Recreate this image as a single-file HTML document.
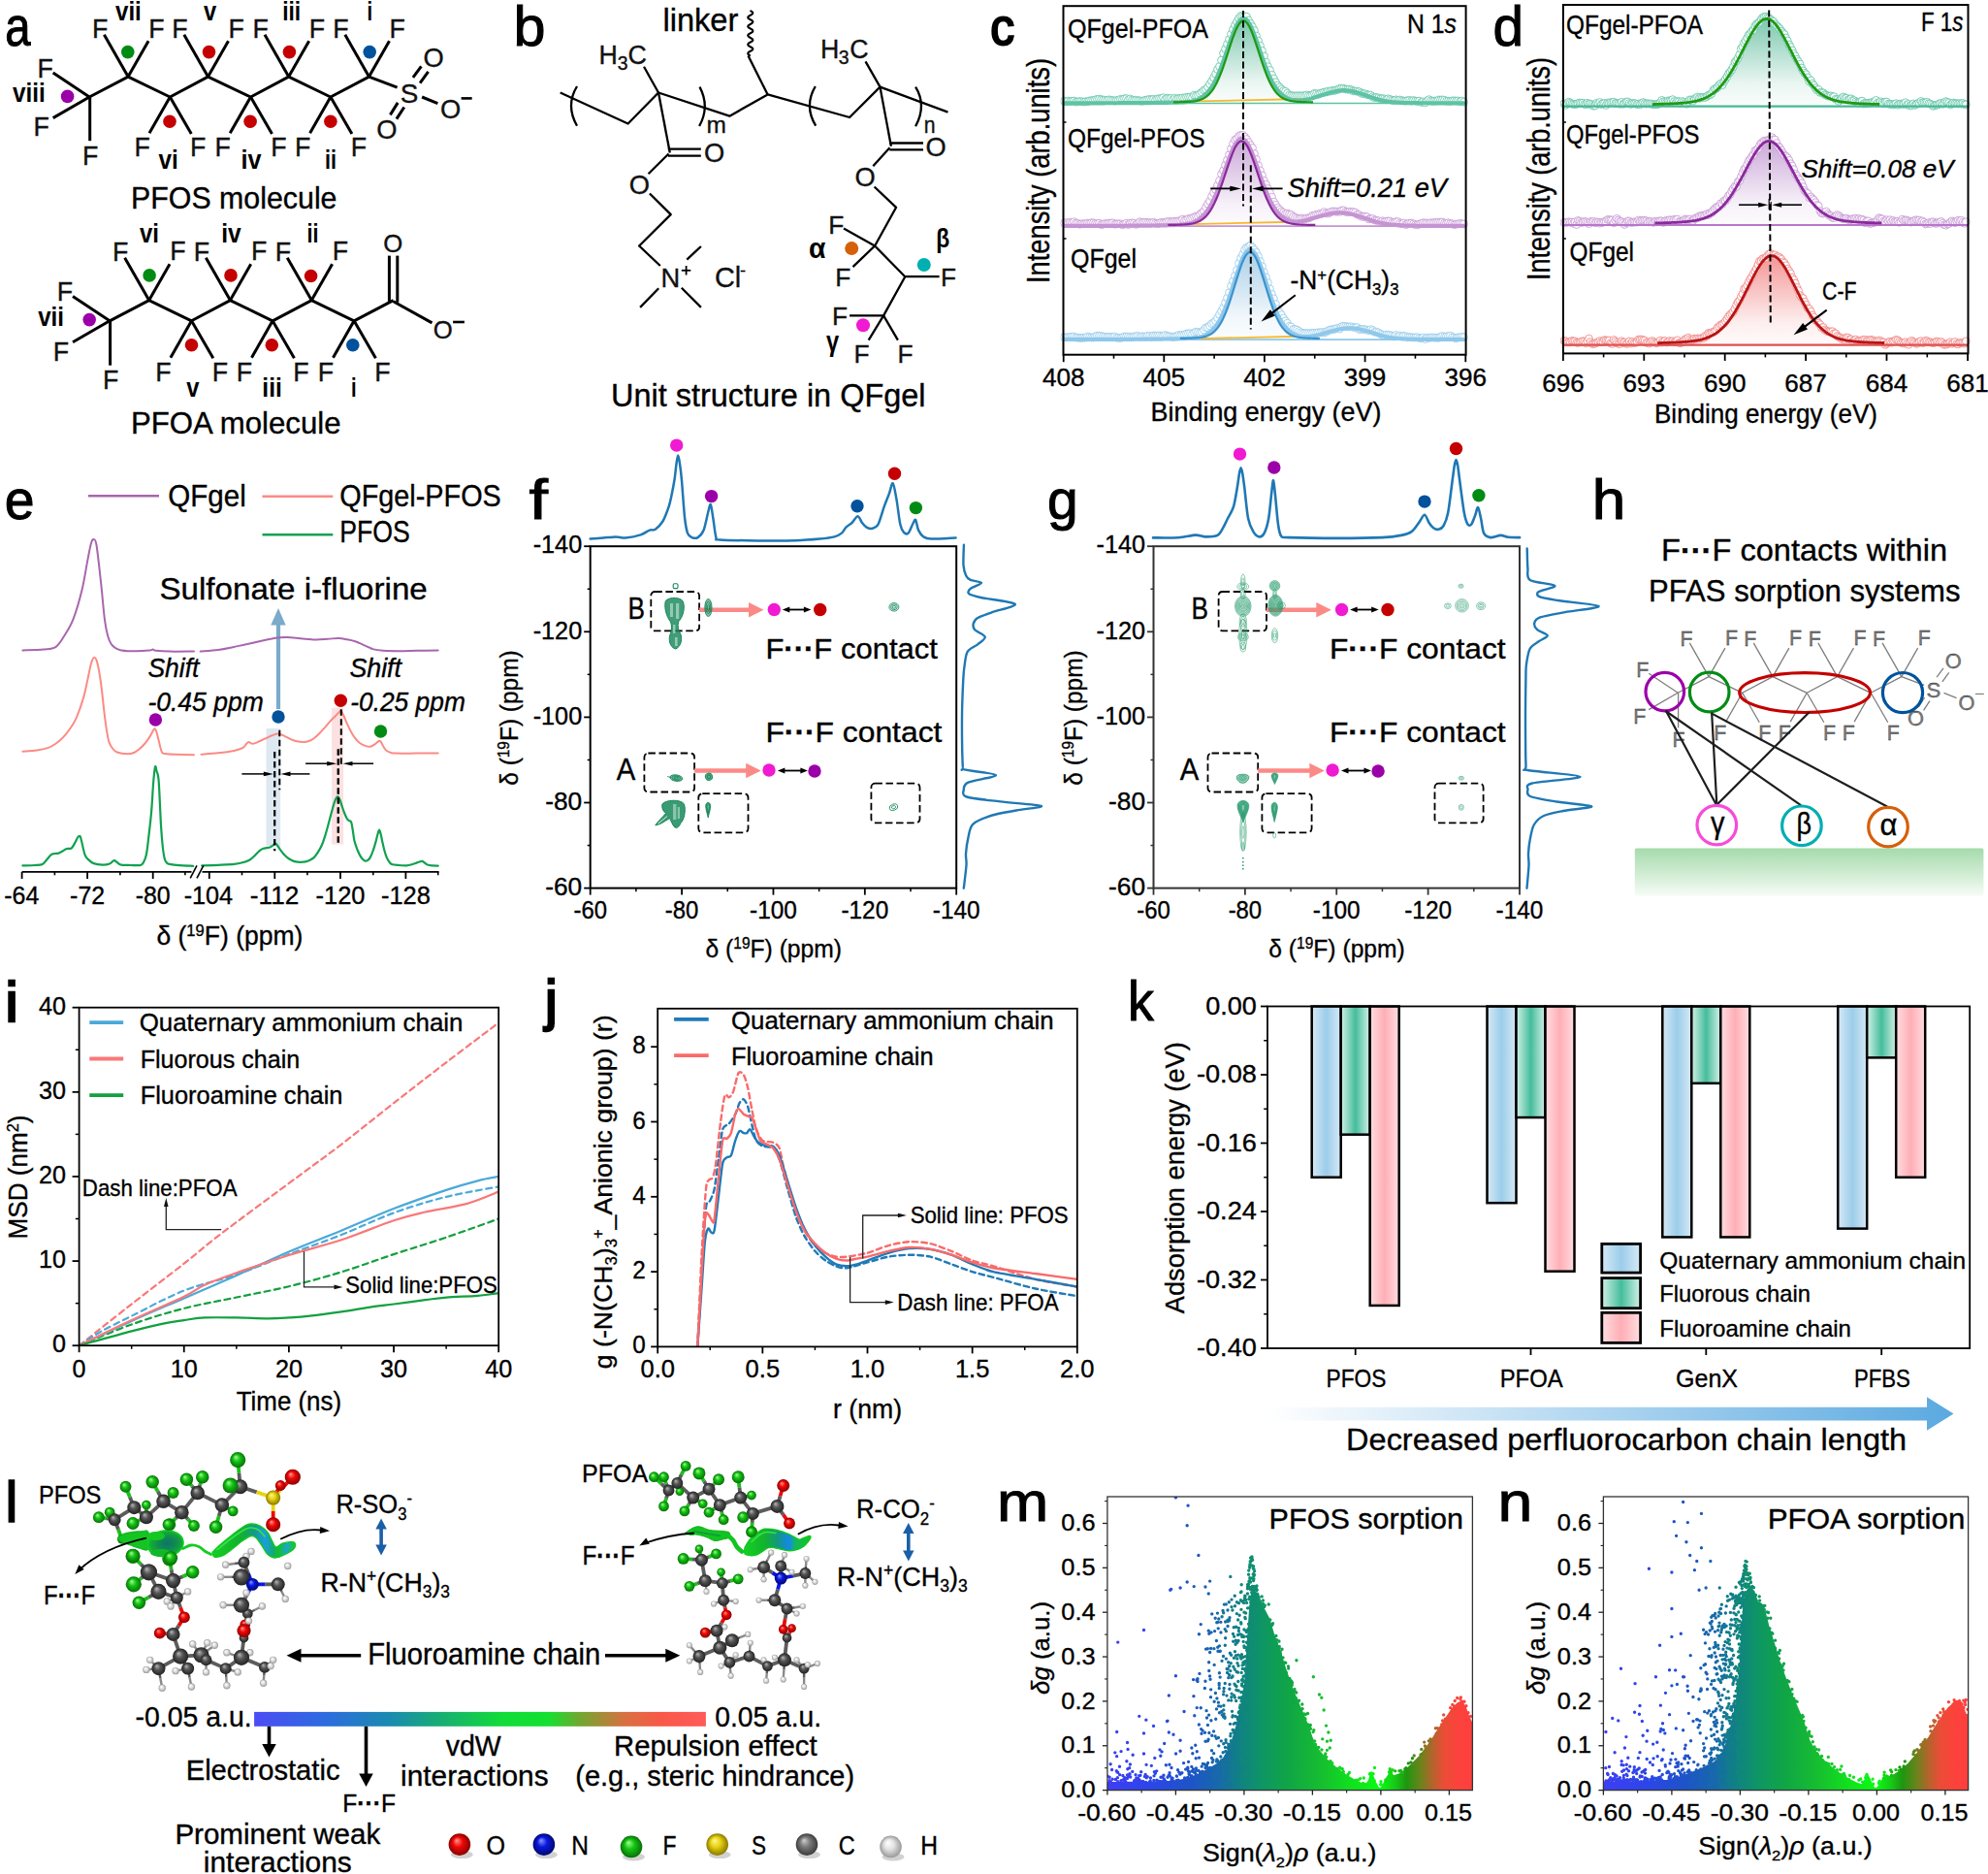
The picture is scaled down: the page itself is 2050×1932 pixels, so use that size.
<!DOCTYPE html>
<html lang="en"><head><meta charset="utf-8"><title>Figure</title>
<style>
html,body{margin:0;padding:0;background:#fff;}
body{width:2050px;height:1932px;overflow:hidden;}
svg{display:block;font-family:'Liberation Sans',sans-serif;}
</style></head><body>
<svg width="2050" height="1932" viewBox="0 0 2050 1932">
<defs>
<linearGradient id="cg0" x1="0" y1="0" x2="0" y2="1"><stop offset="0" stop-color="#4fb592" stop-opacity="0.75"/><stop offset="0.75" stop-color="#4fb592" stop-opacity="0.12"/><stop offset="1" stop-color="#4fb592" stop-opacity="0.03"/></linearGradient>
<marker id="cm0" markerWidth="10" markerHeight="10" refX="5" refY="5" markerUnits="userSpaceOnUse"><circle cx="5" cy="5" r="3.9" fill="#fff" fill-opacity="0.8" stroke="#5ec3a4" stroke-width="0.8"/></marker>
<linearGradient id="cg1" x1="0" y1="0" x2="0" y2="1"><stop offset="0" stop-color="#b98acb" stop-opacity="0.75"/><stop offset="0.75" stop-color="#b98acb" stop-opacity="0.12"/><stop offset="1" stop-color="#b98acb" stop-opacity="0.03"/></linearGradient>
<marker id="cm1" markerWidth="10" markerHeight="10" refX="5" refY="5" markerUnits="userSpaceOnUse"><circle cx="5" cy="5" r="3.9" fill="#fff" fill-opacity="0.8" stroke="#c594d3" stroke-width="0.8"/></marker>
<linearGradient id="cg2" x1="0" y1="0" x2="0" y2="1"><stop offset="0" stop-color="#8dbfe0" stop-opacity="0.75"/><stop offset="0.75" stop-color="#8dbfe0" stop-opacity="0.12"/><stop offset="1" stop-color="#8dbfe0" stop-opacity="0.03"/></linearGradient>
<marker id="cm2" markerWidth="10" markerHeight="10" refX="5" refY="5" markerUnits="userSpaceOnUse"><circle cx="5" cy="5" r="3.9" fill="#fff" fill-opacity="0.8" stroke="#8fc8ea" stroke-width="0.8"/></marker>
<linearGradient id="dg0" x1="0" y1="0" x2="0" y2="1"><stop offset="0" stop-color="#4fb592" stop-opacity="0.75"/><stop offset="0.75" stop-color="#4fb592" stop-opacity="0.12"/><stop offset="1" stop-color="#4fb592" stop-opacity="0.03"/></linearGradient>
<marker id="dm0" markerWidth="10" markerHeight="10" refX="5" refY="5" markerUnits="userSpaceOnUse"><circle cx="5" cy="5" r="3.9" fill="#fff" fill-opacity="0.8" stroke="#5ec3a4" stroke-width="0.8"/></marker>
<linearGradient id="dg1" x1="0" y1="0" x2="0" y2="1"><stop offset="0" stop-color="#b98acb" stop-opacity="0.75"/><stop offset="0.75" stop-color="#b98acb" stop-opacity="0.12"/><stop offset="1" stop-color="#b98acb" stop-opacity="0.03"/></linearGradient>
<marker id="dm1" markerWidth="10" markerHeight="10" refX="5" refY="5" markerUnits="userSpaceOnUse"><circle cx="5" cy="5" r="3.9" fill="#fff" fill-opacity="0.8" stroke="#c594d3" stroke-width="0.8"/></marker>
<linearGradient id="dg2" x1="0" y1="0" x2="0" y2="1"><stop offset="0" stop-color="#f07070" stop-opacity="0.75"/><stop offset="0.75" stop-color="#f07070" stop-opacity="0.12"/><stop offset="1" stop-color="#f07070" stop-opacity="0.03"/></linearGradient>
<marker id="dm2" markerWidth="10" markerHeight="10" refX="5" refY="5" markerUnits="userSpaceOnUse"><circle cx="5" cy="5" r="3.9" fill="#fff" fill-opacity="0.8" stroke="#f08080" stroke-width="0.8"/></marker>
<linearGradient id="hbar" x1="0" y1="0" x2="0" y2="1"><stop offset="0" stop-color="#a5dbab"/><stop offset="0.5" stop-color="#cdebd0"/><stop offset="1" stop-color="#f6fcf6"/></linearGradient>
<linearGradient id="kb" x1="0" y1="0" x2="1" y2="0"><stop offset="0" stop-color="#d6e9f6"/><stop offset="0.5" stop-color="#9ccdea"/><stop offset="1" stop-color="#d6e9f6"/></linearGradient>
<linearGradient id="kg" x1="0" y1="0" x2="1" y2="0"><stop offset="0" stop-color="#d3f0e6"/><stop offset="0.5" stop-color="#45bd9c"/><stop offset="1" stop-color="#d3f0e6"/></linearGradient>
<linearGradient id="kp" x1="0" y1="0" x2="1" y2="0"><stop offset="0" stop-color="#ffdde0"/><stop offset="0.5" stop-color="#ffaeb6"/><stop offset="1" stop-color="#ffdde0"/></linearGradient>
<linearGradient id="karrow" x1="0" y1="0" x2="1" y2="0"><stop offset="0" stop-color="#5aa9e0" stop-opacity="0"/><stop offset="0.35" stop-color="#5aa9e0" stop-opacity="0.35"/><stop offset="1" stop-color="#5aa9e0" stop-opacity="1"/></linearGradient>
<radialGradient id="atF" cx="0.5" cy="0.5" r="0.5" fx="0.36" fy="0.3"><stop offset="0" stop-color="#a8ff96"/><stop offset="0.45" stop-color="#14c414"/><stop offset="1" stop-color="#087008"/></radialGradient>
<radialGradient id="atC" cx="0.5" cy="0.5" r="0.5" fx="0.36" fy="0.3"><stop offset="0" stop-color="#b8b8b8"/><stop offset="0.45" stop-color="#555555"/><stop offset="1" stop-color="#222222"/></radialGradient>
<radialGradient id="atH" cx="0.5" cy="0.5" r="0.5" fx="0.36" fy="0.3"><stop offset="0" stop-color="#ffffff"/><stop offset="0.45" stop-color="#e4e4e4"/><stop offset="1" stop-color="#9a9a9a"/></radialGradient>
<radialGradient id="atO" cx="0.5" cy="0.5" r="0.5" fx="0.36" fy="0.3"><stop offset="0" stop-color="#ff9a8a"/><stop offset="0.45" stop-color="#f00808"/><stop offset="1" stop-color="#8a0000"/></radialGradient>
<radialGradient id="atS" cx="0.5" cy="0.5" r="0.5" fx="0.36" fy="0.3"><stop offset="0" stop-color="#fff6a0"/><stop offset="0.45" stop-color="#e8d410"/><stop offset="1" stop-color="#8a7800"/></radialGradient>
<radialGradient id="atN" cx="0.5" cy="0.5" r="0.5" fx="0.36" fy="0.3"><stop offset="0" stop-color="#8a9aff"/><stop offset="0.45" stop-color="#0a18e0"/><stop offset="1" stop-color="#000870"/></radialGradient>
<radialGradient id="atCl" cx="0.5" cy="0.5" r="0.5" fx="0.36" fy="0.3"><stop offset="0" stop-color="#d0d0d0"/><stop offset="0.45" stop-color="#7a7a7a"/><stop offset="1" stop-color="#3c3c3c"/></radialGradient>
<radialGradient id="isoA" cx="0.55" cy="0.5" r="0.6"><stop offset="0" stop-color="#0e7468"/><stop offset="0.4" stop-color="#108a52"/><stop offset="0.75" stop-color="#12ac32"/><stop offset="1" stop-color="#16d82a"/></radialGradient>
<linearGradient id="isoB" x1="0" y1="0" x2="1" y2="0"><stop offset="0" stop-color="#18e030"/><stop offset="0.45" stop-color="#12b838"/><stop offset="0.72" stop-color="#1aa8c8"/><stop offset="0.86" stop-color="#20b060"/><stop offset="1" stop-color="#18d830"/></linearGradient>
<linearGradient id="isoL" gradientUnits="userSpaceOnUse" x1="218" y1="0" x2="304" y2="0"><stop offset="0" stop-color="#14d022"/><stop offset="0.35" stop-color="#12b030"/><stop offset="0.52" stop-color="#149a8a"/><stop offset="0.64" stop-color="#1a9fe0"/><stop offset="0.74" stop-color="#14a878"/><stop offset="0.8" stop-color="#12c028"/><stop offset="0.9" stop-color="#1aa8c8"/><stop offset="1" stop-color="#14c832"/></linearGradient>
<linearGradient id="isoR" gradientUnits="userSpaceOnUse" x1="768" y1="0" x2="835" y2="0"><stop offset="0" stop-color="#14d022"/><stop offset="0.3" stop-color="#12b42c"/><stop offset="0.5" stop-color="#12987c"/><stop offset="0.68" stop-color="#1488e8"/><stop offset="0.78" stop-color="#14b860"/><stop offset="1" stop-color="#12c424"/></linearGradient>
<linearGradient id="cbar" x1="0" y1="0" x2="1" y2="0"><stop offset="0" stop-color="#4c4cf5"/><stop offset="0.15" stop-color="#2e6ae0"/><stop offset="0.3" stop-color="#1a8ab0"/><stop offset="0.42" stop-color="#18b070"/><stop offset="0.55" stop-color="#10dc38"/><stop offset="0.65" stop-color="#14e030"/><stop offset="0.72" stop-color="#70a830"/><stop offset="0.82" stop-color="#d87040"/><stop offset="0.9" stop-color="#f85848"/><stop offset="1" stop-color="#ff5a5a"/></linearGradient>
<linearGradient id="pmgr" gradientUnits="userSpaceOnUse" x1="1141.9" y1="0" x2="1522.6" y2="0"><stop offset="0" stop-color="#3e3ef5"/><stop offset="0.12" stop-color="#2c46e8"/><stop offset="0.22" stop-color="#1e54c8"/><stop offset="0.3" stop-color="#1868ac"/><stop offset="0.36" stop-color="#108282"/><stop offset="0.42" stop-color="#0e9664"/><stop offset="0.49" stop-color="#10a546"/><stop offset="0.58" stop-color="#16be30"/><stop offset="0.67" stop-color="#10e41c"/><stop offset="0.74" stop-color="#0afa14"/><stop offset="0.78" stop-color="#16c816"/><stop offset="0.81" stop-color="#1e9610"/><stop offset="0.85" stop-color="#6e821c"/><stop offset="0.88" stop-color="#b2642c"/><stop offset="0.91" stop-color="#e84e36"/><stop offset="0.95" stop-color="#fc423c"/><stop offset="1" stop-color="#ff3e3e"/></linearGradient>
<clipPath id="pmclip"><rect x="1141.9" y="1543" width="376.5" height="302.6"/></clipPath>
<linearGradient id="pngr" gradientUnits="userSpaceOnUse" x1="1653.4" y1="0" x2="2034.1" y2="0"><stop offset="0" stop-color="#3e3ef5"/><stop offset="0.12" stop-color="#2c46e8"/><stop offset="0.22" stop-color="#1e54c8"/><stop offset="0.3" stop-color="#1868ac"/><stop offset="0.36" stop-color="#108282"/><stop offset="0.42" stop-color="#0e9664"/><stop offset="0.49" stop-color="#10a546"/><stop offset="0.58" stop-color="#16be30"/><stop offset="0.67" stop-color="#10e41c"/><stop offset="0.74" stop-color="#0afa14"/><stop offset="0.78" stop-color="#16c816"/><stop offset="0.81" stop-color="#1e9610"/><stop offset="0.85" stop-color="#6e821c"/><stop offset="0.88" stop-color="#b2642c"/><stop offset="0.91" stop-color="#e84e36"/><stop offset="0.95" stop-color="#fc423c"/><stop offset="1" stop-color="#ff3e3e"/></linearGradient>
<clipPath id="pnclip"><rect x="1653.4" y="1543" width="376.2" height="302.6"/></clipPath>
</defs>
<rect width="2050" height="1932" fill="#fff"/>
<g>
<text x="5.2" y="47.3" font-size="57" textLength="26.3" lengthAdjust="spacingAndGlyphs" stroke="#000" stroke-width="1">a</text>
<path d="M92.2 100 L132.1 79.1 L175.3 100 L214.5 79.1 L258.5 100 L297.7 79.1 L340.9 100 L380.5 79.1" stroke="#000" stroke-width="3" fill="none" stroke-linejoin="round"/>
<line x1="92.2" y1="100" x2="54.7" y2="75" stroke="#000" stroke-width="3" />
<line x1="92.2" y1="100" x2="54.7" y2="121.6" stroke="#000" stroke-width="3" />
<line x1="92.7" y1="100" x2="92.7" y2="145.2" stroke="#000" stroke-width="3" />
<text x="46.7" y="79.73" font-size="26.78" text-anchor="middle" fill="#111" stroke="#111" stroke-width="0.35">F</text>
<text x="42.8" y="140.23" font-size="26.78" text-anchor="middle" fill="#111" stroke="#111" stroke-width="0.35">F</text>
<text x="93.2" y="169.63" font-size="26.78" text-anchor="middle" fill="#111" stroke="#111" stroke-width="0.35">F</text>
<line x1="132.1" y1="79.1" x2="107.4" y2="35.8" stroke="#000" stroke-width="3" />
<line x1="132.1" y1="79.1" x2="153.1" y2="42.3" stroke="#000" stroke-width="3" />
<text x="103.1" y="39.23" font-size="26.78" text-anchor="middle" fill="#111" stroke="#111" stroke-width="0.35">F</text>
<text x="161.4" y="38.53" font-size="26.78" text-anchor="middle" fill="#111" stroke="#111" stroke-width="0.35">F</text>
<line x1="214.5" y1="79.1" x2="189.8" y2="35.8" stroke="#000" stroke-width="3" />
<line x1="214.5" y1="79.1" x2="235.5" y2="42.3" stroke="#000" stroke-width="3" />
<text x="185.5" y="39.23" font-size="26.78" text-anchor="middle" fill="#111" stroke="#111" stroke-width="0.35">F</text>
<text x="243.8" y="38.53" font-size="26.78" text-anchor="middle" fill="#111" stroke="#111" stroke-width="0.35">F</text>
<line x1="297.7" y1="79.1" x2="273" y2="35.8" stroke="#000" stroke-width="3" />
<line x1="297.7" y1="79.1" x2="318.7" y2="42.3" stroke="#000" stroke-width="3" />
<text x="268.7" y="39.23" font-size="26.78" text-anchor="middle" fill="#111" stroke="#111" stroke-width="0.35">F</text>
<text x="327" y="38.53" font-size="26.78" text-anchor="middle" fill="#111" stroke="#111" stroke-width="0.35">F</text>
<line x1="380.5" y1="79.1" x2="355.8" y2="35.8" stroke="#000" stroke-width="3" />
<line x1="380.5" y1="79.1" x2="401.5" y2="42.3" stroke="#000" stroke-width="3" />
<text x="351.5" y="39.23" font-size="26.78" text-anchor="middle" fill="#111" stroke="#111" stroke-width="0.35">F</text>
<text x="409.8" y="38.53" font-size="26.78" text-anchor="middle" fill="#111" stroke="#111" stroke-width="0.35">F</text>
<line x1="175.3" y1="100" x2="154" y2="137.3" stroke="#000" stroke-width="3" />
<line x1="175.3" y1="100" x2="197.3" y2="138" stroke="#000" stroke-width="3" />
<text x="146.6" y="161.13" font-size="26.78" text-anchor="middle" fill="#111" stroke="#111" stroke-width="0.35">F</text>
<text x="204.3" y="161.13" font-size="26.78" text-anchor="middle" fill="#111" stroke="#111" stroke-width="0.35">F</text>
<line x1="258.5" y1="100" x2="237.2" y2="137.3" stroke="#000" stroke-width="3" />
<line x1="258.5" y1="100" x2="280.5" y2="138" stroke="#000" stroke-width="3" />
<text x="229.8" y="161.13" font-size="26.78" text-anchor="middle" fill="#111" stroke="#111" stroke-width="0.35">F</text>
<text x="287.5" y="161.13" font-size="26.78" text-anchor="middle" fill="#111" stroke="#111" stroke-width="0.35">F</text>
<line x1="340.9" y1="100" x2="319.6" y2="137.3" stroke="#000" stroke-width="3" />
<line x1="340.9" y1="100" x2="362.9" y2="138" stroke="#000" stroke-width="3" />
<text x="312.2" y="161.13" font-size="26.78" text-anchor="middle" fill="#111" stroke="#111" stroke-width="0.35">F</text>
<text x="369.9" y="161.13" font-size="26.78" text-anchor="middle" fill="#111" stroke="#111" stroke-width="0.35">F</text>
<line x1="380.5" y1="79.1" x2="409.6" y2="90.2" stroke="#000" stroke-width="3" />
<text x="422" y="105.99" font-size="27.83" text-anchor="middle" fill="#111" stroke="#111" stroke-width="0.35">S</text>
<line x1="425.9" y1="79.8" x2="434.4" y2="68.3" stroke="#000" stroke-width="3" />
<line x1="433.1" y1="85.7" x2="441.6" y2="73.9" stroke="#000" stroke-width="3" />
<text x="447.2" y="68.81" font-size="27.3" text-anchor="middle" fill="#111" stroke="#111" stroke-width="0.35">O</text>
<line x1="410.2" y1="105.9" x2="402.4" y2="118.4" stroke="#000" stroke-width="3" />
<line x1="416.8" y1="110.5" x2="408.9" y2="122.6" stroke="#000" stroke-width="3" />
<text x="398.8" y="142.51" font-size="27.3" text-anchor="middle" fill="#111" stroke="#111" stroke-width="0.35">O</text>
<line x1="435.1" y1="100" x2="451.4" y2="106.6" stroke="#000" stroke-width="3" />
<text x="464.5" y="122.11" font-size="27.3" text-anchor="middle" fill="#111" stroke="#111" stroke-width="0.35">O</text>
<line x1="475.6" y1="101.4" x2="486.7" y2="101.4" stroke="#000" stroke-width="2.61" />
<circle cx="69.6" cy="99.4" r="6.8" fill="#9b00a8"/>
<circle cx="131.8" cy="53.6" r="6.8" fill="#008c14"/>
<circle cx="215.5" cy="53.6" r="6.8" fill="#c40000"/>
<circle cx="298.4" cy="53.6" r="6.8" fill="#c40000"/>
<circle cx="381.2" cy="53.6" r="6.8" fill="#00529c"/>
<circle cx="175" cy="125.3" r="6.8" fill="#c40000"/>
<circle cx="258.1" cy="125.3" r="6.8" fill="#c40000"/>
<circle cx="340.9" cy="125.3" r="6.8" fill="#c40000"/>
<text x="13" y="105.3" font-size="27.3" textLength="33.8" lengthAdjust="spacingAndGlyphs" font-weight="bold">viii</text>
<text x="119" y="20.7" font-size="27.3" textLength="26.8" lengthAdjust="spacingAndGlyphs" font-weight="bold">vii</text>
<text x="210" y="20.7" font-size="27.3" textLength="13.2" lengthAdjust="spacingAndGlyphs" font-weight="bold">v</text>
<text x="291.2" y="20.7" font-size="27.3" textLength="19" lengthAdjust="spacingAndGlyphs" font-weight="bold">iii</text>
<text x="378.6" y="20.7" font-size="27.3" textLength="5.6" lengthAdjust="spacingAndGlyphs" font-weight="bold">i</text>
<text x="163.5" y="174" font-size="27.3" textLength="20.3" lengthAdjust="spacingAndGlyphs" font-weight="bold">vi</text>
<text x="248.6" y="174" font-size="27.3" textLength="21" lengthAdjust="spacingAndGlyphs" font-weight="bold">iv</text>
<text x="335" y="174" font-size="27.3" textLength="12" lengthAdjust="spacingAndGlyphs" font-weight="bold">ii</text>
<text x="135" y="214.5" font-size="31.71" textLength="212.5" lengthAdjust="spacingAndGlyphs" stroke="#000" stroke-width="0.35">PFOS molecule</text>
<path d="M113.1 330.8 L153.7 309.6 L197.5 330.8 L237.4 309.6 L281.1 330.8 L321.3 309.6 L365.1 330.8 L405.6 309.6" stroke="#000" stroke-width="3" fill="none" stroke-linejoin="round"/>
<line x1="113.1" y1="330.8" x2="75.04" y2="305.43" stroke="#000" stroke-width="3" />
<line x1="113.1" y1="330.8" x2="75.04" y2="352.72" stroke="#000" stroke-width="3" />
<line x1="113.6" y1="330.8" x2="113.6" y2="376.68" stroke="#000" stroke-width="3" />
<text x="66.92" y="310.09" font-size="26.78" text-anchor="middle" fill="#111" stroke="#111" stroke-width="0.35">F</text>
<text x="62.96" y="371.5" font-size="26.78" text-anchor="middle" fill="#111" stroke="#111" stroke-width="0.35">F</text>
<text x="114.11" y="401.34" font-size="26.78" text-anchor="middle" fill="#111" stroke="#111" stroke-width="0.35">F</text>
<line x1="153.7" y1="309.6" x2="128.63" y2="265.65" stroke="#000" stroke-width="3" />
<line x1="153.7" y1="309.6" x2="175.01" y2="272.25" stroke="#000" stroke-width="3" />
<text x="124.26" y="268.99" font-size="26.78" text-anchor="middle" fill="#111" stroke="#111" stroke-width="0.35">F</text>
<text x="183.44" y="268.28" font-size="26.78" text-anchor="middle" fill="#111" stroke="#111" stroke-width="0.35">F</text>
<line x1="237.4" y1="309.6" x2="212.33" y2="265.65" stroke="#000" stroke-width="3" />
<line x1="237.4" y1="309.6" x2="258.72" y2="272.25" stroke="#000" stroke-width="3" />
<text x="207.97" y="268.99" font-size="26.78" text-anchor="middle" fill="#111" stroke="#111" stroke-width="0.35">F</text>
<text x="267.14" y="268.28" font-size="26.78" text-anchor="middle" fill="#111" stroke="#111" stroke-width="0.35">F</text>
<line x1="321.3" y1="309.6" x2="296.23" y2="265.65" stroke="#000" stroke-width="3" />
<line x1="321.3" y1="309.6" x2="342.62" y2="272.25" stroke="#000" stroke-width="3" />
<text x="291.87" y="268.99" font-size="26.78" text-anchor="middle" fill="#111" stroke="#111" stroke-width="0.35">F</text>
<text x="351.04" y="268.28" font-size="26.78" text-anchor="middle" fill="#111" stroke="#111" stroke-width="0.35">F</text>
<line x1="197.5" y1="330.8" x2="175.88" y2="368.66" stroke="#000" stroke-width="3" />
<line x1="197.5" y1="330.8" x2="219.83" y2="369.37" stroke="#000" stroke-width="3" />
<text x="168.37" y="392.71" font-size="26.78" text-anchor="middle" fill="#111" stroke="#111" stroke-width="0.35">F</text>
<text x="226.94" y="392.71" font-size="26.78" text-anchor="middle" fill="#111" stroke="#111" stroke-width="0.35">F</text>
<line x1="281.1" y1="330.8" x2="259.48" y2="368.66" stroke="#000" stroke-width="3" />
<line x1="281.1" y1="330.8" x2="303.43" y2="369.37" stroke="#000" stroke-width="3" />
<text x="251.97" y="392.71" font-size="26.78" text-anchor="middle" fill="#111" stroke="#111" stroke-width="0.35">F</text>
<text x="310.54" y="392.71" font-size="26.78" text-anchor="middle" fill="#111" stroke="#111" stroke-width="0.35">F</text>
<line x1="365.1" y1="330.8" x2="343.48" y2="368.66" stroke="#000" stroke-width="3" />
<line x1="365.1" y1="330.8" x2="387.43" y2="369.37" stroke="#000" stroke-width="3" />
<text x="335.97" y="392.71" font-size="26.78" text-anchor="middle" fill="#111" stroke="#111" stroke-width="0.35">F</text>
<text x="394.54" y="392.71" font-size="26.78" text-anchor="middle" fill="#111" stroke="#111" stroke-width="0.35">F</text>
<line x1="401.4" y1="311.7" x2="401.4" y2="263.6" stroke="#000" stroke-width="3" />
<line x1="409.8" y1="311.7" x2="409.8" y2="263.6" stroke="#000" stroke-width="3" />
<text x="405.3" y="260.07" font-size="25.73" text-anchor="middle" fill="#111" stroke="#111" stroke-width="0.35">O</text>
<line x1="405.6" y1="310.7" x2="445.5" y2="332.9" stroke="#000" stroke-width="3" />
<text x="456.7" y="348.97" font-size="25.73" text-anchor="middle" fill="#111" stroke="#111" stroke-width="0.35">O</text>
<line x1="467.1" y1="332" x2="478.9" y2="332" stroke="#000" stroke-width="2.6" />
<circle cx="92.2" cy="329.6" r="6.8" fill="#9b00a8"/>
<circle cx="154.1" cy="283.9" r="6.8" fill="#008c14"/>
<circle cx="238" cy="283.9" r="6.8" fill="#c40000"/>
<circle cx="320.6" cy="284.5" r="6.8" fill="#c40000"/>
<circle cx="197.5" cy="355.8" r="6.8" fill="#c40000"/>
<circle cx="280.3" cy="355.8" r="6.8" fill="#c40000"/>
<circle cx="363.8" cy="355.8" r="6.8" fill="#00529c"/>
<text x="39.2" y="336.2" font-size="27.3" textLength="26.8" lengthAdjust="spacingAndGlyphs" font-weight="bold">vii</text>
<text x="143.9" y="249.8" font-size="27.3" textLength="20" lengthAdjust="spacingAndGlyphs" font-weight="bold">vi</text>
<text x="228.2" y="249.8" font-size="27.3" textLength="20.5" lengthAdjust="spacingAndGlyphs" font-weight="bold">iv</text>
<text x="316.5" y="249.8" font-size="27.3" textLength="12" lengthAdjust="spacingAndGlyphs" font-weight="bold">ii</text>
<text x="192.3" y="409.4" font-size="27.3" textLength="13.2" lengthAdjust="spacingAndGlyphs" font-weight="bold">v</text>
<text x="270.3" y="409.4" font-size="27.3" textLength="20.5" lengthAdjust="spacingAndGlyphs" font-weight="bold">iii</text>
<text x="361.9" y="409.4" font-size="27.3" textLength="5.6" lengthAdjust="spacingAndGlyphs" font-weight="bold">i</text>
<text x="135" y="447.3" font-size="31.71" textLength="216.5" lengthAdjust="spacingAndGlyphs" stroke="#000" stroke-width="0.35">PFOA molecule</text>
</g>
<g>
<text x="529.6" y="47.3" font-size="57" textLength="33" lengthAdjust="spacingAndGlyphs" stroke="#000" stroke-width="1">b</text>
<text x="683.4" y="32" font-size="33.6" textLength="78" lengthAdjust="spacingAndGlyphs" stroke="#000" stroke-width="0.35">linker</text>
<path d="M773.5 11 Q779 13.32 773.8 15.65 Q768.6 17.98 773.8 20.3 Q779 22.62 773.8 24.95 Q768.6 27.28 773.8 29.6 Q779 31.93 773.8 34.25 Q768.6 36.58 773.8 38.9 Q779 41.23 773.8 43.55 Q768.6 45.88 773.8 48.2 Q779 50.53 773.8 52.85 Q768.6 55.18 773.8 57.5" stroke="#000" stroke-width="2.2" fill="none" />
<line x1="771.5" y1="57.5" x2="791.6" y2="97.4" stroke="#000" stroke-width="2.3" />
<path d="M577.7 95.5 L647.6 127.5 L679 95.5 L752.3 119.7 L791.6 97.4 L876.1 121 L907.5 89.6 L977.5 115.7" stroke="#000" stroke-width="2.3" fill="none" stroke-linejoin="round"/>
<path d="M595 89 Q583 108.6 595 129.7" stroke="#000" stroke-width="2.3" fill="none" />
<path d="M721.5 89.6 Q732.3 109.9 721.1 130" stroke="#000" stroke-width="2.3" fill="none" />
<path d="M840.8 89 Q828.8 109.2 841.2 129.7" stroke="#000" stroke-width="2.3" fill="none" />
<path d="M944.1 89.6 Q955.9 108.6 944.1 130.2" stroke="#000" stroke-width="2.3" fill="none" />
<text x="728.4" y="137.3" font-size="23.84" textLength="20.4" lengthAdjust="spacingAndGlyphs" fill="#111" stroke="#111" stroke-width="0.35">m</text>
<text x="952.7" y="137.3" font-size="23.84" textLength="11.8" lengthAdjust="spacingAndGlyphs" fill="#111" stroke="#111" stroke-width="0.35">n</text>
<line x1="679" y1="95.5" x2="664" y2="68.7" stroke="#000" stroke-width="2.3" />
<text x="617.5" y="66" font-size="26.78" fill="#111" stroke="#111" stroke-width="0.35">H</text>
<text x="636.7" y="71.6" font-size="19.43" fill="#111" stroke="#111" stroke-width="0.35">3</text>
<text x="647.6" y="66" font-size="26.78" fill="#111" stroke="#111" stroke-width="0.35">C</text>
<line x1="907.5" y1="89.6" x2="892.5" y2="63.4" stroke="#000" stroke-width="2.3" />
<text x="846" y="60.2" font-size="26.78" fill="#111" stroke="#111" stroke-width="0.35">H</text>
<text x="864.7" y="65.8" font-size="19.43" fill="#111" stroke="#111" stroke-width="0.35">3</text>
<text x="876.2" y="60.2" font-size="26.78" fill="#111" stroke="#111" stroke-width="0.35">C</text>
<line x1="679" y1="95.5" x2="690.8" y2="157.5" stroke="#000" stroke-width="2.3" />
<line x1="688.8" y1="153.7" x2="722.8" y2="153.7" stroke="#000" stroke-width="2.3" />
<line x1="688.8" y1="160.6" x2="722.8" y2="160.6" stroke="#000" stroke-width="2.3" />
<text x="736.6" y="166.91" font-size="27.3" text-anchor="middle" fill="#111" stroke="#111" stroke-width="0.35">O</text>
<line x1="689.5" y1="158.5" x2="668.6" y2="179.2" stroke="#000" stroke-width="2.3" />
<text x="659.4" y="199.61" font-size="27.3" text-anchor="middle" fill="#111" stroke="#111" stroke-width="0.35">O</text>
<path d="M669.9 199.5 L691.7 221.1 L659.1 253.5 L680.8 274" stroke="#000" stroke-width="2.3" fill="none" stroke-linejoin="round"/>
<text x="691.3" y="295.81" font-size="27.3" text-anchor="middle" fill="#111" stroke="#111" stroke-width="0.35">N</text>
<line x1="702.8" y1="278.8" x2="712.3" y2="278.8" stroke="#000" stroke-width="1.8" />
<line x1="707.6" y1="274" x2="707.6" y2="283.5" stroke="#000" stroke-width="1.8" />
<line x1="708.3" y1="267.7" x2="722.9" y2="254" stroke="#000" stroke-width="2.3" />
<line x1="679.2" y1="297.3" x2="660.1" y2="316.9" stroke="#000" stroke-width="2.3" />
<line x1="702.8" y1="296.8" x2="722.9" y2="316.9" stroke="#000" stroke-width="2.3" />
<text x="737" y="296" font-size="28.88" fill="#111" stroke="#111" stroke-width="0.35">Cl</text>
<line x1="763.7" y1="279.5" x2="768.5" y2="279.5" stroke="#000" stroke-width="1.6" />
<line x1="907.5" y1="89.6" x2="918.9" y2="150.8" stroke="#000" stroke-width="2.3" />
<line x1="917.3" y1="147.5" x2="952" y2="147.5" stroke="#000" stroke-width="2.3" />
<line x1="917.3" y1="154.3" x2="952" y2="154.3" stroke="#000" stroke-width="2.3" />
<text x="965" y="161.01" font-size="27.3" text-anchor="middle" fill="#111" stroke="#111" stroke-width="0.35">O</text>
<line x1="917.5" y1="152.3" x2="900.3" y2="171.3" stroke="#000" stroke-width="2.3" />
<text x="892.2" y="192.41" font-size="27.3" text-anchor="middle" fill="#111" stroke="#111" stroke-width="0.35">O</text>
<path d="M901.6 192.5 L924.1 213.8 L902.1 253.5 L933.3 285.2 L911.1 325.4" stroke="#000" stroke-width="2.3" fill="none" stroke-linejoin="round"/>
<line x1="902.1" y1="253.5" x2="870" y2="235.4" stroke="#000" stroke-width="2.3" />
<line x1="902.1" y1="253.5" x2="879.5" y2="275.1" stroke="#000" stroke-width="2.3" />
<text x="862.2" y="241.25" font-size="26.25" text-anchor="middle" fill="#111" stroke="#111" stroke-width="0.35">F</text>
<text x="869.3" y="295.45" font-size="26.25" text-anchor="middle" fill="#111" stroke="#111" stroke-width="0.35">F</text>
<line x1="933.3" y1="285.2" x2="968.6" y2="285.2" stroke="#000" stroke-width="2.3" />
<text x="978.1" y="295.45" font-size="26.25" text-anchor="middle" fill="#111" stroke="#111" stroke-width="0.35">F</text>
<line x1="911.1" y1="325.4" x2="876.1" y2="325.4" stroke="#000" stroke-width="2.3" />
<line x1="911.1" y1="325.4" x2="895.7" y2="350.7" stroke="#000" stroke-width="2.3" />
<line x1="911.1" y1="325.4" x2="925.9" y2="350.7" stroke="#000" stroke-width="2.3" />
<text x="866" y="335.05" font-size="26.25" text-anchor="middle" fill="#111" stroke="#111" stroke-width="0.35">F</text>
<text x="888.5" y="373.65" font-size="26.25" text-anchor="middle" fill="#111" stroke="#111" stroke-width="0.35">F</text>
<text x="933.5" y="373.65" font-size="26.25" text-anchor="middle" fill="#111" stroke="#111" stroke-width="0.35">F</text>
<circle cx="878.2" cy="256.1" r="7" fill="#d65f0a"/>
<circle cx="952.8" cy="273" r="7" fill="#00b0b0"/>
<circle cx="890" cy="335.3" r="7" fill="#f01ad2"/>
<text x="834" y="265.6" font-size="29.4" textLength="17.5" lengthAdjust="spacingAndGlyphs" font-weight="bold">α</text>
<text x="965.3" y="255" font-size="27.3" textLength="14" lengthAdjust="spacingAndGlyphs" font-weight="bold">β</text>
<text x="852" y="361.5" font-size="29.4" textLength="13.2" lengthAdjust="spacingAndGlyphs" font-weight="bold">γ</text>
<text x="630" y="418.7" font-size="32.55" textLength="324.5" lengthAdjust="spacingAndGlyphs" stroke="#000" stroke-width="0.35">Unit structure in QFgel</text>
</g>
<g>
<clipPath id="pcclip"><rect x="1093.5" y="6.2" width="421.1" height="359.5"/></clipPath>
<g clip-path="url(#pcclip)">
<path d="M1198.6 106.5 L1198.6 104.08 L1200.6 104.06 L1202.6 104.04 L1204.6 104.02 L1206.6 104 L1208.6 103.97 L1210.6 103.94 L1212.6 103.91 L1214.6 103.87 L1216.6 103.83 L1218.6 103.77 L1220.6 103.71 L1222.6 103.64 L1224.6 103.54 L1226.6 103.41 L1228.6 103.25 L1230.6 103.03 L1232.6 102.74 L1234.6 102.35 L1236.6 101.84 L1238.6 101.17 L1240.6 100.29 L1242.6 99.17 L1244.6 97.74 L1246.6 95.94 L1248.6 93.74 L1250.6 91.06 L1252.6 87.87 L1254.6 84.14 L1256.6 79.86 L1258.6 75.04 L1260.6 69.72 L1262.6 63.99 L1264.6 57.94 L1266.6 51.73 L1268.6 45.53 L1270.6 39.53 L1272.6 33.97 L1274.6 29.06 L1276.6 25.03 L1278.6 22.06 L1280.6 20.33 L1282.6 19.93 L1284.6 20.87 L1286.6 23.11 L1288.6 26.52 L1290.6 30.93 L1292.6 36.13 L1294.6 41.89 L1296.6 47.99 L1298.6 54.22 L1300.6 60.39 L1302.6 66.33 L1304.6 71.91 L1306.6 77.03 L1308.6 81.64 L1310.6 85.7 L1312.6 89.21 L1314.6 92.19 L1316.6 94.67 L1318.6 96.71 L1320.6 98.35 L1322.6 99.65 L1324.6 100.67 L1326.6 101.46 L1328.6 102.07 L1330.6 102.52 L1332.6 102.87 L1334.6 103.13 L1336.6 103.32 L1338.6 103.47 L1340.6 103.58 L1342.6 103.67 L1344.6 103.74 L1346.6 103.8 L1348.6 103.84 L1350.6 103.88 L1352.6 103.92 L1354.6 103.95 L1356.6 103.98 L1358.6 104.01 L1360.6 104.03 L1362.6 104.05 L1364.6 104.07 L1365.8 106.5Z" fill="url(#cg0)"/>
<polyline points="1097.5,104.19 1099.5,104.91 1101.5,104.03 1103.5,104.65 1105.5,104.27 1107.5,104.03 1109.5,105.18 1111.5,104.83 1113.5,104.49 1115.5,104.74 1117.5,105.13 1119.5,104.66 1121.5,104.75 1123.5,103.86 1125.5,103.68 1127.5,103.53 1129.5,102.9 1131.5,102.4 1133.5,102.03 1135.5,102.63 1137.5,103.03 1139.5,103.17 1141.5,103.48 1143.5,102.82 1145.5,103.17 1147.5,103.56 1149.5,104.09 1151.5,103.44 1153.5,103.31 1155.5,102.26 1157.5,102.52 1159.5,101.65 1161.5,101.59 1163.5,103.05 1165.5,101.93 1167.5,103.05 1169.5,103.42 1171.5,103.24 1173.5,103.59 1175.5,103.82 1177.5,104.25 1179.5,103.73 1181.5,103.18 1183.5,102.82 1185.5,102.35 1187.5,102.62 1189.5,102.31 1191.5,103.21 1193.5,101.96 1195.5,101.64 1197.5,101.51 1199.5,100.71 1201.5,102.59 1203.5,101.1 1205.5,101.43 1207.5,101.44 1209.5,102.7 1211.5,101.21 1213.5,102.09 1215.5,101.46 1217.5,101.33 1219.5,100.85 1221.5,101.22 1223.5,100.23 1225.5,100.09 1227.5,100.06 1229.5,100.66 1231.5,98.16 1233.5,98.63 1235.5,98.1 1237.5,96.36 1239.5,95.12 1241.5,93.11 1243.5,92.24 1245.5,89.76 1247.5,86.78 1249.5,83.56 1251.5,80.05 1253.5,76.21 1255.5,71.57 1257.5,68.49 1259.5,62.08 1261.5,54.97 1263.5,50.49 1265.5,45.51 1267.5,40.61 1269.5,35.26 1271.5,30.21 1273.5,25.91 1275.5,22.52 1277.5,18.89 1279.5,16.51 1281.5,16.74 1283.5,16.81 1285.5,17.18 1287.5,21.02 1289.5,24.32 1291.5,27.63 1293.5,31.53 1295.5,37.09 1297.5,42.08 1299.5,47.21 1301.5,52.33 1303.5,57.92 1305.5,64.15 1307.5,68.7 1309.5,72.37 1311.5,77.24 1313.5,81 1315.5,84.78 1317.5,88.15 1319.5,90.09 1321.5,91.9 1323.5,93.55 1325.5,94.3 1327.5,96.16 1329.5,97.95 1331.5,98.5 1333.5,98.72 1335.5,98.93 1337.5,98.79 1339.5,98.71 1341.5,98.89 1343.5,98.68 1345.5,98.73 1347.5,97.97 1349.5,98.54 1351.5,98.55 1353.5,97.67 1355.5,96.26 1357.5,96.59 1359.5,97.23 1361.5,96.28 1363.5,95.63 1365.5,94.95 1367.5,95.04 1369.5,93.94 1371.5,94.22 1373.5,93.43 1375.5,93.54 1377.5,92.95 1379.5,92.35 1381.5,91.21 1383.5,91 1385.5,91.17 1387.5,91.92 1389.5,92.25 1391.5,92.05 1393.5,92.79 1395.5,93.81 1397.5,93.99 1399.5,94.18 1401.5,94.6 1403.5,95.85 1405.5,96.71 1407.5,96.61 1409.5,97.6 1411.5,97.93 1413.5,98.2 1415.5,99.78 1417.5,100.67 1419.5,100.46 1421.5,100.98 1423.5,101.69 1425.5,101.56 1427.5,101.9 1429.5,102.67 1431.5,101.74 1433.5,102.52 1435.5,103.3 1437.5,103.67 1439.5,102.83 1441.5,103.35 1443.5,102.98 1445.5,103.65 1447.5,104.08 1449.5,104.13 1451.5,103.58 1453.5,103.37 1455.5,104.12 1457.5,103.52 1459.5,104.01 1461.5,104.32 1463.5,104.04 1465.5,105.48 1467.5,104.95 1469.5,105.89 1471.5,103.95 1473.5,102.66 1475.5,103.83 1477.5,104.32 1479.5,104.05 1481.5,104.05 1483.5,102.94 1485.5,103.05 1487.5,102.87 1489.5,103.25 1491.5,104.15 1493.5,104.19 1495.5,104.41 1497.5,103.9 1499.5,103.76 1501.5,104 1503.5,103.92 1505.5,104.79 1507.5,104.04 1509.5,105.25" fill="none" stroke="none" marker-start="url(#cm0)" marker-mid="url(#cm0)" marker-end="url(#cm0)"/>
<line x1="1096.5" y1="106.5" x2="1511.6" y2="106.5" stroke="#5ec3a4" stroke-width="1.6" />
<line x1="1195" y1="105.2" x2="1345" y2="102" stroke="#f6b830" stroke-width="1.8" />
<path d="M1096.5 106.37 L1098.5 106.36 L1100.5 106.36 L1102.5 106.36 L1104.5 106.35 L1106.5 106.35 L1108.5 106.35 L1110.5 106.34 L1112.5 106.34 L1114.5 106.34 L1116.5 106.33 L1118.5 106.33 L1120.5 106.32 L1122.5 106.32 L1124.5 106.32 L1126.5 106.31 L1128.5 106.31 L1130.5 106.3 L1132.5 106.3 L1134.5 106.29 L1136.5 106.29 L1138.5 106.28 L1140.5 106.27 L1142.5 106.27 L1144.5 106.26 L1146.5 106.25 L1148.5 106.25 L1150.5 106.24 L1152.5 106.23 L1154.5 106.22 L1156.5 106.22 L1158.5 106.21 L1160.5 106.2 L1162.5 106.19 L1164.5 106.18 L1166.5 106.17 L1168.5 106.16 L1170.5 106.15 L1172.5 106.13 L1174.5 106.12 L1176.5 106.11 L1178.5 106.09 L1180.5 106.08 L1182.5 106.06 L1184.5 106.04 L1186.5 106.03 L1188.5 106.01 L1190.5 105.99 L1192.5 105.96 L1194.5 105.94 L1196.5 105.92 L1198.5 105.89 L1200.5 105.86 L1202.5 105.83 L1204.5 105.8 L1206.5 105.76 L1208.5 105.72 L1210.5 105.68 L1212.5 105.63 L1214.5 105.57 L1216.5 105.49 L1218.5 105.41 L1220.5 105.3 L1222.5 105.16 L1224.5 104.99 L1226.5 104.76 L1228.5 104.46 L1230.5 104.07 L1232.5 103.56 L1234.5 102.9 L1236.5 102.05 L1238.5 100.95 L1240.5 99.57 L1242.5 97.84 L1244.5 95.88 L1246.5 93.71 L1248.5 91.13 L1250.5 88.09 L1252.5 84.56 L1254.5 80.55 L1256.5 76.05 L1258.5 71.1 L1260.5 65.75 L1262.5 60.09 L1264.5 54.23 L1266.5 48.31 L1268.5 42.46 L1270.5 36.89 L1272.5 31.75 L1274.5 27.26 L1276.5 23.58 L1278.5 20.88 L1280.5 19.27 L1282.5 18.85 L1284.5 19.63 L1286.5 21.57 L1288.5 24.57 L1290.5 28.51 L1292.5 33.21 L1294.5 38.49 L1296.5 44.16 L1298.5 50.04 L1300.5 55.96 L1302.5 61.76 L1304.5 67.33 L1306.5 72.56 L1308.5 77.37 L1310.5 81.71 L1312.5 85.56 L1314.5 88.93 L1316.5 91.81 L1318.5 94.24 L1320.5 96.25 L1322.5 98.1 L1324.5 99.66 L1326.5 100.88 L1328.5 101.81 L1330.5 102.49 L1332.5 102.97 L1334.5 103.28 L1336.5 103.45 L1338.5 103.5 L1340.5 103.44 L1342.5 103.29 L1344.5 103.07 L1346.5 102.76 L1348.5 102.38 L1350.5 101.94 L1352.5 101.43 L1354.5 100.86 L1356.5 100.23 L1358.5 99.56 L1360.5 98.86 L1362.5 98.26 L1364.5 97.64 L1366.5 97.02 L1368.5 96.41 L1370.5 95.81 L1372.5 95.24 L1374.5 94.71 L1376.5 94.25 L1378.5 93.85 L1380.5 93.54 L1382.5 93.32 L1384.5 93.2 L1386.5 93.19 L1388.5 93.28 L1390.5 93.47 L1392.5 93.76 L1394.5 94.14 L1396.5 94.6 L1398.5 95.12 L1400.5 95.7 L1402.5 96.31 L1404.5 96.94 L1406.5 97.59 L1408.5 98.24 L1410.5 98.88 L1412.5 99.64 L1414.5 100.38 L1416.5 101.08 L1418.5 101.73 L1420.5 102.33 L1422.5 102.87 L1424.5 103.36 L1426.5 103.8 L1428.5 104.19 L1430.5 104.52 L1432.5 104.81 L1434.5 105.06 L1436.5 105.27 L1438.5 105.45 L1440.5 105.6 L1442.5 105.72 L1444.5 105.83 L1446.5 105.91 L1448.5 105.98 L1450.5 106.03 L1452.5 106.08 L1454.5 106.12 L1456.5 106.15 L1458.5 106.17 L1460.5 106.19 L1462.5 106.21 L1464.5 106.23 L1466.5 106.24 L1468.5 106.25 L1470.5 106.26 L1472.5 106.27 L1474.5 106.28 L1476.5 106.28 L1478.5 106.29 L1480.5 106.3 L1482.5 106.3 L1484.5 106.31 L1486.5 106.31 L1488.5 106.32 L1490.5 106.32 L1492.5 106.33 L1494.5 106.33 L1496.5 106.34 L1498.5 106.34 L1500.5 106.34 L1502.5 106.35 L1504.5 106.35 L1506.5 106.36 L1508.5 106.36 L1510.5 106.36" stroke="#5ec3a4" stroke-width="4.2" fill="none" stroke-linejoin="round"/>
<path d="M1210 105.35 L1212 105.32 L1214 105.28 L1216 105.24 L1218 105.19 L1220 105.13 L1222 105.06 L1224 104.97 L1226 104.86 L1228 104.7 L1230 104.5 L1232 104.24 L1234 103.88 L1236 103.41 L1238 102.79 L1240 101.98 L1242 100.94 L1244 99.6 L1246 97.92 L1248 95.85 L1250 93.32 L1252 90.29 L1254 86.72 L1256 82.6 L1258 77.94 L1260 72.77 L1262 67.15 L1264 61.18 L1266 55 L1268 48.77 L1270 42.7 L1272 36.98 L1274 31.85 L1276 27.53 L1278 24.23 L1280 22.12 L1282 21.31 L1284 21.85 L1286 23.71 L1288 26.78 L1290 30.91 L1292 35.9 L1294 41.52 L1296 47.54 L1298 53.75 L1300 59.96 L1302 65.98 L1304 71.68 L1306 76.95 L1308 81.71 L1310 85.94 L1312 89.62 L1314 92.75 L1316 95.38 L1318 97.54 L1320 99.29 L1322 100.69 L1324 101.79 L1326 102.65 L1328 103.3 L1330 103.8 L1332 104.17 L1334 104.46 L1336 104.67 L1338 104.83 L1340 104.95 L1342 105.04 L1344 105.12 L1346 105.18 L1348 105.23 L1350 105.27 L1352 105.31 L1354 105.34" stroke="#1f9a12" stroke-width="2.2" fill="none" stroke-linejoin="round"/>
<path d="M1192.3 233.1 L1192.3 230.67 L1194.3 230.65 L1196.3 230.63 L1198.3 230.61 L1200.3 230.59 L1202.3 230.56 L1204.3 230.53 L1206.3 230.5 L1208.3 230.47 L1210.3 230.43 L1212.3 230.38 L1214.3 230.33 L1216.3 230.26 L1218.3 230.18 L1220.3 230.08 L1222.3 229.94 L1224.3 229.77 L1226.3 229.55 L1228.3 229.25 L1230.3 228.87 L1232.3 228.36 L1234.3 227.71 L1236.3 226.87 L1238.3 225.8 L1240.3 224.46 L1242.3 222.79 L1244.3 220.75 L1246.3 218.29 L1248.3 215.36 L1250.3 211.94 L1252.3 208.01 L1254.3 203.57 L1256.3 198.64 L1258.3 193.27 L1260.3 187.55 L1262.3 181.58 L1264.3 175.48 L1266.3 169.44 L1268.3 163.62 L1270.3 158.21 L1272.3 153.43 L1274.3 149.46 L1276.3 146.48 L1278.3 144.63 L1280.3 144 L1282.3 144.63 L1284.3 146.48 L1286.3 149.46 L1288.3 153.43 L1290.3 158.21 L1292.3 163.62 L1294.3 169.44 L1296.3 175.48 L1298.3 181.58 L1300.3 187.55 L1302.3 193.27 L1304.3 198.64 L1306.3 203.57 L1308.3 208.01 L1310.3 211.94 L1312.3 215.36 L1314.3 218.29 L1316.3 220.75 L1318.3 222.79 L1320.3 224.46 L1322.3 225.8 L1324.3 226.87 L1326.3 227.71 L1328.3 228.36 L1330.3 228.87 L1332.3 229.25 L1334.3 229.55 L1336.3 229.77 L1338.3 229.94 L1340.3 230.08 L1342.3 230.18 L1344.3 230.26 L1346.3 230.33 L1348.3 230.38 L1350.3 230.43 L1352.3 230.47 L1354.3 230.5 L1356.3 230.53 L1358.3 230.56 L1360.3 230.59 L1362.3 230.61 L1364.3 230.63 L1366.3 230.65 L1368.3 230.67 L1368.3 233.1Z" fill="url(#cg1)"/>
<polyline points="1097.5,229.96 1099.5,229.55 1101.5,230.38 1103.5,229.1 1105.5,229.62 1107.5,228.66 1109.5,230.09 1111.5,230.41 1113.5,231.29 1115.5,230.69 1117.5,230.87 1119.5,230.56 1121.5,230.1 1123.5,230.35 1125.5,229.65 1127.5,229.76 1129.5,230.45 1131.5,230.48 1133.5,230.21 1135.5,231.6 1137.5,231.14 1139.5,230.48 1141.5,230.51 1143.5,230.12 1145.5,229.96 1147.5,229.87 1149.5,231.23 1151.5,230.84 1153.5,230.68 1155.5,230.88 1157.5,231.79 1159.5,230.97 1161.5,230.23 1163.5,231.64 1165.5,230.1 1167.5,229.82 1169.5,230.26 1171.5,231.47 1173.5,230.24 1175.5,228.6 1177.5,229.44 1179.5,229.22 1181.5,229.14 1183.5,229.58 1185.5,229.68 1187.5,229.75 1189.5,229.33 1191.5,230.08 1193.5,230.63 1195.5,230.03 1197.5,229.35 1199.5,229.61 1201.5,229.57 1203.5,228.58 1205.5,228.28 1207.5,228.94 1209.5,228.58 1211.5,228.14 1213.5,228.11 1215.5,227.83 1217.5,227.55 1219.5,226.07 1221.5,227.2 1223.5,226.73 1225.5,225.52 1227.5,225.59 1229.5,224.83 1231.5,223.73 1233.5,223.13 1235.5,222.84 1237.5,220.86 1239.5,219.38 1241.5,217.79 1243.5,213.74 1245.5,210.25 1247.5,207.43 1249.5,202.58 1251.5,198.72 1253.5,195.39 1255.5,191.17 1257.5,186.2 1259.5,179.5 1261.5,175.79 1263.5,170.27 1265.5,164.96 1267.5,159.64 1269.5,153.35 1271.5,148.26 1273.5,144.22 1275.5,142.97 1277.5,140.32 1279.5,139.31 1281.5,139.4 1283.5,141.08 1285.5,143.55 1287.5,146.7 1289.5,149.69 1291.5,152.53 1293.5,158.47 1295.5,164.37 1297.5,170.73 1299.5,175.92 1301.5,180.81 1303.5,186.3 1305.5,190.23 1307.5,194.54 1309.5,198.63 1311.5,203.18 1313.5,208.16 1315.5,211.34 1317.5,214.34 1319.5,216.32 1321.5,218.13 1323.5,219.26 1325.5,220.43 1327.5,220.15 1329.5,220.94 1331.5,221.52 1333.5,223.25 1335.5,224.23 1337.5,225.11 1339.5,225.86 1341.5,225.12 1343.5,225.4 1345.5,225.98 1347.5,225.01 1349.5,224.91 1351.5,223.92 1353.5,222.27 1355.5,222.11 1357.5,221.23 1359.5,221.06 1361.5,220.4 1363.5,220.28 1365.5,218.54 1367.5,219.86 1369.5,220.08 1371.5,219.05 1373.5,218.01 1375.5,217.88 1377.5,218.17 1379.5,218.22 1381.5,218.28 1383.5,216.98 1385.5,216.83 1387.5,218.37 1389.5,218.82 1391.5,218.24 1393.5,218.51 1395.5,218.57 1397.5,219.11 1399.5,221.02 1401.5,221.59 1403.5,223 1405.5,223.54 1407.5,223.09 1409.5,223.57 1411.5,225.88 1413.5,225.62 1415.5,225.49 1417.5,226.98 1419.5,227.35 1421.5,227.66 1423.5,228.88 1425.5,227.76 1427.5,228.53 1429.5,228.18 1431.5,227.84 1433.5,228.07 1435.5,229.47 1437.5,229.56 1439.5,228.63 1441.5,228.55 1443.5,230.15 1445.5,230.83 1447.5,229.96 1449.5,231.61 1451.5,230.91 1453.5,230 1455.5,230.11 1457.5,230.84 1459.5,231.71 1461.5,231.88 1463.5,231.09 1465.5,230.55 1467.5,229.67 1469.5,230.01 1471.5,229.89 1473.5,230.34 1475.5,229.69 1477.5,229.76 1479.5,229.58 1481.5,229.29 1483.5,229.12 1485.5,229.13 1487.5,229.03 1489.5,230.06 1491.5,230.39 1493.5,229.71 1495.5,230.44 1497.5,230.74 1499.5,231.64 1501.5,231.17 1503.5,230.88 1505.5,230.42 1507.5,230.64 1509.5,231" fill="none" stroke="none" marker-start="url(#cm1)" marker-mid="url(#cm1)" marker-end="url(#cm1)"/>
<line x1="1096.5" y1="233.1" x2="1511.6" y2="233.1" stroke="#c594d3" stroke-width="1.6" />
<line x1="1195" y1="231.8" x2="1345" y2="228.5" stroke="#f6b830" stroke-width="1.8" />
<path d="M1096.5 232.94 L1098.5 232.94 L1100.5 232.94 L1102.5 232.93 L1104.5 232.93 L1106.5 232.92 L1108.5 232.92 L1110.5 232.92 L1112.5 232.91 L1114.5 232.91 L1116.5 232.9 L1118.5 232.9 L1120.5 232.89 L1122.5 232.89 L1124.5 232.88 L1126.5 232.88 L1128.5 232.87 L1130.5 232.87 L1132.5 232.86 L1134.5 232.85 L1136.5 232.85 L1138.5 232.84 L1140.5 232.83 L1142.5 232.83 L1144.5 232.82 L1146.5 232.81 L1148.5 232.8 L1150.5 232.79 L1152.5 232.79 L1154.5 232.78 L1156.5 232.77 L1158.5 232.76 L1160.5 232.74 L1162.5 232.73 L1164.5 232.72 L1166.5 232.71 L1168.5 232.69 L1170.5 232.68 L1172.5 232.67 L1174.5 232.65 L1176.5 232.63 L1178.5 232.62 L1180.5 232.6 L1182.5 232.58 L1184.5 232.56 L1186.5 232.54 L1188.5 232.51 L1190.5 232.49 L1192.5 232.46 L1194.5 232.44 L1196.5 232.41 L1198.5 232.37 L1200.5 232.34 L1202.5 232.3 L1204.5 232.25 L1206.5 232.21 L1208.5 232.15 L1210.5 232.08 L1212.5 232 L1214.5 231.9 L1216.5 231.78 L1218.5 231.63 L1220.5 231.44 L1222.5 231.19 L1224.5 230.87 L1226.5 230.45 L1228.5 229.92 L1230.5 229.23 L1232.5 228.36 L1234.5 227.26 L1236.5 225.89 L1238.5 224.19 L1240.5 222.32 L1242.5 220.23 L1244.5 217.76 L1246.5 214.87 L1248.5 211.53 L1250.5 207.74 L1252.5 203.5 L1254.5 198.82 L1256.5 193.75 L1258.5 188.35 L1260.5 182.71 L1262.5 176.94 L1264.5 171.15 L1266.5 165.51 L1268.5 160.15 L1270.5 155.25 L1272.5 150.98 L1274.5 147.49 L1276.5 144.92 L1278.5 143.37 L1280.5 142.92 L1282.5 143.59 L1284.5 145.34 L1286.5 148.1 L1288.5 151.75 L1290.5 156.15 L1292.5 161.15 L1294.5 166.56 L1296.5 172.24 L1298.5 178.02 L1300.5 183.77 L1302.5 189.35 L1304.5 194.67 L1306.5 199.64 L1308.5 204.2 L1310.5 208.33 L1312.5 211.99 L1314.5 215.18 L1316.5 217.93 L1318.5 220.26 L1320.5 222.18 L1322.5 223.8 L1324.5 225.28 L1326.5 226.43 L1328.5 227.28 L1330.5 227.87 L1332.5 228.26 L1334.5 228.46 L1336.5 228.5 L1338.5 228.41 L1340.5 228.21 L1342.5 227.91 L1344.5 227.52 L1346.5 227.06 L1348.5 226.53 L1350.5 225.95 L1352.5 225.35 L1354.5 224.81 L1356.5 224.25 L1358.5 223.68 L1360.5 223.1 L1362.5 222.52 L1364.5 221.96 L1366.5 221.43 L1368.5 220.93 L1370.5 220.47 L1372.5 220.07 L1374.5 219.74 L1376.5 219.49 L1378.5 219.32 L1380.5 219.23 L1382.5 219.24 L1384.5 219.33 L1386.5 219.52 L1388.5 219.78 L1390.5 220.13 L1392.5 220.54 L1394.5 221.02 L1396.5 221.54 L1398.5 222.11 L1400.5 222.7 L1402.5 223.31 L1404.5 223.93 L1406.5 224.54 L1408.5 225.15 L1410.5 225.79 L1412.5 226.5 L1414.5 227.18 L1416.5 227.81 L1418.5 228.41 L1420.5 228.96 L1422.5 229.46 L1424.5 229.91 L1426.5 230.32 L1428.5 230.68 L1430.5 231 L1432.5 231.28 L1434.5 231.53 L1436.5 231.74 L1438.5 231.92 L1440.5 232.07 L1442.5 232.21 L1444.5 232.32 L1446.5 232.41 L1448.5 232.49 L1450.5 232.55 L1452.5 232.6 L1454.5 232.65 L1456.5 232.68 L1458.5 232.72 L1460.5 232.74 L1462.5 232.76 L1464.5 232.78 L1466.5 232.8 L1468.5 232.81 L1470.5 232.82 L1472.5 232.84 L1474.5 232.84 L1476.5 232.85 L1478.5 232.86 L1480.5 232.87 L1482.5 232.88 L1484.5 232.88 L1486.5 232.89 L1488.5 232.89 L1490.5 232.9 L1492.5 232.9 L1494.5 232.91 L1496.5 232.91 L1498.5 232.92 L1500.5 232.92 L1502.5 232.93 L1504.5 232.93 L1506.5 232.94 L1508.5 232.94 L1510.5 232.94" stroke="#c594d3" stroke-width="4.2" fill="none" stroke-linejoin="round"/>
<path d="M1204.3 231.93 L1206.3 231.9 L1208.3 231.87 L1210.3 231.83 L1212.3 231.78 L1214.3 231.73 L1216.3 231.66 L1218.3 231.58 L1220.3 231.48 L1222.3 231.34 L1224.3 231.17 L1226.3 230.95 L1228.3 230.65 L1230.3 230.27 L1232.3 229.76 L1234.3 229.11 L1236.3 228.27 L1238.3 227.2 L1240.3 225.86 L1242.3 224.19 L1244.3 222.15 L1246.3 219.69 L1248.3 216.76 L1250.3 213.34 L1252.3 209.41 L1254.3 204.97 L1256.3 200.04 L1258.3 194.67 L1260.3 188.95 L1262.3 182.98 L1264.3 176.88 L1266.3 170.84 L1268.3 165.02 L1270.3 159.61 L1272.3 154.83 L1274.3 150.86 L1276.3 147.88 L1278.3 146.03 L1280.3 145.4 L1282.3 146.03 L1284.3 147.88 L1286.3 150.86 L1288.3 154.83 L1290.3 159.61 L1292.3 165.02 L1294.3 170.84 L1296.3 176.88 L1298.3 182.98 L1300.3 188.95 L1302.3 194.67 L1304.3 200.04 L1306.3 204.97 L1308.3 209.41 L1310.3 213.34 L1312.3 216.76 L1314.3 219.69 L1316.3 222.15 L1318.3 224.19 L1320.3 225.86 L1322.3 227.2 L1324.3 228.27 L1326.3 229.11 L1328.3 229.76 L1330.3 230.27 L1332.3 230.65 L1334.3 230.95 L1336.3 231.17 L1338.3 231.34 L1340.3 231.48 L1342.3 231.58 L1344.3 231.66 L1346.3 231.73 L1348.3 231.78 L1350.3 231.83 L1352.3 231.87 L1354.3 231.9 L1356.3 231.93" stroke="#8a2a9c" stroke-width="2.2" fill="none" stroke-linejoin="round"/>
<path d="M1205.5 350.1 L1205.5 347.66 L1207.5 347.64 L1209.5 347.62 L1211.5 347.59 L1213.5 347.57 L1215.5 347.54 L1217.5 347.51 L1219.5 347.47 L1221.5 347.43 L1223.5 347.38 L1225.5 347.33 L1227.5 347.27 L1229.5 347.18 L1231.5 347.08 L1233.5 346.95 L1235.5 346.77 L1237.5 346.54 L1239.5 346.24 L1241.5 345.83 L1243.5 345.28 L1245.5 344.57 L1247.5 343.64 L1249.5 342.45 L1251.5 340.93 L1253.5 339.03 L1255.5 336.69 L1257.5 333.85 L1259.5 330.47 L1261.5 326.52 L1263.5 321.98 L1265.5 316.86 L1267.5 311.23 L1269.5 305.14 L1271.5 298.73 L1273.5 292.15 L1275.5 285.57 L1277.5 279.22 L1279.5 273.32 L1281.5 268.11 L1283.5 263.83 L1285.5 260.69 L1287.5 258.86 L1289.5 258.43 L1291.5 259.43 L1293.5 261.8 L1295.5 265.42 L1297.5 270.1 L1299.5 275.61 L1301.5 281.72 L1303.5 288.19 L1305.5 294.79 L1307.5 301.33 L1309.5 307.62 L1311.5 313.54 L1313.5 318.98 L1315.5 323.86 L1317.5 328.17 L1319.5 331.89 L1321.5 335.05 L1323.5 337.68 L1325.5 339.84 L1327.5 341.58 L1329.5 342.96 L1331.5 344.04 L1333.5 344.88 L1335.5 345.52 L1337.5 346 L1339.5 346.37 L1341.5 346.64 L1343.5 346.85 L1345.5 347.01 L1347.5 347.13 L1349.5 347.22 L1351.5 347.29 L1353.5 347.35 L1355.5 347.4 L1357.5 347.45 L1359.5 347.49 L1361.5 347.52 L1363.5 347.55 L1365.5 347.58 L1367.5 347.6 L1369.5 347.63 L1371.5 347.65 L1372.7 350.1Z" fill="url(#cg2)"/>
<polyline points="1097.5,347.58 1099.5,347.94 1101.5,347.71 1103.5,347.52 1105.5,347.03 1107.5,347.16 1109.5,348.03 1111.5,348.14 1113.5,348.57 1115.5,348.35 1117.5,348.3 1119.5,348.14 1121.5,346.93 1123.5,347.71 1125.5,347.96 1127.5,348.11 1129.5,346.87 1131.5,346.1 1133.5,346.14 1135.5,346.41 1137.5,347.03 1139.5,347.19 1141.5,347.61 1143.5,347.16 1145.5,347.46 1147.5,347.68 1149.5,347.17 1151.5,348.28 1153.5,348.25 1155.5,348.6 1157.5,347.71 1159.5,347.1 1161.5,346.96 1163.5,347 1165.5,347.46 1167.5,347.5 1169.5,347.09 1171.5,346.53 1173.5,346.44 1175.5,347.41 1177.5,346.77 1179.5,346.99 1181.5,347.22 1183.5,346.19 1185.5,346.48 1187.5,347.39 1189.5,345.92 1191.5,346.03 1193.5,346.2 1195.5,345.86 1197.5,346.41 1199.5,346.38 1201.5,345.49 1203.5,346.3 1205.5,346.66 1207.5,347 1209.5,347.46 1211.5,347.05 1213.5,346.6 1215.5,345.44 1217.5,345.82 1219.5,345.25 1221.5,344.93 1223.5,344.16 1225.5,343.78 1227.5,343.69 1229.5,344.59 1231.5,342.96 1233.5,342.12 1235.5,342.38 1237.5,342.94 1239.5,342.39 1241.5,340.12 1243.5,337.83 1245.5,337.53 1247.5,335.9 1249.5,333.78 1251.5,332.68 1253.5,330.85 1255.5,327.76 1257.5,324.36 1259.5,320.65 1261.5,317.16 1263.5,312.36 1265.5,307.18 1267.5,301.72 1269.5,294.76 1271.5,289.86 1273.5,284.33 1275.5,278.48 1277.5,271.38 1279.5,266.12 1281.5,262.39 1283.5,257.55 1285.5,255.12 1287.5,254.42 1289.5,253.19 1291.5,255.31 1293.5,257.5 1295.5,260.3 1297.5,264.45 1299.5,269.49 1301.5,274.66 1303.5,280.85 1305.5,285.93 1307.5,291.48 1309.5,297.93 1311.5,303.28 1313.5,307.86 1315.5,313.45 1317.5,318.67 1319.5,322.02 1321.5,324.65 1323.5,328 1325.5,330.86 1327.5,333.21 1329.5,336.23 1331.5,337.07 1333.5,339.33 1335.5,339.48 1337.5,340.09 1339.5,341.49 1341.5,342.75 1343.5,343.43 1345.5,343.57 1347.5,343.54 1349.5,343.51 1351.5,343.7 1353.5,343.28 1355.5,343.21 1357.5,343.22 1359.5,342.75 1361.5,342.77 1363.5,342.49 1365.5,343 1367.5,342.11 1369.5,340.92 1371.5,340.05 1373.5,339.54 1375.5,339.62 1377.5,338.74 1379.5,338.49 1381.5,339.08 1383.5,336.7 1385.5,336.07 1387.5,336.48 1389.5,336.83 1391.5,336.99 1393.5,336.76 1395.5,337.4 1397.5,337.7 1399.5,337.58 1401.5,339.48 1403.5,339.59 1405.5,339.35 1407.5,339.71 1409.5,340.1 1411.5,340.67 1413.5,339.65 1415.5,340.61 1417.5,342.3 1419.5,342.22 1421.5,343.02 1423.5,344.28 1425.5,345.14 1427.5,346.18 1429.5,345.02 1431.5,345.24 1433.5,345.47 1435.5,346.28 1437.5,347.11 1439.5,345.41 1441.5,346.7 1443.5,346 1445.5,346.89 1447.5,346.15 1449.5,346.73 1451.5,347.71 1453.5,347.51 1455.5,347.61 1457.5,348.04 1459.5,347.92 1461.5,347.72 1463.5,348.58 1465.5,348.81 1467.5,348.15 1469.5,349.59 1471.5,348.12 1473.5,348.48 1475.5,347.99 1477.5,347.94 1479.5,348.26 1481.5,348.16 1483.5,348.36 1485.5,347.18 1487.5,346.49 1489.5,347.35 1491.5,346.93 1493.5,346.64 1495.5,346.2 1497.5,347.58 1499.5,348.1 1501.5,348.85 1503.5,347.86 1505.5,347.83 1507.5,347.13 1509.5,347.86" fill="none" stroke="none" marker-start="url(#cm2)" marker-mid="url(#cm2)" marker-end="url(#cm2)"/>
<line x1="1096.5" y1="350.1" x2="1511.6" y2="350.1" stroke="#8fc8ea" stroke-width="1.6" />
<line x1="1225" y1="349.3" x2="1352" y2="346.5" stroke="#f6b830" stroke-width="1.8" />
<path d="M1096.5 349.97 L1098.5 349.97 L1100.5 349.96 L1102.5 349.96 L1104.5 349.96 L1106.5 349.95 L1108.5 349.95 L1110.5 349.95 L1112.5 349.95 L1114.5 349.94 L1116.5 349.94 L1118.5 349.93 L1120.5 349.93 L1122.5 349.93 L1124.5 349.92 L1126.5 349.92 L1128.5 349.91 L1130.5 349.91 L1132.5 349.9 L1134.5 349.9 L1136.5 349.89 L1138.5 349.89 L1140.5 349.88 L1142.5 349.88 L1144.5 349.87 L1146.5 349.87 L1148.5 349.86 L1150.5 349.85 L1152.5 349.85 L1154.5 349.84 L1156.5 349.83 L1158.5 349.82 L1160.5 349.82 L1162.5 349.81 L1164.5 349.8 L1166.5 349.79 L1168.5 349.78 L1170.5 349.77 L1172.5 349.76 L1174.5 349.75 L1176.5 349.73 L1178.5 349.72 L1180.5 349.71 L1182.5 349.69 L1184.5 349.68 L1186.5 349.66 L1188.5 349.65 L1190.5 349.63 L1192.5 349.61 L1194.5 349.59 L1196.5 349.57 L1198.5 349.55 L1200.5 349.52 L1202.5 349.5 L1204.5 349.47 L1206.5 349.44 L1208.5 349.41 L1210.5 349.38 L1212.5 349.34 L1214.5 349.3 L1216.5 349.26 L1218.5 349.2 L1220.5 349.14 L1222.5 349.07 L1224.5 348.99 L1226.5 348.89 L1228.5 348.76 L1230.5 348.59 L1232.5 348.38 L1234.5 348.1 L1236.5 347.73 L1238.5 347.25 L1240.5 346.63 L1242.5 345.83 L1244.5 344.79 L1246.5 343.47 L1248.5 341.81 L1250.5 339.84 L1252.5 337.74 L1254.5 335.2 L1256.5 332.2 L1258.5 328.7 L1260.5 324.68 L1262.5 320.15 L1264.5 315.11 L1266.5 309.63 L1268.5 303.77 L1270.5 297.65 L1272.5 291.38 L1274.5 285.13 L1276.5 279.07 L1278.5 273.4 L1280.5 268.31 L1282.5 264 L1284.5 260.65 L1286.5 258.42 L1288.5 257.4 L1290.5 257.65 L1292.5 259.16 L1294.5 261.86 L1296.5 265.6 L1298.5 270.24 L1300.5 275.59 L1302.5 281.43 L1304.5 287.58 L1306.5 293.85 L1308.5 300.08 L1310.5 306.1 L1312.5 311.81 L1314.5 317.11 L1316.5 321.94 L1318.5 326.26 L1320.5 330.06 L1322.5 333.34 L1324.5 336.12 L1326.5 338.45 L1328.5 340.37 L1330.5 342.2 L1332.5 343.66 L1334.5 344.78 L1336.5 345.62 L1338.5 346.23 L1340.5 346.65 L1342.5 346.92 L1344.5 347.05 L1346.5 347.06 L1348.5 346.99 L1350.5 346.83 L1352.5 346.59 L1354.5 346.28 L1356.5 345.91 L1358.5 345.48 L1360.5 345 L1362.5 344.46 L1364.5 343.88 L1366.5 343.26 L1368.5 342.62 L1370.5 342.07 L1372.5 341.53 L1374.5 341 L1376.5 340.49 L1378.5 340 L1380.5 339.55 L1382.5 339.15 L1384.5 338.81 L1386.5 338.55 L1388.5 338.37 L1390.5 338.27 L1392.5 338.26 L1394.5 338.35 L1396.5 338.53 L1398.5 338.79 L1400.5 339.12 L1402.5 339.52 L1404.5 339.98 L1406.5 340.48 L1408.5 341.02 L1410.5 341.58 L1412.5 342.14 L1414.5 342.74 L1416.5 343.44 L1418.5 344.11 L1420.5 344.76 L1422.5 345.37 L1424.5 345.93 L1426.5 346.45 L1428.5 346.92 L1430.5 347.35 L1432.5 347.73 L1434.5 348.06 L1436.5 348.36 L1438.5 348.61 L1440.5 348.82 L1442.5 349.01 L1444.5 349.16 L1446.5 349.29 L1448.5 349.4 L1450.5 349.48 L1452.5 349.56 L1454.5 349.62 L1456.5 349.67 L1458.5 349.71 L1460.5 349.74 L1462.5 349.77 L1464.5 349.79 L1466.5 349.81 L1468.5 349.82 L1470.5 349.84 L1472.5 349.85 L1474.5 349.86 L1476.5 349.87 L1478.5 349.87 L1480.5 349.88 L1482.5 349.89 L1484.5 349.9 L1486.5 349.9 L1488.5 349.91 L1490.5 349.91 L1492.5 349.92 L1494.5 349.92 L1496.5 349.93 L1498.5 349.93 L1500.5 349.94 L1502.5 349.94 L1504.5 349.94 L1506.5 349.95 L1508.5 349.95 L1510.5 349.95" stroke="#8fc8ea" stroke-width="4.2" fill="none" stroke-linejoin="round"/>
<path d="M1216.9 348.92 L1218.9 348.88 L1220.9 348.84 L1222.9 348.8 L1224.9 348.75 L1226.9 348.69 L1228.9 348.61 L1230.9 348.52 L1232.9 348.39 L1234.9 348.23 L1236.9 348.02 L1238.9 347.74 L1240.9 347.36 L1242.9 346.86 L1244.9 346.2 L1246.9 345.35 L1248.9 344.24 L1250.9 342.82 L1252.9 341.04 L1254.9 338.84 L1256.9 336.16 L1258.9 332.94 L1260.9 329.16 L1262.9 324.8 L1264.9 319.86 L1266.9 314.37 L1268.9 308.41 L1270.9 302.08 L1272.9 295.53 L1274.9 288.93 L1276.9 282.49 L1278.9 276.42 L1280.9 270.99 L1282.9 266.41 L1284.9 262.91 L1286.9 260.67 L1288.9 259.81 L1290.9 260.38 L1292.9 262.35 L1294.9 265.61 L1296.9 269.99 L1298.9 275.28 L1300.9 281.24 L1302.9 287.62 L1304.9 294.21 L1306.9 300.79 L1308.9 307.17 L1310.9 313.21 L1312.9 318.8 L1314.9 323.86 L1316.9 328.34 L1318.9 332.23 L1320.9 335.56 L1322.9 338.34 L1324.9 340.64 L1326.9 342.5 L1328.9 343.98 L1330.9 345.15 L1332.9 346.05 L1334.9 346.74 L1336.9 347.27 L1338.9 347.67 L1340.9 347.97 L1342.9 348.19 L1344.9 348.36 L1346.9 348.49 L1348.9 348.59 L1350.9 348.67 L1352.9 348.74 L1354.9 348.79 L1356.9 348.84 L1358.9 348.87 L1360.9 348.91" stroke="#3b93cf" stroke-width="2.2" fill="none" stroke-linejoin="round"/>
</g>
<line x1="1282" y1="11" x2="1282" y2="212.6" stroke="#000" stroke-width="2" stroke-dasharray="7 3.5"/>
<line x1="1289.8" y1="170.3" x2="1289.8" y2="339.5" stroke="#000" stroke-width="2" stroke-dasharray="7 3.5"/>
<rect x="1096.5" y="6.2" width="415.1" height="359.5" fill="none" stroke="#000" stroke-width="2"/>
<line x1="1096.5" y1="126" x2="1099.5" y2="126" stroke="#000" stroke-width="1.5" />
<line x1="1096.5" y1="246" x2="1099.5" y2="246" stroke="#000" stroke-width="1.5" />
<line x1="1248.2" y1="194.4" x2="1270.6" y2="194.4" stroke="#000" stroke-width="1.8" />
<polygon points="1279.8,194.4 1268.3,197.15 1268.3,191.65" fill="#000"/>
<line x1="1322.6" y1="194.4" x2="1300.2" y2="194.4" stroke="#000" stroke-width="1.8" />
<polygon points="1291,194.4 1302.5,191.65 1302.5,197.15" fill="#000"/>
<line x1="1335.8" y1="304.2" x2="1309.99" y2="324.16" stroke="#000" stroke-width="2" />
<polygon points="1300.5,331.5 1309.92,319.16 1314.81,325.49" fill="#000"/>
<text x="1021.3" y="46.2" font-size="54" textLength="24.8" lengthAdjust="spacingAndGlyphs" stroke="#000" stroke-width="2.2">c</text>
<text x="1101" y="38.6" font-size="27.83" textLength="145" lengthAdjust="spacingAndGlyphs" stroke="#000" stroke-width="0.35">QFgel-PFOA</text>
<text x="1101" y="152.4" font-size="27.83" textLength="141.5" lengthAdjust="spacingAndGlyphs" stroke="#000" stroke-width="0.35">QFgel-PFOS</text>
<text x="1104" y="275.6" font-size="27.83" textLength="68" lengthAdjust="spacingAndGlyphs" stroke="#000" stroke-width="0.35">QFgel</text>
<text x="1451" y="34.3" font-size="27.83" textLength="51" lengthAdjust="spacingAndGlyphs" stroke="#000" stroke-width="0.35">N 1<tspan font-style="italic">s</tspan></text>
<text x="1327.5" y="202.9" font-size="27.3" textLength="164.5" lengthAdjust="spacingAndGlyphs" stroke="#000" stroke-width="0.35" font-style="italic">Shift=0.21 eV</text>
<text x="1330.5" y="298.4" font-size="26.78" textLength="112" lengthAdjust="spacingAndGlyphs" stroke="#000" stroke-width="0.35">-N<tspan dy="-9" font-size="17">+</tspan><tspan dy="9">(CH</tspan><tspan dy="6" font-size="17">3</tspan><tspan dy="-6">)</tspan><tspan dy="6" font-size="17">3</tspan></text>
<text x="1081.7" y="176" font-size="32.55" text-anchor="middle" textLength="232" lengthAdjust="spacingAndGlyphs" stroke="#000" stroke-width="0.35" transform="rotate(-90 1081.7 176)">Intensity (arb.units)</text>
<line x1="1096.7" y1="365.7" x2="1096.7" y2="373.2" stroke="#000" stroke-width="1.8" />
<line x1="1200.3" y1="365.7" x2="1200.3" y2="373.2" stroke="#000" stroke-width="1.8" />
<line x1="1303.9" y1="365.7" x2="1303.9" y2="373.2" stroke="#000" stroke-width="1.8" />
<line x1="1407.6" y1="365.7" x2="1407.6" y2="373.2" stroke="#000" stroke-width="1.8" />
<line x1="1511.3" y1="365.7" x2="1511.3" y2="373.2" stroke="#000" stroke-width="1.8" />
<line x1="1148.5" y1="365.7" x2="1148.5" y2="369.7" stroke="#000" stroke-width="1.6" />
<line x1="1252.1" y1="365.7" x2="1252.1" y2="369.7" stroke="#000" stroke-width="1.6" />
<line x1="1355.75" y1="365.7" x2="1355.75" y2="369.7" stroke="#000" stroke-width="1.6" />
<line x1="1459.45" y1="365.7" x2="1459.45" y2="369.7" stroke="#000" stroke-width="1.6" />
<text x="1096.7" y="397.8" font-size="26.25" text-anchor="middle" textLength="43.5" lengthAdjust="spacingAndGlyphs" stroke="#000" stroke-width="0.35">408</text>
<text x="1200.3" y="397.8" font-size="26.25" text-anchor="middle" textLength="43.5" lengthAdjust="spacingAndGlyphs" stroke="#000" stroke-width="0.35">405</text>
<text x="1303.9" y="397.8" font-size="26.25" text-anchor="middle" textLength="43.5" lengthAdjust="spacingAndGlyphs" stroke="#000" stroke-width="0.35">402</text>
<text x="1407.6" y="397.8" font-size="26.25" text-anchor="middle" textLength="43.5" lengthAdjust="spacingAndGlyphs" stroke="#000" stroke-width="0.35">399</text>
<text x="1511.3" y="397.8" font-size="26.25" text-anchor="middle" textLength="43.5" lengthAdjust="spacingAndGlyphs" stroke="#000" stroke-width="0.35">396</text>
<text x="1305.5" y="433.5" font-size="27.3" text-anchor="middle" textLength="238" lengthAdjust="spacingAndGlyphs" stroke="#000" stroke-width="0.35">Binding energy (eV)</text>
</g>
<g>
<clipPath id="pdclip"><rect x="1608.9" y="5" width="423.6" height="359.4"/></clipPath>
<g clip-path="url(#pdclip)">
<path d="M1685.4 109.6 L1685.4 106.5 L1687.4 106.47 L1689.4 106.43 L1691.4 106.4 L1693.4 106.36 L1695.4 106.33 L1697.4 106.29 L1699.4 106.25 L1701.4 106.2 L1703.4 106.16 L1705.4 106.11 L1707.4 106.06 L1709.4 106.01 L1711.4 105.95 L1713.4 105.89 L1715.4 105.83 L1717.4 105.76 L1719.4 105.68 L1721.4 105.6 L1723.4 105.51 L1725.4 105.42 L1727.4 105.31 L1729.4 105.19 L1731.4 105.06 L1733.4 104.9 L1735.4 104.73 L1737.4 104.54 L1739.4 104.32 L1741.4 104.06 L1743.4 103.77 L1745.4 103.43 L1747.4 103.04 L1749.4 102.59 L1751.4 102.07 L1753.4 101.48 L1755.4 100.79 L1757.4 100 L1759.4 99.1 L1761.4 98.08 L1763.4 96.92 L1765.4 95.61 L1767.4 94.14 L1769.4 92.5 L1771.4 90.68 L1773.4 88.66 L1775.4 86.44 L1777.4 84.02 L1779.4 81.39 L1781.4 78.56 L1783.4 75.53 L1785.4 72.3 L1787.4 68.9 L1789.4 65.33 L1791.4 61.62 L1793.4 57.81 L1795.4 53.91 L1797.4 49.96 L1799.4 46.02 L1801.4 42.12 L1803.4 38.32 L1805.4 34.67 L1807.4 31.23 L1809.4 28.06 L1811.4 25.22 L1813.4 22.77 L1815.4 20.78 L1817.4 19.28 L1819.4 18.31 L1821.4 17.91 L1823.4 18.08 L1825.4 18.82 L1827.4 20.11 L1829.4 21.92 L1831.4 24.19 L1833.4 26.88 L1835.4 29.92 L1837.4 33.26 L1839.4 36.84 L1841.4 40.59 L1843.4 44.45 L1845.4 48.38 L1847.4 52.33 L1849.4 56.25 L1851.4 60.11 L1853.4 63.86 L1855.4 67.49 L1857.4 70.96 L1859.4 74.26 L1861.4 77.37 L1863.4 80.28 L1865.4 82.99 L1867.4 85.5 L1869.4 87.8 L1871.4 89.89 L1873.4 91.79 L1875.4 93.51 L1877.4 95.05 L1879.4 96.42 L1881.4 97.63 L1883.4 98.71 L1885.4 99.66 L1887.4 100.49 L1889.4 101.21 L1891.4 101.84 L1893.4 102.39 L1895.4 102.87 L1897.4 103.28 L1899.4 103.64 L1901.4 103.95 L1903.4 104.22 L1905.4 104.45 L1907.4 104.66 L1909.4 104.84 L1911.4 105 L1913.4 105.14 L1915.4 105.26 L1917.4 105.37 L1919.4 105.48 L1921.4 105.57 L1923.4 105.65 L1925.4 105.73 L1927.4 105.8 L1929.4 105.87 L1931.4 105.93 L1933.4 105.99 L1935.4 106.04 L1937.4 106.09 L1939.4 106.14 L1941.4 106.19 L1943.4 106.23 L1945.4 106.27 L1947.4 106.31 L1949.4 106.35 L1951.4 106.39 L1953.4 106.42 L1955.4 106.45 L1957.4 106.49 L1958.2 109.6Z" fill="url(#dg0)"/>
<polyline points="1612.9,106.8 1614.5,108.35 1616.1,106.97 1617.7,105.14 1619.3,106.11 1620.9,107.06 1622.5,107.4 1624.1,107.74 1625.7,107.31 1627.3,106.58 1628.9,105.98 1630.5,106.17 1632.1,106.11 1633.7,107.39 1635.3,107.85 1636.9,106.24 1638.5,107.23 1640.1,107.1 1641.7,108.16 1643.3,109.18 1644.9,108.84 1646.5,106.29 1648.1,107.19 1649.7,105.5 1651.3,107.64 1652.9,106.67 1654.5,106.56 1656.1,108.51 1657.7,106.06 1659.3,106.39 1660.9,105.47 1662.5,105.47 1664.1,105.18 1665.7,106.5 1667.3,106.29 1668.9,106.81 1670.5,107.41 1672.1,105.38 1673.7,107.3 1675.3,106.79 1676.9,105.04 1678.5,104.99 1680.1,106.5 1681.7,107.53 1683.3,106.43 1684.9,106.55 1686.5,106.76 1688.1,107.68 1689.7,107.03 1691.3,107.76 1692.9,106.29 1694.5,105.57 1696.1,106.53 1697.7,107.15 1699.3,106.72 1700.9,107.12 1702.5,106.93 1704.1,107.38 1705.7,108.03 1707.3,107.74 1708.9,107.86 1710.5,106.68 1712.1,105.78 1713.7,103.38 1715.3,104.74 1716.9,105.14 1718.5,105.86 1720.1,103.82 1721.7,103.97 1723.3,103.95 1724.9,102.63 1726.5,104.56 1728.1,106 1729.7,104.26 1731.3,104.92 1732.9,106.56 1734.5,104.47 1736.1,105.39 1737.7,106.47 1739.3,107.31 1740.9,104.41 1742.5,102.86 1744.1,103.09 1745.7,104.1 1747.3,102.03 1748.9,101.12 1750.5,99.99 1752.1,101.36 1753.7,100.22 1755.3,100.42 1756.9,100.3 1758.5,100.41 1760.1,99.33 1761.7,98.19 1763.3,97.89 1764.9,96.51 1766.5,93.36 1768.1,91.63 1769.7,91.43 1771.3,89.84 1772.9,87.65 1774.5,86.16 1776.1,87.58 1777.7,84.1 1779.3,81.63 1780.9,79.13 1782.5,75.86 1784.1,74.33 1785.7,71.95 1787.3,68.91 1788.9,64.11 1790.5,62.7 1792.1,60.13 1793.7,56.47 1795.3,50.37 1796.9,48.16 1798.5,44.43 1800.1,42 1801.7,39.09 1803.3,35.89 1804.9,34.79 1806.5,32.2 1808.1,30.88 1809.7,27 1811.3,24.73 1812.9,24.35 1814.5,22.56 1816.1,20.05 1817.7,18.14 1819.3,17.22 1820.9,17.24 1822.5,18.25 1824.1,18.63 1825.7,19.96 1827.3,21.44 1828.9,22.29 1830.5,24.83 1832.1,26.69 1833.7,27.85 1835.3,29.63 1836.9,31.97 1838.5,33.8 1840.1,35.48 1841.7,39.13 1843.3,41.99 1844.9,46.08 1846.5,48.56 1848.1,52 1849.7,55.37 1851.3,57.89 1852.9,61.24 1854.5,63.43 1856.1,66.13 1857.7,70.04 1859.3,72.96 1860.9,75.25 1862.5,76.72 1864.1,79.96 1865.7,84.04 1867.3,82.94 1868.9,86.28 1870.5,88.08 1872.1,90.65 1873.7,92.82 1875.3,92.38 1876.9,95.41 1878.5,95.25 1880.1,95.9 1881.7,97.53 1883.3,98.1 1884.9,99.08 1886.5,99.13 1888.1,98.85 1889.7,99.97 1891.3,99.7 1892.9,102.2 1894.5,102.72 1896.1,104.35 1897.7,102.73 1899.3,101.01 1900.9,99.87 1902.5,101.22 1904.1,101.17 1905.7,102.91 1907.3,102.14 1908.9,101.81 1910.5,103.38 1912.1,103.67 1913.7,104.99 1915.3,105.95 1916.9,106.1 1918.5,104.61 1920.1,104.1 1921.7,107.04 1923.3,106.27 1924.9,106.37 1926.5,106.27 1928.1,106.09 1929.7,105.84 1931.3,105.32 1932.9,105.07 1934.5,103.4 1936.1,106.19 1937.7,106.06 1939.3,104.76 1940.9,105.88 1942.5,106.71 1944.1,105.06 1945.7,105.03 1947.3,107.09 1948.9,107.37 1950.5,107.42 1952.1,108.05 1953.7,107.28 1955.3,106.67 1956.9,108.24 1958.5,107.38 1960.1,106.97 1961.7,107.48 1963.3,107.17 1964.9,105.69 1966.5,108.02 1968.1,107.41 1969.7,108.97 1971.3,108.59 1972.9,106.92 1974.5,108.44 1976.1,107.59 1977.7,106.39 1979.3,106.53 1980.9,104.45 1982.5,105.82 1984.1,105.49 1985.7,105.78 1987.3,105.31 1988.9,106.64 1990.5,107.12 1992.1,108.15 1993.7,109.37 1995.3,108.69 1996.9,108.1 1998.5,107.96 2000.1,106.74 2001.7,106.28 2003.3,107.35 2004.9,106.34 2006.5,104.63 2008.1,105.23 2009.7,106.22 2011.3,108.06 2012.9,106.93 2014.5,106.03 2016.1,106.55 2017.7,106.61 2019.3,107.07 2020.9,106.56 2022.5,106.99 2024.1,106.45 2025.7,107.73 2027.3,107.78" fill="none" stroke="none" marker-start="url(#dm0)" marker-mid="url(#dm0)" marker-end="url(#dm0)"/>
<line x1="1611.9" y1="109.6" x2="2029.5" y2="109.6" stroke="#48b894" stroke-width="2.2" />
<path d="M1611.9 108.92 L1613.9 108.91 L1615.9 108.9 L1617.9 108.89 L1619.9 108.87 L1621.9 108.86 L1623.9 108.84 L1625.9 108.83 L1627.9 108.81 L1629.9 108.8 L1631.9 108.78 L1633.9 108.76 L1635.9 108.74 L1637.9 108.73 L1639.9 108.71 L1641.9 108.69 L1643.9 108.67 L1645.9 108.65 L1647.9 108.63 L1649.9 108.6 L1651.9 108.58 L1653.9 108.56 L1655.9 108.53 L1657.9 108.51 L1659.9 108.48 L1661.9 108.46 L1663.9 108.43 L1665.9 108.4 L1667.9 108.37 L1669.9 108.34 L1671.9 108.31 L1673.9 108.27 L1675.9 108.24 L1677.9 108.2 L1679.9 108.16 L1681.9 108.12 L1683.9 108.08 L1685.9 108.04 L1687.9 108 L1689.9 107.95 L1691.9 107.9 L1693.9 107.85 L1695.9 107.8 L1697.9 107.74 L1699.9 107.68 L1701.9 107.62 L1703.9 107.55 L1705.9 107.48 L1707.9 107.41 L1709.9 107.33 L1711.9 107.25 L1713.9 107.16 L1715.9 107.06 L1717.9 106.95 L1719.9 106.83 L1721.9 106.7 L1723.9 106.56 L1725.9 106.4 L1727.9 106.23 L1729.9 106.03 L1731.9 105.8 L1733.9 105.55 L1735.9 105.26 L1737.9 104.93 L1739.9 104.55 L1741.9 104.12 L1743.9 103.63 L1745.9 103.06 L1747.9 102.42 L1749.9 101.68 L1751.9 100.84 L1753.9 99.96 L1755.9 99.06 L1757.9 98.04 L1759.9 96.89 L1761.9 95.61 L1763.9 94.19 L1765.9 92.61 L1767.9 90.87 L1769.9 88.95 L1771.9 86.86 L1773.9 84.59 L1775.9 82.14 L1777.9 79.5 L1779.9 76.68 L1781.9 73.69 L1783.9 70.54 L1785.9 67.23 L1787.9 63.79 L1789.9 60.23 L1791.9 56.58 L1793.9 52.86 L1795.9 49.11 L1797.9 45.36 L1799.9 41.66 L1801.9 38.04 L1803.9 34.54 L1805.9 31.23 L1807.9 28.14 L1809.9 25.34 L1811.9 22.86 L1813.9 20.76 L1815.9 19.08 L1817.9 17.86 L1819.9 17.13 L1821.9 16.9 L1823.9 17.18 L1825.9 17.96 L1827.9 19.23 L1829.9 20.95 L1831.9 23.09 L1833.9 25.6 L1835.9 28.44 L1837.9 31.55 L1839.9 34.89 L1841.9 38.39 L1843.9 42.03 L1845.9 45.74 L1847.9 49.49 L1849.9 53.23 L1851.9 56.94 L1853.9 60.59 L1855.9 64.14 L1857.9 67.57 L1859.9 70.86 L1861.9 74 L1863.9 76.97 L1865.9 79.77 L1867.9 82.39 L1869.9 84.83 L1871.9 87.08 L1873.9 89.15 L1875.9 91.05 L1877.9 92.78 L1879.9 94.34 L1881.9 95.75 L1883.9 97.01 L1885.9 98.14 L1887.9 99.15 L1889.9 100.04 L1891.9 100.93 L1893.9 101.76 L1895.9 102.49 L1897.9 103.12 L1899.9 103.68 L1901.9 104.17 L1903.9 104.59 L1905.9 104.96 L1907.9 105.29 L1909.9 105.57 L1911.9 105.83 L1913.9 106.05 L1915.9 106.24 L1917.9 106.42 L1919.9 106.58 L1921.9 106.72 L1923.9 106.84 L1925.9 106.96 L1927.9 107.07 L1929.9 107.16 L1931.9 107.26 L1933.9 107.34 L1935.9 107.42 L1937.9 107.49 L1939.9 107.56 L1941.9 107.63 L1943.9 107.69 L1945.9 107.75 L1947.9 107.8 L1949.9 107.85 L1951.9 107.91 L1953.9 107.95 L1955.9 108 L1957.9 108.04 L1959.9 108.09 L1961.9 108.13 L1963.9 108.17 L1965.9 108.2 L1967.9 108.24 L1969.9 108.28 L1971.9 108.31 L1973.9 108.34 L1975.9 108.37 L1977.9 108.4 L1979.9 108.43 L1981.9 108.46 L1983.9 108.49 L1985.9 108.51 L1987.9 108.54 L1989.9 108.56 L1991.9 108.58 L1993.9 108.61 L1995.9 108.63 L1997.9 108.65 L1999.9 108.67 L2001.9 108.69 L2003.9 108.71 L2005.9 108.73 L2007.9 108.75 L2009.9 108.76 L2011.9 108.78 L2013.9 108.8 L2015.9 108.81 L2017.9 108.83 L2019.9 108.84 L2021.9 108.86 L2023.9 108.87 L2025.9 108.89 L2027.9 108.9" stroke="#5ec3a4" stroke-width="0" fill="none" stroke-linejoin="round"/>
<path d="M1704 107.54 L1706 107.5 L1708 107.44 L1710 107.39 L1712 107.33 L1714 107.27 L1716 107.21 L1718 107.14 L1720 107.06 L1722 106.98 L1724 106.88 L1726 106.78 L1728 106.67 L1730 106.55 L1732 106.41 L1734 106.26 L1736 106.08 L1738 105.88 L1740 105.64 L1742 105.38 L1744 105.07 L1746 104.72 L1748 104.31 L1750 103.84 L1752 103.3 L1754 102.68 L1756 101.96 L1758 101.15 L1760 100.21 L1762 99.15 L1764 97.95 L1766 96.59 L1768 95.07 L1770 93.37 L1772 91.49 L1774 89.41 L1776 87.14 L1778 84.65 L1780 81.96 L1782 79.07 L1784 75.98 L1786 72.7 L1788 69.24 L1790 65.63 L1792 61.89 L1794 58.04 L1796 54.13 L1798 50.18 L1800 46.24 L1802 42.37 L1804 38.6 L1806 35.01 L1808 31.64 L1810 28.57 L1812 25.84 L1814 23.52 L1816 21.67 L1818 20.33 L1820 19.53 L1822 19.3 L1824 19.65 L1826 20.55 L1828 22 L1830 23.95 L1832 26.35 L1834 29.16 L1836 32.3 L1838 35.71 L1840 39.35 L1842 43.14 L1844 47.03 L1846 50.97 L1848 54.91 L1850 58.82 L1852 62.65 L1854 66.37 L1856 69.95 L1858 73.37 L1860 76.61 L1862 79.67 L1864 82.52 L1866 85.17 L1868 87.61 L1870 89.85 L1872 91.88 L1874 93.73 L1876 95.39 L1878 96.87 L1880 98.2 L1882 99.37 L1884 100.41 L1886 101.32 L1888 102.12 L1890 102.81 L1892 103.42 L1894 103.94 L1896 104.4 L1898 104.79 L1900 105.14 L1902 105.43 L1904 105.69 L1906 105.92 L1908 106.12 L1910 106.29 L1912 106.44 L1914 106.58 L1916 106.7 L1918 106.81 L1920 106.9 L1922 106.99 L1924 107.07 L1926 107.15 L1928 107.22 L1930 107.28 L1932 107.34 L1934 107.4 L1936 107.46 L1938 107.51" stroke="#1f9a12" stroke-width="2.8" fill="none" stroke-linejoin="round"/>
<path d="M1687.7 232 L1687.7 228.94 L1689.7 228.91 L1691.7 228.88 L1693.7 228.85 L1695.7 228.82 L1697.7 228.78 L1699.7 228.74 L1701.7 228.7 L1703.7 228.66 L1705.7 228.62 L1707.7 228.57 L1709.7 228.52 L1711.7 228.47 L1713.7 228.42 L1715.7 228.36 L1717.7 228.3 L1719.7 228.23 L1721.7 228.16 L1723.7 228.08 L1725.7 228 L1727.7 227.91 L1729.7 227.8 L1731.7 227.69 L1733.7 227.56 L1735.7 227.42 L1737.7 227.25 L1739.7 227.07 L1741.7 226.85 L1743.7 226.61 L1745.7 226.33 L1747.7 226 L1749.7 225.63 L1751.7 225.2 L1753.7 224.7 L1755.7 224.13 L1757.7 223.47 L1759.7 222.72 L1761.7 221.85 L1763.7 220.87 L1765.7 219.76 L1767.7 218.51 L1769.7 217.1 L1771.7 215.52 L1773.7 213.77 L1775.7 211.84 L1777.7 209.71 L1779.7 207.39 L1781.7 204.87 L1783.7 202.16 L1785.7 199.25 L1787.7 196.16 L1789.7 192.89 L1791.7 189.47 L1793.7 185.92 L1795.7 182.26 L1797.7 178.52 L1799.7 174.74 L1801.7 170.96 L1803.7 167.22 L1805.7 163.58 L1807.7 160.08 L1809.7 156.78 L1811.7 153.74 L1813.7 151.02 L1815.7 148.67 L1817.7 146.76 L1819.7 145.32 L1821.7 144.4 L1823.7 144.01 L1825.7 144.18 L1827.7 144.89 L1829.7 146.12 L1831.7 147.85 L1833.7 150.03 L1835.7 152.61 L1837.7 155.53 L1839.7 158.73 L1841.7 162.16 L1843.7 165.75 L1845.7 169.46 L1847.7 173.23 L1849.7 177.01 L1851.7 180.77 L1853.7 184.47 L1855.7 188.07 L1857.7 191.54 L1859.7 194.87 L1861.7 198.03 L1863.7 201.02 L1865.7 203.81 L1867.7 206.41 L1869.7 208.81 L1871.7 211.01 L1873.7 213.02 L1875.7 214.85 L1877.7 216.49 L1879.7 217.96 L1881.7 219.28 L1883.7 220.45 L1885.7 221.48 L1887.7 222.39 L1889.7 223.18 L1891.7 223.88 L1893.7 224.48 L1895.7 225.01 L1897.7 225.46 L1899.7 225.86 L1901.7 226.2 L1903.7 226.5 L1905.7 226.76 L1907.7 226.98 L1909.7 227.18 L1911.7 227.35 L1913.7 227.5 L1915.7 227.64 L1917.7 227.76 L1919.7 227.87 L1921.7 227.96 L1923.7 228.05 L1925.7 228.13 L1927.7 228.21 L1929.7 228.27 L1931.7 228.34 L1933.7 228.4 L1935.7 228.45 L1937.7 228.5 L1939.7 228.55 L1941.7 228.6 L1943.7 228.64 L1945.7 228.69 L1947.7 228.73 L1949.7 228.76 L1951.7 228.8 L1953.7 228.84 L1955.7 228.87 L1957.7 228.9 L1959.7 228.93 L1960.5 232Z" fill="url(#dg1)"/>
<polyline points="1612.9,229.47 1614.5,229.37 1616.1,229.29 1617.7,228.7 1619.3,229.12 1620.9,229.16 1622.5,230.3 1624.1,228.84 1625.7,231.59 1627.3,227.41 1628.9,228.2 1630.5,229.51 1632.1,229.18 1633.7,228.4 1635.3,228.66 1636.9,229.58 1638.5,230.69 1640.1,228.49 1641.7,228.96 1643.3,228.35 1644.9,229.72 1646.5,228.93 1648.1,229.13 1649.7,230.21 1651.3,229.4 1652.9,229.46 1654.5,228.42 1656.1,228.29 1657.7,226.49 1659.3,226.52 1660.9,226.88 1662.5,226.91 1664.1,229.87 1665.7,227.02 1667.3,225.38 1668.9,226.93 1670.5,228.26 1672.1,228.57 1673.7,229.79 1675.3,231.48 1676.9,229.83 1678.5,227.93 1680.1,227.99 1681.7,229.43 1683.3,229.49 1684.9,228.87 1686.5,229.02 1688.1,229.08 1689.7,227.01 1691.3,228.02 1692.9,227.28 1694.5,227.43 1696.1,227.23 1697.7,227.72 1699.3,228.89 1700.9,228.39 1702.5,228.46 1704.1,229.26 1705.7,229.27 1707.3,228.08 1708.9,228.87 1710.5,228.08 1712.1,227.72 1713.7,227.99 1715.3,229.49 1716.9,227.89 1718.5,227.4 1720.1,227.65 1721.7,226.72 1723.3,227.14 1724.9,228.55 1726.5,226.2 1728.1,226.63 1729.7,226.08 1731.3,228.57 1732.9,228.51 1734.5,228.42 1736.1,227.56 1737.7,226.02 1739.3,226.17 1740.9,226.47 1742.5,226.21 1744.1,227.77 1745.7,227.54 1747.3,225.52 1748.9,224.7 1750.5,224.74 1752.1,223.03 1753.7,222.84 1755.3,222.04 1756.9,222.14 1758.5,221.87 1760.1,220.6 1761.7,221.46 1763.3,219.67 1764.9,219.48 1766.5,217.12 1768.1,215.3 1769.7,214.01 1771.3,212.87 1772.9,212.82 1774.5,209.71 1776.1,210.39 1777.7,207.05 1779.3,207.01 1780.9,204.77 1782.5,201.79 1784.1,200.41 1785.7,197.22 1787.3,194.74 1788.9,192.24 1790.5,192.54 1792.1,187.58 1793.7,186.43 1795.3,182.29 1796.9,178.17 1798.5,174.73 1800.1,173.3 1801.7,169.76 1803.3,165.91 1804.9,163.94 1806.5,161.36 1808.1,159.64 1809.7,155.4 1811.3,154.75 1812.9,153.32 1814.5,149.84 1816.1,147.6 1817.7,146.69 1819.3,145.12 1820.9,145.12 1822.5,144.89 1824.1,144.26 1825.7,142.98 1827.3,141.7 1828.9,143.84 1830.5,144.15 1832.1,147.56 1833.7,151.09 1835.3,152.43 1836.9,155 1838.5,157.98 1840.1,160.43 1841.7,161.02 1843.3,162.68 1844.9,165.36 1846.5,168.77 1848.1,171.05 1849.7,174.69 1851.3,179.18 1852.9,181.26 1854.5,184.05 1856.1,185.79 1857.7,188.77 1859.3,192.65 1860.9,196.38 1862.5,198.41 1864.1,199.44 1865.7,203.75 1867.3,202.94 1868.9,204.86 1870.5,206.37 1872.1,208.7 1873.7,211.29 1875.3,212.34 1876.9,217.63 1878.5,219.7 1880.1,220.12 1881.7,219.36 1883.3,218.17 1884.9,220.6 1886.5,222.01 1888.1,222.7 1889.7,224.37 1891.3,224.57 1892.9,222.9 1894.5,221.58 1896.1,222.51 1897.7,223.74 1899.3,225.09 1900.9,225.66 1902.5,225.62 1904.1,225.03 1905.7,226.17 1907.3,227.1 1908.9,226.36 1910.5,225.57 1912.1,225.72 1913.7,225.23 1915.3,226.26 1916.9,225.44 1918.5,226.57 1920.1,226.06 1921.7,227.17 1923.3,229.87 1924.9,227.83 1926.5,227.92 1928.1,230.38 1929.7,230.34 1931.3,229.58 1932.9,229.5 1934.5,228.62 1936.1,226.91 1937.7,224.66 1939.3,225.28 1940.9,225.79 1942.5,227.91 1944.1,228.33 1945.7,226.66 1947.3,227.79 1948.9,226.69 1950.5,228.59 1952.1,227.41 1953.7,228.69 1955.3,228.7 1956.9,228.09 1958.5,229.38 1960.1,228.8 1961.7,226.11 1963.3,227.52 1964.9,226.93 1966.5,227.16 1968.1,227.98 1969.7,229.01 1971.3,229.03 1972.9,227.79 1974.5,227.4 1976.1,226.71 1977.7,227.24 1979.3,227.12 1980.9,228.57 1982.5,227.91 1984.1,229.25 1985.7,230.95 1987.3,230.59 1988.9,229.68 1990.5,230.58 1992.1,228.97 1993.7,228.85 1995.3,230.25 1996.9,230.3 1998.5,229.56 2000.1,228.99 2001.7,228.43 2003.3,230.17 2004.9,231.74 2006.5,232.18 2008.1,230.94 2009.7,230.5 2011.3,229.02 2012.9,227.85 2014.5,229 2016.1,229.7 2017.7,228.09 2019.3,227.17 2020.9,228.28 2022.5,227.18 2024.1,229.07 2025.7,230.33 2027.3,228.65" fill="none" stroke="none" marker-start="url(#dm1)" marker-mid="url(#dm1)" marker-end="url(#dm1)"/>
<line x1="1611.9" y1="232" x2="2029.5" y2="232" stroke="#b877cc" stroke-width="2.2" />
<path d="M1611.9 231.37 L1613.9 231.35 L1615.9 231.34 L1617.9 231.33 L1619.9 231.32 L1621.9 231.3 L1623.9 231.29 L1625.9 231.28 L1627.9 231.26 L1629.9 231.25 L1631.9 231.23 L1633.9 231.22 L1635.9 231.2 L1637.9 231.18 L1639.9 231.16 L1641.9 231.15 L1643.9 231.13 L1645.9 231.11 L1647.9 231.09 L1649.9 231.07 L1651.9 231.05 L1653.9 231.03 L1655.9 231 L1657.9 230.98 L1659.9 230.96 L1661.9 230.93 L1663.9 230.91 L1665.9 230.88 L1667.9 230.85 L1669.9 230.82 L1671.9 230.79 L1673.9 230.76 L1675.9 230.73 L1677.9 230.7 L1679.9 230.66 L1681.9 230.63 L1683.9 230.59 L1685.9 230.55 L1687.9 230.51 L1689.9 230.47 L1691.9 230.42 L1693.9 230.38 L1695.9 230.33 L1697.9 230.28 L1699.9 230.22 L1701.9 230.17 L1703.9 230.11 L1705.9 230.05 L1707.9 229.98 L1709.9 229.91 L1711.9 229.84 L1713.9 229.75 L1715.9 229.67 L1717.9 229.58 L1719.9 229.47 L1721.9 229.36 L1723.9 229.24 L1725.9 229.11 L1727.9 228.96 L1729.9 228.79 L1731.9 228.6 L1733.9 228.39 L1735.9 228.15 L1737.9 227.88 L1739.9 227.57 L1741.9 227.21 L1743.9 226.81 L1745.9 226.35 L1747.9 225.82 L1749.9 225.21 L1751.9 224.52 L1753.9 223.73 L1755.9 222.83 L1757.9 221.96 L1759.9 221 L1761.9 219.92 L1763.9 218.71 L1765.9 217.37 L1767.9 215.88 L1769.9 214.23 L1771.9 212.42 L1773.9 210.44 L1775.9 208.28 L1777.9 205.96 L1779.9 203.45 L1781.9 200.77 L1783.9 197.93 L1785.9 194.93 L1787.9 191.77 L1789.9 188.49 L1791.9 185.09 L1793.9 181.6 L1795.9 178.04 L1797.9 174.44 L1799.9 170.85 L1801.9 167.28 L1803.9 163.79 L1805.9 160.42 L1807.9 157.21 L1809.9 154.22 L1811.9 151.48 L1813.9 149.05 L1815.9 146.98 L1817.9 145.31 L1819.9 144.07 L1821.9 143.3 L1823.9 143 L1825.9 143.2 L1827.9 143.88 L1829.9 145.03 L1831.9 146.61 L1833.9 148.61 L1835.9 150.97 L1837.9 153.65 L1839.9 156.6 L1841.9 159.77 L1843.9 163.11 L1845.9 166.58 L1847.9 170.13 L1849.9 173.72 L1851.9 177.32 L1853.9 180.89 L1855.9 184.4 L1857.9 187.82 L1859.9 191.13 L1861.9 194.31 L1863.9 197.34 L1865.9 200.22 L1867.9 202.93 L1869.9 205.47 L1871.9 207.83 L1873.9 210.02 L1875.9 212.03 L1877.9 213.88 L1879.9 215.56 L1881.9 217.08 L1883.9 218.46 L1885.9 219.69 L1887.9 220.79 L1889.9 221.78 L1891.9 222.65 L1893.9 223.56 L1895.9 224.37 L1897.9 225.08 L1899.9 225.7 L1901.9 226.25 L1903.9 226.72 L1905.9 227.14 L1907.9 227.5 L1909.9 227.82 L1911.9 228.1 L1913.9 228.35 L1915.9 228.56 L1917.9 228.75 L1919.9 228.92 L1921.9 229.08 L1923.9 229.22 L1925.9 229.34 L1927.9 229.45 L1929.9 229.56 L1931.9 229.65 L1933.9 229.74 L1935.9 229.82 L1937.9 229.9 L1939.9 229.97 L1941.9 230.03 L1943.9 230.1 L1945.9 230.16 L1947.9 230.21 L1949.9 230.27 L1951.9 230.32 L1953.9 230.37 L1955.9 230.41 L1957.9 230.46 L1959.9 230.5 L1961.9 230.54 L1963.9 230.58 L1965.9 230.62 L1967.9 230.66 L1969.9 230.69 L1971.9 230.72 L1973.9 230.76 L1975.9 230.79 L1977.9 230.82 L1979.9 230.85 L1981.9 230.87 L1983.9 230.9 L1985.9 230.93 L1987.9 230.95 L1989.9 230.98 L1991.9 231 L1993.9 231.02 L1995.9 231.04 L1997.9 231.07 L1999.9 231.09 L2001.9 231.11 L2003.9 231.12 L2005.9 231.14 L2007.9 231.16 L2009.9 231.18 L2011.9 231.2 L2013.9 231.21 L2015.9 231.23 L2017.9 231.24 L2019.9 231.26 L2021.9 231.27 L2023.9 231.29 L2025.9 231.3 L2027.9 231.31" stroke="#c594d3" stroke-width="0" fill="none" stroke-linejoin="round"/>
<path d="M1706.3 230 L1708.3 229.96 L1710.3 229.91 L1712.3 229.86 L1714.3 229.8 L1716.3 229.74 L1718.3 229.68 L1720.3 229.61 L1722.3 229.54 L1724.3 229.46 L1726.3 229.37 L1728.3 229.28 L1730.3 229.17 L1732.3 229.05 L1734.3 228.92 L1736.3 228.77 L1738.3 228.6 L1740.3 228.4 L1742.3 228.18 L1744.3 227.93 L1746.3 227.63 L1748.3 227.3 L1750.3 226.91 L1752.3 226.46 L1754.3 225.94 L1756.3 225.34 L1758.3 224.65 L1760.3 223.87 L1762.3 222.97 L1764.3 221.96 L1766.3 220.8 L1768.3 219.5 L1770.3 218.04 L1772.3 216.42 L1774.3 214.61 L1776.3 212.62 L1778.3 210.44 L1780.3 208.06 L1782.3 205.48 L1784.3 202.71 L1786.3 199.74 L1788.3 196.6 L1790.3 193.28 L1792.3 189.82 L1794.3 186.23 L1796.3 182.55 L1798.3 178.79 L1800.3 175.01 L1802.3 171.23 L1804.3 167.52 L1806.3 163.91 L1808.3 160.46 L1810.3 157.23 L1812.3 154.28 L1814.3 151.67 L1816.3 149.45 L1818.3 147.67 L1820.3 146.39 L1822.3 145.62 L1824.3 145.4 L1826.3 145.73 L1828.3 146.6 L1830.3 147.99 L1832.3 149.86 L1834.3 152.16 L1836.3 154.85 L1838.3 157.86 L1840.3 161.14 L1842.3 164.62 L1844.3 168.25 L1846.3 171.98 L1848.3 175.76 L1850.3 179.55 L1852.3 183.29 L1854.3 186.96 L1856.3 190.52 L1858.3 193.96 L1860.3 197.24 L1862.3 200.35 L1864.3 203.28 L1866.3 206.01 L1868.3 208.55 L1870.3 210.89 L1872.3 213.04 L1874.3 214.99 L1876.3 216.76 L1878.3 218.35 L1880.3 219.77 L1882.3 221.04 L1884.3 222.17 L1886.3 223.16 L1888.3 224.04 L1890.3 224.8 L1892.3 225.47 L1894.3 226.05 L1896.3 226.55 L1898.3 226.99 L1900.3 227.37 L1902.3 227.7 L1904.3 227.98 L1906.3 228.23 L1908.3 228.45 L1910.3 228.63 L1912.3 228.8 L1914.3 228.95 L1916.3 229.08 L1918.3 229.19 L1920.3 229.3 L1922.3 229.39 L1924.3 229.48 L1926.3 229.55 L1928.3 229.63 L1930.3 229.69 L1932.3 229.76 L1934.3 229.81 L1936.3 229.87 L1938.3 229.92 L1940.3 229.97" stroke="#8a2a9c" stroke-width="2.8" fill="none" stroke-linejoin="round"/>
<path d="M1690.5 355.7 L1690.5 352.58 L1692.5 352.54 L1694.5 352.51 L1696.5 352.48 L1698.5 352.44 L1700.5 352.4 L1702.5 352.36 L1704.5 352.32 L1706.5 352.28 L1708.5 352.23 L1710.5 352.18 L1712.5 352.13 L1714.5 352.08 L1716.5 352.02 L1718.5 351.96 L1720.5 351.89 L1722.5 351.82 L1724.5 351.74 L1726.5 351.66 L1728.5 351.57 L1730.5 351.47 L1732.5 351.36 L1734.5 351.24 L1736.5 351.1 L1738.5 350.95 L1740.5 350.78 L1742.5 350.58 L1744.5 350.35 L1746.5 350.09 L1748.5 349.79 L1750.5 349.45 L1752.5 349.05 L1754.5 348.59 L1756.5 348.06 L1758.5 347.45 L1760.5 346.75 L1762.5 345.95 L1764.5 345.03 L1766.5 343.99 L1768.5 342.81 L1770.5 341.47 L1772.5 339.97 L1774.5 338.3 L1776.5 336.44 L1778.5 334.38 L1780.5 332.12 L1782.5 329.65 L1784.5 326.97 L1786.5 324.08 L1788.5 320.98 L1790.5 317.69 L1792.5 314.22 L1794.5 310.58 L1796.5 306.8 L1798.5 302.91 L1800.5 298.93 L1802.5 294.91 L1804.5 290.88 L1806.5 286.91 L1808.5 283.03 L1810.5 279.3 L1812.5 275.79 L1814.5 272.56 L1816.5 269.66 L1818.5 267.17 L1820.5 265.13 L1822.5 263.6 L1824.5 262.62 L1826.5 262.21 L1828.5 262.39 L1830.5 263.14 L1832.5 264.46 L1834.5 266.3 L1836.5 268.62 L1838.5 271.36 L1840.5 274.46 L1842.5 277.87 L1844.5 281.52 L1846.5 285.34 L1848.5 289.29 L1850.5 293.3 L1852.5 297.32 L1854.5 301.32 L1856.5 305.26 L1858.5 309.09 L1860.5 312.78 L1862.5 316.32 L1864.5 319.69 L1866.5 322.86 L1868.5 325.84 L1870.5 328.6 L1872.5 331.15 L1874.5 333.5 L1876.5 335.64 L1878.5 337.58 L1880.5 339.33 L1882.5 340.89 L1884.5 342.29 L1886.5 343.53 L1888.5 344.63 L1890.5 345.6 L1892.5 346.44 L1894.5 347.18 L1896.5 347.83 L1898.5 348.39 L1900.5 348.87 L1902.5 349.3 L1904.5 349.66 L1906.5 349.98 L1908.5 350.25 L1910.5 350.49 L1912.5 350.7 L1914.5 350.88 L1916.5 351.04 L1918.5 351.19 L1920.5 351.32 L1922.5 351.43 L1924.5 351.53 L1926.5 351.63 L1928.5 351.71 L1930.5 351.79 L1932.5 351.86 L1934.5 351.93 L1936.5 351.99 L1938.5 352.05 L1940.5 352.11 L1942.5 352.16 L1944.5 352.21 L1946.5 352.26 L1948.5 352.3 L1950.5 352.35 L1952.5 352.39 L1954.5 352.42 L1956.5 352.46 L1958.5 352.5 L1960.5 352.53 L1962.5 352.56 L1963.3 355.7Z" fill="url(#dg2)"/>
<polyline points="1612.9,351.21 1614.5,351.67 1616.1,352.99 1617.7,352.78 1619.3,353.01 1620.9,351.43 1622.5,351.78 1624.1,351.83 1625.7,353.24 1627.3,353.28 1628.9,353.11 1630.5,352.26 1632.1,351.64 1633.7,352.13 1635.3,353.79 1636.9,351.44 1638.5,349.07 1640.1,352.66 1641.7,354.42 1643.3,354.47 1644.9,354.21 1646.5,353.24 1648.1,352.7 1649.7,351.49 1651.3,352.66 1652.9,352.5 1654.5,350.58 1656.1,350.92 1657.7,351.07 1659.3,351.06 1660.9,353.76 1662.5,354.48 1664.1,350.44 1665.7,351.85 1667.3,353.3 1668.9,354.43 1670.5,354.55 1672.1,351.68 1673.7,352.97 1675.3,352.89 1676.9,354.31 1678.5,354.1 1680.1,351.89 1681.7,354.1 1683.3,352.2 1684.9,353.49 1686.5,353.53 1688.1,352.49 1689.7,350.06 1691.3,350.06 1692.9,350 1694.5,350.72 1696.1,351.11 1697.7,353.27 1699.3,353.28 1700.9,354.07 1702.5,352.06 1704.1,351.6 1705.7,352.75 1707.3,353.48 1708.9,353.6 1710.5,352.45 1712.1,351.1 1713.7,353.26 1715.3,351.93 1716.9,351.43 1718.5,353.16 1720.1,352.6 1721.7,351.49 1723.3,352.36 1724.9,351.73 1726.5,352.93 1728.1,352.09 1729.7,350.82 1731.3,353.48 1732.9,353.75 1734.5,352.7 1736.1,351.73 1737.7,349.79 1739.3,349.37 1740.9,348.3 1742.5,349.84 1744.1,351.03 1745.7,350.01 1747.3,349.1 1748.9,349.35 1750.5,348.94 1752.1,349.1 1753.7,348.97 1755.3,348.6 1756.9,348.38 1758.5,346.28 1760.1,346.54 1761.7,343.5 1763.3,343.57 1764.9,342.82 1766.5,342.64 1768.1,341.48 1769.7,340.73 1771.3,337.6 1772.9,336.46 1774.5,334.85 1776.1,334.42 1777.7,333.24 1779.3,331.06 1780.9,328.84 1782.5,326.4 1784.1,324.61 1785.7,323.13 1787.3,321.49 1788.9,318.52 1790.5,314.65 1792.1,311.4 1793.7,309.88 1795.3,305.89 1796.9,302.98 1798.5,297.92 1800.1,296.96 1801.7,294.25 1803.3,290.63 1804.9,287.69 1806.5,285.58 1808.1,282.41 1809.7,279.75 1811.3,276.89 1812.9,272.96 1814.5,269.17 1816.1,268.98 1817.7,266.61 1819.3,266.44 1820.9,265.93 1822.5,263.67 1824.1,262.02 1825.7,261.17 1827.3,263.13 1828.9,262.93 1830.5,262.97 1832.1,264.78 1833.7,264.66 1835.3,265.76 1836.9,267.35 1838.5,269.85 1840.1,271.13 1841.7,273.7 1843.3,277.24 1844.9,279.39 1846.5,281.9 1848.1,286.19 1849.7,288.52 1851.3,292.04 1852.9,296.44 1854.5,299.6 1856.1,304.52 1857.7,306.65 1859.3,307.58 1860.9,311.23 1862.5,314.33 1864.1,317.79 1865.7,318.53 1867.3,321.27 1868.9,325.06 1870.5,327.24 1872.1,330.26 1873.7,330.88 1875.3,333.14 1876.9,334.63 1878.5,337.72 1880.1,337.46 1881.7,340.04 1883.3,341 1884.9,341.82 1886.5,341.92 1888.1,341.87 1889.7,341.72 1891.3,343.75 1892.9,343.91 1894.5,346.4 1896.1,347.37 1897.7,348.15 1899.3,349.46 1900.9,349.11 1902.5,350.06 1904.1,348.04 1905.7,348.21 1907.3,349.91 1908.9,349.85 1910.5,351.7 1912.1,351.29 1913.7,350.13 1915.3,351.81 1916.9,351.56 1918.5,351.1 1920.1,351 1921.7,350.26 1923.3,350.27 1924.9,351.51 1926.5,350.74 1928.1,350.86 1929.7,350.32 1931.3,350.86 1932.9,351.72 1934.5,352.25 1936.1,351.69 1937.7,350.96 1939.3,351.61 1940.9,352.63 1942.5,353.01 1944.1,355.41 1945.7,354.18 1947.3,352.77 1948.9,352.21 1950.5,353.2 1952.1,351.81 1953.7,351.78 1955.3,350.28 1956.9,350.82 1958.5,352.13 1960.1,353.25 1961.7,353.51 1963.3,354.11 1964.9,352.68 1966.5,354.21 1968.1,355.33 1969.7,352.48 1971.3,351.32 1972.9,352.55 1974.5,353.3 1976.1,354.37 1977.7,353.83 1979.3,352.28 1980.9,351.67 1982.5,353.56 1984.1,353.19 1985.7,351.18 1987.3,351.59 1988.9,352.74 1990.5,352.72 1992.1,353.36 1993.7,353.61 1995.3,353.28 1996.9,352.01 1998.5,352.35 2000.1,353.27 2001.7,352.45 2003.3,353.7 2004.9,355.37 2006.5,355.17 2008.1,354.63 2009.7,353.99 2011.3,352.66 2012.9,354.35 2014.5,353.39 2016.1,352.47 2017.7,354.5 2019.3,354.92 2020.9,353.55 2022.5,353.59 2024.1,353.69 2025.7,354.26 2027.3,351.83" fill="none" stroke="none" marker-start="url(#dm2)" marker-mid="url(#dm2)" marker-end="url(#dm2)"/>
<line x1="1611.9" y1="355.7" x2="2029.5" y2="355.7" stroke="#e05050" stroke-width="2.2" />
<path d="M1611.9 355.04 L1613.9 355.03 L1615.9 355.02 L1617.9 355.01 L1619.9 354.99 L1621.9 354.98 L1623.9 354.97 L1625.9 354.95 L1627.9 354.94 L1629.9 354.92 L1631.9 354.91 L1633.9 354.89 L1635.9 354.87 L1637.9 354.86 L1639.9 354.84 L1641.9 354.82 L1643.9 354.8 L1645.9 354.78 L1647.9 354.76 L1649.9 354.74 L1651.9 354.72 L1653.9 354.7 L1655.9 354.67 L1657.9 354.65 L1659.9 354.63 L1661.9 354.6 L1663.9 354.58 L1665.9 354.55 L1667.9 354.52 L1669.9 354.49 L1671.9 354.46 L1673.9 354.43 L1675.9 354.4 L1677.9 354.36 L1679.9 354.33 L1681.9 354.29 L1683.9 354.26 L1685.9 354.22 L1687.9 354.18 L1689.9 354.13 L1691.9 354.09 L1693.9 354.04 L1695.9 353.99 L1697.9 353.94 L1699.9 353.89 L1701.9 353.84 L1703.9 353.78 L1705.9 353.72 L1707.9 353.65 L1709.9 353.58 L1711.9 353.51 L1713.9 353.43 L1715.9 353.35 L1717.9 353.26 L1719.9 353.16 L1721.9 353.06 L1723.9 352.94 L1725.9 352.82 L1727.9 352.68 L1729.9 352.53 L1731.9 352.36 L1733.9 352.17 L1735.9 351.96 L1737.9 351.71 L1739.9 351.44 L1741.9 351.13 L1743.9 350.77 L1745.9 350.36 L1747.9 349.89 L1749.9 349.36 L1751.9 348.75 L1753.9 348.05 L1755.9 347.25 L1757.9 346.36 L1759.9 345.5 L1761.9 344.53 L1763.9 343.43 L1765.9 342.2 L1767.9 340.83 L1769.9 339.31 L1771.9 337.63 L1773.9 335.77 L1775.9 333.74 L1777.9 331.53 L1779.9 329.13 L1781.9 326.54 L1783.9 323.77 L1785.9 320.81 L1787.9 317.69 L1789.9 314.4 L1791.9 310.96 L1793.9 307.39 L1795.9 303.72 L1797.9 299.96 L1799.9 296.15 L1801.9 292.32 L1803.9 288.52 L1805.9 284.77 L1807.9 281.13 L1809.9 277.65 L1811.9 274.37 L1813.9 271.34 L1815.9 268.62 L1817.9 266.26 L1819.9 264.31 L1821.9 262.81 L1823.9 261.78 L1825.9 261.27 L1827.9 261.27 L1829.9 261.78 L1831.9 262.81 L1833.9 264.31 L1835.9 266.26 L1837.9 268.62 L1839.9 271.34 L1841.9 274.37 L1843.9 277.65 L1845.9 281.13 L1847.9 284.77 L1849.9 288.52 L1851.9 292.32 L1853.9 296.15 L1855.9 299.96 L1857.9 303.72 L1859.9 307.39 L1861.9 310.96 L1863.9 314.4 L1865.9 317.69 L1867.9 320.81 L1869.9 323.77 L1871.9 326.54 L1873.9 329.13 L1875.9 331.53 L1877.9 333.74 L1879.9 335.77 L1881.9 337.63 L1883.9 339.31 L1885.9 340.83 L1887.9 342.2 L1889.9 343.43 L1891.9 344.53 L1893.9 345.5 L1895.9 346.36 L1897.9 347.25 L1899.9 348.05 L1901.9 348.75 L1903.9 349.36 L1905.9 349.89 L1907.9 350.36 L1909.9 350.77 L1911.9 351.13 L1913.9 351.44 L1915.9 351.71 L1917.9 351.96 L1919.9 352.17 L1921.9 352.36 L1923.9 352.53 L1925.9 352.68 L1927.9 352.82 L1929.9 352.94 L1931.9 353.06 L1933.9 353.16 L1935.9 353.26 L1937.9 353.35 L1939.9 353.43 L1941.9 353.51 L1943.9 353.58 L1945.9 353.65 L1947.9 353.72 L1949.9 353.78 L1951.9 353.84 L1953.9 353.89 L1955.9 353.94 L1957.9 353.99 L1959.9 354.04 L1961.9 354.09 L1963.9 354.13 L1965.9 354.18 L1967.9 354.22 L1969.9 354.26 L1971.9 354.29 L1973.9 354.33 L1975.9 354.36 L1977.9 354.4 L1979.9 354.43 L1981.9 354.46 L1983.9 354.49 L1985.9 354.52 L1987.9 354.55 L1989.9 354.58 L1991.9 354.6 L1993.9 354.63 L1995.9 354.65 L1997.9 354.67 L1999.9 354.7 L2001.9 354.72 L2003.9 354.74 L2005.9 354.76 L2007.9 354.78 L2009.9 354.8 L2011.9 354.82 L2013.9 354.84 L2015.9 354.86 L2017.9 354.87 L2019.9 354.89 L2021.9 354.91 L2023.9 354.92 L2025.9 354.94 L2027.9 354.95" stroke="#f08080" stroke-width="0" fill="none" stroke-linejoin="round"/>
<path d="M1709.1 353.62 L1711.1 353.57 L1713.1 353.51 L1715.1 353.46 L1717.1 353.4 L1719.1 353.34 L1721.1 353.27 L1723.1 353.2 L1725.1 353.12 L1727.1 353.04 L1729.1 352.94 L1731.1 352.84 L1733.1 352.73 L1735.1 352.6 L1737.1 352.46 L1739.1 352.3 L1741.1 352.12 L1743.1 351.91 L1745.1 351.68 L1747.1 351.41 L1749.1 351.09 L1751.1 350.73 L1753.1 350.32 L1755.1 349.84 L1757.1 349.29 L1759.1 348.65 L1761.1 347.92 L1763.1 347.09 L1765.1 346.13 L1767.1 345.05 L1769.1 343.82 L1771.1 342.44 L1773.1 340.89 L1775.1 339.16 L1777.1 337.24 L1779.1 335.12 L1781.1 332.8 L1783.1 330.26 L1785.1 327.52 L1787.1 324.57 L1789.1 321.42 L1791.1 318.07 L1793.1 314.55 L1795.1 310.86 L1797.1 307.04 L1799.1 303.12 L1801.1 299.13 L1803.1 295.1 L1805.1 291.08 L1807.1 287.13 L1809.1 283.29 L1811.1 279.62 L1813.1 276.19 L1815.1 273.05 L1817.1 270.27 L1819.1 267.91 L1821.1 266.02 L1823.1 264.65 L1825.1 263.84 L1827.1 263.6 L1829.1 263.95 L1831.1 264.88 L1833.1 266.36 L1835.1 268.34 L1837.1 270.8 L1839.1 273.65 L1841.1 276.86 L1843.1 280.34 L1845.1 284.05 L1847.1 287.91 L1849.1 291.88 L1851.1 295.91 L1853.1 299.93 L1855.1 303.91 L1857.1 307.82 L1859.1 311.61 L1861.1 315.26 L1863.1 318.75 L1865.1 322.06 L1867.1 325.18 L1869.1 328.09 L1871.1 330.79 L1873.1 333.28 L1875.1 335.56 L1877.1 337.64 L1879.1 339.52 L1881.1 341.21 L1883.1 342.73 L1885.1 344.08 L1887.1 345.28 L1889.1 346.34 L1891.1 347.26 L1893.1 348.08 L1895.1 348.79 L1897.1 349.4 L1899.1 349.94 L1901.1 350.41 L1903.1 350.81 L1905.1 351.16 L1907.1 351.46 L1909.1 351.73 L1911.1 351.96 L1913.1 352.16 L1915.1 352.33 L1917.1 352.49 L1919.1 352.63 L1921.1 352.75 L1923.1 352.86 L1925.1 352.96 L1927.1 353.05 L1929.1 353.14 L1931.1 353.21 L1933.1 353.28 L1935.1 353.35 L1937.1 353.41 L1939.1 353.47 L1941.1 353.52 L1943.1 353.58" stroke="#b81414" stroke-width="2.8" fill="none" stroke-linejoin="round"/>
</g>
<line x1="1824.2" y1="10.5" x2="1825.8" y2="336" stroke="#000" stroke-width="2" stroke-dasharray="7 3.5"/>
<rect x="1611.9" y="5" width="417.6" height="359.4" fill="none" stroke="#000" stroke-width="2"/>
<line x1="1611.9" y1="126" x2="1614.9" y2="126" stroke="#000" stroke-width="1.5" />
<line x1="1611.9" y1="246" x2="1614.9" y2="246" stroke="#000" stroke-width="1.5" />
<line x1="1793.1" y1="211.2" x2="1815.2" y2="211.2" stroke="#000" stroke-width="1.6" />
<polygon points="1823.2,211.2 1813.2,213.7 1813.2,208.7" fill="#000"/>
<line x1="1858" y1="211.2" x2="1835.2" y2="211.2" stroke="#000" stroke-width="1.6" />
<polygon points="1827.2,211.2 1837.2,208.7 1837.2,213.7" fill="#000"/>
<line x1="1824.2" y1="205" x2="1824.2" y2="216" stroke="#000" stroke-width="1.2" />
<line x1="1826.2" y1="208" x2="1826.2" y2="217" stroke="#000" stroke-width="1.2" />
<line x1="1883.7" y1="319.6" x2="1859.18" y2="338.08" stroke="#000" stroke-width="2" />
<polygon points="1849.6,345.3 1859.17,333.08 1863.99,339.47" fill="#000"/>
<text x="1539.5" y="46.8" font-size="57" textLength="31.5" lengthAdjust="spacingAndGlyphs" stroke="#000" stroke-width="1">d</text>
<text x="1615" y="35.1" font-size="27.3" textLength="141" lengthAdjust="spacingAndGlyphs" stroke="#000" stroke-width="0.35">QFgel-PFOA</text>
<text x="1615" y="148.3" font-size="27.3" textLength="137.5" lengthAdjust="spacingAndGlyphs" stroke="#000" stroke-width="0.35">QFgel-PFOS</text>
<text x="1618.5" y="269.4" font-size="27.3" textLength="66.5" lengthAdjust="spacingAndGlyphs" stroke="#000" stroke-width="0.35">QFgel</text>
<text x="1981" y="31.7" font-size="27.3" textLength="43.5" lengthAdjust="spacingAndGlyphs" stroke="#000" stroke-width="0.35">F 1<tspan font-style="italic">s</tspan></text>
<text x="1857.5" y="182.9" font-size="26.25" textLength="157" lengthAdjust="spacingAndGlyphs" stroke="#000" stroke-width="0.35" font-style="italic">Shift=0.08 eV</text>
<text x="1879" y="308.7" font-size="26.25" textLength="35.5" lengthAdjust="spacingAndGlyphs" stroke="#000" stroke-width="0.35">C-F</text>
<text x="1598.2" y="174" font-size="32.55" text-anchor="middle" textLength="230" lengthAdjust="spacingAndGlyphs" stroke="#000" stroke-width="0.35" transform="rotate(-90 1598.2 174)">Intensity (arb.units)</text>
<line x1="1611.9" y1="364.4" x2="1611.9" y2="371.9" stroke="#000" stroke-width="1.8" />
<line x1="1695.3" y1="364.4" x2="1695.3" y2="371.9" stroke="#000" stroke-width="1.8" />
<line x1="1778.7" y1="364.4" x2="1778.7" y2="371.9" stroke="#000" stroke-width="1.8" />
<line x1="1862.1" y1="364.4" x2="1862.1" y2="371.9" stroke="#000" stroke-width="1.8" />
<line x1="1945.5" y1="364.4" x2="1945.5" y2="371.9" stroke="#000" stroke-width="1.8" />
<line x1="2029.1" y1="364.4" x2="2029.1" y2="371.9" stroke="#000" stroke-width="1.8" />
<line x1="1653.6" y1="364.4" x2="1653.6" y2="368.4" stroke="#000" stroke-width="1.6" />
<line x1="1737" y1="364.4" x2="1737" y2="368.4" stroke="#000" stroke-width="1.6" />
<line x1="1820.4" y1="364.4" x2="1820.4" y2="368.4" stroke="#000" stroke-width="1.6" />
<line x1="1903.8" y1="364.4" x2="1903.8" y2="368.4" stroke="#000" stroke-width="1.6" />
<line x1="1987.3" y1="364.4" x2="1987.3" y2="368.4" stroke="#000" stroke-width="1.6" />
<text x="1611.9" y="404" font-size="26.25" text-anchor="middle" textLength="43.5" lengthAdjust="spacingAndGlyphs" stroke="#000" stroke-width="0.35">696</text>
<text x="1695.3" y="404" font-size="26.25" text-anchor="middle" textLength="43.5" lengthAdjust="spacingAndGlyphs" stroke="#000" stroke-width="0.35">693</text>
<text x="1778.7" y="404" font-size="26.25" text-anchor="middle" textLength="43.5" lengthAdjust="spacingAndGlyphs" stroke="#000" stroke-width="0.35">690</text>
<text x="1862.1" y="404" font-size="26.25" text-anchor="middle" textLength="43.5" lengthAdjust="spacingAndGlyphs" stroke="#000" stroke-width="0.35">687</text>
<text x="1945.5" y="404" font-size="26.25" text-anchor="middle" textLength="43.5" lengthAdjust="spacingAndGlyphs" stroke="#000" stroke-width="0.35">684</text>
<text x="2029.1" y="404" font-size="26.25" text-anchor="middle" textLength="43.5" lengthAdjust="spacingAndGlyphs" stroke="#000" stroke-width="0.35">681</text>
<text x="1821" y="435.5" font-size="27.3" text-anchor="middle" textLength="230" lengthAdjust="spacingAndGlyphs" stroke="#000" stroke-width="0.35">Binding energy (eV)</text>
</g>
<g>
<rect x="274.5" y="751" width="14.7" height="121.5" fill="#dde8f1"/>
<rect x="342.1" y="729.6" width="12" height="141" fill="#fde1e1"/>
<line x1="287" y1="731" x2="287" y2="641" stroke="#7baaca" stroke-width="4.2" />
<polygon points="287,627 279.3,644.5 294.7,644.5" fill="#7baaca"/>
<path d="M23.4 670.4 C27 670.27 39.35 670.15 45 669.6 C50.65 669.05 53.8 669.37 57.3 667.1 C60.8 664.83 62.97 660.78 66 656 C69.03 651.22 72.42 646.35 75.5 638.4 C78.58 630.45 82 618.6 84.5 608.3 C87 598 88.92 584.65 90.5 576.6 C92.08 568.55 92.98 563.4 94 560 C95.02 556.6 95.68 555.87 96.6 556.2 C97.52 556.53 98.25 554.58 99.5 562 C100.75 569.42 102.7 587.97 104.1 600.7 C105.5 613.43 106.75 629.35 107.9 638.4 C109.05 647.45 109.87 650.72 111 655 C112.13 659.28 113.37 661.93 114.7 664.1 C116.03 666.27 117.25 666.95 119 668 C120.75 669.05 121.7 669.85 125.2 670.4 C128.7 670.95 135.2 671.27 140 671.3 C144.8 671.33 151.05 670.88 154 670.6 C156.95 670.32 156.53 669.57 157.7 669.6 C158.87 669.63 158.12 670.47 161 670.8 C163.88 671.13 168.5 671.48 175 671.6 C181.5 671.72 195.83 671.52 200 671.5" stroke="#a866ad" stroke-width="2" fill="none"  stroke-linejoin="round" stroke-linecap="round"/>
<path d="M206.7 671.6 C209.75 671.33 219.45 670.72 225 670 C230.55 669.28 233.83 668.55 240 667.3 C246.17 666.05 254.88 664.07 262 662.5 C269.12 660.93 276.98 658.8 282.7 657.9 C288.42 657 291.75 657.03 296.3 657.1 C300.85 657.17 305.15 657.88 310 658.3 C314.85 658.72 320.73 659.52 325.4 659.6 C330.07 659.68 334.02 659.08 338 658.8 C341.98 658.52 345.97 657.82 349.3 657.9 C352.63 657.98 355.17 658.73 358 659.3 C360.83 659.87 363.2 660.25 366.3 661.3 C369.4 662.35 373.47 664.25 376.6 665.6 C379.73 666.95 382.03 668.53 385.1 669.4 C388.17 670.27 390.73 670.5 395 670.8 C399.27 671.1 404.87 671.2 410.7 671.2 C416.53 671.2 423.17 670.93 430 670.8 C436.83 670.67 448.08 670.47 451.7 670.4" stroke="#a866ad" stroke-width="2" fill="none"  stroke-linejoin="round" stroke-linecap="round"/>
<path d="M23.4 774.7 C25.83 774.52 33.6 774.23 38 773.6 C42.4 772.97 46.63 772 49.8 770.9 C52.97 769.8 54.48 768.75 57 767 C59.52 765.25 62.4 762.98 64.9 760.4 C67.4 757.82 69.73 754.78 72 751.5 C74.27 748.22 76.17 746.02 78.5 740.7 C80.83 735.38 84 726.38 86 719.6 C88 712.82 89.17 705.93 90.5 700 C91.83 694.07 92.87 687.72 94 684 C95.13 680.28 96.22 677.7 97.3 677.7 C98.38 677.7 99.37 679.53 100.5 684 C101.63 688.47 102.87 695.55 104.1 704.5 C105.33 713.45 106.92 729.62 107.9 737.7 C108.88 745.78 109.25 748.47 110 753 C110.75 757.53 111.4 761.82 112.4 764.9 C113.4 767.98 114.62 769.73 116 771.5 C117.38 773.27 118.15 774.53 120.7 775.5 C123.25 776.47 128.42 777.22 131.3 777.3 C134.18 777.38 135.98 776.82 138 776 C140.02 775.18 141.57 773.9 143.4 772.4 C145.23 770.9 147.25 769 149 767 C150.75 765 152.48 762.57 153.9 760.4 C155.32 758.23 156.55 755.52 157.5 754 C158.45 752.48 158.93 751.13 159.6 751.3 C160.27 751.47 160.82 752.98 161.5 755 C162.18 757.02 163.03 760.73 163.7 763.4 C164.37 766.07 164.87 768.87 165.5 771 C166.13 773.13 166.42 775.17 167.5 776.2 C168.58 777.23 169.73 776.95 172 777.2 C174.27 777.45 176.43 777.53 181.1 777.7 C185.77 777.87 196.85 778.12 200 778.2" stroke="#fb8b84" stroke-width="2" fill="none"  stroke-linejoin="round" stroke-linecap="round"/>
<path d="M207.5 777.7 C210.42 777.47 219.35 776.93 225 776.3 C230.65 775.67 237.15 774.8 241.4 773.9 C245.65 773 248.4 772.05 250.5 770.9 C252.6 769.75 253 768 254 767 C255 766 255.58 764.97 256.5 764.9 C257.42 764.83 258.48 766.35 259.5 766.6 C260.52 766.85 261.18 766.83 262.6 766.4 C264.02 765.97 266.08 764.87 268 764 C269.92 763.13 271.93 762.2 274.1 761.2 C276.27 760.2 278.85 758.77 281 758 C283.15 757.23 285 756.5 287 756.6 C289 756.7 290.87 757.68 293 758.6 C295.13 759.52 297.63 761.15 299.8 762.1 C301.97 763.05 303.73 763.8 306 764.3 C308.27 764.8 311.32 765.15 313.4 765.1 C315.48 765.05 316.78 764.65 318.5 764 C320.22 763.35 321.87 762.53 323.7 761.2 C325.53 759.87 327.52 757.98 329.5 756 C331.48 754.02 333.68 751.47 335.6 749.3 C337.52 747.13 339.28 744.85 341 743 C342.72 741.15 344.48 739.62 345.9 738.2 C347.32 736.78 348.52 735.37 349.5 734.5 C350.48 733.63 350.97 732.42 351.8 733 C352.63 733.58 353.5 735.85 354.5 738 C355.5 740.15 356.55 743.15 357.8 745.9 C359.05 748.65 360.58 751.95 362 754.5 C363.42 757.05 364.8 759.28 366.3 761.2 C367.8 763.12 369.28 764.72 371 766 C372.72 767.28 374.82 768.27 376.6 768.9 C378.38 769.53 380.05 770.07 381.7 769.8 C383.35 769.53 384.93 768.3 386.5 767.3 C388.07 766.3 390.02 764.15 391.1 763.8 C392.18 763.45 392.43 764.5 393 765.2 C393.57 765.9 393.92 766.95 394.5 768 C395.08 769.05 395.78 770.5 396.5 771.5 C397.22 772.5 397.8 773.28 398.8 774 C399.8 774.72 401.08 775.37 402.5 775.8 C403.92 776.23 402.72 776.47 407.3 776.6 C411.88 776.73 422.6 776.6 430 776.6 C437.4 776.6 448.08 776.6 451.7 776.6" stroke="#fb8b84" stroke-width="2" fill="none"  stroke-linejoin="round" stroke-linecap="round"/>
<path d="M23.4 892.4 C25.5 892.33 32.6 892.25 36 892 C39.4 891.75 41.8 891.82 43.8 890.9 C45.8 889.98 46.5 888.13 48 886.5 C49.5 884.87 51.38 882.18 52.8 881.1 C54.22 880.02 55.23 880.25 56.5 880 C57.77 879.75 59.07 880.02 60.4 879.6 C61.73 879.18 63.12 878.27 64.5 877.5 C65.88 876.73 67.53 875.45 68.7 875 C69.87 874.55 70.63 874.92 71.5 874.8 C72.37 874.68 72.9 875.35 73.9 874.3 C74.9 873.25 76.48 870.3 77.5 868.5 C78.52 866.7 79.33 864.55 80 863.5 C80.67 862.45 80.95 862.12 81.5 862.2 C82.05 862.28 82.3 860.85 83.3 864 C84.3 867.15 86.13 877.35 87.5 881.1 C88.87 884.85 89.98 885 91.5 886.5 C93.02 888 94.25 889.25 96.6 890.1 C98.95 890.95 102.87 891.53 105.6 891.6 C108.33 891.67 110.98 891.25 113 890.5 C115.02 889.75 116.37 887.3 117.7 887.1 C119.03 886.9 119.75 888.55 121 889.3 C122.25 890.05 122.87 891.15 125.2 891.6 C127.53 892.05 131.72 891.93 135 892 C138.28 892.07 142.73 892.5 144.9 892 C147.07 891.5 147 890.83 148 889 C149 887.17 149.98 885.67 150.9 881 C151.82 876.33 152.62 868.53 153.5 861 C154.38 853.47 155.42 844.97 156.2 835.8 C156.98 826.63 157.57 813.55 158.2 806 C158.83 798.45 159.45 792.33 160 790.5 C160.55 788.67 160.88 792.48 161.5 795 C162.12 797.52 162.95 796.28 163.7 805.6 C164.45 814.92 165.32 839.67 166 850.9 C166.68 862.13 167.17 867.22 167.8 873 C168.43 878.78 169.1 882.85 169.8 885.6 C170.5 888.35 171.13 888.62 172 889.5 C172.87 890.38 172.83 890.45 175 890.9 C177.17 891.35 180.97 891.88 185 892.2 C189.03 892.52 196.83 892.7 199.2 892.8" stroke="#10a150" stroke-width="2.2" fill="none"  stroke-linejoin="round" stroke-linecap="round"/>
<path d="M208.2 892.4 C211 892.3 219.47 892.05 225 891.8 C230.53 891.55 237.23 891.32 241.4 890.9 C245.57 890.48 247.38 890 250 889.3 C252.62 888.6 255.18 887.72 257.1 886.7 C259.02 885.68 260.08 884.48 261.5 883.2 C262.92 881.92 264.42 880.13 265.6 879 C266.78 877.87 267.6 877.1 268.6 876.4 C269.6 875.7 270.53 875.17 271.6 874.8 C272.67 874.43 273.87 874.4 275 874.2 C276.13 874 277.4 874 278.4 873.6 C279.4 873.2 280.07 872.47 281 871.8 C281.93 871.13 283.12 869.57 284 869.6 C284.88 869.63 285.52 871 286.3 872 C287.08 873 287.67 874.2 288.7 875.6 C289.73 877 291.23 878.98 292.5 880.4 C293.77 881.82 294.97 883.05 296.3 884.1 C297.63 885.15 299.07 885.98 300.5 886.7 C301.93 887.42 303.32 888.05 304.9 888.4 C306.48 888.75 308.3 888.8 310 888.8 C311.7 888.8 313.52 888.73 315.1 888.4 C316.68 888.07 318.07 887.52 319.5 886.8 C320.93 886.08 322.28 885.5 323.7 884.1 C325.12 882.7 326.58 880.67 328 878.4 C329.42 876.13 330.93 873.48 332.2 870.5 C333.47 867.52 334.47 864.2 335.6 860.5 C336.73 856.8 338 851.97 339 848.3 C340 844.63 340.75 841.63 341.6 838.5 C342.45 835.37 343.32 832 344.1 829.5 C344.88 827 345.58 824.92 346.3 823.5 C347.02 822.08 347.7 820.83 348.4 821 C349.1 821.17 349.78 822.8 350.5 824.5 C351.22 826.2 351.9 828.87 352.7 831.2 C353.5 833.53 354.45 836.37 355.3 838.5 C356.15 840.63 357.02 842.72 357.8 844 C358.58 845.28 359.28 845.63 360 846.2 C360.72 846.77 361.47 845.77 362.1 847.4 C362.73 849.03 363.23 852.72 363.8 856 C364.37 859.28 364.72 863.77 365.5 867.1 C366.28 870.43 367.5 873.45 368.5 876 C369.5 878.55 370.58 880.77 371.5 882.4 C372.42 884.03 373.15 884.93 374 885.8 C374.85 886.67 375.73 887.43 376.6 887.6 C377.47 887.77 378.35 887.38 379.2 886.8 C380.05 886.22 380.78 885.73 381.7 884.1 C382.62 882.47 383.7 879.83 384.7 877 C385.7 874.17 386.9 869.93 387.7 867.1 C388.5 864.27 388.93 861.93 389.5 860 C390.07 858.07 390.55 855.42 391.1 855.5 C391.65 855.58 392.23 858.28 392.8 860.5 C393.37 862.72 393.87 865.97 394.5 868.8 C395.13 871.63 395.88 874.95 396.6 877.5 C397.32 880.05 398.02 882.28 398.8 884.1 C399.58 885.92 400.45 887.25 401.3 888.4 C402.15 889.55 402.28 890.4 403.9 891 C405.52 891.6 408.43 891.78 411 892 C413.57 892.22 417.05 892.42 419.3 892.3 C421.55 892.18 422.8 891.75 424.5 891.3 C426.2 890.85 428.17 890.07 429.5 889.6 C430.83 889.13 431.5 888.78 432.5 888.5 C433.5 888.22 434.5 887.65 435.5 887.9 C436.5 888.15 437.5 889.35 438.5 890 C439.5 890.65 440.25 891.4 441.5 891.8 C442.75 892.2 444.3 892.25 446 892.4 C447.7 892.55 450.75 892.65 451.7 892.7" stroke="#10a150" stroke-width="2.2" fill="none"  stroke-linejoin="round" stroke-linecap="round"/>
<line x1="288.3" y1="752.7" x2="288.3" y2="814.2" stroke="#000" stroke-width="2" stroke-dasharray="6.5 3.5"/>
<line x1="283.2" y1="774.9" x2="283.2" y2="877.3" stroke="#000" stroke-width="2.2" stroke-dasharray="6.5 3.5"/>
<line x1="351.8" y1="731.3" x2="351.8" y2="788.5" stroke="#000" stroke-width="2" stroke-dasharray="6.5 3.5"/>
<line x1="348.8" y1="772.3" x2="348.8" y2="871.3" stroke="#000" stroke-width="2.4" stroke-dasharray="6.5 3.5"/>
<line x1="249.4" y1="797.9" x2="273.8" y2="797.9" stroke="#000" stroke-width="1.5" />
<polygon points="281.8,797.9 271.8,800.2 271.8,795.6" fill="#000"/>
<line x1="319.4" y1="797.9" x2="297.5" y2="797.9" stroke="#000" stroke-width="1.5" />
<polygon points="289.5,797.9 299.5,795.6 299.5,800.2" fill="#000"/>
<line x1="315.1" y1="787.2" x2="339.2" y2="787.2" stroke="#000" stroke-width="1.5" />
<polygon points="347.2,787.2 337.2,789.5 337.2,784.9" fill="#000"/>
<line x1="385.1" y1="787.2" x2="361.5" y2="787.2" stroke="#000" stroke-width="1.5" />
<polygon points="353.5,787.2 363.5,784.9 363.5,789.5" fill="#000"/>
<circle cx="160.4" cy="742" r="6.7" fill="#9b00a8"/>
<circle cx="287" cy="739" r="6.7" fill="#00529c"/>
<circle cx="351.3" cy="722.3" r="6.7" fill="#c40000"/>
<circle cx="392.5" cy="754" r="6.7" fill="#008c14"/>
<line x1="22.6" y1="898.9" x2="452.6" y2="898.9" stroke="#000" stroke-width="1.8" />
<line x1="22.6" y1="898.9" x2="22.6" y2="906" stroke="#000" stroke-width="1.8" />
<line x1="90.1" y1="898.9" x2="90.1" y2="906" stroke="#000" stroke-width="1.8" />
<line x1="157.7" y1="898.9" x2="157.7" y2="906" stroke="#000" stroke-width="1.8" />
<line x1="215.8" y1="898.9" x2="215.8" y2="906" stroke="#000" stroke-width="1.8" />
<line x1="283.3" y1="898.9" x2="283.3" y2="906" stroke="#000" stroke-width="1.8" />
<line x1="351" y1="898.9" x2="351" y2="906" stroke="#000" stroke-width="1.8" />
<line x1="418.4" y1="898.9" x2="418.4" y2="906" stroke="#000" stroke-width="1.8" />
<line x1="56.4" y1="898.9" x2="56.4" y2="902.3" stroke="#000" stroke-width="1.6" />
<line x1="123.9" y1="898.9" x2="123.9" y2="902.3" stroke="#000" stroke-width="1.6" />
<line x1="190.9" y1="898.9" x2="190.9" y2="902.3" stroke="#000" stroke-width="1.6" />
<line x1="249.5" y1="898.9" x2="249.5" y2="902.3" stroke="#000" stroke-width="1.6" />
<line x1="316.9" y1="898.9" x2="316.9" y2="902.3" stroke="#000" stroke-width="1.6" />
<line x1="384.8" y1="898.9" x2="384.8" y2="902.3" stroke="#000" stroke-width="1.6" />
<line x1="451.7" y1="898.9" x2="451.7" y2="902.3" stroke="#000" stroke-width="1.6" />
<rect x="197.5" y="896" width="11" height="6" fill="#fff"/>
<line x1="196.2" y1="905.4" x2="203" y2="892.4" stroke="#000" stroke-width="1.6" />
<line x1="203" y1="905.4" x2="209.8" y2="892.4" stroke="#000" stroke-width="1.6" />
<text x="22.3" y="931.5" font-size="26.25" text-anchor="middle" textLength="36" lengthAdjust="spacingAndGlyphs" stroke="#000" stroke-width="0.35">-64</text>
<text x="90.1" y="931.5" font-size="26.25" text-anchor="middle" textLength="36" lengthAdjust="spacingAndGlyphs" stroke="#000" stroke-width="0.35">-72</text>
<text x="157.7" y="931.5" font-size="26.25" text-anchor="middle" textLength="36" lengthAdjust="spacingAndGlyphs" stroke="#000" stroke-width="0.35">-80</text>
<text x="214.9" y="931.5" font-size="26.25" text-anchor="middle" textLength="50.5" lengthAdjust="spacingAndGlyphs" stroke="#000" stroke-width="0.35">-104</text>
<text x="283.1" y="931.5" font-size="26.25" text-anchor="middle" textLength="50.5" lengthAdjust="spacingAndGlyphs" stroke="#000" stroke-width="0.35">-112</text>
<text x="351" y="931.5" font-size="26.25" text-anchor="middle" textLength="51" lengthAdjust="spacingAndGlyphs" stroke="#000" stroke-width="0.35">-120</text>
<text x="418.4" y="931.5" font-size="26.25" text-anchor="middle" textLength="51" lengthAdjust="spacingAndGlyphs" stroke="#000" stroke-width="0.35">-128</text>
<text x="161.4" y="973.5" font-size="27.3" textLength="151" lengthAdjust="spacingAndGlyphs" stroke="#000" stroke-width="0.35">δ (<tspan dy="-9" font-size="17">19</tspan><tspan dy="9">F) (ppm)</tspan></text>
<text x="4.8" y="535.1" font-size="57" textLength="30.8" lengthAdjust="spacingAndGlyphs" stroke="#000" stroke-width="1">e</text>
<line x1="91" y1="511.3" x2="164" y2="511.3" stroke="#a866ad" stroke-width="2.6" />
<text x="173.3" y="521.8" font-size="32.13" textLength="80.5" lengthAdjust="spacingAndGlyphs" stroke="#000" stroke-width="0.35">QFgel</text>
<line x1="270.5" y1="511.7" x2="343.3" y2="511.7" stroke="#fb8b84" stroke-width="2.4" />
<text x="350.3" y="522" font-size="32.13" textLength="166.5" lengthAdjust="spacingAndGlyphs" stroke="#000" stroke-width="0.35">QFgel-PFOS</text>
<line x1="270.5" y1="551.2" x2="343.3" y2="551.2" stroke="#10a150" stroke-width="2.4" />
<text x="350.3" y="558.6" font-size="32.13" textLength="72.6" lengthAdjust="spacingAndGlyphs" stroke="#000" stroke-width="0.35">PFOS</text>
<text x="164.4" y="618.3" font-size="30.98" textLength="276.4" lengthAdjust="spacingAndGlyphs" stroke="#000" stroke-width="0.35">Sulfonate i-fluorine</text>
<text x="152.4" y="698" font-size="27.72" textLength="53" lengthAdjust="spacingAndGlyphs" stroke="#000" stroke-width="0.35" font-style="italic">Shift</text>
<text x="152.4" y="732.8" font-size="27.72" textLength="119.5" lengthAdjust="spacingAndGlyphs" stroke="#000" stroke-width="0.35" font-style="italic">-0.45 ppm</text>
<text x="360.4" y="698" font-size="27.72" textLength="53.6" lengthAdjust="spacingAndGlyphs" stroke="#000" stroke-width="0.35" font-style="italic">Shift</text>
<text x="361.2" y="733" font-size="27.72" textLength="118.7" lengthAdjust="spacingAndGlyphs" stroke="#000" stroke-width="0.35" font-style="italic">-0.25 ppm</text>
</g>
<g>
<path d="M608.7 555.6 C610.7 555.45 618.04 554.93 622 554.6 C625.96 554.27 631.65 553.43 635.1 553.4 C638.55 553.37 641.16 554.7 645 554.4 C648.84 554.1 656.98 552.57 660.7 551.4 C664.42 550.23 667.53 547.44 669.8 546.6 C672.06 545.76 673.76 547.16 675.8 545.8 C677.84 544.43 681.57 540.32 683.4 537.5 C685.23 534.68 686.88 529.94 688 527 C689.12 524.06 689.79 522.65 690.9 517.9 C692.01 513.14 694.41 501.29 695.4 495.3 C696.39 489.31 696.93 481.86 697.5 478 C698.07 474.14 698.68 469.6 699.2 469.6 C699.73 469.6 700.43 474.14 701 478 C701.57 481.86 702.25 487.05 703 495.3 C703.75 503.55 705.1 524.86 706 533 C706.9 541.14 707.88 546.44 709 549.6 C710.12 552.76 711.91 553.43 713.5 554.1 C715.09 554.77 717.78 555.23 719.6 554.1 C721.42 552.98 724.02 550.44 725.6 546.6 C727.18 542.76 729.02 532.46 730.1 528.5 C731.18 524.54 732 519.3 732.8 520.2 C733.59 521.1 734.56 529.41 735.4 534.5 C736.24 539.59 737.38 550.82 738.4 554.1 C739.42 557.38 735.75 555.9 742.2 556.4 C748.65 556.89 769.73 557.26 781.4 557.4 C793.07 557.53 810.41 557.57 820 557.3 C829.59 557.03 839.24 556.19 845.3 555.6 C851.36 555.01 857.01 554.3 860.4 553.4 C863.79 552.5 866.1 551.07 867.9 549.6 C869.7 548.13 870.81 545.19 872.4 543.6 C873.99 542.01 876.68 540.71 878.5 539 C880.32 537.29 882.92 532.2 884.5 532.2 C886.08 532.2 887.63 537.29 889 539 C890.37 540.71 892.01 542.73 893.6 543.6 C895.19 544.47 897.8 545.26 899.6 544.8 C901.4 544.33 903.78 543.86 905.6 540.5 C907.42 537.14 910.01 527.14 911.7 522.4 C913.39 517.66 915.55 512.51 916.9 508.9 C918.25 505.28 919.56 497.4 920.7 498.3 C921.84 499.2 923.36 508.57 924.5 514.9 C925.64 521.23 927.17 535.41 928.3 540.5 C929.42 545.59 930.75 547.43 932 548.8 C933.25 550.16 935.24 550.85 936.6 549.6 C937.97 548.36 939.98 542.54 941.1 540.5 C942.23 538.46 943.2 535.09 944.1 536 C945 536.91 945.86 543.99 947.1 546.6 C948.35 549.21 950.47 552.05 952.4 553.4 C954.33 554.75 955.02 555.45 960 555.6 C964.98 555.75 981.76 554.58 985.6 554.4" stroke="#1f78b4" stroke-width="2.5" fill="none"  stroke-linejoin="round" stroke-linecap="round"/>
<path d="M993.9 561.7 C993.84 564.87 993.15 578.04 993.5 582.8 C993.85 587.55 995.12 591.13 996.2 593.4 C997.28 595.66 998.33 596.77 1000.7 597.9 C1003.07 599.02 1012 599.55 1012 600.9 C1012 602.25 1002.62 605.2 1000.7 606.9 C998.78 608.6 997.61 610.84 999.2 612.2 C1000.79 613.57 1004.17 614.41 1011.3 616 C1018.42 617.59 1044.9 620.53 1046.7 622.8 C1048.5 625.06 1029.08 628.96 1023.3 631.1 C1017.52 633.25 1011.14 635.3 1008.2 637.1 C1005.26 638.9 1004.15 641.28 1003.7 643.1 C1003.25 644.92 1003.39 647.16 1005.2 649.2 C1007.01 651.24 1015.35 654.44 1015.8 656.7 C1016.25 658.97 1010.92 662.03 1008.2 664.3 C1005.49 666.56 999.73 668.63 997.7 671.8 C995.68 674.96 995.36 681.17 994.7 685.4 C994.04 689.63 993.7 691.87 993.3 700 C992.89 708.13 992.09 726.22 992 739.6 C991.91 752.98 992.36 781.13 992.7 789.2 C993.05 797.27 989.17 791.91 994.3 793.4 C999.43 794.88 1026.29 797.12 1026.9 799.1 C1027.52 801.08 1003.37 804.37 998.4 806.6 C993.43 808.84 994.04 811.76 993.8 814 C993.56 816.24 991.14 819.64 996.8 821.5 C1002.45 823.36 1019.97 824.99 1031.5 826.4 C1043.04 827.81 1071.23 829.53 1073.7 830.9 C1076.17 832.26 1055.58 834.06 1048 835.5 C1040.42 836.94 1029.89 838.38 1023.2 840.5 C1016.51 842.62 1007.12 846.13 1003.4 849.6 C999.68 853.07 999.51 859.01 998.4 863.6 C997.29 868.19 996.28 875.97 996 880.2 C995.72 884.43 996.83 886.47 996.5 891.8 C996.17 897.12 994.2 912.12 993.8 915.7" stroke="#1f78b4" stroke-width="2.4" fill="none"  stroke-linejoin="round" stroke-linecap="round"/>
<circle cx="697.7" cy="459.1" r="6.7" fill="#f01ad2"/>
<circle cx="733.6" cy="511.6" r="6.7" fill="#9b00a8"/>
<circle cx="884" cy="521.7" r="6.7" fill="#00529c"/>
<circle cx="922.5" cy="488.2" r="6.7" fill="#c40000"/>
<circle cx="944.4" cy="523.6" r="6.7" fill="#008c14"/>
<rect x="608.7" y="563.2" width="377.5" height="352.4" fill="none" stroke="#000" stroke-width="2"/>
<line x1="608.7" y1="915.6" x2="608.7" y2="922.6" stroke="#000" stroke-width="1.8" />
<line x1="608.7" y1="563.2" x2="602.2" y2="563.2" stroke="#000" stroke-width="1.8" />
<line x1="703.08" y1="915.6" x2="703.08" y2="922.6" stroke="#000" stroke-width="1.8" />
<line x1="608.7" y1="651.3" x2="602.2" y2="651.3" stroke="#000" stroke-width="1.8" />
<line x1="797.45" y1="915.6" x2="797.45" y2="922.6" stroke="#000" stroke-width="1.8" />
<line x1="608.7" y1="739.4" x2="602.2" y2="739.4" stroke="#000" stroke-width="1.8" />
<line x1="891.83" y1="915.6" x2="891.83" y2="922.6" stroke="#000" stroke-width="1.8" />
<line x1="608.7" y1="827.5" x2="602.2" y2="827.5" stroke="#000" stroke-width="1.8" />
<line x1="986.2" y1="915.6" x2="986.2" y2="922.6" stroke="#000" stroke-width="1.8" />
<line x1="608.7" y1="915.6" x2="602.2" y2="915.6" stroke="#000" stroke-width="1.8" />
<line x1="655.89" y1="915.6" x2="655.89" y2="919.2" stroke="#000" stroke-width="1.5" />
<line x1="608.7" y1="607.25" x2="605.7" y2="607.25" stroke="#000" stroke-width="1.5" />
<line x1="750.26" y1="915.6" x2="750.26" y2="919.2" stroke="#000" stroke-width="1.5" />
<line x1="608.7" y1="695.35" x2="605.7" y2="695.35" stroke="#000" stroke-width="1.5" />
<line x1="844.64" y1="915.6" x2="844.64" y2="919.2" stroke="#000" stroke-width="1.5" />
<line x1="608.7" y1="783.45" x2="605.7" y2="783.45" stroke="#000" stroke-width="1.5" />
<line x1="939.01" y1="915.6" x2="939.01" y2="919.2" stroke="#000" stroke-width="1.5" />
<line x1="608.7" y1="871.55" x2="605.7" y2="871.55" stroke="#000" stroke-width="1.5" />
<text x="608.7" y="946.5" font-size="25.2" text-anchor="middle" textLength="34.5" lengthAdjust="spacingAndGlyphs" stroke="#000" stroke-width="0.35">-60</text>
<text x="703.08" y="946.5" font-size="25.2" text-anchor="middle" textLength="34.5" lengthAdjust="spacingAndGlyphs" stroke="#000" stroke-width="0.35">-80</text>
<text x="797.45" y="946.5" font-size="25.2" text-anchor="middle" textLength="48.8" lengthAdjust="spacingAndGlyphs" stroke="#000" stroke-width="0.35">-100</text>
<text x="891.83" y="946.5" font-size="25.2" text-anchor="middle" textLength="48.8" lengthAdjust="spacingAndGlyphs" stroke="#000" stroke-width="0.35">-120</text>
<text x="986.2" y="946.5" font-size="25.2" text-anchor="middle" textLength="48.8" lengthAdjust="spacingAndGlyphs" stroke="#000" stroke-width="0.35">-140</text>
<text x="600.2" y="570.2" font-size="25.2" text-anchor="end" textLength="50.5" lengthAdjust="spacingAndGlyphs" stroke="#000" stroke-width="0.35">-140</text>
<text x="600.2" y="658.9" font-size="25.2" text-anchor="end" textLength="50.5" lengthAdjust="spacingAndGlyphs" stroke="#000" stroke-width="0.35">-120</text>
<text x="600.2" y="747" font-size="25.2" text-anchor="end" textLength="50.5" lengthAdjust="spacingAndGlyphs" stroke="#000" stroke-width="0.35">-100</text>
<text x="600.2" y="835.1" font-size="25.2" text-anchor="end" textLength="38" lengthAdjust="spacingAndGlyphs" stroke="#000" stroke-width="0.35">-80</text>
<text x="600.2" y="923.2" font-size="25.2" text-anchor="end" textLength="38" lengthAdjust="spacingAndGlyphs" stroke="#000" stroke-width="0.35">-60</text>
<text x="797.75" y="986.8" font-size="26.25" text-anchor="middle" textLength="140.5" lengthAdjust="spacingAndGlyphs" stroke="#000" stroke-width="0.35">δ (<tspan dy="-8.5" font-size="16.5">19</tspan><tspan dy="8.5">F) (ppm)</tspan></text>
<text x="533.7" y="740" font-size="26.25" text-anchor="middle" textLength="139.5" lengthAdjust="spacingAndGlyphs" stroke="#000" stroke-width="0.35" transform="rotate(-90 533.7 740)">δ (<tspan dy="-8.5" font-size="16.5">19</tspan><tspan dy="8.5">F) (ppm)</tspan></text>
<text x="545.5" y="535.3" font-size="57" textLength="19.5" lengthAdjust="spacingAndGlyphs" stroke="#000" stroke-width="1">f</text>
<rect x="671.3" y="610" width="49.8" height="40.4" rx="4" ry="4" fill="none" stroke="#000" stroke-width="1.8" stroke-dasharray="7.5 3.6"/>
<rect x="664.4" y="776.5" width="51.7" height="40" rx="4" ry="4" fill="none" stroke="#000" stroke-width="1.8" stroke-dasharray="7.5 3.6"/>
<rect x="720.3" y="818.2" width="51.2" height="40.1" rx="4" ry="4" fill="none" stroke="#000" stroke-width="1.8" stroke-dasharray="7.5 3.6"/>
<rect x="898.4" y="807.7" width="50.1" height="40.6" rx="4" ry="4" fill="none" stroke="#000" stroke-width="1.8" stroke-dasharray="7.5 3.6"/>
<text x="647.5" y="637.9" font-size="31.08" textLength="17.5" lengthAdjust="spacingAndGlyphs" stroke="#000" stroke-width="0.35">B</text>
<text x="635.7" y="804.1" font-size="31.08" textLength="19.5" lengthAdjust="spacingAndGlyphs" stroke="#000" stroke-width="0.35">A</text>
<line x1="721.1" y1="628.8" x2="774.5" y2="628.8" stroke="#fb8a87" stroke-width="4.6" />
<polygon points="787.5,628.8 772,621 772,636.6" fill="#fb8a87"/>
<circle cx="798.3" cy="628.5" r="6.7" fill="#f01ad2"/>
<circle cx="845.7" cy="628.5" r="6.7" fill="#c40000"/>
<polygon points="806.8,628.5 814.3,625.5 814.3,631.5" fill="#000"/>
<line x1="812.8" y1="628.5" x2="830.4" y2="628.5" stroke="#000" stroke-width="1.8" />
<polygon points="836.4,628.5 828.9,631.5 828.9,625.5" fill="#000"/>
<line x1="716.1" y1="794.5" x2="771.7" y2="794.5" stroke="#fb8a87" stroke-width="4.6" />
<polygon points="784.7,794.5 769.2,786.7 769.2,802.3" fill="#fb8a87"/>
<circle cx="793" cy="794" r="6.7" fill="#f01ad2"/>
<circle cx="840" cy="795" r="6.7" fill="#9b00a8"/>
<polygon points="801.9,794.5 809.4,791.5 809.4,797.5" fill="#000"/>
<line x1="807.9" y1="794.5" x2="826.9" y2="794.5" stroke="#000" stroke-width="1.8" />
<polygon points="832.9,794.5 825.4,797.5 825.4,791.5" fill="#000"/>
<text x="789.4" y="679.4" font-size="29.4" textLength="177.5" lengthAdjust="spacingAndGlyphs" stroke="#000" stroke-width="0.35">F<tspan font-weight="bold">···</tspan>F contact</text>
<text x="789.4" y="765" font-size="29.4" textLength="182" lengthAdjust="spacingAndGlyphs" stroke="#000" stroke-width="0.35">F<tspan font-weight="bold">···</tspan>F contact</text>
<path d="M686 621 C686 616 700 614.5 704 619.5 C707 626 704.5 636 699.5 641 C698.5 646 699.5 650 701.5 653 C704 658 702.5 667 696.5 669 C690 667 689 658 691.5 653 C693 649 693 645 691.5 641 C687.5 636 685 628 686 621Z" fill="#17885a" fill-opacity="0.82" stroke="#17885a" stroke-width="1"/>
<rect x="691" y="622" width="3" height="14" fill="#d9efe4" fill-opacity="0.55"/>
<rect x="697" y="622" width="3.2" height="16" fill="#d9efe4" fill-opacity="0.55"/>
<rect x="694" y="644" width="2.4" height="9" fill="#d9efe4" fill-opacity="0.55"/>
<rect x="696" y="657" width="2.6" height="9" fill="#d9efe4" fill-opacity="0.55"/>
<rect x="694.2" y="601.8" width="4.8" height="4.8" fill="none" stroke="#17885a" stroke-width="1.1" rx="1.2"/>
<ellipse cx="730.4" cy="626.5" rx="3.6" ry="9" fill="#17885a" fill-opacity="0.55" stroke="#17885a" stroke-width="0.9"/>
<ellipse cx="730.4" cy="626.5" rx="2.4" ry="6" fill="none" fill-opacity="0.55" stroke="#17885a" stroke-width="0.9"/>
<ellipse cx="730.4" cy="626.5" rx="1.2" ry="3" fill="none" fill-opacity="0.55" stroke="#17885a" stroke-width="0.9"/>
<ellipse cx="921.9" cy="625.8" rx="5" ry="4.3" fill="#17885a" fill-opacity="0.15" stroke="#17885a" stroke-width="0.8"/>
<ellipse cx="921.9" cy="625.8" rx="3.33" ry="2.87" fill="none" fill-opacity="0.15" stroke="#17885a" stroke-width="0.8"/>
<ellipse cx="921.9" cy="625.8" rx="1.67" ry="1.43" fill="none" fill-opacity="0.15" stroke="#17885a" stroke-width="0.8"/>
<ellipse cx="697.3" cy="802.1" rx="6.5" ry="3.2" fill="#17885a" fill-opacity="0.6" stroke="#17885a" stroke-width="0.9" transform="rotate(8 697.3 802.1)"/>
<ellipse cx="697.3" cy="802.1" rx="4.33" ry="2.13" fill="none" fill-opacity="0.6" stroke="#17885a" stroke-width="0.9" transform="rotate(8 697.3 802.1)"/>
<ellipse cx="697.3" cy="802.1" rx="2.17" ry="1.07" fill="none" fill-opacity="0.6" stroke="#17885a" stroke-width="0.9" transform="rotate(8 697.3 802.1)"/>
<line x1="688" y1="800.5" x2="692" y2="801.5" stroke="#17885a" stroke-width="0.8" />
<ellipse cx="731" cy="800.8" rx="3.6" ry="3.6" fill="#17885a" fill-opacity="0.7" stroke="#17885a" stroke-width="0.9" transform="rotate(-30 731 800.8)"/>
<ellipse cx="731" cy="800.8" rx="1.8" ry="1.8" fill="none" fill-opacity="0.7" stroke="#17885a" stroke-width="0.9" transform="rotate(-30 731 800.8)"/>
<path d="M683 829 C686 824.5 702 823.5 705.5 829 C707.5 836 705.5 845 702 848.5 C700.5 852 698 854.5 696 853 C693.5 851 692 846 690.5 843.5 C686 846.5 680 850.5 675.8 850.8 C678.5 846.5 684 842 686.5 838.5 C683.5 836 682 832 683 829Z" fill="#17885a" fill-opacity="0.85" stroke="#17885a" stroke-width="1"/>
<rect x="694" y="829" width="3.4" height="16" fill="#d9efe4" fill-opacity="0.5"/>
<rect x="698.8" y="832" width="2.2" height="12" fill="#d9efe4" fill-opacity="0.5"/>
<line x1="678.5" y1="849.3" x2="688" y2="841.5" stroke="#d9efe4" stroke-width="1" />
<path d="M730.2 843 C729.2 837.5 725.2 828.08 730.2 827.3 C735.2 828.08 731.2 837.5 730.2 843Z" fill="#17885a" fill-opacity="0.55" stroke="#17885a" stroke-width="0.9"/>
<path d="M730.2 840.55 C729.48 836.3 726.62 829.02 730.2 828.41 C733.78 829.02 730.92 836.3 730.2 840.55Z" fill="none" fill-opacity="0.55" stroke="#17885a" stroke-width="0.9"/>
<path d="M730.2 838.11 C729.77 835.1 728.03 829.95 730.2 829.52 C732.37 829.95 730.63 835.1 730.2 838.11Z" fill="none" fill-opacity="0.55" stroke="#17885a" stroke-width="0.9"/>
<ellipse cx="921.5" cy="832.2" rx="4.4" ry="3.1" fill="none" fill-opacity="0" stroke="#17885a" stroke-width="0.8" transform="rotate(-20 921.5 832.2)"/>
<ellipse cx="921.5" cy="832.2" rx="2.2" ry="1.55" fill="none" fill-opacity="0" stroke="#17885a" stroke-width="0.8" transform="rotate(-20 921.5 832.2)"/>
</g>
<g>
<path d="M1189 554.4 C1192.9 554.37 1208.43 554.62 1215 554.2 C1221.57 553.78 1228.6 551.72 1232.8 551.6 C1237 551.48 1239.61 553.36 1243 553.4 C1246.39 553.44 1252.62 553.37 1255.4 551.9 C1258.18 550.43 1259.91 546.21 1261.5 543.6 C1263.09 540.99 1264.42 537.68 1266 534.5 C1267.58 531.32 1270.53 527.15 1272 522.4 C1273.47 517.64 1274.9 507.96 1275.8 502.8 C1276.7 497.64 1277.43 491.06 1278 488 C1278.57 484.94 1279.12 482.4 1279.6 482.4 C1280.08 482.4 1280.64 484.94 1281.2 488 C1281.76 491.06 1282.41 495.82 1283.3 502.8 C1284.18 509.78 1285.73 527.71 1287.1 534.5 C1288.46 541.29 1290.71 545.26 1292.4 548.1 C1294.1 550.94 1296.71 553.17 1298.4 553.4 C1300.1 553.62 1302.23 552.44 1303.7 549.6 C1305.17 546.76 1307.06 540.85 1308.2 534.5 C1309.34 528.15 1310.57 513.18 1311.3 507.3 C1312.03 501.42 1312.54 494.84 1313.1 495.3 C1313.65 495.76 1314.26 503.62 1315 510.4 C1315.74 517.18 1317.09 534.17 1318 540.5 C1318.91 546.83 1319.39 550.56 1321.1 552.6 C1322.81 554.64 1320.57 553.75 1329.4 554.1 C1338.24 554.45 1365.62 554.9 1380 554.9 C1394.38 554.9 1415.57 554.55 1425.3 554.1 C1435.03 553.65 1440.37 552.8 1444.9 551.9 C1449.43 551 1452.79 550.03 1455.5 548.1 C1458.21 546.17 1460.97 541.61 1463 539 C1465.03 536.39 1467.41 530.7 1469 530.7 C1470.59 530.7 1472.23 536.96 1473.6 539 C1474.96 541.04 1476.63 543.28 1478.1 544.3 C1479.57 545.32 1481.83 546.14 1483.4 545.8 C1484.98 545.45 1487.13 544.6 1488.6 542 C1490.07 539.4 1491.84 535.5 1493.2 528.5 C1494.57 521.5 1496.71 502.57 1497.7 495.3 C1498.69 488.03 1499.23 483.18 1499.8 480 C1500.37 476.82 1500.99 474.1 1501.5 474.1 C1502.01 474.1 1502.64 476.82 1503.2 480 C1503.76 483.18 1504.21 488.03 1505.2 495.3 C1506.19 502.57 1508.56 521.72 1509.8 528.5 C1511.04 535.28 1512.38 538.7 1513.5 540.5 C1514.62 542.3 1516.16 541.85 1517.3 540.5 C1518.44 539.15 1520.08 534.1 1521.1 531.5 C1522.12 528.9 1523.2 522.75 1524.1 523.2 C1525 523.65 1526.2 530.54 1527.1 534.5 C1528 538.46 1528.63 546.66 1530.1 549.6 C1531.57 552.54 1534.29 553.75 1536.9 554.1 C1539.51 554.45 1544.79 551.94 1547.5 551.9 C1550.21 551.86 1552.06 553.47 1555 553.8 C1557.94 554.13 1565.28 554.06 1567.1 554.1" stroke="#1f78b4" stroke-width="2.6" fill="none"  stroke-linejoin="round" stroke-linecap="round"/>
<path d="M1574.7 565.4 C1574.81 568.46 1574.95 580.92 1575.4 585.8 C1575.85 590.67 1573.52 595.18 1577.7 597.9 C1581.88 600.62 1601.95 602.08 1603.3 603.9 C1604.65 605.72 1589.07 608.3 1586.7 610 C1584.33 611.7 1584.56 613.85 1587.5 615.2 C1590.44 616.55 1597.13 617.53 1606.3 619 C1615.46 620.47 1647.46 623.18 1648.6 625 C1649.74 626.82 1622.96 629.39 1613.9 631.1 C1604.84 632.81 1592.96 634.7 1588.2 636.4 C1583.44 638.1 1582.65 640.48 1582.2 642.4 C1581.75 644.32 1583.16 647.28 1585.2 649.2 C1587.24 651.12 1595.58 653.39 1595.8 655.2 C1596.02 657.01 1589.41 659.26 1586.7 661.3 C1583.99 663.34 1579.62 665.18 1577.7 668.8 C1575.78 672.41 1574.55 680.72 1573.9 685.4 C1573.26 690.08 1573.54 691.81 1573.4 700 C1573.27 708.19 1572.99 726.65 1573 740 C1573.01 753.35 1573.12 780.9 1573.5 789 C1573.88 797.1 1567.12 792.25 1575.5 794 C1583.88 795.75 1628.73 798.68 1629.4 800.7 C1630.08 802.73 1588.09 805.5 1580 807.5 C1571.91 809.5 1575.8 811.98 1575.5 814 C1575.2 816.02 1573.58 819.12 1578 821 C1582.42 822.88 1595.51 824.94 1605 826.5 C1614.49 828.06 1640.25 829.98 1641.3 831.4 C1642.35 832.82 1619.39 834.56 1612 836 C1604.61 837.44 1596.5 838.9 1592 841 C1587.5 843.1 1584.1 846.55 1582 850 C1579.9 853.45 1578.9 859.5 1578 864 C1577.1 868.5 1576.22 875.8 1576 880 C1575.78 884.2 1576.72 886.64 1576.5 892 C1576.28 897.36 1574.8 912.14 1574.5 915.7" stroke="#1f78b4" stroke-width="2.4" fill="none"  stroke-linejoin="round" stroke-linecap="round"/>
<circle cx="1278.5" cy="468.1" r="6.7" fill="#f01ad2"/>
<circle cx="1313.8" cy="482" r="6.7" fill="#9b00a8"/>
<circle cx="1469" cy="517.1" r="6.7" fill="#00529c"/>
<circle cx="1501.5" cy="462.5" r="6.7" fill="#c40000"/>
<circle cx="1524.9" cy="510.8" r="6.7" fill="#008c14"/>
<rect x="1189.5" y="563.2" width="377.5" height="352.4" fill="none" stroke="#333" stroke-width="2"/>
<line x1="1189.5" y1="915.6" x2="1189.5" y2="922.6" stroke="#333" stroke-width="1.8" />
<line x1="1189.5" y1="563.2" x2="1183" y2="563.2" stroke="#333" stroke-width="1.8" />
<line x1="1283.88" y1="915.6" x2="1283.88" y2="922.6" stroke="#333" stroke-width="1.8" />
<line x1="1189.5" y1="651.3" x2="1183" y2="651.3" stroke="#333" stroke-width="1.8" />
<line x1="1378.25" y1="915.6" x2="1378.25" y2="922.6" stroke="#333" stroke-width="1.8" />
<line x1="1189.5" y1="739.4" x2="1183" y2="739.4" stroke="#333" stroke-width="1.8" />
<line x1="1472.62" y1="915.6" x2="1472.62" y2="922.6" stroke="#333" stroke-width="1.8" />
<line x1="1189.5" y1="827.5" x2="1183" y2="827.5" stroke="#333" stroke-width="1.8" />
<line x1="1567" y1="915.6" x2="1567" y2="922.6" stroke="#333" stroke-width="1.8" />
<line x1="1189.5" y1="915.6" x2="1183" y2="915.6" stroke="#333" stroke-width="1.8" />
<line x1="1236.69" y1="915.6" x2="1236.69" y2="919.2" stroke="#333" stroke-width="1.5" />
<line x1="1189.5" y1="607.25" x2="1186.5" y2="607.25" stroke="#333" stroke-width="1.5" />
<line x1="1331.06" y1="915.6" x2="1331.06" y2="919.2" stroke="#333" stroke-width="1.5" />
<line x1="1189.5" y1="695.35" x2="1186.5" y2="695.35" stroke="#333" stroke-width="1.5" />
<line x1="1425.44" y1="915.6" x2="1425.44" y2="919.2" stroke="#333" stroke-width="1.5" />
<line x1="1189.5" y1="783.45" x2="1186.5" y2="783.45" stroke="#333" stroke-width="1.5" />
<line x1="1519.81" y1="915.6" x2="1519.81" y2="919.2" stroke="#333" stroke-width="1.5" />
<line x1="1189.5" y1="871.55" x2="1186.5" y2="871.55" stroke="#333" stroke-width="1.5" />
<text x="1189.5" y="946.5" font-size="25.2" text-anchor="middle" textLength="34.5" lengthAdjust="spacingAndGlyphs" stroke="#000" stroke-width="0.35">-60</text>
<text x="1283.88" y="946.5" font-size="25.2" text-anchor="middle" textLength="34.5" lengthAdjust="spacingAndGlyphs" stroke="#000" stroke-width="0.35">-80</text>
<text x="1378.25" y="946.5" font-size="25.2" text-anchor="middle" textLength="48.8" lengthAdjust="spacingAndGlyphs" stroke="#000" stroke-width="0.35">-100</text>
<text x="1472.62" y="946.5" font-size="25.2" text-anchor="middle" textLength="48.8" lengthAdjust="spacingAndGlyphs" stroke="#000" stroke-width="0.35">-120</text>
<text x="1567" y="946.5" font-size="25.2" text-anchor="middle" textLength="48.8" lengthAdjust="spacingAndGlyphs" stroke="#000" stroke-width="0.35">-140</text>
<text x="1181" y="570.2" font-size="25.2" text-anchor="end" textLength="50.5" lengthAdjust="spacingAndGlyphs" stroke="#000" stroke-width="0.35">-140</text>
<text x="1181" y="658.9" font-size="25.2" text-anchor="end" textLength="50.5" lengthAdjust="spacingAndGlyphs" stroke="#000" stroke-width="0.35">-120</text>
<text x="1181" y="747" font-size="25.2" text-anchor="end" textLength="50.5" lengthAdjust="spacingAndGlyphs" stroke="#000" stroke-width="0.35">-100</text>
<text x="1181" y="835.1" font-size="25.2" text-anchor="end" textLength="38" lengthAdjust="spacingAndGlyphs" stroke="#000" stroke-width="0.35">-80</text>
<text x="1181" y="923.2" font-size="25.2" text-anchor="end" textLength="38" lengthAdjust="spacingAndGlyphs" stroke="#000" stroke-width="0.35">-60</text>
<text x="1378.55" y="986.8" font-size="26.25" text-anchor="middle" textLength="140.5" lengthAdjust="spacingAndGlyphs" stroke="#000" stroke-width="0.35">δ (<tspan dy="-8.5" font-size="16.5">19</tspan><tspan dy="8.5">F) (ppm)</tspan></text>
<text x="1115.5" y="740" font-size="26.25" text-anchor="middle" textLength="139.5" lengthAdjust="spacingAndGlyphs" stroke="#000" stroke-width="0.35" transform="rotate(-90 1115.5 740)">δ (<tspan dy="-8.5" font-size="16.5">19</tspan><tspan dy="8.5">F) (ppm)</tspan></text>
<text x="1080" y="535.3" font-size="57" stroke="#000" stroke-width="1">g</text>
<rect x="1256.6" y="610" width="49.4" height="40.4" rx="4" ry="4" fill="none" stroke="#000" stroke-width="1.8" stroke-dasharray="7.5 3.6"/>
<rect x="1245.5" y="776.5" width="51.7" height="40" rx="4" ry="4" fill="none" stroke="#000" stroke-width="1.8" stroke-dasharray="7.5 3.6"/>
<rect x="1301.4" y="818.2" width="51.2" height="40.1" rx="4" ry="4" fill="none" stroke="#000" stroke-width="1.8" stroke-dasharray="7.5 3.6"/>
<rect x="1479.5" y="807.7" width="50.1" height="40.6" rx="4" ry="4" fill="none" stroke="#000" stroke-width="1.8" stroke-dasharray="7.5 3.6"/>
<text x="1228.6" y="637.9" font-size="31.08" textLength="17.5" lengthAdjust="spacingAndGlyphs" stroke="#000" stroke-width="0.35">B</text>
<text x="1216.8" y="804.1" font-size="31.08" textLength="19.5" lengthAdjust="spacingAndGlyphs" stroke="#000" stroke-width="0.35">A</text>
<line x1="1306" y1="628.8" x2="1359.8" y2="628.8" stroke="#fb8a87" stroke-width="4.6" />
<polygon points="1372.8,628.8 1357.3,621 1357.3,636.6" fill="#fb8a87"/>
<circle cx="1383.6" cy="628.5" r="6.7" fill="#f01ad2"/>
<circle cx="1431" cy="628.5" r="6.7" fill="#c40000"/>
<polygon points="1392.1,628.5 1399.6,625.5 1399.6,631.5" fill="#000"/>
<line x1="1398.1" y1="628.5" x2="1415.7" y2="628.5" stroke="#000" stroke-width="1.8" />
<polygon points="1421.7,628.5 1414.2,631.5 1414.2,625.5" fill="#000"/>
<line x1="1297.2" y1="794.5" x2="1352.8" y2="794.5" stroke="#fb8a87" stroke-width="4.6" />
<polygon points="1365.8,794.5 1350.3,786.7 1350.3,802.3" fill="#fb8a87"/>
<circle cx="1374.1" cy="794" r="6.7" fill="#f01ad2"/>
<circle cx="1421.1" cy="795" r="6.7" fill="#9b00a8"/>
<polygon points="1383,794.5 1390.5,791.5 1390.5,797.5" fill="#000"/>
<line x1="1389" y1="794.5" x2="1408" y2="794.5" stroke="#000" stroke-width="1.8" />
<polygon points="1414,794.5 1406.5,797.5 1406.5,791.5" fill="#000"/>
<text x="1370.9" y="679.4" font-size="29.4" textLength="181.7" lengthAdjust="spacingAndGlyphs" stroke="#000" stroke-width="0.35">F<tspan font-weight="bold">···</tspan>F contact</text>
<text x="1370.9" y="764.6" font-size="29.4" textLength="181.7" lengthAdjust="spacingAndGlyphs" stroke="#000" stroke-width="0.35">F<tspan font-weight="bold">···</tspan>F contact</text>
<ellipse cx="1281.8" cy="599.5" rx="2.2" ry="7.5" fill="none" fill-opacity="0" stroke="#249a6b" stroke-width="0.55"/>
<ellipse cx="1281.8" cy="599.5" rx="1.1" ry="3.75" fill="none" fill-opacity="0" stroke="#249a6b" stroke-width="0.55"/>
<ellipse cx="1281.8" cy="604.7" rx="6" ry="3.8" fill="none" fill-opacity="0" stroke="#249a6b" stroke-width="0.55"/>
<ellipse cx="1281.8" cy="604.7" rx="4" ry="2.53" fill="none" fill-opacity="0" stroke="#249a6b" stroke-width="0.55"/>
<ellipse cx="1281.8" cy="604.7" rx="2" ry="1.27" fill="none" fill-opacity="0" stroke="#249a6b" stroke-width="0.55"/>
<ellipse cx="1281.8" cy="612" rx="2.4" ry="5" fill="none" fill-opacity="0" stroke="#249a6b" stroke-width="0.55"/>
<ellipse cx="1281.8" cy="612" rx="1.2" ry="2.5" fill="none" fill-opacity="0" stroke="#249a6b" stroke-width="0.55"/>
<ellipse cx="1281.8" cy="625" rx="8.3" ry="10.5" fill="#249a6b" fill-opacity="0.25" stroke="#249a6b" stroke-width="0.55"/>
<ellipse cx="1281.8" cy="625" rx="7.11" ry="9" fill="none" fill-opacity="0.25" stroke="#249a6b" stroke-width="0.55"/>
<ellipse cx="1281.8" cy="625" rx="5.93" ry="7.5" fill="none" fill-opacity="0.25" stroke="#249a6b" stroke-width="0.55"/>
<ellipse cx="1281.8" cy="625" rx="4.74" ry="6" fill="none" fill-opacity="0.25" stroke="#249a6b" stroke-width="0.55"/>
<ellipse cx="1281.8" cy="625" rx="3.56" ry="4.5" fill="none" fill-opacity="0.25" stroke="#249a6b" stroke-width="0.55"/>
<ellipse cx="1281.8" cy="625" rx="2.37" ry="3" fill="none" fill-opacity="0.25" stroke="#249a6b" stroke-width="0.55"/>
<ellipse cx="1281.8" cy="625" rx="1.19" ry="1.5" fill="none" fill-opacity="0.25" stroke="#249a6b" stroke-width="0.55"/>
<ellipse cx="1281.8" cy="641" rx="3.6" ry="8" fill="none" fill-opacity="0" stroke="#249a6b" stroke-width="0.55"/>
<ellipse cx="1281.8" cy="641" rx="2.4" ry="5.33" fill="none" fill-opacity="0" stroke="#249a6b" stroke-width="0.55"/>
<ellipse cx="1281.8" cy="641" rx="1.2" ry="2.67" fill="none" fill-opacity="0" stroke="#249a6b" stroke-width="0.55"/>
<ellipse cx="1281.8" cy="654" rx="4.2" ry="16" fill="none" fill-opacity="0" stroke="#249a6b" stroke-width="0.55"/>
<ellipse cx="1281.8" cy="654" rx="2.8" ry="10.67" fill="none" fill-opacity="0" stroke="#249a6b" stroke-width="0.55"/>
<ellipse cx="1281.8" cy="654" rx="1.4" ry="5.33" fill="none" fill-opacity="0" stroke="#249a6b" stroke-width="0.55"/>
<ellipse cx="1281.8" cy="656.7" rx="5.5" ry="4" fill="none" fill-opacity="0" stroke="#249a6b" stroke-width="0.55"/>
<ellipse cx="1281.8" cy="656.7" rx="3.67" ry="2.67" fill="none" fill-opacity="0" stroke="#249a6b" stroke-width="0.55"/>
<ellipse cx="1281.8" cy="656.7" rx="1.83" ry="1.33" fill="none" fill-opacity="0" stroke="#249a6b" stroke-width="0.55"/>
<ellipse cx="1281.8" cy="667" rx="2.8" ry="5" fill="none" fill-opacity="0" stroke="#249a6b" stroke-width="0.55"/>
<ellipse cx="1281.8" cy="667" rx="1.4" ry="2.5" fill="none" fill-opacity="0" stroke="#249a6b" stroke-width="0.55"/>
<ellipse cx="1314.5" cy="603.9" rx="5.3" ry="5.3" fill="#249a6b" fill-opacity="0.35" stroke="#249a6b" stroke-width="0.55"/>
<ellipse cx="1314.5" cy="603.9" rx="3.97" ry="3.97" fill="none" fill-opacity="0.35" stroke="#249a6b" stroke-width="0.55"/>
<ellipse cx="1314.5" cy="603.9" rx="2.65" ry="2.65" fill="none" fill-opacity="0.35" stroke="#249a6b" stroke-width="0.55"/>
<ellipse cx="1314.5" cy="603.9" rx="1.32" ry="1.32" fill="none" fill-opacity="0.35" stroke="#249a6b" stroke-width="0.55"/>
<ellipse cx="1314.5" cy="612.5" rx="1.8" ry="5" fill="none" fill-opacity="0" stroke="#249a6b" stroke-width="0.55"/>
<ellipse cx="1314.5" cy="612.5" rx="0.9" ry="2.5" fill="none" fill-opacity="0" stroke="#249a6b" stroke-width="0.55"/>
<ellipse cx="1315.3" cy="624.3" rx="7.5" ry="11" fill="#249a6b" fill-opacity="0.45" stroke="#249a6b" stroke-width="0.55"/>
<ellipse cx="1315.3" cy="624.3" rx="6.43" ry="9.43" fill="none" fill-opacity="0.45" stroke="#249a6b" stroke-width="0.55"/>
<ellipse cx="1315.3" cy="624.3" rx="5.36" ry="7.86" fill="none" fill-opacity="0.45" stroke="#249a6b" stroke-width="0.55"/>
<ellipse cx="1315.3" cy="624.3" rx="4.29" ry="6.29" fill="none" fill-opacity="0.45" stroke="#249a6b" stroke-width="0.55"/>
<ellipse cx="1315.3" cy="624.3" rx="3.21" ry="4.71" fill="none" fill-opacity="0.45" stroke="#249a6b" stroke-width="0.55"/>
<ellipse cx="1315.3" cy="624.3" rx="2.14" ry="3.14" fill="none" fill-opacity="0.45" stroke="#249a6b" stroke-width="0.55"/>
<ellipse cx="1315.3" cy="624.3" rx="1.07" ry="1.57" fill="none" fill-opacity="0.45" stroke="#249a6b" stroke-width="0.55"/>
<ellipse cx="1321.5" cy="624.3" rx="4" ry="3.5" fill="none" fill-opacity="0" stroke="#249a6b" stroke-width="0.55"/>
<ellipse cx="1321.5" cy="624.3" rx="2" ry="1.75" fill="none" fill-opacity="0" stroke="#249a6b" stroke-width="0.55"/>
<ellipse cx="1314.5" cy="655.2" rx="3.2" ry="7.5" fill="none" fill-opacity="0" stroke="#249a6b" stroke-width="0.55"/>
<ellipse cx="1314.5" cy="655.2" rx="2.13" ry="5" fill="none" fill-opacity="0" stroke="#249a6b" stroke-width="0.55"/>
<ellipse cx="1314.5" cy="655.2" rx="1.07" ry="2.5" fill="none" fill-opacity="0" stroke="#249a6b" stroke-width="0.55"/>
<ellipse cx="1507.5" cy="624.3" rx="6.8" ry="6.8" fill="none" fill-opacity="0" stroke="#249a6b" stroke-width="0.55"/>
<ellipse cx="1507.5" cy="624.3" rx="5.44" ry="5.44" fill="none" fill-opacity="0" stroke="#249a6b" stroke-width="0.55"/>
<ellipse cx="1507.5" cy="624.3" rx="4.08" ry="4.08" fill="none" fill-opacity="0" stroke="#249a6b" stroke-width="0.55"/>
<ellipse cx="1507.5" cy="624.3" rx="2.72" ry="2.72" fill="none" fill-opacity="0" stroke="#249a6b" stroke-width="0.55"/>
<ellipse cx="1507.5" cy="624.3" rx="1.36" ry="1.36" fill="none" fill-opacity="0" stroke="#249a6b" stroke-width="0.55"/>
<ellipse cx="1492.9" cy="624.7" rx="3.4" ry="2.8" fill="none" fill-opacity="0" stroke="#249a6b" stroke-width="0.55"/>
<ellipse cx="1492.9" cy="624.7" rx="1.7" ry="1.4" fill="none" fill-opacity="0" stroke="#249a6b" stroke-width="0.55"/>
<ellipse cx="1527.1" cy="624.7" rx="4.4" ry="3.8" fill="none" fill-opacity="0" stroke="#249a6b" stroke-width="0.55"/>
<ellipse cx="1527.1" cy="624.7" rx="2.93" ry="2.53" fill="none" fill-opacity="0" stroke="#249a6b" stroke-width="0.55"/>
<ellipse cx="1527.1" cy="624.7" rx="1.47" ry="1.27" fill="none" fill-opacity="0" stroke="#249a6b" stroke-width="0.55"/>
<ellipse cx="1506.5" cy="604.2" rx="2.6" ry="2" fill="none" fill-opacity="0" stroke="#249a6b" stroke-width="0.55"/>
<ellipse cx="1506.5" cy="604.2" rx="1.3" ry="1" fill="none" fill-opacity="0" stroke="#249a6b" stroke-width="0.55"/>
<path d="M1275.3 800.5 C1276 797.5 1287 797.5 1287.8 800.5 C1288 804 1285 807.3 1281.5 807.3 C1278 807.3 1275 804 1275.3 800.5Z" fill="#249a6b" fill-opacity="0.5" stroke="#249a6b" stroke-width="0.8"/>
<ellipse cx="1281.5" cy="802" rx="3.8" ry="2.6" fill="none" fill-opacity="0" stroke="#249a6b" stroke-width="0.55"/>
<ellipse cx="1281.5" cy="802" rx="1.9" ry="1.3" fill="none" fill-opacity="0" stroke="#249a6b" stroke-width="0.55"/>
<path d="M1314.5 808.5 C1313.12 804.48 1307.62 797.58 1314.5 797 C1321.38 797.58 1315.88 804.48 1314.5 808.5Z" fill="#249a6b" fill-opacity="0.55" stroke="#249a6b" stroke-width="0.7"/>
<path d="M1314.5 807.16 C1313.42 803.82 1309.09 798.09 1314.5 797.61 C1319.91 798.09 1315.58 803.82 1314.5 807.16Z" fill="none" fill-opacity="0.55" stroke="#249a6b" stroke-width="0.7"/>
<path d="M1314.5 805.81 C1313.71 803.16 1310.55 798.6 1314.5 798.22 C1318.45 798.6 1315.29 803.16 1314.5 805.81Z" fill="none" fill-opacity="0.55" stroke="#249a6b" stroke-width="0.7"/>
<path d="M1314.5 804.47 C1314 802.5 1312.01 799.11 1314.5 798.83 C1316.99 799.11 1315 802.5 1314.5 804.47Z" fill="none" fill-opacity="0.55" stroke="#249a6b" stroke-width="0.7"/>
<path d="M1281.9 848 C1279.53 840.09 1270.03 826.53 1281.9 825.4 C1293.78 826.53 1284.28 840.09 1281.9 848Z" fill="#249a6b" fill-opacity="0.5" stroke="#249a6b" stroke-width="0.7"/>
<path d="M1281.9 846.49 C1279.81 839.35 1271.47 827.11 1281.9 826.09 C1292.33 827.11 1283.99 839.35 1281.9 846.49Z" fill="none" fill-opacity="0.5" stroke="#249a6b" stroke-width="0.7"/>
<path d="M1281.9 844.98 C1280.1 838.61 1272.91 827.68 1281.9 826.77 C1290.89 827.68 1283.7 838.61 1281.9 844.98Z" fill="none" fill-opacity="0.5" stroke="#249a6b" stroke-width="0.7"/>
<path d="M1281.9 843.47 C1280.39 837.87 1274.35 828.26 1281.9 827.46 C1289.45 828.26 1283.41 837.87 1281.9 843.47Z" fill="none" fill-opacity="0.5" stroke="#249a6b" stroke-width="0.7"/>
<path d="M1281.9 841.96 C1280.68 837.13 1275.79 828.84 1281.9 828.14 C1288.01 828.84 1283.12 837.13 1281.9 841.96Z" fill="none" fill-opacity="0.5" stroke="#249a6b" stroke-width="0.7"/>
<path d="M1281.9 840.45 C1280.97 836.39 1277.23 829.41 1281.9 828.83 C1286.57 829.41 1282.83 836.39 1281.9 840.45Z" fill="none" fill-opacity="0.5" stroke="#249a6b" stroke-width="0.7"/>
<path d="M1281.9 838.94 C1281.26 835.64 1278.68 829.99 1281.9 829.52 C1285.12 829.99 1282.54 835.64 1281.9 838.94Z" fill="none" fill-opacity="0.5" stroke="#249a6b" stroke-width="0.7"/>
<ellipse cx="1281.9" cy="858" rx="3.2" ry="19" fill="none" fill-opacity="0" stroke="#249a6b" stroke-width="0.55"/>
<ellipse cx="1281.9" cy="858" rx="2.13" ry="12.67" fill="none" fill-opacity="0" stroke="#249a6b" stroke-width="0.55"/>
<ellipse cx="1281.9" cy="858" rx="1.07" ry="6.33" fill="none" fill-opacity="0" stroke="#249a6b" stroke-width="0.55"/>
<ellipse cx="1281.9" cy="873" rx="1.8" ry="4.5" fill="none" fill-opacity="0" stroke="#249a6b" stroke-width="0.55"/>
<ellipse cx="1281.9" cy="873" rx="0.9" ry="2.25" fill="none" fill-opacity="0" stroke="#249a6b" stroke-width="0.55"/>
<rect x="1281" y="884" width="1.6" height="1.4" fill="#249a6b"/>
<rect x="1281" y="888" width="1.6" height="1.4" fill="#249a6b"/>
<rect x="1281" y="891.5" width="1.6" height="1.4" fill="#249a6b"/>
<rect x="1281" y="895" width="1.6" height="1.4" fill="#249a6b"/>
<path d="M1314.2 847.5 C1312.95 840.43 1307.95 828.31 1314.2 827.3 C1320.45 828.31 1315.45 840.43 1314.2 847.5Z" fill="#249a6b" fill-opacity="0.5" stroke="#249a6b" stroke-width="0.7"/>
<path d="M1314.2 845.61 C1313.16 839.5 1309.01 829.03 1314.2 828.16 C1319.39 829.03 1315.24 839.5 1314.2 845.61Z" fill="none" fill-opacity="0.5" stroke="#249a6b" stroke-width="0.7"/>
<path d="M1314.2 843.72 C1313.38 838.58 1310.08 829.75 1314.2 829.02 C1318.33 829.75 1315.03 838.58 1314.2 843.72Z" fill="none" fill-opacity="0.5" stroke="#249a6b" stroke-width="0.7"/>
<path d="M1314.2 841.83 C1313.59 837.65 1311.14 830.47 1314.2 829.88 C1317.26 830.47 1314.81 837.65 1314.2 841.83Z" fill="none" fill-opacity="0.5" stroke="#249a6b" stroke-width="0.7"/>
<path d="M1314.2 839.95 C1313.8 836.72 1312.2 831.19 1314.2 830.73 C1316.2 831.19 1314.6 836.72 1314.2 839.95Z" fill="none" fill-opacity="0.5" stroke="#249a6b" stroke-width="0.7"/>
<ellipse cx="1314.2" cy="861.2" rx="1.5" ry="2.8" fill="none" fill-opacity="0" stroke="#249a6b" stroke-width="0.55"/>
<ellipse cx="1506.8" cy="802.2" rx="2.8" ry="1.9" fill="none" fill-opacity="0" stroke="#249a6b" stroke-width="0.55"/>
<ellipse cx="1506.8" cy="802.2" rx="1.4" ry="0.95" fill="none" fill-opacity="0" stroke="#249a6b" stroke-width="0.55"/>
<ellipse cx="1506.8" cy="832.3" rx="2.6" ry="3" fill="none" fill-opacity="0" stroke="#249a6b" stroke-width="0.55"/>
<ellipse cx="1506.8" cy="832.3" rx="1.3" ry="1.5" fill="none" fill-opacity="0" stroke="#249a6b" stroke-width="0.55"/>
</g>
<g>
<text x="1641.8" y="535.1" font-size="57" textLength="34.5" lengthAdjust="spacingAndGlyphs" stroke="#000" stroke-width="1">h</text>
<text x="1713" y="577.8" font-size="31.5" textLength="295" lengthAdjust="spacingAndGlyphs" stroke="#000" stroke-width="0.35">F<tspan font-weight="bold">···</tspan>F contacts within</text>
<text x="1700" y="619.6" font-size="31.5" textLength="321.5" lengthAdjust="spacingAndGlyphs" stroke="#000" stroke-width="0.35">PFAS sorption systems</text>
<g transform="translate(1656.44 634.3) scale(0.8)">
<path d="M92.2 100 L132.1 79.1 L175.3 100 L214.5 79.1 L258.5 100 L297.7 79.1 L340.9 100 L380.5 79.1" stroke="#7d7d7d" stroke-width="1.6" fill="none" stroke-linejoin="round"/>
<line x1="92.2" y1="100" x2="54.7" y2="75" stroke="#7d7d7d" stroke-width="1.6" />
<line x1="92.2" y1="100" x2="54.7" y2="121.6" stroke="#7d7d7d" stroke-width="1.6" />
<line x1="92.7" y1="100" x2="92.7" y2="145.2" stroke="#7d7d7d" stroke-width="1.6" />
<text x="46.7" y="79.73" font-size="26.78" text-anchor="middle" fill="#7d7d7d" stroke="#111" stroke-width="0.35">F</text>
<text x="42.8" y="140.23" font-size="26.78" text-anchor="middle" fill="#7d7d7d" stroke="#111" stroke-width="0.35">F</text>
<text x="93.2" y="169.63" font-size="26.78" text-anchor="middle" fill="#7d7d7d" stroke="#111" stroke-width="0.35">F</text>
<line x1="132.1" y1="79.1" x2="107.4" y2="35.8" stroke="#7d7d7d" stroke-width="1.6" />
<line x1="132.1" y1="79.1" x2="153.1" y2="42.3" stroke="#7d7d7d" stroke-width="1.6" />
<text x="103.1" y="39.23" font-size="26.78" text-anchor="middle" fill="#7d7d7d" stroke="#111" stroke-width="0.35">F</text>
<text x="161.4" y="38.53" font-size="26.78" text-anchor="middle" fill="#7d7d7d" stroke="#111" stroke-width="0.35">F</text>
<line x1="214.5" y1="79.1" x2="189.8" y2="35.8" stroke="#7d7d7d" stroke-width="1.6" />
<line x1="214.5" y1="79.1" x2="235.5" y2="42.3" stroke="#7d7d7d" stroke-width="1.6" />
<text x="185.5" y="39.23" font-size="26.78" text-anchor="middle" fill="#7d7d7d" stroke="#111" stroke-width="0.35">F</text>
<text x="243.8" y="38.53" font-size="26.78" text-anchor="middle" fill="#7d7d7d" stroke="#111" stroke-width="0.35">F</text>
<line x1="297.7" y1="79.1" x2="273" y2="35.8" stroke="#7d7d7d" stroke-width="1.6" />
<line x1="297.7" y1="79.1" x2="318.7" y2="42.3" stroke="#7d7d7d" stroke-width="1.6" />
<text x="268.7" y="39.23" font-size="26.78" text-anchor="middle" fill="#7d7d7d" stroke="#111" stroke-width="0.35">F</text>
<text x="327" y="38.53" font-size="26.78" text-anchor="middle" fill="#7d7d7d" stroke="#111" stroke-width="0.35">F</text>
<line x1="380.5" y1="79.1" x2="355.8" y2="35.8" stroke="#7d7d7d" stroke-width="1.6" />
<line x1="380.5" y1="79.1" x2="401.5" y2="42.3" stroke="#7d7d7d" stroke-width="1.6" />
<text x="351.5" y="39.23" font-size="26.78" text-anchor="middle" fill="#7d7d7d" stroke="#111" stroke-width="0.35">F</text>
<text x="409.8" y="38.53" font-size="26.78" text-anchor="middle" fill="#7d7d7d" stroke="#111" stroke-width="0.35">F</text>
<line x1="175.3" y1="100" x2="154" y2="137.3" stroke="#7d7d7d" stroke-width="1.6" />
<line x1="175.3" y1="100" x2="197.3" y2="138" stroke="#7d7d7d" stroke-width="1.6" />
<text x="146.6" y="161.13" font-size="26.78" text-anchor="middle" fill="#7d7d7d" stroke="#111" stroke-width="0.35">F</text>
<text x="204.3" y="161.13" font-size="26.78" text-anchor="middle" fill="#7d7d7d" stroke="#111" stroke-width="0.35">F</text>
<line x1="258.5" y1="100" x2="237.2" y2="137.3" stroke="#7d7d7d" stroke-width="1.6" />
<line x1="258.5" y1="100" x2="280.5" y2="138" stroke="#7d7d7d" stroke-width="1.6" />
<text x="229.8" y="161.13" font-size="26.78" text-anchor="middle" fill="#7d7d7d" stroke="#111" stroke-width="0.35">F</text>
<text x="287.5" y="161.13" font-size="26.78" text-anchor="middle" fill="#7d7d7d" stroke="#111" stroke-width="0.35">F</text>
<line x1="340.9" y1="100" x2="319.6" y2="137.3" stroke="#7d7d7d" stroke-width="1.6" />
<line x1="340.9" y1="100" x2="362.9" y2="138" stroke="#7d7d7d" stroke-width="1.6" />
<text x="312.2" y="161.13" font-size="26.78" text-anchor="middle" fill="#7d7d7d" stroke="#111" stroke-width="0.35">F</text>
<text x="369.9" y="161.13" font-size="26.78" text-anchor="middle" fill="#7d7d7d" stroke="#111" stroke-width="0.35">F</text>
<line x1="380.5" y1="79.1" x2="409.6" y2="90.2" stroke="#7d7d7d" stroke-width="1.6" />
<text x="422" y="105.99" font-size="27.83" text-anchor="middle" fill="#7d7d7d" stroke="#111" stroke-width="0.35">S</text>
<line x1="425.9" y1="79.8" x2="434.4" y2="68.3" stroke="#7d7d7d" stroke-width="1.6" />
<line x1="433.1" y1="85.7" x2="441.6" y2="73.9" stroke="#7d7d7d" stroke-width="1.6" />
<text x="447.2" y="68.81" font-size="27.3" text-anchor="middle" fill="#7d7d7d" stroke="#111" stroke-width="0.35">O</text>
<line x1="410.2" y1="105.9" x2="402.4" y2="118.4" stroke="#7d7d7d" stroke-width="1.6" />
<line x1="416.8" y1="110.5" x2="408.9" y2="122.6" stroke="#7d7d7d" stroke-width="1.6" />
<text x="398.8" y="142.51" font-size="27.3" text-anchor="middle" fill="#7d7d7d" stroke="#111" stroke-width="0.35">O</text>
<line x1="435.1" y1="100" x2="451.4" y2="106.6" stroke="#7d7d7d" stroke-width="1.6" />
<text x="464.5" y="122.11" font-size="27.3" text-anchor="middle" fill="#7d7d7d" stroke="#111" stroke-width="0.35">O</text>
<line x1="475.6" y1="101.4" x2="486.7" y2="101.4" stroke="#7d7d7d" stroke-width="1.39" />
</g>
<circle cx="1716.8" cy="713.1" r="19.8" fill="none" stroke="#9b00a8" stroke-width="3.2"/>
<circle cx="1762.7" cy="713.5" r="20.3" fill="none" stroke="#008c14" stroke-width="3.2"/>
<ellipse cx="1861.1" cy="714.1" rx="67.4" ry="20.4" fill="none" stroke="#c40000" stroke-width="3.2"/>
<circle cx="1962" cy="714.1" r="20.6" fill="none" stroke="#00529c" stroke-width="3.2"/>
<line x1="1718.3" y1="733.5" x2="1769.6" y2="829.3" stroke="#1e1e1e" stroke-width="2.2" stroke-linecap="round"/>
<line x1="1718.3" y1="733.5" x2="1856.6" y2="829.8" stroke="#1e1e1e" stroke-width="2.2" stroke-linecap="round"/>
<line x1="1765.2" y1="735.6" x2="1770.3" y2="829.3" stroke="#1e1e1e" stroke-width="2.2" stroke-linecap="round"/>
<line x1="1765.2" y1="735.6" x2="1945.5" y2="831.3" stroke="#1e1e1e" stroke-width="2.2" stroke-linecap="round"/>
<line x1="1865.1" y1="734.8" x2="1770.8" y2="829.3" stroke="#1e1e1e" stroke-width="2.2" stroke-linecap="round"/>
<rect x="1685.8" y="874.4" width="359.6" height="49.2" fill="url(#hbar)" rx="2"/>
<circle cx="1770.3" cy="850.6" r="20.3" fill="#fff" stroke="#f64cd8" stroke-width="3.2"/>
<circle cx="1857.9" cy="851.3" r="20.3" fill="#fff" stroke="#00aeb2" stroke-width="3.2"/>
<circle cx="1947" cy="852.6" r="20.3" fill="#fff" stroke="#d65f0a" stroke-width="3.2"/>
<text x="1771.2" y="859" font-size="30.45" text-anchor="middle" textLength="14.5" lengthAdjust="spacingAndGlyphs" stroke="#000" stroke-width="0.35">γ</text>
<text x="1860.2" y="859.5" font-size="30.45" text-anchor="middle" textLength="15.5" lengthAdjust="spacingAndGlyphs" stroke="#000" stroke-width="0.35">β</text>
<text x="1947.4" y="860.5" font-size="30.45" text-anchor="middle" textLength="18" lengthAdjust="spacingAndGlyphs" stroke="#000" stroke-width="0.35">α</text>
</g>
<g>
<clipPath id="piclip"><rect x="81.6" y="1038.7" width="432.6" height="348.5"/></clipPath>
<g clip-path="url(#piclip)">
<path d="M81.6 1387.2 C90.61 1380.08 117.65 1358.59 135.68 1344.51 C153.7 1330.42 174.43 1314.74 189.75 1302.69 C205.07 1290.64 209.58 1285.99 227.6 1272.2 C245.63 1258.4 277.17 1235.31 297.9 1219.92 C318.63 1204.53 333.95 1193.64 351.98 1179.84 C370 1166.05 388.03 1151.24 406.05 1137.15 C424.08 1123.07 442.1 1109.13 460.12 1095.33 C478.15 1081.54 505.19 1061.21 514.2 1054.38" stroke="#f97878" stroke-width="2.2" fill="none" stroke-dasharray="6 4.5" stroke-linejoin="round" stroke-linecap="round"/>
<path d="M81.6 1387.2 C85.2 1384.88 94.22 1378.34 103.23 1373.26 C112.24 1368.18 121.26 1363.82 135.68 1356.71 C150.1 1349.59 171.72 1337.68 189.75 1330.57 C207.78 1323.45 225.8 1320.26 243.83 1314.02 C261.85 1307.77 279.88 1299.93 297.9 1293.11 C315.92 1286.28 333.95 1280.18 351.98 1273.07 C370 1265.95 388.03 1256.95 406.05 1250.41 C424.08 1243.88 442.1 1238.36 460.12 1233.86 C478.15 1229.36 505.19 1225.15 514.2 1223.4" stroke="#4aa9d9" stroke-width="2.2" fill="none" stroke-dasharray="6 4.5" stroke-linejoin="round" stroke-linecap="round"/>
<path d="M81.6 1387.2 C90.61 1383.57 117.65 1371.81 135.68 1365.42 C153.7 1359.03 171.72 1353.51 189.75 1348.87 C207.78 1344.22 225.8 1341.31 243.83 1337.54 C261.85 1333.76 279.88 1330.57 297.9 1326.21 C315.92 1321.86 333.95 1316.92 351.98 1311.4 C370 1305.88 388.03 1299.06 406.05 1293.11 C424.08 1287.15 442.1 1281.78 460.12 1275.68 C478.15 1269.58 505.19 1259.71 514.2 1256.51" stroke="#12a03f" stroke-width="2.2" fill="none" stroke-dasharray="6 4.5" stroke-linejoin="round" stroke-linecap="round"/>
<path d="M81.6 1387.2 C90.61 1382.99 117.65 1370.07 135.68 1361.93 C153.7 1353.8 171.72 1346.25 189.75 1338.41 C207.78 1330.57 225.8 1322.87 243.83 1314.89 C261.85 1306.9 279.88 1298.19 297.9 1290.49 C315.92 1282.8 333.95 1276.12 351.98 1268.71 C370 1261.3 388.03 1253.03 406.05 1246.06 C424.08 1239.09 445.7 1231.68 460.12 1226.89 C474.55 1222.1 483.56 1219.63 492.57 1217.31 C501.58 1214.98 510.6 1213.68 514.2 1212.95" stroke="#4aa9d9" stroke-width="2.2" fill="none"  stroke-linejoin="round" stroke-linecap="round"/>
<path d="M81.6 1387.2 C90.61 1382.84 117.65 1369.48 135.68 1361.06 C153.7 1352.64 177.13 1342.77 189.75 1336.67 C202.37 1330.57 202.37 1328.54 211.38 1324.47 C220.39 1320.4 229.41 1317.35 243.83 1312.27 C258.25 1307.19 279.88 1299.64 297.9 1293.98 C315.92 1288.31 333.95 1284.25 351.98 1278.29 C370 1272.34 391.63 1263.05 406.05 1258.26 C420.47 1253.46 425.88 1252.45 438.5 1249.54 C451.11 1246.64 469.14 1244.31 481.75 1240.83 C494.37 1237.35 508.79 1230.67 514.2 1228.63" stroke="#f97878" stroke-width="2.2" fill="none"  stroke-linejoin="round" stroke-linecap="round"/>
<path d="M81.6 1387.2 C90.61 1384.73 121.26 1376.16 135.68 1372.39 C150.1 1368.61 159.11 1366.44 168.12 1364.55 C177.13 1362.66 182.54 1362.08 189.75 1361.06 C196.96 1360.05 202.37 1358.88 211.38 1358.45 C220.39 1358.01 233.01 1358.3 243.83 1358.45 C254.64 1358.59 267.26 1359.32 276.27 1359.32 C285.28 1359.32 290.69 1358.88 297.9 1358.45 C305.11 1358.01 310.52 1357.72 319.53 1356.71 C328.54 1355.69 341.16 1353.95 351.98 1352.35 C362.79 1350.75 375.41 1348.43 384.42 1347.12 C393.43 1345.82 397.04 1345.67 406.05 1344.51 C415.06 1343.35 429.48 1341.31 438.5 1340.15 C447.51 1338.99 451.11 1338.26 460.12 1337.54 C469.14 1336.81 483.56 1336.52 492.57 1335.8 C501.58 1335.07 510.6 1333.62 514.2 1333.18" stroke="#12a03f" stroke-width="2.2" fill="none"  stroke-linejoin="round" stroke-linecap="round"/>
</g>
<rect x="81.6" y="1038.7" width="432.6" height="348.5" fill="none" stroke="#000" stroke-width="1.8"/>
<line x1="81.6" y1="1387.2" x2="81.6" y2="1394.2" stroke="#000" stroke-width="1.8" />
<line x1="81.6" y1="1387.2" x2="74.6" y2="1387.2" stroke="#000" stroke-width="1.8" />
<text x="81.6" y="1420" font-size="25.73" text-anchor="middle" textLength="14" lengthAdjust="spacingAndGlyphs" stroke="#000" stroke-width="0.35">0</text>
<text x="68" y="1394.2" font-size="25.73" text-anchor="end" textLength="14" lengthAdjust="spacingAndGlyphs" stroke="#000" stroke-width="0.35">0</text>
<line x1="189.75" y1="1387.2" x2="189.75" y2="1394.2" stroke="#000" stroke-width="1.8" />
<line x1="81.6" y1="1300.08" x2="74.6" y2="1300.08" stroke="#000" stroke-width="1.8" />
<text x="189.75" y="1420" font-size="25.73" text-anchor="middle" textLength="28" lengthAdjust="spacingAndGlyphs" stroke="#000" stroke-width="0.35">10</text>
<text x="68" y="1307.08" font-size="25.73" text-anchor="end" textLength="28" lengthAdjust="spacingAndGlyphs" stroke="#000" stroke-width="0.35">10</text>
<line x1="297.9" y1="1387.2" x2="297.9" y2="1394.2" stroke="#000" stroke-width="1.8" />
<line x1="81.6" y1="1212.95" x2="74.6" y2="1212.95" stroke="#000" stroke-width="1.8" />
<text x="297.9" y="1420" font-size="25.73" text-anchor="middle" textLength="28" lengthAdjust="spacingAndGlyphs" stroke="#000" stroke-width="0.35">20</text>
<text x="68" y="1219.95" font-size="25.73" text-anchor="end" textLength="28" lengthAdjust="spacingAndGlyphs" stroke="#000" stroke-width="0.35">20</text>
<line x1="406.05" y1="1387.2" x2="406.05" y2="1394.2" stroke="#000" stroke-width="1.8" />
<line x1="81.6" y1="1125.83" x2="74.6" y2="1125.83" stroke="#000" stroke-width="1.8" />
<text x="406.05" y="1420" font-size="25.73" text-anchor="middle" textLength="28" lengthAdjust="spacingAndGlyphs" stroke="#000" stroke-width="0.35">30</text>
<text x="68" y="1132.83" font-size="25.73" text-anchor="end" textLength="28" lengthAdjust="spacingAndGlyphs" stroke="#000" stroke-width="0.35">30</text>
<line x1="514.2" y1="1387.2" x2="514.2" y2="1394.2" stroke="#000" stroke-width="1.8" />
<line x1="81.6" y1="1038.7" x2="74.6" y2="1038.7" stroke="#000" stroke-width="1.8" />
<text x="514.2" y="1420" font-size="25.73" text-anchor="middle" textLength="28" lengthAdjust="spacingAndGlyphs" stroke="#000" stroke-width="0.35">40</text>
<text x="68" y="1045.7" font-size="25.73" text-anchor="end" textLength="28" lengthAdjust="spacingAndGlyphs" stroke="#000" stroke-width="0.35">40</text>
<line x1="135.68" y1="1387.2" x2="135.68" y2="1390.8" stroke="#000" stroke-width="1.5" />
<line x1="81.6" y1="1343.64" x2="77.8" y2="1343.64" stroke="#000" stroke-width="1.5" />
<line x1="243.83" y1="1387.2" x2="243.83" y2="1390.8" stroke="#000" stroke-width="1.5" />
<line x1="81.6" y1="1256.51" x2="77.8" y2="1256.51" stroke="#000" stroke-width="1.5" />
<line x1="351.98" y1="1387.2" x2="351.98" y2="1390.8" stroke="#000" stroke-width="1.5" />
<line x1="81.6" y1="1169.39" x2="77.8" y2="1169.39" stroke="#000" stroke-width="1.5" />
<line x1="460.12" y1="1387.2" x2="460.12" y2="1390.8" stroke="#000" stroke-width="1.5" />
<line x1="81.6" y1="1082.26" x2="77.8" y2="1082.26" stroke="#000" stroke-width="1.5" />
<text x="243.7" y="1453.7" font-size="27.3" textLength="108.4" lengthAdjust="spacingAndGlyphs" stroke="#000" stroke-width="0.35">Time (ns)</text>
<text x="27.6" y="1213.5" font-size="27.3" text-anchor="middle" textLength="128" lengthAdjust="spacingAndGlyphs" stroke="#000" stroke-width="0.35" transform="rotate(-90 27.6 1213.5)">MSD (nm<tspan dy="-9" font-size="17">2</tspan><tspan dy="9">)</tspan></text>
<text x="5.8" y="1053" font-size="57" stroke="#000" stroke-width="2.6">i</text>
<line x1="92.3" y1="1054.1" x2="127.2" y2="1054.1" stroke="#4aa9d9" stroke-width="3.8" />
<line x1="92.3" y1="1091.5" x2="127.2" y2="1091.5" stroke="#f97878" stroke-width="3.8" />
<line x1="92.3" y1="1129.2" x2="127.2" y2="1129.2" stroke="#12a03f" stroke-width="3.8" />
<text x="143.7" y="1062.8" font-size="25.73" textLength="333.8" lengthAdjust="spacingAndGlyphs" stroke="#000" stroke-width="0.35">Quaternary ammonium chain</text>
<text x="144.7" y="1100.5" font-size="25.73" textLength="164.6" lengthAdjust="spacingAndGlyphs" stroke="#000" stroke-width="0.35">Fluorous chain</text>
<text x="144.7" y="1138.3" font-size="25.73" textLength="208.8" lengthAdjust="spacingAndGlyphs" stroke="#000" stroke-width="0.35">Fluoroamine chain</text>
<text x="84.8" y="1232.6" font-size="24.68" textLength="159.7" lengthAdjust="spacingAndGlyphs" stroke="#000" stroke-width="0.35">Dash line:PFOA</text>
<text x="356.3" y="1332.5" font-size="24.68" textLength="156.4" lengthAdjust="spacingAndGlyphs" stroke="#000" stroke-width="0.35">Solid line:PFOS</text>
<path d="M228.2 1267.7 L171.3 1267.7 L171.3 1243" stroke="#222" stroke-width="1.3" fill="none" />
<polygon points="171.3,1235 173.6,1244 169,1244" fill="#111"/>
<path d="M313.5 1290.3 L313.5 1326.9 L345 1326.9" stroke="#222" stroke-width="1.3" fill="none" />
<polygon points="353.5,1326.9 344.5,1329.2 344.5,1324.6" fill="#111"/>
</g>
<g>
<clipPath id="pjclip"><rect x="678.2" y="1039.8" width="432.6" height="348.6"/></clipPath>
<g clip-path="url(#pjclip)">
<path d="M719.3 1388.4 C719.87 1378.09 722.47 1330.17 723.62 1311.1 C724.78 1292.03 726.8 1255.19 727.95 1245.39 C729.1 1235.6 731.12 1240.24 732.28 1237.67 C733.43 1235.09 735.45 1231.74 736.6 1226.07 C737.75 1220.4 739.77 1203.4 740.93 1195.15 C742.08 1186.9 743.81 1169.13 745.25 1164.23 C746.7 1159.33 750.01 1160.49 751.74 1158.43 C753.47 1156.37 756.79 1151.6 758.23 1148.77 C759.67 1145.94 761.4 1139.24 762.56 1137.18 C763.71 1135.11 765.73 1132.79 766.88 1133.31 C768.04 1133.83 770.06 1137.43 771.21 1141.04 C772.36 1144.65 774.38 1155.73 775.54 1160.37 C776.69 1165 778.42 1172.99 779.86 1175.83 C781.3 1178.66 784.04 1180.59 786.35 1181.62 C788.66 1182.65 794.86 1181.75 797.17 1183.56 C799.47 1185.36 801.64 1189.48 803.65 1195.15 C805.67 1200.82 810 1218.08 812.31 1226.07 C814.61 1234.06 818.65 1248.62 820.96 1255.06 C823.27 1261.5 827.01 1269.74 829.61 1274.38 C832.21 1279.02 837.54 1286.49 840.42 1289.84 C843.31 1293.19 848.36 1297.44 851.24 1299.51 C854.12 1301.57 859.17 1304.27 862.06 1305.3 C864.94 1306.33 868.54 1307.75 872.87 1307.24 C877.2 1306.72 888.73 1302.98 894.5 1301.44 C900.27 1299.89 910.36 1296.67 916.13 1295.64 C921.9 1294.61 931.99 1293.71 937.76 1293.71 C943.53 1293.71 953.62 1294.35 959.39 1295.64 C965.16 1296.93 975.25 1301.31 981.02 1303.37 C986.79 1305.43 996.88 1309.3 1002.65 1311.1 C1008.42 1312.9 1015.63 1314.58 1024.28 1316.9 C1032.93 1319.22 1056 1325.92 1067.54 1328.49 C1079.08 1331.07 1105.03 1335.19 1110.8 1336.22" stroke="#1f7ab8" stroke-width="2.4" fill="none" stroke-dasharray="5.5 4" stroke-linejoin="round" stroke-linecap="round"/>
<path d="M719.3 1388.4 C719.87 1375.52 722.47 1313.42 723.62 1291.78 C724.78 1270.13 726.94 1236.12 727.95 1226.07 C728.96 1216.02 730.33 1217.95 731.19 1216.41 C732.06 1214.86 733.57 1216.28 734.44 1214.48 C735.3 1212.67 736.53 1210.61 737.68 1202.88 C738.84 1195.15 741.79 1166.29 743.09 1156.5 C744.39 1146.71 746.26 1132.79 747.42 1129.45 C748.57 1126.1 750.59 1131.89 751.74 1131.38 C752.9 1130.86 754.77 1128.93 756.07 1125.58 C757.37 1122.23 760.03 1108.57 761.48 1106.26 C762.92 1103.94 765.59 1106.13 766.88 1108.19 C768.18 1110.25 770.06 1116.82 771.21 1121.72 C772.36 1126.61 774.38 1139.24 775.54 1144.91 C776.69 1150.57 778.42 1160.11 779.86 1164.23 C781.3 1168.35 784.04 1174.02 786.35 1175.83 C788.66 1177.63 794.86 1176.73 797.17 1177.76 C799.47 1178.79 802.21 1180.21 803.65 1183.56 C805.1 1186.9 805.96 1195.15 807.98 1202.88 C810 1210.61 815.91 1232.77 818.8 1241.53 C821.68 1250.29 826.73 1262.92 829.61 1268.59 C832.49 1274.25 837.54 1280.95 840.42 1284.05 C843.31 1287.14 848.36 1290.23 851.24 1291.78 C854.12 1293.32 859.17 1295.12 862.06 1295.64 C864.94 1296.16 868.54 1296.16 872.87 1295.64 C877.2 1295.12 888.73 1293.32 894.5 1291.78 C900.27 1290.23 910.36 1285.59 916.13 1284.05 C921.9 1282.5 931.99 1280.44 937.76 1280.18 C943.53 1279.92 953.62 1280.82 959.39 1282.11 C965.16 1283.4 975.25 1287.52 981.02 1289.84 C986.79 1292.16 996.88 1297.44 1002.65 1299.51 C1008.42 1301.57 1015.63 1302.73 1024.28 1305.3 C1032.93 1307.88 1056 1316 1067.54 1318.83 C1079.08 1321.66 1105.03 1325.53 1110.8 1326.56" stroke="#fa6a6a" stroke-width="2.4" fill="none" stroke-dasharray="5.5 4" stroke-linejoin="round" stroke-linecap="round"/>
<path d="M719.3 1388.4 C719.87 1380.15 722.61 1340.99 723.62 1326.56 C724.63 1312.13 726 1288.17 726.87 1280.18 C727.73 1272.19 729.25 1267.94 730.11 1266.65 C730.98 1265.36 732.49 1270.26 733.36 1270.52 C734.22 1270.78 735.59 1273.48 736.6 1268.59 C737.61 1263.69 739.77 1243.08 740.93 1233.8 C742.08 1224.52 744.1 1204.43 745.25 1199.02 C746.41 1193.6 748.43 1194.25 749.58 1193.22 C750.73 1192.19 752.75 1193.6 753.9 1191.29 C755.06 1188.97 757.08 1179.17 758.23 1175.83 C759.38 1172.48 761.4 1167.19 762.56 1166.16 C763.71 1165.13 765.87 1167.84 766.88 1168.1 C767.89 1168.35 769.26 1168.61 770.13 1168.1 C770.99 1167.58 772.36 1163.71 773.37 1164.23 C774.38 1164.75 776.54 1170.16 777.7 1171.96 C778.85 1173.76 780.29 1176.47 782.02 1177.76 C783.75 1179.05 788.66 1181.11 790.68 1181.62 C792.69 1182.14 795.43 1180.33 797.17 1181.62 C798.9 1182.91 801.64 1186.39 803.65 1191.29 C805.67 1196.18 810 1211.13 812.31 1218.34 C814.61 1225.55 818.65 1238.95 820.96 1245.39 C823.27 1251.84 827.01 1261.5 829.61 1266.65 C832.21 1271.81 837.54 1280.18 840.42 1284.05 C843.31 1287.91 848.36 1293.06 851.24 1295.64 C854.12 1298.22 859.17 1302.08 862.06 1303.37 C864.94 1304.66 869.99 1305.3 872.87 1305.3 C875.75 1305.3 880.8 1304.14 883.68 1303.37 C886.57 1302.6 890.17 1301.05 894.5 1299.51 C898.83 1297.96 910.36 1293.42 916.13 1291.78 C921.9 1290.13 931.99 1287.65 937.76 1287.14 C943.53 1286.62 953.62 1287.03 959.39 1287.91 C965.16 1288.79 975.25 1291.65 981.02 1293.71 C986.79 1295.77 996.88 1301.05 1002.65 1303.37 C1008.42 1305.69 1015.63 1309.04 1024.28 1311.1 C1032.93 1313.16 1056 1316.77 1067.54 1318.83 C1079.08 1320.89 1105.03 1325.53 1110.8 1326.56" stroke="#1f7ab8" stroke-width="2.4" fill="none"  stroke-linejoin="round" stroke-linecap="round"/>
<path d="M719.3 1388.4 C719.73 1380.67 721.68 1345.89 722.54 1330.43 C723.41 1314.97 725.07 1283.01 725.79 1272.45 C726.51 1261.89 727.23 1253.77 727.95 1251.19 C728.67 1248.62 730.33 1252.09 731.19 1253.12 C732.06 1254.16 733.72 1258.41 734.44 1258.92 C735.16 1259.44 735.74 1262.92 736.6 1256.99 C737.47 1251.06 739.77 1225.3 740.93 1214.48 C742.08 1203.65 744.1 1181.24 745.25 1175.83 C746.41 1170.41 748.43 1174.92 749.58 1173.89 C750.73 1172.86 752.75 1171.44 753.9 1168.1 C755.06 1164.75 757.22 1152.12 758.23 1148.77 C759.24 1145.42 760.32 1142.97 761.48 1142.97 C762.63 1142.97 765.59 1147.74 766.88 1148.77 C768.18 1149.8 770.06 1150.19 771.21 1150.7 C772.36 1151.22 774.38 1150.83 775.54 1152.64 C776.69 1154.44 778.71 1161.14 779.86 1164.23 C781.01 1167.32 782.75 1173.76 784.19 1175.83 C785.63 1177.89 788.95 1178.66 790.68 1179.69 C792.41 1180.72 795.43 1181.49 797.17 1183.56 C798.9 1185.62 801.64 1190 803.65 1195.15 C805.67 1200.3 810 1214.99 812.31 1222.21 C814.61 1229.42 818.65 1243.08 820.96 1249.26 C823.27 1255.44 827.01 1264.2 829.61 1268.59 C832.21 1272.97 837.54 1279.02 840.42 1282.11 C843.31 1285.2 848.36 1289.71 851.24 1291.78 C854.12 1293.84 859.17 1296.54 862.06 1297.57 C864.94 1298.6 869.99 1299.51 872.87 1299.51 C875.75 1299.51 880.8 1298.09 883.68 1297.57 C886.57 1297.06 890.17 1296.67 894.5 1295.64 C898.83 1294.61 910.36 1291.13 916.13 1289.84 C921.9 1288.55 931.99 1286.24 937.76 1285.98 C943.53 1285.72 953.62 1286.88 959.39 1287.91 C965.16 1288.94 975.25 1291.9 981.02 1293.71 C986.79 1295.51 996.88 1299.63 1002.65 1301.44 C1008.42 1303.24 1015.63 1305.69 1024.28 1307.24 C1032.93 1308.78 1056 1311.49 1067.54 1313.03 C1079.08 1314.58 1105.03 1318.06 1110.8 1318.83" stroke="#fa6a6a" stroke-width="2.4" fill="none"  stroke-linejoin="round" stroke-linecap="round"/>
</g>
<rect x="678.2" y="1039.8" width="432.6" height="348.6" fill="none" stroke="#000" stroke-width="1.8"/>
<line x1="678.2" y1="1388.4" x2="678.2" y2="1395.4" stroke="#000" stroke-width="1.8" />
<line x1="678.2" y1="1388.4" x2="671.2" y2="1388.4" stroke="#000" stroke-width="1.8" />
<text x="678.2" y="1420" font-size="25.73" text-anchor="middle" textLength="35.5" lengthAdjust="spacingAndGlyphs" stroke="#000" stroke-width="0.35">0.0</text>
<text x="665.8" y="1395.4" font-size="25.73" text-anchor="end" textLength="13.5" lengthAdjust="spacingAndGlyphs" stroke="#000" stroke-width="0.35">0</text>
<line x1="786.35" y1="1388.4" x2="786.35" y2="1395.4" stroke="#000" stroke-width="1.8" />
<line x1="678.2" y1="1311.1" x2="671.2" y2="1311.1" stroke="#000" stroke-width="1.8" />
<text x="786.35" y="1420" font-size="25.73" text-anchor="middle" textLength="35.5" lengthAdjust="spacingAndGlyphs" stroke="#000" stroke-width="0.35">0.5</text>
<text x="665.8" y="1318.1" font-size="25.73" text-anchor="end" textLength="13.5" lengthAdjust="spacingAndGlyphs" stroke="#000" stroke-width="0.35">2</text>
<line x1="894.5" y1="1388.4" x2="894.5" y2="1395.4" stroke="#000" stroke-width="1.8" />
<line x1="678.2" y1="1233.8" x2="671.2" y2="1233.8" stroke="#000" stroke-width="1.8" />
<text x="894.5" y="1420" font-size="25.73" text-anchor="middle" textLength="35.5" lengthAdjust="spacingAndGlyphs" stroke="#000" stroke-width="0.35">1.0</text>
<text x="665.8" y="1240.8" font-size="25.73" text-anchor="end" textLength="13.5" lengthAdjust="spacingAndGlyphs" stroke="#000" stroke-width="0.35">4</text>
<line x1="1002.65" y1="1388.4" x2="1002.65" y2="1395.4" stroke="#000" stroke-width="1.8" />
<line x1="678.2" y1="1156.5" x2="671.2" y2="1156.5" stroke="#000" stroke-width="1.8" />
<text x="1002.65" y="1420" font-size="25.73" text-anchor="middle" textLength="35.5" lengthAdjust="spacingAndGlyphs" stroke="#000" stroke-width="0.35">1.5</text>
<text x="665.8" y="1163.5" font-size="25.73" text-anchor="end" textLength="13.5" lengthAdjust="spacingAndGlyphs" stroke="#000" stroke-width="0.35">6</text>
<line x1="1110.8" y1="1388.4" x2="1110.8" y2="1395.4" stroke="#000" stroke-width="1.8" />
<line x1="678.2" y1="1079.2" x2="671.2" y2="1079.2" stroke="#000" stroke-width="1.8" />
<text x="1110.8" y="1420" font-size="25.73" text-anchor="middle" textLength="35.5" lengthAdjust="spacingAndGlyphs" stroke="#000" stroke-width="0.35">2.0</text>
<text x="665.8" y="1086.2" font-size="25.73" text-anchor="end" textLength="13.5" lengthAdjust="spacingAndGlyphs" stroke="#000" stroke-width="0.35">8</text>
<line x1="732.28" y1="1388.4" x2="732.28" y2="1392" stroke="#000" stroke-width="1.5" />
<line x1="678.2" y1="1349.75" x2="674.4" y2="1349.75" stroke="#000" stroke-width="1.5" />
<line x1="840.42" y1="1388.4" x2="840.42" y2="1392" stroke="#000" stroke-width="1.5" />
<line x1="678.2" y1="1272.45" x2="674.4" y2="1272.45" stroke="#000" stroke-width="1.5" />
<line x1="948.58" y1="1388.4" x2="948.58" y2="1392" stroke="#000" stroke-width="1.5" />
<line x1="678.2" y1="1195.15" x2="674.4" y2="1195.15" stroke="#000" stroke-width="1.5" />
<line x1="1056.72" y1="1388.4" x2="1056.72" y2="1392" stroke="#000" stroke-width="1.5" />
<line x1="678.2" y1="1117.85" x2="674.4" y2="1117.85" stroke="#000" stroke-width="1.5" />
<text x="859" y="1462.2" font-size="27.3" textLength="71" lengthAdjust="spacingAndGlyphs" stroke="#000" stroke-width="0.35">r (nm)</text>
<text x="631.5" y="1228.8" font-size="25.73" text-anchor="middle" textLength="364.7" lengthAdjust="spacingAndGlyphs" stroke="#000" stroke-width="0.35" transform="rotate(-90 631.5 1228.8)">g (-N(CH<tspan dy="5" font-size="16">3</tspan><tspan dy="-5">)</tspan><tspan dy="5" font-size="16">3</tspan><tspan dy="-14" font-size="16">+</tspan><tspan dy="9">_Anionic group) (r)</tspan></text>
<text x="562" y="1050.8" font-size="57" stroke="#000" stroke-width="2.4">j</text>
<line x1="695.1" y1="1050.8" x2="730.7" y2="1050.8" stroke="#1f7ab8" stroke-width="3.8" />
<line x1="695.1" y1="1088.2" x2="730.7" y2="1088.2" stroke="#fa6a6a" stroke-width="3.8" />
<text x="754" y="1061.1" font-size="25.73" textLength="332.6" lengthAdjust="spacingAndGlyphs" stroke="#000" stroke-width="0.35">Quaternary ammonium chain</text>
<text x="754" y="1097.5" font-size="25.73" textLength="208.6" lengthAdjust="spacingAndGlyphs" stroke="#000" stroke-width="0.35">Fluoroamine chain</text>
<text x="938.7" y="1260.9" font-size="24.68" textLength="163" lengthAdjust="spacingAndGlyphs" stroke="#000" stroke-width="0.35">Solid line: PFOS</text>
<text x="925.3" y="1350.8" font-size="24.68" textLength="166.3" lengthAdjust="spacingAndGlyphs" stroke="#000" stroke-width="0.35">Dash line: PFOA</text>
<path d="M889.7 1297.4 L889.7 1253 L927 1253" stroke="#222" stroke-width="1.3" fill="none" />
<polygon points="934.9,1253 925.9,1255.3 925.9,1250.7" fill="#111"/>
<path d="M876.6 1295.9 L876.6 1342.6 L914 1342.6" stroke="#222" stroke-width="1.3" fill="none" />
<polygon points="921.8,1342.6 912.8,1344.9 912.8,1340.3" fill="#111"/>
</g>
<g>
<rect x="1352.7" y="1037.5" width="30" height="176.25" fill="url(#kb)" stroke="#000" stroke-width="2.5"/>
<rect x="1382.7" y="1037.5" width="30" height="132.19" fill="url(#kg)" stroke="#000" stroke-width="2.5"/>
<rect x="1412.7" y="1037.5" width="30" height="308.44" fill="url(#kp)" stroke="#000" stroke-width="2.5"/>
<rect x="1533.5" y="1037.5" width="30" height="202.69" fill="url(#kb)" stroke="#000" stroke-width="2.5"/>
<rect x="1563.5" y="1037.5" width="30" height="114.56" fill="url(#kg)" stroke="#000" stroke-width="2.5"/>
<rect x="1593.5" y="1037.5" width="30" height="273.19" fill="url(#kp)" stroke="#000" stroke-width="2.5"/>
<rect x="1714.3" y="1037.5" width="30" height="237.94" fill="url(#kb)" stroke="#000" stroke-width="2.5"/>
<rect x="1744.3" y="1037.5" width="30" height="79.31" fill="url(#kg)" stroke="#000" stroke-width="2.5"/>
<rect x="1774.3" y="1037.5" width="30" height="237.94" fill="url(#kp)" stroke="#000" stroke-width="2.5"/>
<rect x="1895.2" y="1037.5" width="30" height="229.12" fill="url(#kb)" stroke="#000" stroke-width="2.5"/>
<rect x="1925.2" y="1037.5" width="30" height="52.88" fill="url(#kg)" stroke="#000" stroke-width="2.5"/>
<rect x="1955.2" y="1037.5" width="30" height="176.25" fill="url(#kp)" stroke="#000" stroke-width="2.5"/>
<rect x="1307" y="1037.5" width="724.2" height="352.5" fill="none" stroke="#000" stroke-width="1.8"/>
<line x1="1307" y1="1037.5" x2="1300" y2="1037.5" stroke="#000" stroke-width="1.8" />
<text x="1295.8" y="1045.7" font-size="25.73" text-anchor="end" textLength="52.6" lengthAdjust="spacingAndGlyphs" stroke="#000" stroke-width="0.35">0.00</text>
<line x1="1307" y1="1072.75" x2="1303.2" y2="1072.75" stroke="#000" stroke-width="1.5" />
<line x1="1307" y1="1108" x2="1300" y2="1108" stroke="#000" stroke-width="1.8" />
<text x="1295.8" y="1116.2" font-size="25.73" text-anchor="end" textLength="61.8" lengthAdjust="spacingAndGlyphs" stroke="#000" stroke-width="0.35">-0.08</text>
<line x1="1307" y1="1143.25" x2="1303.2" y2="1143.25" stroke="#000" stroke-width="1.5" />
<line x1="1307" y1="1178.5" x2="1300" y2="1178.5" stroke="#000" stroke-width="1.8" />
<text x="1295.8" y="1186.7" font-size="25.73" text-anchor="end" textLength="61.8" lengthAdjust="spacingAndGlyphs" stroke="#000" stroke-width="0.35">-0.16</text>
<line x1="1307" y1="1213.75" x2="1303.2" y2="1213.75" stroke="#000" stroke-width="1.5" />
<line x1="1307" y1="1249" x2="1300" y2="1249" stroke="#000" stroke-width="1.8" />
<text x="1295.8" y="1257.2" font-size="25.73" text-anchor="end" textLength="61.8" lengthAdjust="spacingAndGlyphs" stroke="#000" stroke-width="0.35">-0.24</text>
<line x1="1307" y1="1284.25" x2="1303.2" y2="1284.25" stroke="#000" stroke-width="1.5" />
<line x1="1307" y1="1319.5" x2="1300" y2="1319.5" stroke="#000" stroke-width="1.8" />
<text x="1295.8" y="1327.7" font-size="25.73" text-anchor="end" textLength="61.8" lengthAdjust="spacingAndGlyphs" stroke="#000" stroke-width="0.35">-0.32</text>
<line x1="1307" y1="1354.75" x2="1303.2" y2="1354.75" stroke="#000" stroke-width="1.5" />
<line x1="1307" y1="1390" x2="1300" y2="1390" stroke="#000" stroke-width="1.8" />
<text x="1295.8" y="1398.2" font-size="25.73" text-anchor="end" textLength="61.8" lengthAdjust="spacingAndGlyphs" stroke="#000" stroke-width="0.35">-0.40</text>
<line x1="1397.7" y1="1390" x2="1397.7" y2="1397" stroke="#000" stroke-width="1.8" />
<text x="1398.4" y="1430.2" font-size="25.73" text-anchor="middle" textLength="61.8" lengthAdjust="spacingAndGlyphs" stroke="#000" stroke-width="0.35">PFOS</text>
<line x1="1578.5" y1="1390" x2="1578.5" y2="1397" stroke="#000" stroke-width="1.8" />
<text x="1579.2" y="1430.2" font-size="25.73" text-anchor="middle" textLength="65" lengthAdjust="spacingAndGlyphs" stroke="#000" stroke-width="0.35">PFOA</text>
<line x1="1759.3" y1="1390" x2="1759.3" y2="1397" stroke="#000" stroke-width="1.8" />
<text x="1760" y="1430.2" font-size="25.73" text-anchor="middle" textLength="64" lengthAdjust="spacingAndGlyphs" stroke="#000" stroke-width="0.35">GenX</text>
<line x1="1940.2" y1="1390" x2="1940.2" y2="1397" stroke="#000" stroke-width="1.8" />
<text x="1940.9" y="1430.2" font-size="25.73" text-anchor="middle" textLength="58" lengthAdjust="spacingAndGlyphs" stroke="#000" stroke-width="0.35">PFBS</text>
<text x="1221.5" y="1214.2" font-size="26.78" text-anchor="middle" textLength="280" lengthAdjust="spacingAndGlyphs" stroke="#000" stroke-width="0.35" transform="rotate(-90 1221.5 1214.2)">Adsorption energy (eV)</text>
<text x="1163" y="1052.1" font-size="57" textLength="26.8" lengthAdjust="spacingAndGlyphs" stroke="#000" stroke-width="1">k</text>
<rect x="1651.8" y="1282.4" width="39.8" height="29.7" fill="url(#kb)" stroke="#000" stroke-width="2.8"/>
<rect x="1651.8" y="1317.6" width="39.8" height="31.1" fill="url(#kg)" stroke="#000" stroke-width="2.8"/>
<rect x="1651.8" y="1353.3" width="39.8" height="31.1" fill="url(#kp)" stroke="#000" stroke-width="2.8"/>
<text x="1711.3" y="1307.5" font-size="24.36" textLength="315.8" lengthAdjust="spacingAndGlyphs" stroke="#000" stroke-width="0.35">Quaternary ammonium chain</text>
<text x="1711.3" y="1341.9" font-size="24.36" textLength="155.6" lengthAdjust="spacingAndGlyphs" stroke="#000" stroke-width="0.35">Fluorous chain</text>
<text x="1711.3" y="1377.6" font-size="24.36" textLength="197.7" lengthAdjust="spacingAndGlyphs" stroke="#000" stroke-width="0.35">Fluoroamine chain</text>
<path d="M1307 1450.8 L1987 1450.8 L1987 1440.3 L2014.5 1457.6 L1987 1474.8 L1987 1464.5 L1307 1464.5Z" fill="url(#karrow)"/>
<text x="1388.1" y="1495.2" font-size="32.02" textLength="578" lengthAdjust="spacingAndGlyphs" stroke="#000" stroke-width="0.35">Decreased perfluorocarbon chain length</text>
</g>
<g>
<line x1="118.21" y1="1566.71" x2="138.33" y2="1554.13" stroke="#5c5c5c" stroke-width="3.8" />
<line x1="138.33" y1="1554.13" x2="150.91" y2="1564.2" stroke="#5c5c5c" stroke-width="3.8" />
<line x1="150.91" y1="1564.2" x2="168.51" y2="1547.85" stroke="#5c5c5c" stroke-width="3.8" />
<line x1="168.51" y1="1547.85" x2="187.37" y2="1559.16" stroke="#5c5c5c" stroke-width="3.8" />
<line x1="187.37" y1="1559.16" x2="203.72" y2="1539.04" stroke="#5c5c5c" stroke-width="3.8" />
<line x1="203.72" y1="1539.04" x2="228.87" y2="1551.62" stroke="#5c5c5c" stroke-width="3.8" />
<line x1="228.87" y1="1551.62" x2="247.74" y2="1532.76" stroke="#5c5c5c" stroke-width="3.8" />
<line x1="247.74" y1="1532.76" x2="264.71" y2="1538.42" stroke="#5c5c5c" stroke-width="3.8" />
<line x1="264.71" y1="1538.42" x2="281.69" y2="1544.07" stroke="#e8d410" stroke-width="3.8" />
<line x1="281.69" y1="1544.07" x2="291.75" y2="1533.39" stroke="#e8d410" stroke-width="3.8" />
<line x1="291.75" y1="1533.39" x2="301.81" y2="1522.7" stroke="#f00808" stroke-width="3.8" />
<line x1="281.69" y1="1544.07" x2="285.46" y2="1537.79" stroke="#e8d410" stroke-width="3.8" />
<line x1="285.46" y1="1537.79" x2="289.24" y2="1531.5" stroke="#f00808" stroke-width="3.8" />
<line x1="281.69" y1="1544.07" x2="281.69" y2="1557.91" stroke="#e8d410" stroke-width="3.8" />
<line x1="281.69" y1="1557.91" x2="281.69" y2="1571.74" stroke="#f00808" stroke-width="3.8" />
<line x1="245.22" y1="1505.09" x2="246.48" y2="1518.92" stroke="#14c414" stroke-width="3.8" />
<line x1="246.48" y1="1518.92" x2="247.74" y2="1532.76" stroke="#5c5c5c" stroke-width="3.8" />
<line x1="208.75" y1="1522.7" x2="206.24" y2="1530.87" stroke="#14c414" stroke-width="3.8" />
<line x1="206.24" y1="1530.87" x2="203.72" y2="1539.04" stroke="#5c5c5c" stroke-width="3.8" />
<line x1="192.4" y1="1525.21" x2="198.06" y2="1532.13" stroke="#14c414" stroke-width="3.8" />
<line x1="198.06" y1="1532.13" x2="203.72" y2="1539.04" stroke="#5c5c5c" stroke-width="3.8" />
<line x1="157.19" y1="1527.73" x2="162.85" y2="1537.79" stroke="#14c414" stroke-width="3.8" />
<line x1="162.85" y1="1537.79" x2="168.51" y2="1547.85" stroke="#5c5c5c" stroke-width="3.8" />
<line x1="129.53" y1="1532.76" x2="133.93" y2="1543.45" stroke="#14c414" stroke-width="3.8" />
<line x1="133.93" y1="1543.45" x2="138.33" y2="1554.13" stroke="#5c5c5c" stroke-width="3.8" />
<line x1="178.57" y1="1539.04" x2="173.54" y2="1543.45" stroke="#14c414" stroke-width="3.8" />
<line x1="173.54" y1="1543.45" x2="168.51" y2="1547.85" stroke="#5c5c5c" stroke-width="3.8" />
<line x1="150.91" y1="1551.62" x2="150.91" y2="1557.91" stroke="#14c414" stroke-width="3.8" />
<line x1="150.91" y1="1557.91" x2="150.91" y2="1564.2" stroke="#5c5c5c" stroke-width="3.8" />
<line x1="113.18" y1="1559.16" x2="115.69" y2="1562.94" stroke="#14c414" stroke-width="3.8" />
<line x1="115.69" y1="1562.94" x2="118.21" y2="1566.71" stroke="#5c5c5c" stroke-width="3.8" />
<line x1="101.86" y1="1564.2" x2="110.04" y2="1565.45" stroke="#14c414" stroke-width="3.8" />
<line x1="110.04" y1="1565.45" x2="118.21" y2="1566.71" stroke="#5c5c5c" stroke-width="3.8" />
<line x1="237.68" y1="1531.5" x2="242.71" y2="1532.13" stroke="#14c414" stroke-width="3.8" />
<line x1="242.71" y1="1532.13" x2="247.74" y2="1532.76" stroke="#5c5c5c" stroke-width="3.8" />
<line x1="137.07" y1="1570.48" x2="143.99" y2="1567.34" stroke="#14c414" stroke-width="3.8" />
<line x1="143.99" y1="1567.34" x2="150.91" y2="1564.2" stroke="#5c5c5c" stroke-width="3.8" />
<line x1="174.8" y1="1571.74" x2="181.09" y2="1565.45" stroke="#14c414" stroke-width="3.8" />
<line x1="181.09" y1="1565.45" x2="187.37" y2="1559.16" stroke="#5c5c5c" stroke-width="3.8" />
<line x1="199.95" y1="1573" x2="193.66" y2="1566.08" stroke="#14c414" stroke-width="3.8" />
<line x1="193.66" y1="1566.08" x2="187.37" y2="1559.16" stroke="#5c5c5c" stroke-width="3.8" />
<line x1="222.59" y1="1574.26" x2="225.73" y2="1562.94" stroke="#14c414" stroke-width="3.8" />
<line x1="225.73" y1="1562.94" x2="228.87" y2="1551.62" stroke="#5c5c5c" stroke-width="3.8" />
<line x1="240.19" y1="1557.91" x2="234.53" y2="1554.76" stroke="#14c414" stroke-width="3.8" />
<line x1="234.53" y1="1554.76" x2="228.87" y2="1551.62" stroke="#5c5c5c" stroke-width="3.8" />
<line x1="125.75" y1="1586.83" x2="121.98" y2="1576.77" stroke="#14c414" stroke-width="3.8" />
<line x1="121.98" y1="1576.77" x2="118.21" y2="1566.71" stroke="#5c5c5c" stroke-width="3.8" />
<circle cx="245.22" cy="1505.09" r="8.07" fill="url(#atF)"/>
<circle cx="208.75" cy="1522.7" r="6.73" fill="url(#atF)"/>
<circle cx="192.4" cy="1525.21" r="6.73" fill="url(#atF)"/>
<circle cx="157.19" cy="1527.73" r="6.73" fill="url(#atF)"/>
<circle cx="129.53" cy="1532.76" r="5.92" fill="url(#atF)"/>
<circle cx="178.57" cy="1539.04" r="5.92" fill="url(#atF)"/>
<circle cx="150.91" cy="1551.62" r="4.84" fill="url(#atF)"/>
<circle cx="113.18" cy="1559.16" r="5.38" fill="url(#atF)"/>
<circle cx="101.86" cy="1564.2" r="5.92" fill="url(#atF)"/>
<circle cx="289.24" cy="1531.5" r="5.38" fill="url(#atO)"/>
<circle cx="118.21" cy="1566.71" r="6.46" fill="url(#atC)"/>
<circle cx="138.33" cy="1554.13" r="7" fill="url(#atC)"/>
<circle cx="150.91" cy="1564.2" r="7" fill="url(#atC)"/>
<circle cx="168.51" cy="1547.85" r="7.27" fill="url(#atC)"/>
<circle cx="187.37" cy="1559.16" r="7.27" fill="url(#atC)"/>
<circle cx="203.72" cy="1539.04" r="7.27" fill="url(#atC)"/>
<circle cx="228.87" cy="1551.62" r="7.27" fill="url(#atC)"/>
<circle cx="247.74" cy="1532.76" r="7.54" fill="url(#atC)"/>
<circle cx="281.69" cy="1544.07" r="7.54" fill="url(#atS)"/>
<circle cx="301.81" cy="1522.7" r="8.07" fill="url(#atO)"/>
<circle cx="281.69" cy="1571.74" r="7.54" fill="url(#atO)"/>
<circle cx="237.68" cy="1531.5" r="8.07" fill="url(#atF)"/>
<circle cx="137.07" cy="1570.48" r="6.46" fill="url(#atF)"/>
<circle cx="174.8" cy="1571.74" r="6.46" fill="url(#atF)"/>
<circle cx="199.95" cy="1573" r="5.92" fill="url(#atF)"/>
<circle cx="222.59" cy="1574.26" r="6.73" fill="url(#atF)"/>
<circle cx="240.19" cy="1557.91" r="5.38" fill="url(#atF)"/>
<circle cx="125.75" cy="1586.83" r="4.84" fill="url(#atF)"/>
<line x1="163.48" y1="1640.91" x2="153.42" y2="1620.78" stroke="#5c5c5c" stroke-width="3.8" />
<line x1="153.42" y1="1620.78" x2="178.57" y2="1629.59" stroke="#5c5c5c" stroke-width="3.8" />
<line x1="178.57" y1="1629.59" x2="182.34" y2="1647.19" stroke="#5c5c5c" stroke-width="3.8" />
<line x1="182.34" y1="1647.19" x2="163.48" y2="1640.91" stroke="#5c5c5c" stroke-width="3.8" />
<line x1="182.34" y1="1647.19" x2="186.12" y2="1657.25" stroke="#5c5c5c" stroke-width="3.8" />
<line x1="186.12" y1="1657.25" x2="189.89" y2="1667.31" stroke="#f00808" stroke-width="3.8" />
<line x1="189.89" y1="1667.31" x2="184.23" y2="1676.12" stroke="#f00808" stroke-width="3.8" />
<line x1="184.23" y1="1676.12" x2="178.57" y2="1684.92" stroke="#5c5c5c" stroke-width="3.8" />
<line x1="178.57" y1="1684.92" x2="171.65" y2="1684.29" stroke="#5c5c5c" stroke-width="3.8" />
<line x1="171.65" y1="1684.29" x2="164.74" y2="1683.66" stroke="#f00808" stroke-width="3.8" />
<line x1="178.57" y1="1684.92" x2="186.12" y2="1707.56" stroke="#5c5c5c" stroke-width="3.8" />
<line x1="186.12" y1="1707.56" x2="163.48" y2="1720.13" stroke="#5c5c5c" stroke-width="3.8" />
<line x1="207.49" y1="1706.3" x2="186.12" y2="1707.56" stroke="#5c5c5c" stroke-width="3.8" />
<line x1="186.12" y1="1707.56" x2="193.66" y2="1720.13" stroke="#5c5c5c" stroke-width="3.8" />
<line x1="207.49" y1="1706.3" x2="212.53" y2="1711.33" stroke="#5c5c5c" stroke-width="3.8" />
<line x1="212.53" y1="1711.33" x2="232.65" y2="1720.13" stroke="#5c5c5c" stroke-width="3.8" />
<line x1="232.65" y1="1720.13" x2="248.99" y2="1708.81" stroke="#5c5c5c" stroke-width="3.8" />
<line x1="248.99" y1="1708.81" x2="272.89" y2="1718.87" stroke="#5c5c5c" stroke-width="3.8" />
<line x1="248.99" y1="1708.81" x2="251.51" y2="1688.69" stroke="#5c5c5c" stroke-width="3.8" />
<line x1="251.51" y1="1688.69" x2="251.51" y2="1684.92" stroke="#5c5c5c" stroke-width="3.8" />
<line x1="251.51" y1="1684.92" x2="251.51" y2="1681.15" stroke="#f00808" stroke-width="3.8" />
<line x1="251.51" y1="1681.15" x2="253.4" y2="1672.34" stroke="#f00808" stroke-width="3.8" />
<line x1="253.4" y1="1672.34" x2="255.28" y2="1663.54" stroke="#5c5c5c" stroke-width="3.8" />
<line x1="255.28" y1="1663.54" x2="248.99" y2="1654.74" stroke="#5c5c5c" stroke-width="3.8" />
<line x1="248.99" y1="1654.74" x2="254.65" y2="1644.05" stroke="#5c5c5c" stroke-width="3.8" />
<line x1="254.65" y1="1644.05" x2="260.31" y2="1633.36" stroke="#0a18e0" stroke-width="3.8" />
<line x1="260.31" y1="1633.36" x2="254.65" y2="1629.59" stroke="#0a18e0" stroke-width="3.8" />
<line x1="254.65" y1="1629.59" x2="248.99" y2="1625.81" stroke="#5c5c5c" stroke-width="3.8" />
<line x1="286.72" y1="1633.36" x2="273.52" y2="1633.36" stroke="#5c5c5c" stroke-width="3.8" />
<line x1="273.52" y1="1633.36" x2="260.31" y2="1633.36" stroke="#0a18e0" stroke-width="3.8" />
<line x1="260.31" y1="1633.36" x2="255.91" y2="1622.04" stroke="#0a18e0" stroke-width="3.8" />
<line x1="255.91" y1="1622.04" x2="251.51" y2="1610.72" stroke="#5c5c5c" stroke-width="3.8" />
<line x1="137.07" y1="1604.44" x2="145.25" y2="1612.61" stroke="#14c414" stroke-width="3.8" />
<line x1="145.25" y1="1612.61" x2="153.42" y2="1620.78" stroke="#5c5c5c" stroke-width="3.8" />
<line x1="174.8" y1="1606.95" x2="176.69" y2="1618.27" stroke="#14c414" stroke-width="3.8" />
<line x1="176.69" y1="1618.27" x2="178.57" y2="1629.59" stroke="#5c5c5c" stroke-width="3.8" />
<line x1="198.69" y1="1620.78" x2="188.63" y2="1625.19" stroke="#14c414" stroke-width="3.8" />
<line x1="188.63" y1="1625.19" x2="178.57" y2="1629.59" stroke="#5c5c5c" stroke-width="3.8" />
<line x1="193.66" y1="1640.91" x2="188" y2="1644.05" stroke="#8a8a8a" stroke-width="2.4" />
<line x1="188" y1="1644.05" x2="182.34" y2="1647.19" stroke="#5c5c5c" stroke-width="2.4" />
<line x1="172.28" y1="1650.97" x2="177.31" y2="1649.08" stroke="#8a8a8a" stroke-width="2.4" />
<line x1="177.31" y1="1649.08" x2="182.34" y2="1647.19" stroke="#5c5c5c" stroke-width="2.4" />
<line x1="176.06" y1="1656" x2="179.2" y2="1651.59" stroke="#8a8a8a" stroke-width="2.4" />
<line x1="179.2" y1="1651.59" x2="182.34" y2="1647.19" stroke="#5c5c5c" stroke-width="2.4" />
<line x1="137.83" y1="1633.36" x2="145.62" y2="1627.07" stroke="#14c414" stroke-width="3.8" />
<line x1="145.62" y1="1627.07" x2="153.42" y2="1620.78" stroke="#5c5c5c" stroke-width="3.8" />
<line x1="143.36" y1="1652.22" x2="153.42" y2="1646.56" stroke="#14c414" stroke-width="3.8" />
<line x1="153.42" y1="1646.56" x2="163.48" y2="1640.91" stroke="#5c5c5c" stroke-width="3.8" />
<line x1="154.68" y1="1711.33" x2="159.08" y2="1715.73" stroke="#8a8a8a" stroke-width="2.4" />
<line x1="159.08" y1="1715.73" x2="163.48" y2="1720.13" stroke="#5c5c5c" stroke-width="2.4" />
<line x1="150.91" y1="1721.39" x2="157.19" y2="1720.76" stroke="#8a8a8a" stroke-width="2.4" />
<line x1="157.19" y1="1720.76" x2="163.48" y2="1720.13" stroke="#5c5c5c" stroke-width="2.4" />
<line x1="198.69" y1="1694.98" x2="203.09" y2="1700.64" stroke="#8a8a8a" stroke-width="2.4" />
<line x1="203.09" y1="1700.64" x2="207.49" y2="1706.3" stroke="#5c5c5c" stroke-width="2.4" />
<line x1="213.78" y1="1693.72" x2="210.64" y2="1700.01" stroke="#8a8a8a" stroke-width="2.4" />
<line x1="210.64" y1="1700.01" x2="207.49" y2="1706.3" stroke="#5c5c5c" stroke-width="2.4" />
<line x1="221.33" y1="1696.24" x2="214.41" y2="1701.27" stroke="#8a8a8a" stroke-width="2.4" />
<line x1="214.41" y1="1701.27" x2="207.49" y2="1706.3" stroke="#5c5c5c" stroke-width="2.4" />
<line x1="233.9" y1="1703.78" x2="241.45" y2="1706.3" stroke="#8a8a8a" stroke-width="2.4" />
<line x1="241.45" y1="1706.3" x2="248.99" y2="1708.81" stroke="#5c5c5c" stroke-width="2.4" />
<line x1="257.8" y1="1703.78" x2="253.4" y2="1706.3" stroke="#8a8a8a" stroke-width="2.4" />
<line x1="253.4" y1="1706.3" x2="248.99" y2="1708.81" stroke="#5c5c5c" stroke-width="2.4" />
<line x1="281.69" y1="1711.33" x2="277.29" y2="1715.1" stroke="#8a8a8a" stroke-width="2.4" />
<line x1="277.29" y1="1715.1" x2="272.89" y2="1718.87" stroke="#5c5c5c" stroke-width="2.4" />
<line x1="167.25" y1="1740.25" x2="165.37" y2="1730.19" stroke="#8a8a8a" stroke-width="2.4" />
<line x1="165.37" y1="1730.19" x2="163.48" y2="1720.13" stroke="#5c5c5c" stroke-width="2.4" />
<line x1="181.09" y1="1722.65" x2="187.37" y2="1721.39" stroke="#8a8a8a" stroke-width="2.4" />
<line x1="187.37" y1="1721.39" x2="193.66" y2="1720.13" stroke="#5c5c5c" stroke-width="2.4" />
<line x1="197.43" y1="1738.99" x2="195.55" y2="1729.56" stroke="#8a8a8a" stroke-width="2.4" />
<line x1="195.55" y1="1729.56" x2="193.66" y2="1720.13" stroke="#5c5c5c" stroke-width="2.4" />
<line x1="212.53" y1="1723.9" x2="212.53" y2="1717.62" stroke="#8a8a8a" stroke-width="2.4" />
<line x1="212.53" y1="1717.62" x2="212.53" y2="1711.33" stroke="#5c5c5c" stroke-width="2.4" />
<line x1="233.9" y1="1737.74" x2="233.27" y2="1728.93" stroke="#8a8a8a" stroke-width="2.4" />
<line x1="233.27" y1="1728.93" x2="232.65" y2="1720.13" stroke="#5c5c5c" stroke-width="2.4" />
<line x1="245.22" y1="1723.9" x2="238.93" y2="1722.02" stroke="#8a8a8a" stroke-width="2.4" />
<line x1="238.93" y1="1722.02" x2="232.65" y2="1720.13" stroke="#5c5c5c" stroke-width="2.4" />
<line x1="271.63" y1="1735.22" x2="272.26" y2="1727.05" stroke="#8a8a8a" stroke-width="2.4" />
<line x1="272.26" y1="1727.05" x2="272.89" y2="1718.87" stroke="#5c5c5c" stroke-width="2.4" />
<line x1="279.18" y1="1717.62" x2="276.03" y2="1718.24" stroke="#8a8a8a" stroke-width="2.4" />
<line x1="276.03" y1="1718.24" x2="272.89" y2="1718.87" stroke="#5c5c5c" stroke-width="2.4" />
<line x1="259.05" y1="1599.41" x2="255.28" y2="1605.07" stroke="#8a8a8a" stroke-width="2.4" />
<line x1="255.28" y1="1605.07" x2="251.51" y2="1610.72" stroke="#5c5c5c" stroke-width="2.4" />
<line x1="254.02" y1="1604.44" x2="252.77" y2="1607.58" stroke="#8a8a8a" stroke-width="2.4" />
<line x1="252.77" y1="1607.58" x2="251.51" y2="1610.72" stroke="#5c5c5c" stroke-width="2.4" />
<line x1="232.65" y1="1613.24" x2="242.08" y2="1611.98" stroke="#8a8a8a" stroke-width="2.4" />
<line x1="242.08" y1="1611.98" x2="251.51" y2="1610.72" stroke="#5c5c5c" stroke-width="2.4" />
<line x1="227.62" y1="1625.81" x2="238.3" y2="1625.81" stroke="#8a8a8a" stroke-width="2.4" />
<line x1="238.3" y1="1625.81" x2="248.99" y2="1625.81" stroke="#5c5c5c" stroke-width="2.4" />
<line x1="294.27" y1="1648.45" x2="290.49" y2="1640.91" stroke="#8a8a8a" stroke-width="2.4" />
<line x1="290.49" y1="1640.91" x2="286.72" y2="1633.36" stroke="#5c5c5c" stroke-width="2.4" />
<line x1="254.02" y1="1642.16" x2="251.51" y2="1648.45" stroke="#8a8a8a" stroke-width="2.4" />
<line x1="251.51" y1="1648.45" x2="248.99" y2="1654.74" stroke="#5c5c5c" stroke-width="2.4" />
<line x1="230.13" y1="1654.74" x2="239.56" y2="1654.74" stroke="#8a8a8a" stroke-width="2.4" />
<line x1="239.56" y1="1654.74" x2="248.99" y2="1654.74" stroke="#5c5c5c" stroke-width="2.4" />
<line x1="270.37" y1="1656" x2="262.83" y2="1659.77" stroke="#8a8a8a" stroke-width="2.4" />
<line x1="262.83" y1="1659.77" x2="255.28" y2="1663.54" stroke="#5c5c5c" stroke-width="2.4" />
<line x1="256.54" y1="1671.09" x2="255.91" y2="1667.31" stroke="#8a8a8a" stroke-width="2.4" />
<line x1="255.91" y1="1667.31" x2="255.28" y2="1663.54" stroke="#5c5c5c" stroke-width="2.4" />
<circle cx="137.07" cy="1604.44" r="7.54" fill="url(#atF)"/>
<circle cx="174.8" cy="1606.95" r="7.54" fill="url(#atF)"/>
<circle cx="198.69" cy="1620.78" r="6.73" fill="url(#atF)"/>
<circle cx="193.66" cy="1640.91" r="3.68" fill="url(#atH)"/>
<circle cx="172.28" cy="1650.97" r="3.68" fill="url(#atH)"/>
<circle cx="176.06" cy="1656" r="3.68" fill="url(#atH)"/>
<circle cx="153.42" cy="1620.78" r="8.61" fill="url(#atC)"/>
<circle cx="178.57" cy="1629.59" r="7.54" fill="url(#atC)"/>
<circle cx="163.48" cy="1640.91" r="8.07" fill="url(#atC)"/>
<circle cx="182.34" cy="1647.19" r="6.46" fill="url(#atC)"/>
<circle cx="137.83" cy="1633.36" r="8.07" fill="url(#atF)"/>
<circle cx="143.36" cy="1652.22" r="6.73" fill="url(#atF)"/>
<circle cx="189.89" cy="1667.31" r="5.92" fill="url(#atO)"/>
<circle cx="178.57" cy="1684.92" r="7" fill="url(#atC)"/>
<circle cx="164.74" cy="1683.66" r="5.92" fill="url(#atO)"/>
<circle cx="154.68" cy="1711.33" r="3.68" fill="url(#atH)"/>
<circle cx="150.91" cy="1721.39" r="3.68" fill="url(#atH)"/>
<circle cx="198.69" cy="1694.98" r="3.68" fill="url(#atH)"/>
<circle cx="213.78" cy="1693.72" r="3.68" fill="url(#atH)"/>
<circle cx="221.33" cy="1696.24" r="3.68" fill="url(#atH)"/>
<circle cx="233.9" cy="1703.78" r="3.68" fill="url(#atH)"/>
<circle cx="257.8" cy="1703.78" r="3.68" fill="url(#atH)"/>
<circle cx="281.69" cy="1711.33" r="3.68" fill="url(#atH)"/>
<circle cx="186.12" cy="1707.56" r="8.07" fill="url(#atC)"/>
<circle cx="207.49" cy="1706.3" r="8.07" fill="url(#atC)"/>
<circle cx="163.48" cy="1720.13" r="7" fill="url(#atC)"/>
<circle cx="193.66" cy="1720.13" r="6.46" fill="url(#atC)"/>
<circle cx="212.53" cy="1711.33" r="5.92" fill="url(#atC)"/>
<circle cx="232.65" cy="1720.13" r="5.92" fill="url(#atC)"/>
<circle cx="248.99" cy="1708.81" r="8.07" fill="url(#atC)"/>
<circle cx="272.89" cy="1718.87" r="5.92" fill="url(#atC)"/>
<circle cx="167.25" cy="1740.25" r="3.68" fill="url(#atH)"/>
<circle cx="181.09" cy="1722.65" r="3.68" fill="url(#atH)"/>
<circle cx="197.43" cy="1738.99" r="3.68" fill="url(#atH)"/>
<circle cx="212.53" cy="1723.9" r="3.68" fill="url(#atH)"/>
<circle cx="233.9" cy="1737.74" r="3.68" fill="url(#atH)"/>
<circle cx="245.22" cy="1723.9" r="3.68" fill="url(#atH)"/>
<circle cx="271.63" cy="1735.22" r="3.68" fill="url(#atH)"/>
<circle cx="279.18" cy="1717.62" r="3.68" fill="url(#atH)"/>
<circle cx="252.77" cy="1674.86" r="5.38" fill="url(#atO)"/>
<circle cx="251.51" cy="1688.69" r="4.84" fill="url(#atC)"/>
<circle cx="251.51" cy="1681.15" r="7" fill="url(#atO)"/>
<circle cx="255.28" cy="1663.54" r="5.38" fill="url(#atC)"/>
<circle cx="248.99" cy="1654.74" r="8.07" fill="url(#atC)"/>
<circle cx="259.05" cy="1599.41" r="3.68" fill="url(#atH)"/>
<circle cx="254.02" cy="1604.44" r="3.68" fill="url(#atH)"/>
<circle cx="232.65" cy="1613.24" r="3.68" fill="url(#atH)"/>
<circle cx="227.62" cy="1625.81" r="3.68" fill="url(#atH)"/>
<circle cx="296.78" cy="1614.5" r="3.68" fill="url(#atH)"/>
<circle cx="251.51" cy="1610.72" r="5.92" fill="url(#atC)"/>
<circle cx="248.99" cy="1625.81" r="8.61" fill="url(#atC)"/>
<circle cx="260.31" cy="1633.36" r="6.46" fill="url(#atN)"/>
<circle cx="286.72" cy="1633.36" r="7" fill="url(#atC)"/>
<circle cx="294.27" cy="1648.45" r="3.68" fill="url(#atH)"/>
<circle cx="254.02" cy="1642.16" r="3.68" fill="url(#atH)"/>
<circle cx="230.13" cy="1654.74" r="3.68" fill="url(#atH)"/>
<circle cx="270.37" cy="1656" r="3.68" fill="url(#atH)"/>
<circle cx="256.54" cy="1671.09" r="3.68" fill="url(#atH)"/>
<path d="M121 1586 C122 1585.25 124.33 1582.62 127 1581.5 C129.67 1580.38 133.83 1579.75 137 1579.3 C140.17 1578.85 143.33 1578.77 146 1578.8 C148.67 1578.83 151.83 1576.47 153 1579.5 C154.17 1582.53 154.67 1594.25 153 1597 C151.33 1599.75 146.33 1596.75 143 1596 C139.67 1595.25 135.83 1593.5 133 1592.5 C130.17 1591.5 128 1591.08 126 1590 C124 1588.92 121.83 1586.67 121 1586 Z" fill="#14c422" stroke="#0fae1c" stroke-width="1"/>
<ellipse cx="170.5" cy="1591.3" rx="18.6" ry="13.4" fill="url(#isoA)" stroke="#14cc24" stroke-width="1.6" transform="rotate(-6 170.5 1591.3)"/>
<ellipse cx="161" cy="1583.5" rx="9" ry="4.5" fill="#14c824"/>
<ellipse cx="166" cy="1601" rx="11" ry="4" fill="#12b82a"/>
<path d="M188.5 1596.5 C189.92 1595.92 194.25 1593.33 197 1593 C199.75 1592.67 202.67 1593.5 205 1594.5 C207.33 1595.5 208.92 1597.67 211 1599 C213.08 1600.33 216.42 1601.92 217.5 1602.5" stroke="#12cc20" stroke-width="2.8" fill="none"  stroke-linejoin="round" stroke-linecap="round"/>
<path d="M219 1600.5 C220.17 1599.33 222.5 1596.58 226 1593.5 C229.5 1590.42 235.67 1585.37 240 1582 C244.33 1578.63 248.77 1575.13 252 1573.3 C255.23 1571.47 256.65 1571 259.4 1571 C262.15 1571 265.73 1571.8 268.5 1573.3 C271.27 1574.8 274 1577.47 276 1580 C278 1582.53 279.08 1586 280.5 1588.5 C281.92 1591 282.58 1594.58 284.5 1595 C286.42 1595.42 288.92 1591.83 292 1591 C295.08 1590.17 301.08 1589.17 303 1590 C304.92 1590.83 305 1593.92 303.5 1596 C302 1598.08 297.25 1600.83 294 1602.5 C290.75 1604.17 287 1606 284 1606 C281 1606 278.42 1604.75 276 1602.5 C273.58 1600.25 271.58 1595.42 269.5 1592.5 C267.42 1589.58 265.42 1586.45 263.5 1585 C261.58 1583.55 260.25 1583.22 258 1583.8 C255.75 1584.38 253 1586.38 250 1588.5 C247 1590.62 243.33 1594 240 1596.5 C236.67 1599 233.17 1602.08 230 1603.5 C226.83 1604.92 222.83 1605.5 221 1605 C219.17 1604.5 219.33 1601.25 219 1600.5 Z" fill="url(#isoL)" stroke="#10c81e" stroke-width="1.4" stroke-linejoin="round"/>
<path d="M224 1597.5 C226.67 1595.42 235.33 1588.42 240 1585 C244.67 1581.58 248.77 1578.67 252 1577 C255.23 1575.33 256.9 1574.92 259.4 1575 C261.9 1575.08 264.73 1576 267 1577.5 C269.27 1579 272 1582.92 273 1584" stroke="#3be04a" stroke-width="1.6" fill="none"  stroke-linejoin="round" stroke-linecap="round"/>
<circle cx="176.06" cy="1606.2" r="7" fill="url(#atF)"/>
<circle cx="137.07" cy="1603.68" r="7" fill="url(#atF)"/>
<circle cx="173.54" cy="1571.74" r="5.92" fill="url(#atF)"/>
<line x1="689.53" y1="1536.53" x2="698.33" y2="1528.98" stroke="#5c5c5c" stroke-width="3.8" />
<line x1="698.33" y1="1528.98" x2="714.68" y2="1544.07" stroke="#5c5c5c" stroke-width="3.8" />
<line x1="714.68" y1="1544.07" x2="731.03" y2="1535.27" stroke="#5c5c5c" stroke-width="3.8" />
<line x1="731.03" y1="1535.27" x2="742.34" y2="1551.62" stroke="#5c5c5c" stroke-width="3.8" />
<line x1="742.34" y1="1551.62" x2="763.72" y2="1544.07" stroke="#5c5c5c" stroke-width="3.8" />
<line x1="763.72" y1="1544.07" x2="776.3" y2="1560.42" stroke="#5c5c5c" stroke-width="3.8" />
<line x1="776.3" y1="1560.42" x2="801.45" y2="1552.88" stroke="#5c5c5c" stroke-width="3.8" />
<line x1="801.45" y1="1552.88" x2="804.59" y2="1542.19" stroke="#5c5c5c" stroke-width="3.8" />
<line x1="804.59" y1="1542.19" x2="807.74" y2="1531.5" stroke="#f00808" stroke-width="3.8" />
<line x1="801.45" y1="1552.88" x2="807.74" y2="1561.68" stroke="#5c5c5c" stroke-width="3.8" />
<line x1="807.74" y1="1561.68" x2="814.02" y2="1570.48" stroke="#f00808" stroke-width="3.8" />
<line x1="707.13" y1="1511.38" x2="702.73" y2="1520.18" stroke="#14c414" stroke-width="3.8" />
<line x1="702.73" y1="1520.18" x2="698.33" y2="1528.98" stroke="#5c5c5c" stroke-width="3.8" />
<line x1="674.44" y1="1522.7" x2="681.98" y2="1529.61" stroke="#14c414" stroke-width="3.8" />
<line x1="681.98" y1="1529.61" x2="689.53" y2="1536.53" stroke="#5c5c5c" stroke-width="3.8" />
<line x1="684.5" y1="1522.7" x2="687.01" y2="1529.61" stroke="#14c414" stroke-width="3.8" />
<line x1="687.01" y1="1529.61" x2="689.53" y2="1536.53" stroke="#5c5c5c" stroke-width="3.8" />
<line x1="720.97" y1="1518.92" x2="726" y2="1527.1" stroke="#14c414" stroke-width="3.8" />
<line x1="726" y1="1527.1" x2="731.03" y2="1535.27" stroke="#5c5c5c" stroke-width="3.8" />
<line x1="741.09" y1="1525.21" x2="736.06" y2="1530.24" stroke="#14c414" stroke-width="3.8" />
<line x1="736.06" y1="1530.24" x2="731.03" y2="1535.27" stroke="#5c5c5c" stroke-width="3.8" />
<line x1="761.21" y1="1522.7" x2="762.46" y2="1533.39" stroke="#14c414" stroke-width="3.8" />
<line x1="762.46" y1="1533.39" x2="763.72" y2="1544.07" stroke="#5c5c5c" stroke-width="3.8" />
<line x1="700.85" y1="1537.79" x2="699.59" y2="1533.39" stroke="#14c414" stroke-width="3.8" />
<line x1="699.59" y1="1533.39" x2="698.33" y2="1528.98" stroke="#5c5c5c" stroke-width="3.8" />
<line x1="724.74" y1="1550.36" x2="719.71" y2="1547.22" stroke="#14c414" stroke-width="3.8" />
<line x1="719.71" y1="1547.22" x2="714.68" y2="1544.07" stroke="#5c5c5c" stroke-width="3.8" />
<line x1="775.04" y1="1541.56" x2="769.38" y2="1542.82" stroke="#14c414" stroke-width="3.8" />
<line x1="769.38" y1="1542.82" x2="763.72" y2="1544.07" stroke="#5c5c5c" stroke-width="3.8" />
<line x1="684.5" y1="1552.88" x2="687.01" y2="1544.7" stroke="#14c414" stroke-width="3.8" />
<line x1="687.01" y1="1544.7" x2="689.53" y2="1536.53" stroke="#5c5c5c" stroke-width="3.8" />
<line x1="705.88" y1="1557.91" x2="710.28" y2="1550.99" stroke="#14c414" stroke-width="3.8" />
<line x1="710.28" y1="1550.99" x2="714.68" y2="1544.07" stroke="#5c5c5c" stroke-width="3.8" />
<line x1="731.03" y1="1559.16" x2="736.69" y2="1555.39" stroke="#14c414" stroke-width="3.8" />
<line x1="736.69" y1="1555.39" x2="742.34" y2="1551.62" stroke="#5c5c5c" stroke-width="3.8" />
<line x1="746.12" y1="1566.71" x2="744.23" y2="1559.16" stroke="#14c414" stroke-width="3.8" />
<line x1="744.23" y1="1559.16" x2="742.34" y2="1551.62" stroke="#5c5c5c" stroke-width="3.8" />
<line x1="766.24" y1="1564.2" x2="771.27" y2="1562.31" stroke="#14c414" stroke-width="3.8" />
<line x1="771.27" y1="1562.31" x2="776.3" y2="1560.42" stroke="#5c5c5c" stroke-width="3.8" />
<line x1="775.04" y1="1579.29" x2="775.67" y2="1569.85" stroke="#14c414" stroke-width="3.8" />
<line x1="775.67" y1="1569.85" x2="776.3" y2="1560.42" stroke="#5c5c5c" stroke-width="3.8" />
<circle cx="707.13" cy="1511.38" r="5.38" fill="url(#atF)"/>
<circle cx="674.44" cy="1522.7" r="5.38" fill="url(#atF)"/>
<circle cx="684.5" cy="1522.7" r="5.38" fill="url(#atF)"/>
<circle cx="720.97" cy="1518.92" r="6.46" fill="url(#atF)"/>
<circle cx="741.09" cy="1525.21" r="5.92" fill="url(#atF)"/>
<circle cx="761.21" cy="1522.7" r="6.46" fill="url(#atF)"/>
<circle cx="700.85" cy="1537.79" r="4.31" fill="url(#atF)"/>
<circle cx="724.74" cy="1550.36" r="4.84" fill="url(#atF)"/>
<circle cx="775.04" cy="1541.56" r="4.84" fill="url(#atF)"/>
<circle cx="689.53" cy="1536.53" r="5.92" fill="url(#atC)"/>
<circle cx="698.33" cy="1528.98" r="5.92" fill="url(#atC)"/>
<circle cx="714.68" cy="1544.07" r="6.46" fill="url(#atC)"/>
<circle cx="731.03" cy="1535.27" r="6.46" fill="url(#atC)"/>
<circle cx="742.34" cy="1551.62" r="6.46" fill="url(#atC)"/>
<circle cx="763.72" cy="1544.07" r="6.46" fill="url(#atC)"/>
<circle cx="776.3" cy="1560.42" r="6.46" fill="url(#atC)"/>
<circle cx="801.45" cy="1552.88" r="7" fill="url(#atC)"/>
<circle cx="807.74" cy="1531.5" r="6.46" fill="url(#atO)"/>
<circle cx="814.02" cy="1570.48" r="5.92" fill="url(#atO)"/>
<circle cx="684.5" cy="1552.88" r="5.38" fill="url(#atF)"/>
<circle cx="705.88" cy="1557.91" r="5.38" fill="url(#atF)"/>
<circle cx="731.03" cy="1559.16" r="5.38" fill="url(#atF)"/>
<circle cx="746.12" cy="1566.71" r="5.38" fill="url(#atF)"/>
<circle cx="766.24" cy="1564.2" r="5.92" fill="url(#atF)"/>
<circle cx="775.04" cy="1579.29" r="5.92" fill="url(#atF)"/>
<line x1="723.48" y1="1608.21" x2="727.25" y2="1629.59" stroke="#5c5c5c" stroke-width="3.8" />
<line x1="727.25" y1="1629.59" x2="744.86" y2="1632.1" stroke="#5c5c5c" stroke-width="3.8" />
<line x1="744.86" y1="1632.1" x2="746.12" y2="1649.71" stroke="#5c5c5c" stroke-width="3.8" />
<line x1="746.12" y1="1649.71" x2="747.63" y2="1657.25" stroke="#5c5c5c" stroke-width="3.8" />
<line x1="747.63" y1="1657.25" x2="749.13" y2="1664.8" stroke="#f00808" stroke-width="3.8" />
<line x1="749.13" y1="1664.8" x2="744.1" y2="1672.97" stroke="#f00808" stroke-width="3.8" />
<line x1="744.1" y1="1672.97" x2="739.07" y2="1681.15" stroke="#5c5c5c" stroke-width="3.8" />
<line x1="739.07" y1="1681.15" x2="733.16" y2="1682.15" stroke="#5c5c5c" stroke-width="3.8" />
<line x1="733.16" y1="1682.15" x2="727.25" y2="1683.16" stroke="#f00808" stroke-width="3.8" />
<line x1="739.07" y1="1681.15" x2="742.34" y2="1698.75" stroke="#5c5c5c" stroke-width="3.8" />
<line x1="742.34" y1="1698.75" x2="754.92" y2="1691.21" stroke="#5c5c5c" stroke-width="3.8" />
<line x1="720.97" y1="1707.56" x2="742.34" y2="1698.75" stroke="#5c5c5c" stroke-width="3.8" />
<line x1="742.34" y1="1698.75" x2="752.4" y2="1713.84" stroke="#5c5c5c" stroke-width="3.8" />
<line x1="752.4" y1="1713.84" x2="772.53" y2="1707.56" stroke="#5c5c5c" stroke-width="3.8" />
<line x1="772.53" y1="1707.56" x2="791.39" y2="1717.62" stroke="#5c5c5c" stroke-width="3.8" />
<line x1="791.39" y1="1717.62" x2="808.99" y2="1711.33" stroke="#5c5c5c" stroke-width="3.8" />
<line x1="808.99" y1="1711.33" x2="829.11" y2="1720.13" stroke="#5c5c5c" stroke-width="3.8" />
<line x1="808.99" y1="1711.33" x2="811.51" y2="1688.69" stroke="#5c5c5c" stroke-width="3.8" />
<line x1="811.51" y1="1688.69" x2="809.62" y2="1684.29" stroke="#5c5c5c" stroke-width="3.8" />
<line x1="809.62" y1="1684.29" x2="807.74" y2="1679.89" stroke="#f00808" stroke-width="3.8" />
<line x1="807.74" y1="1679.89" x2="809.62" y2="1669.2" stroke="#f00808" stroke-width="3.8" />
<line x1="809.62" y1="1669.2" x2="811.51" y2="1658.51" stroke="#5c5c5c" stroke-width="3.8" />
<line x1="811.51" y1="1658.51" x2="798.93" y2="1649.71" stroke="#5c5c5c" stroke-width="3.8" />
<line x1="798.93" y1="1649.71" x2="802.08" y2="1638.39" stroke="#5c5c5c" stroke-width="3.8" />
<line x1="802.08" y1="1638.39" x2="805.22" y2="1627.07" stroke="#0a18e0" stroke-width="3.8" />
<line x1="805.22" y1="1627.07" x2="796.42" y2="1621.41" stroke="#0a18e0" stroke-width="3.8" />
<line x1="796.42" y1="1621.41" x2="787.62" y2="1615.75" stroke="#5c5c5c" stroke-width="3.8" />
<line x1="811.51" y1="1688.69" x2="814.02" y2="1683.66" stroke="#5c5c5c" stroke-width="3.8" />
<line x1="814.02" y1="1683.66" x2="816.54" y2="1678.63" stroke="#f00808" stroke-width="3.8" />
<line x1="805.22" y1="1614.5" x2="805.22" y2="1620.78" stroke="#5c5c5c" stroke-width="3.8" />
<line x1="805.22" y1="1620.78" x2="805.22" y2="1627.07" stroke="#0a18e0" stroke-width="3.8" />
<line x1="805.22" y1="1627.07" x2="817.8" y2="1624.56" stroke="#0a18e0" stroke-width="3.8" />
<line x1="817.8" y1="1624.56" x2="830.37" y2="1622.04" stroke="#5c5c5c" stroke-width="3.8" />
<line x1="720.97" y1="1596.89" x2="722.22" y2="1602.55" stroke="#14c414" stroke-width="3.8" />
<line x1="722.22" y1="1602.55" x2="723.48" y2="1608.21" stroke="#5c5c5c" stroke-width="3.8" />
<line x1="738.57" y1="1601.92" x2="731.03" y2="1605.07" stroke="#14c414" stroke-width="3.8" />
<line x1="731.03" y1="1605.07" x2="723.48" y2="1608.21" stroke="#5c5c5c" stroke-width="3.8" />
<line x1="743.6" y1="1620.78" x2="744.23" y2="1626.44" stroke="#14c414" stroke-width="3.8" />
<line x1="744.23" y1="1626.44" x2="744.86" y2="1632.1" stroke="#5c5c5c" stroke-width="3.8" />
<line x1="728.51" y1="1640.91" x2="727.88" y2="1635.25" stroke="#8a8a8a" stroke-width="2.4" />
<line x1="727.88" y1="1635.25" x2="727.25" y2="1629.59" stroke="#5c5c5c" stroke-width="2.4" />
<line x1="736.06" y1="1653.48" x2="741.09" y2="1651.59" stroke="#8a8a8a" stroke-width="2.4" />
<line x1="741.09" y1="1651.59" x2="746.12" y2="1649.71" stroke="#5c5c5c" stroke-width="2.4" />
<line x1="758.69" y1="1650.97" x2="752.4" y2="1650.34" stroke="#8a8a8a" stroke-width="2.4" />
<line x1="752.4" y1="1650.34" x2="746.12" y2="1649.71" stroke="#5c5c5c" stroke-width="2.4" />
<line x1="704.62" y1="1606.95" x2="714.05" y2="1607.58" stroke="#14c414" stroke-width="3.8" />
<line x1="714.05" y1="1607.58" x2="723.48" y2="1608.21" stroke="#5c5c5c" stroke-width="3.8" />
<line x1="761.21" y1="1627.83" x2="753.03" y2="1629.96" stroke="#14c414" stroke-width="3.8" />
<line x1="753.03" y1="1629.96" x2="744.86" y2="1632.1" stroke="#5c5c5c" stroke-width="3.8" />
<line x1="710.91" y1="1635.37" x2="719.08" y2="1632.48" stroke="#14c414" stroke-width="3.8" />
<line x1="719.08" y1="1632.48" x2="727.25" y2="1629.59" stroke="#5c5c5c" stroke-width="3.8" />
<line x1="747.37" y1="1677.37" x2="743.22" y2="1679.26" stroke="#8a8a8a" stroke-width="2.4" />
<line x1="743.22" y1="1679.26" x2="739.07" y2="1681.15" stroke="#5c5c5c" stroke-width="2.4" />
<line x1="710.91" y1="1696.24" x2="715.94" y2="1701.9" stroke="#8a8a8a" stroke-width="2.4" />
<line x1="715.94" y1="1701.9" x2="720.97" y2="1707.56" stroke="#5c5c5c" stroke-width="2.4" />
<line x1="771.27" y1="1684.92" x2="763.09" y2="1688.06" stroke="#8a8a8a" stroke-width="2.4" />
<line x1="763.09" y1="1688.06" x2="754.92" y2="1691.21" stroke="#5c5c5c" stroke-width="2.4" />
<line x1="773.78" y1="1693.72" x2="773.15" y2="1700.64" stroke="#8a8a8a" stroke-width="2.4" />
<line x1="773.15" y1="1700.64" x2="772.53" y2="1707.56" stroke="#5c5c5c" stroke-width="2.4" />
<line x1="787.62" y1="1711.33" x2="789.5" y2="1714.47" stroke="#8a8a8a" stroke-width="2.4" />
<line x1="789.5" y1="1714.47" x2="791.39" y2="1717.62" stroke="#5c5c5c" stroke-width="2.4" />
<line x1="798.93" y1="1708.81" x2="803.96" y2="1710.07" stroke="#8a8a8a" stroke-width="2.4" />
<line x1="803.96" y1="1710.07" x2="808.99" y2="1711.33" stroke="#5c5c5c" stroke-width="2.4" />
<line x1="821.57" y1="1711.33" x2="825.34" y2="1715.73" stroke="#8a8a8a" stroke-width="2.4" />
<line x1="825.34" y1="1715.73" x2="829.11" y2="1720.13" stroke="#5c5c5c" stroke-width="2.4" />
<line x1="842.95" y1="1715.1" x2="836.03" y2="1717.62" stroke="#8a8a8a" stroke-width="2.4" />
<line x1="836.03" y1="1717.62" x2="829.11" y2="1720.13" stroke="#5c5c5c" stroke-width="2.4" />
<line x1="710.91" y1="1712.59" x2="715.94" y2="1710.07" stroke="#8a8a8a" stroke-width="2.4" />
<line x1="715.94" y1="1710.07" x2="720.97" y2="1707.56" stroke="#5c5c5c" stroke-width="2.4" />
<line x1="722.22" y1="1723.9" x2="721.59" y2="1715.73" stroke="#8a8a8a" stroke-width="2.4" />
<line x1="721.59" y1="1715.73" x2="720.97" y2="1707.56" stroke="#5c5c5c" stroke-width="2.4" />
<line x1="743.6" y1="1717.62" x2="748" y2="1715.73" stroke="#8a8a8a" stroke-width="2.4" />
<line x1="748" y1="1715.73" x2="752.4" y2="1713.84" stroke="#5c5c5c" stroke-width="2.4" />
<line x1="753.66" y1="1727.68" x2="753.03" y2="1720.76" stroke="#8a8a8a" stroke-width="2.4" />
<line x1="753.03" y1="1720.76" x2="752.4" y2="1713.84" stroke="#5c5c5c" stroke-width="2.4" />
<line x1="758.69" y1="1706.3" x2="755.55" y2="1710.07" stroke="#8a8a8a" stroke-width="2.4" />
<line x1="755.55" y1="1710.07" x2="752.4" y2="1713.84" stroke="#5c5c5c" stroke-width="2.4" />
<line x1="790.13" y1="1732.71" x2="790.76" y2="1725.16" stroke="#8a8a8a" stroke-width="2.4" />
<line x1="790.76" y1="1725.16" x2="791.39" y2="1717.62" stroke="#5c5c5c" stroke-width="2.4" />
<line x1="807.74" y1="1731.45" x2="808.37" y2="1721.39" stroke="#8a8a8a" stroke-width="2.4" />
<line x1="808.37" y1="1721.39" x2="808.99" y2="1711.33" stroke="#5c5c5c" stroke-width="2.4" />
<line x1="829.11" y1="1738.99" x2="829.11" y2="1729.56" stroke="#8a8a8a" stroke-width="2.4" />
<line x1="829.11" y1="1729.56" x2="829.11" y2="1720.13" stroke="#5c5c5c" stroke-width="2.4" />
<line x1="832.89" y1="1716.36" x2="831" y2="1718.24" stroke="#8a8a8a" stroke-width="2.4" />
<line x1="831" y1="1718.24" x2="829.11" y2="1720.13" stroke="#5c5c5c" stroke-width="2.4" />
<line x1="773.78" y1="1618.27" x2="780.7" y2="1617.01" stroke="#8a8a8a" stroke-width="2.4" />
<line x1="780.7" y1="1617.01" x2="787.62" y2="1615.75" stroke="#5c5c5c" stroke-width="2.4" />
<line x1="795.16" y1="1600.66" x2="791.39" y2="1608.21" stroke="#8a8a8a" stroke-width="2.4" />
<line x1="791.39" y1="1608.21" x2="787.62" y2="1615.75" stroke="#5c5c5c" stroke-width="2.4" />
<line x1="808.99" y1="1603.18" x2="807.11" y2="1608.84" stroke="#8a8a8a" stroke-width="2.4" />
<line x1="807.11" y1="1608.84" x2="805.22" y2="1614.5" stroke="#5c5c5c" stroke-width="2.4" />
<line x1="831.63" y1="1606.95" x2="831" y2="1614.5" stroke="#8a8a8a" stroke-width="2.4" />
<line x1="831" y1="1614.5" x2="830.37" y2="1622.04" stroke="#5c5c5c" stroke-width="2.4" />
<line x1="782.59" y1="1649.71" x2="790.76" y2="1649.71" stroke="#8a8a8a" stroke-width="2.4" />
<line x1="790.76" y1="1649.71" x2="798.93" y2="1649.71" stroke="#5c5c5c" stroke-width="2.4" />
<line x1="827.86" y1="1656" x2="819.68" y2="1657.25" stroke="#8a8a8a" stroke-width="2.4" />
<line x1="819.68" y1="1657.25" x2="811.51" y2="1658.51" stroke="#5c5c5c" stroke-width="2.4" />
<line x1="821.57" y1="1663.54" x2="816.54" y2="1661.03" stroke="#8a8a8a" stroke-width="2.4" />
<line x1="816.54" y1="1661.03" x2="811.51" y2="1658.51" stroke="#5c5c5c" stroke-width="2.4" />
<line x1="787.62" y1="1628.33" x2="787.62" y2="1622.04" stroke="#8a8a8a" stroke-width="2.4" />
<line x1="787.62" y1="1622.04" x2="787.62" y2="1615.75" stroke="#5c5c5c" stroke-width="2.4" />
<line x1="840.43" y1="1630.85" x2="835.4" y2="1626.44" stroke="#8a8a8a" stroke-width="2.4" />
<line x1="835.4" y1="1626.44" x2="830.37" y2="1622.04" stroke="#5c5c5c" stroke-width="2.4" />
<line x1="830.37" y1="1634.62" x2="830.37" y2="1628.33" stroke="#8a8a8a" stroke-width="2.4" />
<line x1="830.37" y1="1628.33" x2="830.37" y2="1622.04" stroke="#5c5c5c" stroke-width="2.4" />
<line x1="816.54" y1="1620.78" x2="810.88" y2="1617.64" stroke="#8a8a8a" stroke-width="2.4" />
<line x1="810.88" y1="1617.64" x2="805.22" y2="1614.5" stroke="#5c5c5c" stroke-width="2.4" />
<circle cx="720.97" cy="1596.89" r="4.31" fill="url(#atF)"/>
<circle cx="738.57" cy="1601.92" r="5.38" fill="url(#atF)"/>
<circle cx="743.6" cy="1620.78" r="4.31" fill="url(#atF)"/>
<circle cx="728.51" cy="1640.91" r="3.07" fill="url(#atH)"/>
<circle cx="736.06" cy="1653.48" r="3.07" fill="url(#atH)"/>
<circle cx="758.69" cy="1650.97" r="3.07" fill="url(#atH)"/>
<circle cx="723.48" cy="1608.21" r="6.46" fill="url(#atC)"/>
<circle cx="727.25" cy="1629.59" r="6.46" fill="url(#atC)"/>
<circle cx="744.86" cy="1632.1" r="5.92" fill="url(#atC)"/>
<circle cx="746.12" cy="1649.71" r="5.92" fill="url(#atC)"/>
<circle cx="704.62" cy="1606.95" r="5.92" fill="url(#atF)"/>
<circle cx="761.21" cy="1627.83" r="5.38" fill="url(#atF)"/>
<circle cx="710.91" cy="1635.37" r="5.38" fill="url(#atF)"/>
<circle cx="749.13" cy="1664.8" r="5.38" fill="url(#atO)"/>
<circle cx="747.37" cy="1677.37" r="3.07" fill="url(#atH)"/>
<circle cx="739.07" cy="1681.15" r="6.46" fill="url(#atC)"/>
<circle cx="727.25" cy="1683.16" r="5.38" fill="url(#atO)"/>
<circle cx="710.91" cy="1696.24" r="3.07" fill="url(#atH)"/>
<circle cx="771.27" cy="1684.92" r="3.07" fill="url(#atH)"/>
<circle cx="773.78" cy="1693.72" r="3.07" fill="url(#atH)"/>
<circle cx="787.62" cy="1711.33" r="3.07" fill="url(#atH)"/>
<circle cx="798.93" cy="1708.81" r="3.07" fill="url(#atH)"/>
<circle cx="821.57" cy="1711.33" r="3.07" fill="url(#atH)"/>
<circle cx="842.95" cy="1715.1" r="3.07" fill="url(#atH)"/>
<circle cx="754.92" cy="1691.21" r="7" fill="url(#atC)"/>
<circle cx="742.34" cy="1698.75" r="7" fill="url(#atC)"/>
<circle cx="720.97" cy="1707.56" r="6.46" fill="url(#atC)"/>
<circle cx="752.4" cy="1713.84" r="5.92" fill="url(#atC)"/>
<circle cx="772.53" cy="1707.56" r="5.92" fill="url(#atC)"/>
<circle cx="791.39" cy="1717.62" r="5.38" fill="url(#atC)"/>
<circle cx="808.99" cy="1711.33" r="7" fill="url(#atC)"/>
<circle cx="829.11" cy="1720.13" r="5.38" fill="url(#atC)"/>
<circle cx="710.91" cy="1712.59" r="3.07" fill="url(#atH)"/>
<circle cx="722.22" cy="1723.9" r="3.07" fill="url(#atH)"/>
<circle cx="743.6" cy="1717.62" r="3.07" fill="url(#atH)"/>
<circle cx="753.66" cy="1727.68" r="3.07" fill="url(#atH)"/>
<circle cx="758.69" cy="1706.3" r="3.07" fill="url(#atH)"/>
<circle cx="790.13" cy="1732.71" r="3.07" fill="url(#atH)"/>
<circle cx="807.74" cy="1731.45" r="3.07" fill="url(#atH)"/>
<circle cx="829.11" cy="1738.99" r="3.07" fill="url(#atH)"/>
<circle cx="832.89" cy="1716.36" r="3.07" fill="url(#atH)"/>
<circle cx="816.54" cy="1678.63" r="4.31" fill="url(#atO)"/>
<circle cx="811.51" cy="1688.69" r="4.84" fill="url(#atC)"/>
<circle cx="807.74" cy="1679.89" r="4.84" fill="url(#atO)"/>
<circle cx="811.51" cy="1658.51" r="5.92" fill="url(#atC)"/>
<circle cx="798.93" cy="1649.71" r="6.46" fill="url(#atC)"/>
<circle cx="773.78" cy="1618.27" r="3.07" fill="url(#atH)"/>
<circle cx="795.16" cy="1600.66" r="3.07" fill="url(#atH)"/>
<circle cx="808.99" cy="1603.18" r="3.07" fill="url(#atH)"/>
<circle cx="831.63" cy="1606.95" r="3.07" fill="url(#atH)"/>
<circle cx="787.62" cy="1615.75" r="6.46" fill="url(#atC)"/>
<circle cx="805.22" cy="1614.5" r="5.92" fill="url(#atC)"/>
<circle cx="805.22" cy="1627.07" r="6.46" fill="url(#atN)"/>
<circle cx="830.37" cy="1622.04" r="5.92" fill="url(#atC)"/>
<circle cx="782.59" cy="1649.71" r="3.07" fill="url(#atH)"/>
<circle cx="827.86" cy="1656" r="3.07" fill="url(#atH)"/>
<circle cx="821.57" cy="1663.54" r="3.07" fill="url(#atH)"/>
<circle cx="787.62" cy="1628.33" r="3.07" fill="url(#atH)"/>
<circle cx="840.43" cy="1630.85" r="3.07" fill="url(#atH)"/>
<circle cx="830.37" cy="1634.62" r="3.07" fill="url(#atH)"/>
<circle cx="816.54" cy="1620.78" r="3.07" fill="url(#atH)"/>
<path d="M706.2 1580.5 C707.67 1579.58 712.37 1576.08 715 1575 C717.63 1573.92 719.17 1573.58 722 1574 C724.83 1574.42 728.17 1576.75 732 1577.5 C735.83 1578.25 741.67 1578.08 745 1578.5 C748.33 1578.92 750.83 1578.92 752 1580 C753.17 1581.08 753.17 1583.83 752 1585 C750.83 1586.17 747.5 1586.42 745 1587 C742.5 1587.58 739.83 1588.92 737 1588.5 C734.17 1588.08 731.17 1585.58 728 1584.5 C724.83 1583.42 720.58 1582.33 718 1582 C715.42 1581.67 714.47 1582.75 712.5 1582.5 C710.53 1582.25 707.25 1580.83 706.2 1580.5 Z" fill="#13c421" stroke="#0fb21c" stroke-width="1"/>
<path d="M716 1578.5 C718 1578.92 723.67 1580.25 728 1581 C732.33 1581.75 739.67 1582.67 742 1583" stroke="#0ea03a" stroke-width="2" fill="none"  stroke-linejoin="round" stroke-linecap="round"/>
<path d="M750 1582.5 C751 1583.42 754.33 1585.92 756 1588 C757.67 1590.08 758.5 1593.08 760 1595 C761.5 1596.92 764.17 1598.75 765 1599.5" stroke="#12c420" stroke-width="4.6" fill="none"  stroke-linejoin="round" stroke-linecap="round"/>
<path d="M768 1595.5 C768.83 1594.17 771 1589.92 773 1587.5 C775 1585.08 777.45 1582.87 780 1581 C782.55 1579.13 784.77 1576.88 788.3 1576.3 C791.83 1575.72 796.92 1576.58 801.2 1577.5 C805.48 1578.42 810.3 1580.22 814 1581.8 C817.7 1583.38 821.07 1586.33 823.4 1587 C825.73 1587.67 826.07 1586.38 828 1585.8 C829.93 1585.22 833.83 1583.3 835 1583.5 C836.17 1583.7 836.37 1585.02 835 1587 C833.63 1588.98 830.3 1593.43 826.8 1595.4 C823.3 1597.37 818.27 1598.65 814 1598.8 C809.73 1598.95 804.77 1596.83 801.2 1596.3 C797.63 1595.77 796.17 1594.48 792.6 1595.6 C789.03 1596.72 783.78 1601.85 779.8 1603 C775.82 1604.15 770.67 1603.75 768.7 1602.5 C766.73 1601.25 768.12 1596.67 768 1595.5 Z" fill="url(#isoR)" stroke="#10c81e" stroke-width="1.4" stroke-linejoin="round"/>
<path d="M775 1589.5 C776.33 1588.33 780.5 1584.17 783 1582.5 C785.5 1580.83 787.17 1579.83 790 1579.5 C792.83 1579.17 798.33 1580.33 800 1580.5" stroke="#3be04a" stroke-width="1.6" fill="none"  stroke-linejoin="round" stroke-linecap="round"/>
<circle cx="775.04" cy="1579.29" r="5.38" fill="url(#atF)"/>
<text x="5.2" y="1569" font-size="60" stroke="#000" stroke-width="1.4">l</text>
<text x="40" y="1550.4" font-size="26.04" textLength="64.4" lengthAdjust="spacingAndGlyphs" stroke="#000" stroke-width="0.35">PFOS</text>
<text x="45" y="1653.5" font-size="27.3" textLength="53.2" lengthAdjust="spacingAndGlyphs" stroke="#000" stroke-width="0.35">F<tspan font-weight="bold">···</tspan>F</text>
<path d="M150.9 1585.6 Q105.6 1595.6 80.5 1619.5" stroke="#000" stroke-width="1.8" fill="none" />
<polygon points="77.3,1623 81.46,1613.26 86.63,1617.98" fill="#000"/>
<path d="M289.2 1586.8 Q312 1575 331 1577.5" stroke="#000" stroke-width="1.8" fill="none" />
<polygon points="340,1578.3 329.75,1580.99 330.31,1574.01" fill="#000"/>
<text x="346.4" y="1560.4" font-size="27.62" textLength="78.6" lengthAdjust="spacingAndGlyphs" stroke="#000" stroke-width="0.35">R-SO<tspan dy="6.5" font-size="18">3</tspan><tspan dy="-16" font-size="18">-</tspan></text>
<text x="330.5" y="1640.9" font-size="27.62" textLength="133.5" lengthAdjust="spacingAndGlyphs" stroke="#000" stroke-width="0.35">R-N<tspan dy="-9.5" font-size="18">+</tspan><tspan dy="9.5">(CH</tspan><tspan dy="6.5" font-size="18">3</tspan><tspan dy="-6.5">)</tspan><tspan dy="6.5" font-size="18">3</tspan></text>
<polygon points="393.1,1565.5 398.85,1576.5 387.35,1576.5" fill="#1a5fa8"/>
<line x1="393.1" y1="1574.3" x2="393.1" y2="1594.6" stroke="#1a5fa8" stroke-width="3.6" />
<polygon points="393.1,1603.4 387.35,1592.4 398.85,1592.4" fill="#1a5fa8"/>
<line x1="372.2" y1="1706.8" x2="307.5" y2="1706.8" stroke="#000" stroke-width="3.6" />
<polygon points="295.5,1706.8 310.5,1699.8 310.5,1713.8" fill="#000"/>
<text x="379.3" y="1715.8" font-size="30.45" textLength="240" lengthAdjust="spacingAndGlyphs" stroke="#000" stroke-width="0.35">Fluoroamine chain</text>
<line x1="624" y1="1706.8" x2="689.3" y2="1706.8" stroke="#000" stroke-width="3.6" />
<polygon points="701.3,1706.8 686.3,1713.8 686.3,1699.8" fill="#000"/>
<text x="600" y="1527.7" font-size="26.04" textLength="68.2" lengthAdjust="spacingAndGlyphs" stroke="#000" stroke-width="0.35">PFOA</text>
<text x="600.5" y="1612.7" font-size="27.3" textLength="54" lengthAdjust="spacingAndGlyphs" stroke="#000" stroke-width="0.35">F<tspan font-weight="bold">···</tspan>F</text>
<path d="M715.9 1580.5 Q690 1582 663 1591.5" stroke="#000" stroke-width="1.8" fill="none" />
<polygon points="659.3,1593.6 666.27,1585.62 669.72,1591.71" fill="#000"/>
<path d="M822.8 1581.8 Q844 1569.5 865 1572.5" stroke="#000" stroke-width="1.8" fill="none" />
<polygon points="874.6,1573.6 864.3,1576.08 865,1569.12" fill="#000"/>
<text x="883" y="1565" font-size="27.62" textLength="80.8" lengthAdjust="spacingAndGlyphs" stroke="#000" stroke-width="0.35">R-CO<tspan dy="6.5" font-size="18">2</tspan><tspan dy="-16" font-size="18">-</tspan></text>
<text x="863" y="1634.6" font-size="27.62" textLength="134.7" lengthAdjust="spacingAndGlyphs" stroke="#000" stroke-width="0.35">R-N<tspan dy="-9.5" font-size="18">+</tspan><tspan dy="9.5">(CH</tspan><tspan dy="6.5" font-size="18">3</tspan><tspan dy="-6.5">)</tspan><tspan dy="6.5" font-size="18">3</tspan></text>
<polygon points="936.8,1570 942.55,1581 931.05,1581" fill="#1a5fa8"/>
<line x1="936.8" y1="1578.8" x2="936.8" y2="1600.7" stroke="#1a5fa8" stroke-width="3.6" />
<polygon points="936.8,1609.5 931.05,1598.5 942.55,1598.5" fill="#1a5fa8"/>
<rect x="262.1" y="1764.9" width="465.8" height="14.9" fill="url(#cbar)"/>
<text x="139.6" y="1779.8" font-size="29.93" textLength="120" lengthAdjust="spacingAndGlyphs" stroke="#000" stroke-width="0.35">-0.05 a.u.</text>
<text x="737.2" y="1779.8" font-size="29.93" textLength="110" lengthAdjust="spacingAndGlyphs" stroke="#000" stroke-width="0.35">0.05 a.u.</text>
<line x1="277.5" y1="1779.8" x2="277.5" y2="1800.62" stroke="#000" stroke-width="3.6" />
<polygon points="277.5,1811.5 270.25,1797.9 284.75,1797.9" fill="#000"/>
<line x1="377.5" y1="1779.8" x2="377.5" y2="1831.12" stroke="#000" stroke-width="3.6" />
<polygon points="377.5,1842 370.25,1828.4 384.75,1828.4" fill="#000"/>
<text x="191.7" y="1835.1" font-size="28.88" textLength="158.8" lengthAdjust="spacingAndGlyphs" stroke="#000" stroke-width="0.35">Electrostatic</text>
<text x="353.3" y="1867.7" font-size="25.2" textLength="54.6" lengthAdjust="spacingAndGlyphs" stroke="#000" stroke-width="0.35">F<tspan font-weight="bold">···</tspan>F</text>
<text x="459.7" y="1810.2" font-size="28.88" textLength="57" lengthAdjust="spacingAndGlyphs" stroke="#000" stroke-width="0.35">vdW</text>
<text x="413.1" y="1841" font-size="28.88" textLength="152.5" lengthAdjust="spacingAndGlyphs" stroke="#000" stroke-width="0.35">interactions</text>
<text x="633.1" y="1810.2" font-size="28.88" textLength="209.5" lengthAdjust="spacingAndGlyphs" stroke="#000" stroke-width="0.35">Repulsion effect</text>
<text x="593.3" y="1841" font-size="28.88" textLength="287.8" lengthAdjust="spacingAndGlyphs" stroke="#000" stroke-width="0.35">(e.g., steric hindrance)</text>
<text x="180.4" y="1900.7" font-size="28.88" textLength="211.8" lengthAdjust="spacingAndGlyphs" stroke="#000" stroke-width="0.35">Prominent weak</text>
<text x="209.8" y="1930.1" font-size="28.88" textLength="153" lengthAdjust="spacingAndGlyphs" stroke="#000" stroke-width="0.35">interactions</text>
<ellipse cx="476.4" cy="1912.1" rx="11.5" ry="4" fill="#000" fill-opacity="0.18"/>
<circle cx="473.9" cy="1901.6" r="11.3" fill="url(#atO)"/>
<text x="501.5" y="1912" font-size="26.78" textLength="19.5" lengthAdjust="spacingAndGlyphs" stroke="#000" stroke-width="0.35">O</text>
<ellipse cx="563.4" cy="1912.1" rx="11.5" ry="4" fill="#000" fill-opacity="0.18"/>
<circle cx="560.9" cy="1901.6" r="11.3" fill="url(#atN)"/>
<text x="589.3" y="1912" font-size="26.78" textLength="17.7" lengthAdjust="spacingAndGlyphs" stroke="#000" stroke-width="0.35">N</text>
<ellipse cx="653.5" cy="1914.4" rx="11.5" ry="4" fill="#000" fill-opacity="0.18"/>
<circle cx="651" cy="1903.9" r="11.3" fill="url(#atF)"/>
<text x="683.5" y="1912" font-size="26.78" textLength="14" lengthAdjust="spacingAndGlyphs" stroke="#000" stroke-width="0.35">F</text>
<ellipse cx="742.2" cy="1912.1" rx="11.5" ry="4" fill="#000" fill-opacity="0.18"/>
<circle cx="739.7" cy="1901.6" r="11.3" fill="url(#atS)"/>
<text x="775" y="1912" font-size="26.78" textLength="15" lengthAdjust="spacingAndGlyphs" stroke="#000" stroke-width="0.35">S</text>
<ellipse cx="834.5" cy="1912.1" rx="11.5" ry="4" fill="#000" fill-opacity="0.18"/>
<circle cx="832" cy="1901.6" r="11.3" fill="url(#atCl)"/>
<text x="864.7" y="1912" font-size="26.78" textLength="17" lengthAdjust="spacingAndGlyphs" stroke="#000" stroke-width="0.35">C</text>
<ellipse cx="921" cy="1914.4" rx="11.5" ry="4" fill="#000" fill-opacity="0.18"/>
<circle cx="918.5" cy="1903.9" r="11.3" fill="url(#atH)"/>
<text x="949.3" y="1912" font-size="26.78" textLength="17.8" lengthAdjust="spacingAndGlyphs" stroke="#000" stroke-width="0.35">H</text>
</g>
<g>
<g clip-path="url(#pmclip)">
<path d="M1141.9 1845.6 L1141.9 1837.81 L1188.9 1837.35 L1212.4 1836.43 L1226.5 1833.22 L1235.9 1829.09 L1245.3 1824.51 L1254.7 1819.01 L1261.75 1812.59 L1266.45 1804.33 L1271.15 1792.87 L1275.85 1776.82 L1280.08 1758.48 L1283.84 1735.56 L1286.19 1698.88 L1288.54 1662.2 L1289.95 1646.15 L1292.3 1639.27 L1297 1643.86 L1302.64 1657.62 L1308.75 1669.08 L1313.45 1685.12 L1319.56 1701.17 L1325.2 1719.51 L1331.31 1737.85 L1337.89 1753.9 L1344 1767.65 L1349.64 1781.41 L1354.34 1796.08 L1360.45 1805.25 L1367.5 1813.5 L1376.9 1821.76 L1386.3 1829.09 L1395.7 1834.6 L1402.75 1838.26 L1408.86 1840.1 L1411.68 1835.51 L1414.03 1827.26 L1415.91 1831.84 L1418.26 1837.35 L1421.08 1842.85 L1423.9 1843.77 L1426.72 1839.18 L1430.01 1832.76 L1433.77 1827.26 L1437.06 1830.93 L1442.7 1829.09 L1449.75 1824.51 L1456.8 1818.09 L1463.85 1810.75 L1470.9 1801.58 L1477.95 1791.5 L1485 1780.49 L1492.05 1769.95 L1498.16 1760.78 L1502.86 1756.19 L1507.56 1753.9 L1511.32 1760.78 L1514.61 1769.95 L1517.9 1776.82 L1522.6 1781.41 L1522.6 1845.6Z" fill="url(#pmgr)" stroke="url(#pmgr)" stroke-width="1.5" stroke-linejoin="round"/>
<path d="M1145.15 1818.71h0M1141.96 1831.17h0M1144.54 1836.5h0M1144.07 1835.75h0M1144.13 1832.3h0M1145.31 1836.75h0" stroke="#3e3ef5" stroke-width="3.4" stroke-linecap="round" fill="none"/>
<path d="M1146.6 1824.51h0M1152.71 1827.26h0M1152.07 1827.12h0M1151.7 1785.48h0M1149.8 1806.86h0M1151.32 1825.75h0M1154.65 1829.64h0M1152.82 1836.74h0M1154.49 1821.2h0M1152.75 1693.09h0M1151.64 1810.67h0M1150.34 1834.49h0M1152.39 1832.63h0M1151.04 1839.55h0M1147.09 1834.27h0M1155.92 1838.71h0M1154.36 1839.58h0" stroke="#3a40f2" stroke-width="3.4" stroke-linecap="round" fill="none"/>
<path d="M1163.05 1803.42h0M1165.4 1819.01h0M1161.86 1815.7h0M1158.93 1838.24h0M1162.46 1829.83h0M1162.51 1796.47h0M1156.06 1805.6h0M1164.91 1828.63h0M1164.68 1822.63h0M1164.95 1829.13h0M1161.66 1833.35h0M1157.85 1830.44h0M1162.48 1833.39h0M1160.79 1836.75h0M1156.27 1837.46h0M1158.44 1834.6h0M1159.9 1834.05h0M1162.79 1823.71h0M1163.32 1831.44h0M1159.76 1832.81h0M1156.05 1835.77h0M1158.45 1838.14h0M1159.95 1836.81h0M1158.26 1840.25h0M1160.54 1833.67h0M1157.58 1839.59h0M1159.47 1837.63h0M1156.61 1837.67h0" stroke="#3741f0" stroke-width="3.4" stroke-linecap="round" fill="none"/>
<path d="M1173.15 1836.39h0M1174.78 1769.34h0M1173.93 1836.28h0M1168.17 1809.21h0M1173.63 1833.34h0M1172.44 1835.24h0M1174.7 1836.72h0M1171.17 1837.34h0M1174.7 1830.59h0M1165.68 1831.97h0M1170.05 1835.51h0M1167.77 1826.38h0M1171.83 1832.92h0M1169.53 1837.42h0M1171.05 1829.67h0M1169.69 1836.88h0M1169.56 1836.26h0M1171.43 1837.94h0" stroke="#3343ed" stroke-width="3.4" stroke-linecap="round" fill="none"/>
<path d="M1179.5 1680.54h0M1181.85 1773.16h0M1179.5 1786.91h0M1179.5 1808h0M1175.98 1830.35h0M1182.08 1819.35h0M1177.18 1836.67h0M1183.24 1831.7h0M1178.56 1837.29h0M1178.66 1836.41h0M1180.44 1831.48h0M1174.91 1840.41h0M1181.33 1838.85h0M1181.17 1829.45h0M1175.04 1834.96h0M1182.3 1832.72h0M1181.56 1837.34h0M1176.7 1826.74h0" stroke="#3044eb" stroke-width="3.4" stroke-linecap="round" fill="none"/>
<path d="M1190.8 1812.39h0M1189.52 1779.42h0M1191.34 1828.26h0M1186.26 1836.19h0M1192.92 1835.3h0M1193.27 1835.43h0M1187.33 1820.33h0M1186.03 1840.33h0M1189.78 1835.56h0M1192.71 1825.83h0M1185.65 1836.61h0M1190.06 1830.85h0M1193.17 1838.41h0M1190.39 1826.71h0M1186.46 1832.98h0" stroke="#2c46e8" stroke-width="3.4" stroke-linecap="round" fill="none"/>
<path d="M1200.65 1797.46h0M1196.8 1810.31h0M1199.02 1836.75h0M1198.02 1805.91h0M1195.93 1803.87h0M1202.36 1819.68h0M1196.99 1832.31h0M1199.91 1830.21h0M1195.72 1836.33h0M1198.1 1836.81h0M1196.61 1836.88h0M1198.49 1832.15h0M1201.03 1836.43h0M1196.13 1839.27h0M1201.79 1836.31h0M1194.7 1838.48h0M1198.48 1836.93h0M1197.54 1836.81h0M1200.26 1834h0" stroke="#284ae0" stroke-width="3.4" stroke-linecap="round" fill="none"/>
<path d="M1207.7 1638.36h0M1206.76 1639.27h0M1205.35 1747.94h0M1205.35 1785.99h0M1209.99 1788.18h0M1204.01 1774.09h0M1203.46 1774.54h0M1209.09 1833.13h0M1210.07 1836.22h0M1204.9 1837.9h0M1207.98 1822.53h0M1205.92 1819.31h0M1206.31 1830.67h0M1206.04 1827.76h0M1205.13 1830.42h0M1204.07 1832.26h0M1208.06 1832.85h0M1207.07 1840.95h0M1207.98 1835.38h0M1205.59 1838.41h0" stroke="#254dd8" stroke-width="3.4" stroke-linecap="round" fill="none"/>
<path d="M1212.4 1543.91h0M1217.1 1636.98h0M1212.4 1727.77h0M1217.1 1794.25h0M1217.1 1805.25h0M1216.86 1837.35h0M1212.59 1808.04h0M1221.05 1764.52h0M1221.55 1832.92h0M1216.71 1828.93h0M1215.81 1827.09h0M1215.11 1835.18h0M1213.08 1835.75h0M1214.55 1824.66h0M1220.15 1837.22h0M1213.31 1830.88h0M1218.88 1827.77h0M1217.15 1828.94h0M1213.43 1831.33h0M1214.12 1835.41h0M1220.59 1817.59h0" stroke="#2250d0" stroke-width="3.4" stroke-linecap="round" fill="none"/>
<path d="M1225.09 1552.16h0M1224.15 1572.79h0M1224.15 1631.02h0M1228.85 1802.04h0M1224.74 1822.31h0M1226.06 1828.63h0M1228.06 1832.44h0M1225.43 1825.92h0M1230.91 1748.64h0M1229.79 1807.7h0M1224.89 1823.25h0M1228.89 1825.91h0M1230.54 1731.61h0M1226.75 1833.91h0M1224.67 1832.52h0M1228.86 1830.69h0M1226.41 1829.67h0M1230.29 1826.4h0M1228.79 1821.33h0M1230.54 1824.04h0M1222.66 1824.09h0M1225.56 1816.36h0M1228.9 1836.88h0M1226.93 1838.23h0M1230.9 1836.93h0M1226.68 1827.16h0M1231.15 1840.12h0M1229.74 1840.51h0" stroke="#1e54c8" stroke-width="3.4" stroke-linecap="round" fill="none"/>
<path d="M1235.9 1603.51h0M1231.2 1635.61h0M1238.25 1674.58h0M1238.25 1760.78h0M1232.73 1799.23h0M1233.42 1823.04h0M1240.3 1818.35h0M1234.26 1805.77h0M1240.1 1784.08h0M1233.98 1731.95h0M1234.97 1730.73h0M1234.99 1733.5h0M1236.92 1725.38h0M1236.36 1778.06h0M1238.64 1782.58h0M1239 1787.28h0M1236.44 1684.74h0M1231.76 1768.76h0M1234.19 1760.61h0M1233.2 1812.74h0M1233.01 1828.67h0M1237.35 1826.73h0M1239.92 1826.3h0M1235.89 1825.36h0M1231.4 1827.18h0M1239.17 1821.13h0M1239.72 1833.77h0M1239.88 1837.7h0M1236.66 1840.54h0M1236.49 1812.14h0M1233.54 1825.43h0M1233.4 1836.92h0" stroke="#1c5bbf" stroke-width="3.4" stroke-linecap="round" fill="none"/>
<path d="M1242.95 1636.07h0M1247.65 1630.11h0M1246.24 1642.94h0M1249.06 1682.83h0M1245.3 1699.8h0M1247.65 1703.46h0M1242.95 1733.27h0M1241.81 1818.61h0M1248.08 1731.35h0M1249.75 1663.89h0M1245.46 1778.4h0M1247.88 1822.47h0M1246.12 1793.18h0M1246.86 1786.52h0M1245.58 1817.5h0M1248.65 1699.5h0M1247.56 1728.07h0M1247.45 1824.02h0M1246.62 1768.08h0M1245.48 1794.85h0M1246.25 1681.18h0M1244.06 1763.64h0M1248.91 1773.68h0M1248.66 1741.87h0M1248.49 1749.63h0M1243.54 1700.1h0M1242.46 1786.21h0M1249.5 1804.82h0M1246.83 1684.33h0M1243.02 1795.2h0M1244.5 1770.97h0M1246.74 1722.49h0M1247.3 1832.67h0M1248.76 1834.1h0M1246.61 1713.82h0M1242.34 1740.55h0M1243.59 1830.1h0M1249.53 1812.53h0M1249.75 1789.28h0M1245.63 1822.76h0M1243.11 1822.71h0M1244.65 1821.72h0M1243.3 1820.92h0M1245.78 1826.22h0M1244.5 1819.48h0M1241.11 1836.32h0M1240.75 1835.75h0M1246.49 1833.34h0M1244.95 1839.82h0" stroke="#1a61b5" stroke-width="3.4" stroke-linecap="round" fill="none"/>
<path d="M1253.2 1668.21h0M1256.21 1830.29h0M1252.13 1754.3h0M1257.49 1696.84h0M1257.3 1822.29h0M1254.39 1691.43h0M1251.41 1831.38h0M1250.41 1834.53h0M1251.67 1807.64h0M1256.61 1758.85h0M1254.44 1761.88h0M1255.72 1698.3h0M1258.31 1702.18h0M1252.59 1681.61h0M1250.95 1814.49h0M1254.79 1672.68h0M1256.4 1755.14h0M1256.21 1678.86h0M1254.91 1750.94h0M1256.8 1799.83h0M1257.17 1735.47h0M1258.16 1729.09h0M1257.46 1765.71h0M1258.84 1759.17h0M1254.83 1813.97h0M1255.15 1815.09h0M1253.41 1745.44h0M1259.25 1794.87h0M1252.14 1716.41h0M1258.96 1682.96h0M1255.97 1702.31h0M1256.43 1791.43h0M1255.45 1663.09h0M1253.26 1827.82h0M1256.79 1669h0M1253.1 1789.88h0M1257.42 1724.69h0M1253.73 1772.18h0M1258.87 1672.34h0M1251.55 1784.9h0M1255.78 1815.94h0M1255.74 1672.38h0M1257.21 1737.24h0M1257.23 1740.51h0M1251.9 1699.67h0M1250.2 1816.8h0M1255.7 1815.09h0M1254.46 1816.09h0M1258.14 1818.64h0M1255 1815.91h0M1255.82 1815.93h0M1258.83 1811.06h0M1254.37 1792.21h0M1255.71 1829.58h0M1252.89 1829.69h0M1254.7 1840.35h0M1254.24 1832.53h0M1257.59 1828.68h0M1256.28 1829.15h0" stroke="#1868ac" stroke-width="3.4" stroke-linecap="round" fill="none"/>
<path d="M1266.3 1671.56h0M1266.74 1752.9h0M1265.08 1812.03h0M1265.2 1720.43h0M1262.07 1766.87h0M1265.58 1724.56h0M1268.37 1704.22h0M1265.98 1670.11h0M1267.3 1670.88h0M1267.48 1810.79h0M1261.49 1707.52h0M1261.57 1746.86h0M1267.31 1651.73h0M1267.66 1717.69h0M1266.71 1713.69h0M1264.34 1710.08h0M1259.42 1820.83h0M1261.72 1797.71h0M1263.18 1679.62h0M1263.26 1735.54h0M1266 1660.01h0M1268.54 1777.36h0M1260.2 1767.91h0M1260.04 1712.35h0M1261.68 1662.78h0M1264.99 1748.1h0M1266.13 1720.72h0M1261.93 1743.64h0M1268.01 1736.44h0M1268.17 1806.23h0M1266.04 1676.56h0M1264.13 1796.21h0M1263.31 1696.18h0M1261.9 1758.27h0M1261.77 1762.83h0M1267.87 1741.26h0M1261.38 1823.65h0M1263.08 1771.3h0M1264.09 1793.65h0M1260.09 1666.74h0M1266.81 1729.64h0M1262.4 1654.12h0M1259.71 1764.48h0M1261.23 1825.84h0M1262.13 1740.55h0M1261.05 1660.53h0M1266.84 1798.24h0M1267.01 1826.66h0M1267.64 1726.7h0M1267.99 1667.82h0M1260.86 1825.46h0M1260.73 1817.95h0M1264.34 1681.64h0M1264.28 1653.9h0M1264.98 1818.45h0M1267.06 1822.14h0M1261.55 1769.99h0M1263.67 1688.82h0M1263.62 1672.02h0M1262.98 1769.94h0M1266.81 1799.88h0M1267.61 1670.45h0M1261.16 1806.82h0M1263.9 1805.52h0M1265.57 1808.47h0M1263.42 1801.38h0M1267.41 1802.17h0M1267.03 1801.45h0M1266.42 1802.22h0M1259.98 1837.79h0M1264.21 1839.92h0M1260.37 1818.84h0M1264.58 1838.06h0M1262.46 1838.37h0M1259.48 1814.92h0M1261.64 1826.57h0M1264.94 1834.64h0M1268.15 1840.83h0M1268.51 1837.59h0M1268.21 1810.22h0" stroke="#15729b" stroke-width="3.4" stroke-linecap="round" fill="none"/>
<path d="M1268.8 1625.52h0M1270 1656.6h0M1275.56 1828.78h0M1269.15 1803.06h0M1274.09 1695.23h0M1269.88 1729.54h0M1278.16 1665.29h0M1270.9 1660.04h0M1272.71 1796.78h0M1275.17 1723.55h0M1274.01 1808.93h0M1271.24 1768.64h0M1269.27 1714.71h0M1274.1 1796.72h0M1269.07 1798.69h0M1275.02 1738.57h0M1271.15 1783.44h0M1277.4 1774.66h0M1272.64 1748.05h0M1276.95 1808.35h0M1270.07 1827.45h0M1270.68 1834.36h0M1270.86 1769.97h0M1275.99 1714.62h0M1269.79 1749.81h0M1276 1693.3h0M1272.3 1677.74h0M1277.34 1678.42h0M1272.66 1687.14h0M1271.48 1684.4h0M1276.78 1733.56h0M1274.95 1693.87h0M1275.79 1792.59h0M1275.77 1709.95h0M1274.74 1823.46h0M1273.53 1655.68h0M1277.26 1765.46h0M1269.65 1753.09h0M1275.84 1709.97h0M1275.66 1789.07h0M1277.07 1691.48h0M1274.65 1753.51h0M1273.44 1702.64h0M1269.61 1706.26h0M1273.84 1737.46h0M1273.23 1800.44h0M1273.01 1736.08h0M1274.43 1691.22h0M1271.96 1833.45h0M1268.8 1722.61h0M1270.85 1834.39h0M1274.51 1706.78h0M1273.25 1645.29h0M1270.52 1764.36h0M1276.54 1685.43h0M1270.09 1746.17h0M1271.87 1718.22h0M1276.97 1717.23h0M1272.45 1709.28h0M1270.83 1728.67h0M1277.45 1777.24h0M1273.77 1788.75h0M1277.16 1742.94h0M1273.33 1750.02h0M1273.22 1721.06h0M1270.01 1649.08h0M1276.44 1819.25h0M1274.87 1742.19h0M1274.65 1677.29h0M1269.09 1787.36h0M1276.97 1706.11h0M1271.73 1692.25h0M1275.34 1663.6h0M1276.63 1724.16h0M1277.42 1681.4h0M1277.33 1820.1h0M1277.53 1652.68h0M1272.19 1777.37h0M1275.47 1651.72h0M1271.06 1727.92h0M1276.71 1669.93h0M1278.11 1823.57h0M1273.25 1820.5h0M1269.33 1794.61h0M1269.65 1796.05h0M1273.46 1776.4h0M1274.56 1776.56h0M1272.02 1783.79h0M1268.86 1789.72h0M1276.45 1772.54h0M1275.68 1782.77h0M1272.24 1786.15h0M1274.14 1769.57h0M1276.3 1770.35h0M1276.29 1771.09h0M1277.81 1750.26h0M1269.6 1820.09h0M1274.59 1828.58h0M1273.55 1819.61h0" stroke="#127d8a" stroke-width="3.4" stroke-linecap="round" fill="none"/>
<path d="M1285.58 1652.4h0M1286.44 1642.95h0M1286.55 1635.64h0M1283.9 1646.02h0M1282.65 1652.59h0M1286.46 1637.78h0M1284.78 1649.27h0M1283.76 1645.25h0M1287.56 1633.49h0M1286.56 1633.59h0M1285.2 1681.88h0M1280.04 1641.03h0M1282.58 1783.5h0M1283.32 1823.93h0M1279.46 1641.66h0M1280.8 1687.51h0M1281.14 1685.87h0M1283.22 1756.14h0M1282.34 1745.83h0M1283.22 1733.65h0M1282.85 1743.47h0M1279.81 1709.59h0M1279.95 1659.36h0M1282.56 1827.89h0M1283.73 1831.3h0M1282.96 1738.97h0M1281.95 1780.54h0M1279.63 1672.59h0M1284.81 1823.07h0M1280.79 1768.14h0M1282.12 1728.25h0M1279.61 1795.74h0M1279.03 1830.83h0M1279.84 1674.02h0M1279.4 1649.69h0M1282.05 1810.36h0M1284.33 1796.06h0M1280.29 1790.24h0M1285.2 1725.58h0M1282.77 1650.33h0M1284.62 1663.06h0M1282.22 1753.65h0M1283.5 1647.75h0M1282.95 1679.96h0M1284.62 1821.73h0M1280.15 1724.38h0M1281.23 1731.21h0M1279.71 1795.12h0M1282.16 1692.4h0M1282.98 1662.16h0M1280.48 1732.13h0M1280.64 1650.82h0M1283.82 1667.47h0M1282.96 1687.28h0M1280.43 1705.77h0M1280.42 1816.4h0M1284.97 1721.61h0M1279.01 1707.7h0M1281.83 1713.89h0M1285.03 1803.73h0M1278.3 1684.79h0M1281.27 1651.32h0M1279.51 1813.14h0M1283.12 1698.45h0M1280.2 1751.2h0M1280.2 1633.75h0M1283.54 1812.85h0M1278.21 1764.29h0M1284.93 1784.47h0M1282.01 1708.47h0M1282.89 1696.9h0M1279.97 1685.31h0M1279.9 1709.93h0M1283.34 1748.66h0M1280.62 1737.69h0M1279.59 1779.15h0M1285.01 1760.1h0M1281.31 1720.4h0M1278.5 1760.48h0M1281.04 1760.45h0M1281.12 1763.42h0M1279.51 1761.88h0M1278.98 1757.97h0M1280.64 1736.02h0M1280.5 1749.82h0M1286.42 1730.94h0M1279.89 1744.49h0M1286 1747.04h0M1282.38 1738.77h0M1282.22 1732.94h0M1280.06 1753.85h0M1282.56 1749.19h0M1285.17 1698.79h0M1285.27 1707.8h0M1285.34 1713.3h0M1283.29 1727.89h0M1283.7 1720.55h0M1284.85 1712.35h0M1284.29 1722.69h0M1283.35 1712.93h0M1284.13 1707.66h0M1279.55 1707.06h0M1286.99 1702.21h0M1281.12 1716.84h0M1283.1 1715.73h0M1285.69 1701.42h0M1285.35 1682.43h0M1285.53 1693.28h0M1286.1 1687.09h0M1286.56 1657.87h0M1284.23 1668.67h0M1286.68 1693.67h0M1287.51 1679.13h0M1286.26 1687.22h0M1285.58 1680.97h0M1282.53 1687.51h0M1281.19 1837.05h0M1282.17 1830.59h0M1279.58 1812.28h0M1281.86 1814.59h0M1281.46 1830.67h0" stroke="#10867c" stroke-width="3.4" stroke-linecap="round" fill="none"/>
<path d="M1292.22 1623.04h0M1292.52 1614.75h0M1292.79 1617.41h0M1289.84 1651.63h0M1290.78 1607.61h0M1289.23 1609.66h0M1287.91 1630.45h0M1291.06 1626.85h0M1295.78 1639.58h0M1288.65 1616.17h0M1288.72 1614.65h0M1287.6 1623.3h0M1296.83 1652.94h0M1291.08 1605.73h0M1296.29 1639.1h0M1291.98 1627.07h0M1296.62 1643.17h0M1293.4 1619.78h0M1289.78 1610h0M1291.71 1638.52h0M1293.49 1652.87h0M1288.15 1636.76h0M1290.34 1613.62h0M1290.19 1637.83h0M1287.69 1619.11h0M1289.51 1606.09h0M1292.3 1616.93h0M1295.31 1652.16h0M1291.32 1635.4h0M1296.99 1644.32h0M1294.05 1643.57h0M1291.58 1608.27h0M1288.7 1636.45h0M1292.9 1627.77h0M1294.29 1647.83h0M1292.11 1614.65h0M1287.89 1648.64h0M1293.62 1623.62h0M1295.48 1636.66h0M1288.79 1626.79h0M1293.61 1619.85h0M1290.48 1605.53h0M1293 1624.44h0M1289.63 1631.09h0M1290.31 1651.45h0M1288.92 1612.67h0M1293 1617.81h0M1292.53 1622.68h0M1289.4 1647.9h0M1295.57 1645.84h0M1289.83 1638.84h0M1290.95 1604.92h0M1290.33 1606.04h0M1292.62 1629.53h0M1288.39 1629.97h0M1295.96 1634.88h0M1290.69 1606.82h0M1288.9 1628.99h0M1288.34 1704.54h0M1288.01 1705.89h0M1287.61 1674.23h0M1288.46 1676.41h0M1290.51 1687.28h0M1287.63 1681.29h0M1289.07 1692.97h0M1290.24 1695.86h0M1288.66 1646.14h0M1292.5 1654.27h0M1289.74 1656.51h0M1291.03 1648.79h0M1290.73 1641.89h0M1289.25 1658.42h0M1288.44 1657.75h0M1294.09 1636.25h0M1288.79 1638.09h0M1292.17 1642h0M1293.44 1638.63h0M1293.4 1635.38h0" stroke="#0f8e70" stroke-width="3.4" stroke-linecap="round" fill="none"/>
<path d="M1297.87 1651.27h0M1297.25 1650.35h0M1299.53 1651.34h0M1300.84 1654.79h0M1301.2 1645.89h0M1298.04 1646.59h0M1300.4 1655.94h0M1302.44 1649.94h0M1304.36 1655.09h0M1302.48 1653.36h0M1303.71 1656.46h0M1299.8 1656.72h0" stroke="#0e9664" stroke-width="3.4" stroke-linecap="round" fill="none"/>
<path d="M1308.23 1654.01h0M1312.56 1673.63h0M1307.06 1670.37h0M1308.65 1670.14h0M1307.55 1677.15h0M1307.38 1679.04h0M1309.78 1669.97h0M1311.79 1675.39h0M1313.57 1688.76h0M1311.55 1685.33h0" stroke="#0f9b5a" stroke-width="3.4" stroke-linecap="round" fill="none"/>
<path d="M1318.93 1692h0M1316.49 1694.43h0M1316.56 1690.62h0M1319.24 1697.47h0M1315.88 1686.49h0M1322.01 1700.21h0M1322.98 1708.85h0M1320.18 1702.98h0M1319.67 1704.23h0M1320.37 1705.3h0M1324.87 1714.05h0M1319.17 1698.47h0M1322.28 1719.93h0" stroke="#0fa050" stroke-width="3.4" stroke-linecap="round" fill="none"/>
<path d="M1325.79 1714.36h0M1328.47 1717.86h0M1332.5 1734.81h0M1331.1 1732.59h0M1331.82 1733.35h0M1326.35 1724.39h0M1328.6 1720.01h0M1329.87 1730.54h0M1333.58 1743.42h0M1332.29 1737.33h0M1334.15 1754.83h0" stroke="#10a546" stroke-width="3.4" stroke-linecap="round" fill="none"/>
<path d="M1336.95 1711.72h0M1335.05 1743.14h0M1336.33 1750.62h0M1337.36 1753.01h0M1336.78 1744.99h0M1334.91 1741.54h0M1343.04 1761.75h0M1337.94 1755.84h0M1339.6 1753.19h0M1342.87 1761.59h0M1342.82 1756.99h0" stroke="#12ac40" stroke-width="3.4" stroke-linecap="round" fill="none"/>
<path d="M1345.99 1772.03h0M1344.88 1766.96h0M1348.89 1777.88h0M1348.55 1766.43h0M1346.33 1767.48h0M1350.76 1779.77h0M1351.46 1782.33h0M1348.81 1780.75h0M1351.31 1778.5h0M1349.04 1778.76h0M1350.44 1780.53h0M1352.83 1793.28h0" stroke="#13b339" stroke-width="3.4" stroke-linecap="round" fill="none"/>
<path d="M1354.34 1728.68h0M1360.45 1747.02h0M1354.82 1783.74h0M1354.13 1785.6h0M1355.67 1794.93h0M1357.16 1800.84h0M1359.87 1801.39h0M1356.56 1798.34h0" stroke="#15ba33" stroke-width="3.4" stroke-linecap="round" fill="none"/>
<path d="M1362.8 1750.23h0M1365.15 1763.07h0M1367.5 1779.12h0M1369.85 1785.99h0M1372.2 1794.25h0M1368.44 1795.16h0M1363.74 1792.87h0M1371.26 1802.04h0M1368.44 1804.33h0M1367.72 1811.51h0M1366.32 1809.69h0M1362.96 1804.02h0M1366.83 1807.9h0M1366.66 1812.84h0M1366.82 1812.09h0M1371.97 1815.75h0M1370.16 1816.53h0" stroke="#15c32d" stroke-width="3.4" stroke-linecap="round" fill="none"/>
<path d="M1373.81 1817.58h0M1379.16 1823.41h0M1374.92 1822.04h0" stroke="#13ce27" stroke-width="3.4" stroke-linecap="round" fill="none"/>
<path d="M1381.66 1822.15h0M1385.34 1826.43h0M1382.09 1823.17h0M1390.05 1829.49h0M1384.25 1823.68h0M1385.5 1829.27h0" stroke="#12d922" stroke-width="3.4" stroke-linecap="round" fill="none"/>
<path d="M1391.41 1827.45h0M1398.43 1835.11h0" stroke="#10e41c" stroke-width="3.4" stroke-linecap="round" fill="none"/>
<path d="M1400.83 1834.9h0M1402.7 1833.58h0M1406.29 1832.97h0M1405.53 1838.48h0M1407.63 1839.35h0" stroke="#0eeb19" stroke-width="3.4" stroke-linecap="round" fill="none"/>
<path d="M1410.94 1838.18h0M1412.51 1829.12h0M1414.59 1833.55h0M1412.75 1828.53h0M1412.74 1828.9h0M1417.5 1822.45h0M1414.46 1828.18h0M1416.03 1828.73h0M1417.13 1835.64h0" stroke="#0cf317" stroke-width="3.4" stroke-linecap="round" fill="none"/>
<path d="M1423.61 1839.78h0M1424.66 1839.83h0M1424.01 1836.8h0" stroke="#0afa14" stroke-width="3.4" stroke-linecap="round" fill="none"/>
<path d="M1428.89 1835.06h0M1429.3 1835.74h0M1433.79 1824.63h0M1434.64 1827.17h0M1432.46 1826.9h0M1436.09 1824.8h0M1433.25 1823.78h0" stroke="#12d915" stroke-width="3.4" stroke-linecap="round" fill="none"/>
<path d="M1442.97 1825.72h0M1438.73 1825.84h0M1444.7 1825.33h0M1446.49 1827.88h0" stroke="#19b714" stroke-width="3.4" stroke-linecap="round" fill="none"/>
<path d="M1448.87 1823.71h0M1452.28 1817.89h0M1449.88 1822.63h0M1456.41 1812.71h0M1454.9 1816.92h0" stroke="#1e9610" stroke-width="3.4" stroke-linecap="round" fill="none"/>
<path d="M1457.37 1818.15h0M1457.7 1818.05h0M1465.03 1808.83h0M1458.21 1809.98h0M1465.78 1803.4h0M1465.91 1808.78h0" stroke="#5e861a" stroke-width="3.4" stroke-linecap="round" fill="none"/>
<path d="M1469.37 1799.93h0M1468.72 1796.1h0M1470.2 1801.83h0M1475.55 1794.71h0M1470.08 1800.67h0M1475.11 1793h0M1473.33 1794.86h0M1474.91 1798.4h0" stroke="#977026" stroke-width="3.4" stroke-linecap="round" fill="none"/>
<path d="M1481.18 1787.13h0M1482.62 1786.14h0M1482.13 1781.63h0M1483.13 1781.94h0M1480.38 1781.7h0" stroke="#c45d2f" stroke-width="3.4" stroke-linecap="round" fill="none"/>
<path d="M1490.44 1775.17h0M1488.67 1767.88h0M1490.31 1772.18h0M1486.73 1777.85h0M1487.57 1773.94h0" stroke="#e84e36" stroke-width="3.4" stroke-linecap="round" fill="none"/>
<path d="M1496.48 1765.09h0M1500.21 1760.88h0M1497.8 1757.47h0M1495.64 1760.6h0M1497.6 1762.78h0M1500.23 1753.53h0M1499.68 1759.25h0M1502.7 1750.46h0" stroke="#f5463a" stroke-width="3.4" stroke-linecap="round" fill="none"/>
<path d="M1505.84 1751.72h0M1507.79 1754.12h0M1509.98 1754.23h0M1506.34 1750h0M1511.91 1758.68h0M1510.61 1759.34h0M1509.44 1760.81h0M1511.16 1770.33h0" stroke="#fd413c" stroke-width="3.4" stroke-linecap="round" fill="none"/>
<path d="M1513.95 1765.65h0M1516.49 1769.43h0M1521.42 1769.15h0M1521.21 1778.27h0M1519.5 1776.76h0" stroke="#fe3f3e" stroke-width="3.4" stroke-linecap="round" fill="none"/>
</g>
<rect x="1141.9" y="1543" width="376.5" height="302.6" fill="none" stroke="#333" stroke-width="1.3"/>
<line x1="1141.9" y1="1845.6" x2="1141.9" y2="1850.6" stroke="#222" stroke-width="1.3" />
<text x="1141.3" y="1877.4" font-size="24.68" text-anchor="middle" textLength="60.3" lengthAdjust="spacingAndGlyphs" stroke="#000" stroke-width="0.35">-0.60</text>
<line x1="1177.15" y1="1845.6" x2="1177.15" y2="1848.4" stroke="#222" stroke-width="1.1" />
<line x1="1212.4" y1="1845.6" x2="1212.4" y2="1850.6" stroke="#222" stroke-width="1.3" />
<text x="1211.8" y="1877.4" font-size="24.68" text-anchor="middle" textLength="60.3" lengthAdjust="spacingAndGlyphs" stroke="#000" stroke-width="0.35">-0.45</text>
<line x1="1247.65" y1="1845.6" x2="1247.65" y2="1848.4" stroke="#222" stroke-width="1.1" />
<line x1="1282.9" y1="1845.6" x2="1282.9" y2="1850.6" stroke="#222" stroke-width="1.3" />
<text x="1282.3" y="1877.4" font-size="24.68" text-anchor="middle" textLength="60.3" lengthAdjust="spacingAndGlyphs" stroke="#000" stroke-width="0.35">-0.30</text>
<line x1="1318.15" y1="1845.6" x2="1318.15" y2="1848.4" stroke="#222" stroke-width="1.1" />
<line x1="1353.4" y1="1845.6" x2="1353.4" y2="1850.6" stroke="#222" stroke-width="1.3" />
<text x="1352.8" y="1877.4" font-size="24.68" text-anchor="middle" textLength="60.3" lengthAdjust="spacingAndGlyphs" stroke="#000" stroke-width="0.35">-0.15</text>
<line x1="1388.65" y1="1845.6" x2="1388.65" y2="1848.4" stroke="#222" stroke-width="1.1" />
<line x1="1423.9" y1="1845.6" x2="1423.9" y2="1850.6" stroke="#222" stroke-width="1.3" />
<text x="1423" y="1877.4" font-size="24.68" text-anchor="middle" textLength="49" lengthAdjust="spacingAndGlyphs" stroke="#000" stroke-width="0.35">0.00</text>
<line x1="1459.15" y1="1845.6" x2="1459.15" y2="1848.4" stroke="#222" stroke-width="1.1" />
<line x1="1494.4" y1="1845.6" x2="1494.4" y2="1850.6" stroke="#222" stroke-width="1.3" />
<text x="1493.5" y="1877.4" font-size="24.68" text-anchor="middle" textLength="49" lengthAdjust="spacingAndGlyphs" stroke="#000" stroke-width="0.35">0.15</text>
<line x1="1141.9" y1="1845.6" x2="1136.9" y2="1845.6" stroke="#222" stroke-width="1.3" />
<text x="1129.5" y="1853.3" font-size="24.15" text-anchor="end" textLength="35.2" lengthAdjust="spacingAndGlyphs" stroke="#000" stroke-width="0.35">0.0</text>
<line x1="1141.9" y1="1822.67" x2="1139.1" y2="1822.67" stroke="#222" stroke-width="1.1" />
<line x1="1141.9" y1="1799.75" x2="1136.9" y2="1799.75" stroke="#222" stroke-width="1.3" />
<text x="1129.5" y="1807.45" font-size="24.15" text-anchor="end" textLength="35.2" lengthAdjust="spacingAndGlyphs" stroke="#000" stroke-width="0.35">0.1</text>
<line x1="1141.9" y1="1776.83" x2="1139.1" y2="1776.83" stroke="#222" stroke-width="1.1" />
<line x1="1141.9" y1="1753.9" x2="1136.9" y2="1753.9" stroke="#222" stroke-width="1.3" />
<text x="1129.5" y="1761.6" font-size="24.15" text-anchor="end" textLength="35.2" lengthAdjust="spacingAndGlyphs" stroke="#000" stroke-width="0.35">0.2</text>
<line x1="1141.9" y1="1730.97" x2="1139.1" y2="1730.97" stroke="#222" stroke-width="1.1" />
<line x1="1141.9" y1="1708.05" x2="1136.9" y2="1708.05" stroke="#222" stroke-width="1.3" />
<text x="1129.5" y="1715.75" font-size="24.15" text-anchor="end" textLength="35.2" lengthAdjust="spacingAndGlyphs" stroke="#000" stroke-width="0.35">0.3</text>
<line x1="1141.9" y1="1685.12" x2="1139.1" y2="1685.12" stroke="#222" stroke-width="1.1" />
<line x1="1141.9" y1="1662.2" x2="1136.9" y2="1662.2" stroke="#222" stroke-width="1.3" />
<text x="1129.5" y="1669.9" font-size="24.15" text-anchor="end" textLength="35.2" lengthAdjust="spacingAndGlyphs" stroke="#000" stroke-width="0.35">0.4</text>
<line x1="1141.9" y1="1639.27" x2="1139.1" y2="1639.27" stroke="#222" stroke-width="1.1" />
<line x1="1141.9" y1="1616.35" x2="1136.9" y2="1616.35" stroke="#222" stroke-width="1.3" />
<text x="1129.5" y="1624.05" font-size="24.15" text-anchor="end" textLength="35.2" lengthAdjust="spacingAndGlyphs" stroke="#000" stroke-width="0.35">0.5</text>
<line x1="1141.9" y1="1593.42" x2="1139.1" y2="1593.42" stroke="#222" stroke-width="1.1" />
<line x1="1141.9" y1="1570.5" x2="1136.9" y2="1570.5" stroke="#222" stroke-width="1.3" />
<text x="1129.5" y="1578.2" font-size="24.15" text-anchor="end" textLength="35.2" lengthAdjust="spacingAndGlyphs" stroke="#000" stroke-width="0.35">0.6</text>
<line x1="1141.9" y1="1547.58" x2="1139.1" y2="1547.58" stroke="#222" stroke-width="1.1" />
<text x="1329.65" y="1918.6" font-size="25.2" text-anchor="middle" textLength="179.5" lengthAdjust="spacingAndGlyphs" stroke="#000" stroke-width="0.35">Sign(<tspan font-style="italic">λ</tspan><tspan dy="6" font-size="15.5">2</tspan><tspan dy="-6">)</tspan><tspan font-style="italic">ρ</tspan> (a.u.)</text>
<text x="1081.6" y="1698.9" font-size="25.2" text-anchor="middle" textLength="96" lengthAdjust="spacingAndGlyphs" stroke="#000" stroke-width="0.35" transform="rotate(-90 1081.6 1698.9)"><tspan font-style="italic">δg</tspan> (a.u.)</text>
<text x="1308.6" y="1576" font-size="30.24" textLength="200.5" lengthAdjust="spacingAndGlyphs" stroke="#000" stroke-width="0.35">PFOS sorption</text>
<text x="1028" y="1568" font-size="57" textLength="53.3" lengthAdjust="spacingAndGlyphs" stroke="#000" stroke-width="1">m</text>
</g>
<g>
<g clip-path="url(#pnclip)">
<path d="M1653.4 1845.6 L1653.4 1837.81 L1691 1836.89 L1719.2 1835.51 L1733.3 1831.84 L1747.4 1826.34 L1756.8 1822.67 L1766.2 1818.09 L1773.25 1812.13 L1777.95 1803.42 L1782.65 1790.58 L1786.88 1772.24 L1790.64 1753.9 L1794.4 1717.22 L1796.28 1680.54 L1798.16 1653.03 L1800.51 1641.57 L1803.8 1636.98 L1807.56 1639.27 L1813.2 1653.03 L1818.84 1657.62 L1823.54 1675.95 L1829.18 1694.29 L1834.82 1712.63 L1841.4 1730.97 L1848.45 1749.31 L1854.56 1763.07 L1860.2 1776.82 L1864.9 1792.87 L1871.01 1804.33 L1879 1813.5 L1888.4 1821.76 L1897.8 1829.09 L1907.2 1834.6 L1914.25 1838.26 L1920.36 1840.1 L1923.18 1836.43 L1925.53 1829.55 L1927.41 1832.76 L1929.76 1838.26 L1932.58 1843.31 L1935.4 1843.77 L1938.22 1840.1 L1941.51 1834.6 L1945.27 1830.01 L1948.56 1831.84 L1954.2 1829.09 L1961.25 1824.51 L1968.3 1818.09 L1975.35 1809.84 L1982.4 1800.67 L1989.45 1790.58 L1996.5 1779.12 L2003.55 1768.57 L2009.66 1760.32 L2015.3 1755.73 L2020.94 1752.52 L2023.76 1758.48 L2027.05 1767.65 L2029.4 1772.24 L2034.1 1776.82 L2034.1 1845.6Z" fill="url(#pngr)" stroke="url(#pngr)" stroke-width="1.5" stroke-linejoin="round"/>
<path d="M1655.75 1822.67h0M1656.08 1835.84h0M1657.61 1828.38h0M1655.93 1785.5h0M1657.83 1836.89h0M1655.73 1837.31h0M1656.23 1837.41h0M1657.3 1840.22h0" stroke="#3e3ef5" stroke-width="3.4" stroke-linecap="round" fill="none"/>
<path d="M1658.1 1829.55h0M1665.76 1835.39h0M1659.44 1821.45h0M1665.12 1806.7h0M1662.74 1771.57h0M1666.18 1834.79h0M1659.31 1834.91h0M1661.9 1834.1h0M1659.62 1837.61h0M1658.72 1836.55h0M1667.37 1835.97h0M1665.31 1834.61h0M1658.31 1836h0M1660.51 1837.64h0M1661.73 1833.71h0M1661.95 1840.02h0M1664.36 1833.52h0M1666.95 1837.84h0M1663.38 1828.47h0M1660.8 1832.6h0M1662.57 1835.86h0M1661.86 1834.57h0M1660.62 1839.6h0M1665.73 1831.35h0M1665.76 1838.68h0M1665.44 1839.86h0M1667.1 1830.97h0M1660.77 1839.49h0M1665.47 1829.71h0" stroke="#3a40f2" stroke-width="3.4" stroke-linecap="round" fill="none"/>
<path d="M1676.9 1790.58h0M1672.2 1815.8h0M1674.55 1824.97h0M1674.15 1819.85h0M1672.7 1826.18h0M1671.48 1720.32h0M1674.3 1836.19h0M1676.74 1835.22h0M1668.74 1773.88h0M1675.41 1802.04h0M1672.12 1819.57h0M1673.13 1835.63h0M1670.66 1835.51h0M1670.85 1835.83h0M1673.3 1841h0M1675.24 1837.19h0M1674.29 1832.82h0M1674.41 1830.36h0M1670.42 1832.8h0M1669.88 1835.93h0M1675.27 1839.21h0M1671.46 1839.21h0M1671.23 1837.8h0M1669.95 1835.69h0M1667.95 1837.69h0M1669.89 1836.7h0M1673.98 1835.5h0M1674.74 1839.02h0M1675.31 1835.63h0M1674.66 1837.61h0M1670.43 1836.13h0M1668.17 1834.13h0" stroke="#3741f0" stroke-width="3.4" stroke-linecap="round" fill="none"/>
<path d="M1677.29 1819.24h0M1684.59 1827.05h0M1681.34 1835.09h0M1680.76 1821.14h0M1685.32 1821.81h0M1678.81 1812.31h0M1685.59 1765.22h0M1686.06 1735.65h0M1685.34 1834.57h0M1681.43 1834.52h0M1678.27 1834.82h0M1679.43 1836.93h0M1680 1840.27h0M1678.79 1840.96h0M1680.08 1837.44h0M1679.49 1825.8h0M1680.28 1837.53h0M1679.75 1837.52h0M1677.95 1830.56h0M1677.4 1823.58h0M1683.03 1834.71h0M1685.1 1824.79h0M1684.48 1832.27h0M1683.91 1827.5h0M1677.12 1829.15h0M1685.06 1839.58h0M1681.71 1840.01h0M1684.16 1836.03h0M1680.94 1840.43h0M1678.61 1835.75h0M1678.28 1837.12h0M1682.03 1834.72h0" stroke="#3343ed" stroke-width="3.4" stroke-linecap="round" fill="none"/>
<path d="M1691 1758.48h0M1693.35 1774.53h0M1691 1806.63h0M1692.21 1836.82h0M1687.39 1835.85h0M1689.16 1823.91h0M1690.45 1767.19h0M1689.34 1812.42h0M1694.17 1789.3h0M1687.95 1824.93h0M1690.29 1822.99h0M1688.61 1835.16h0M1686.33 1835.11h0M1693.25 1831.46h0M1695.27 1836.29h0M1691.35 1831.07h0M1691.09 1831.93h0M1686.66 1825.52h0M1693.08 1826.95h0M1691.47 1837.95h0M1695.34 1825.44h0M1687.33 1835.84h0M1689.29 1836.72h0M1694.64 1826.17h0M1687.96 1834.76h0M1687.69 1828.43h0M1695.42 1836.83h0" stroke="#3044eb" stroke-width="3.4" stroke-linecap="round" fill="none"/>
<path d="M1700.4 1617.27h0M1698.05 1795.16h0M1704.65 1798.1h0M1703.77 1831.7h0M1704.29 1819.56h0M1699.08 1835.98h0M1698.75 1784.31h0M1705.05 1812.83h0M1702.3 1834.53h0M1699.3 1836.15h0M1698.21 1813.56h0M1696.16 1835.55h0M1696.73 1839.13h0M1699.02 1834.23h0M1697.08 1833.13h0M1696.52 1828.1h0M1701.5 1817.05h0M1704.28 1834.89h0M1696.19 1833.05h0M1702.33 1840.78h0M1698.17 1834.32h0M1696.71 1824.49h0" stroke="#2c46e8" stroke-width="3.4" stroke-linecap="round" fill="none"/>
<path d="M1707.45 1728.68h0M1710.7 1834.24h0M1708.82 1796.2h0M1712.37 1758.16h0M1711.62 1696.18h0M1710.58 1832.75h0M1712.17 1784.94h0M1712.85 1782.5h0M1714.15 1813.67h0M1713.49 1814.75h0M1711.72 1834.54h0M1709.58 1832.98h0M1714.25 1829.56h0M1709.9 1835.44h0M1708.58 1835.09h0M1705.16 1834.19h0M1713.64 1834.99h0M1712.17 1831.89h0M1708.48 1836.43h0M1711.04 1840.88h0M1712.26 1840.74h0M1711.07 1825.42h0M1709.2 1810.76h0M1706.53 1833.12h0M1713.21 1835.65h0M1711.34 1840.64h0" stroke="#284ae0" stroke-width="3.4" stroke-linecap="round" fill="none"/>
<path d="M1721.55 1721.8h0M1721.55 1767.65h0M1714.5 1776.82h0M1716.85 1786.91h0M1717.4 1821.03h0M1715.24 1804.05h0M1717.24 1819.68h0M1722.84 1832.27h0M1715.32 1783.57h0M1717.47 1745.36h0M1722.53 1829.98h0M1718.81 1827.66h0M1722.49 1831.03h0M1715.56 1840.49h0M1723.72 1829.68h0M1721.27 1832.08h0M1714.76 1838.76h0M1722.02 1818.07h0M1721.77 1835.47h0M1719.47 1826.72h0M1720.83 1827.21h0M1720.07 1826.18h0M1722.97 1814.25h0M1721.79 1830.97h0M1721.1 1833.35h0" stroke="#254dd8" stroke-width="3.4" stroke-linecap="round" fill="none"/>
<path d="M1726.25 1568.67h0M1728.6 1583.34h0M1723.9 1620.93h0M1723.9 1658.53h0M1723.9 1687.42h0M1733.3 1684.21h0M1723.9 1737.85h0M1730.15 1821.17h0M1724.52 1807.58h0M1727.69 1721.91h0M1727.75 1821.65h0M1728.32 1781.89h0M1731.06 1838.6h0M1729.03 1817.72h0M1727.88 1813.86h0M1730.42 1819.45h0M1729.37 1736.4h0M1732.56 1827.77h0M1727.48 1831.64h0M1726.43 1833.43h0M1730.77 1825.61h0M1726.49 1828.75h0M1726.4 1835.3h0M1728.79 1838.87h0M1732.46 1836.8h0M1724.38 1839.24h0M1730.73 1817.07h0M1730.42 1819.14h0M1729.29 1831.77h0M1729.66 1838.95h0M1728.9 1839.27h0" stroke="#2250d0" stroke-width="3.4" stroke-linecap="round" fill="none"/>
<path d="M1735.65 1548.49h0M1740.35 1569.58h0M1738.94 1589.76h0M1735.65 1728.68h0M1735.65 1783.7h0M1738.05 1810.18h0M1735.53 1823.96h0M1741.6 1831.74h0M1737.46 1813.17h0M1738.13 1799.31h0M1740.42 1743.32h0M1734.37 1825.09h0M1741.37 1766.33h0M1736.82 1812.58h0M1737.39 1802.81h0M1740.51 1810.27h0M1736.6 1728.84h0M1740.11 1738.31h0M1742.21 1812.46h0M1741.74 1827.3h0M1737.06 1827.85h0M1741.69 1825.06h0M1736.81 1829.98h0M1742.2 1836.63h0M1740.72 1817.48h0M1737.59 1837.42h0M1738.38 1840.78h0M1742.53 1838.49h0M1736.27 1836.85h0M1739.11 1835.09h0M1733.94 1818.67h0M1733.31 1830.18h0M1733.85 1829.48h0M1740.52 1838.42h0M1738.3 1839.09h0M1733.48 1834.07h0M1740.33 1826.72h0" stroke="#1e54c8" stroke-width="3.4" stroke-linecap="round" fill="none"/>
<path d="M1742.7 1603.51h0M1749.75 1609.47h0M1747.4 1618.64h0M1752.1 1639.27h0M1749.87 1835.92h0M1742.97 1830h0M1750.78 1819.84h0M1743.7 1829.56h0M1746.74 1816.62h0M1750.97 1819.27h0M1743.23 1706.63h0M1743.57 1794.68h0M1746.03 1774.4h0M1751.87 1751.74h0M1745.91 1749.5h0M1749.69 1772.82h0M1750.61 1772.84h0M1751.15 1780.9h0M1743.38 1827.47h0M1749.52 1826.26h0M1743.52 1827.68h0M1742.71 1829.21h0M1749.21 1824.65h0M1749.25 1824.83h0M1751.88 1835.3h0M1745.31 1838.79h0M1745.63 1835.87h0M1745.31 1828.39h0M1748.03 1831.58h0M1744.93 1838.57h0M1744.87 1838.94h0M1746.19 1828.43h0M1751.91 1834.35h0M1742.88 1838.33h0" stroke="#1c5bbf" stroke-width="3.4" stroke-linecap="round" fill="none"/>
<path d="M1754.45 1560.41h0M1754.45 1595.72h0M1759.15 1636.98h0M1753.38 1743.46h0M1758.34 1824.26h0M1758.73 1823.53h0M1754.32 1742.28h0M1756.26 1836.1h0M1760.53 1741.46h0M1752.94 1774.09h0M1757.67 1802.04h0M1759.53 1791.98h0M1760.77 1730.92h0M1758.54 1715.64h0M1754.06 1740.95h0M1757.15 1716.64h0M1753.73 1832.67h0M1756.59 1680.25h0M1760.17 1725.86h0M1757.68 1764.67h0M1756.6 1797.59h0M1760.61 1821.82h0M1753.23 1786.68h0M1757.49 1810.87h0M1760.74 1766.09h0M1754.21 1832.92h0M1758.43 1693.92h0M1757.23 1823.39h0M1759.12 1724.21h0M1759.41 1682.76h0M1753.46 1743.13h0M1756.57 1804.85h0M1758.11 1684.6h0M1752.38 1778.34h0M1759.28 1810.75h0M1752.5 1834.21h0M1753.83 1719.74h0M1757.1 1820.36h0M1753.78 1823.95h0M1760.9 1820.85h0M1760.56 1829.8h0M1758.95 1836.78h0M1757.21 1834.52h0M1758.89 1840.45h0M1754.92 1824.56h0M1753.94 1834.97h0M1753.01 1831.97h0M1760.38 1840.24h0M1757.85 1833.22h0M1753.97 1841h0M1752.58 1838.52h0" stroke="#1a61b5" stroke-width="3.4" stroke-linecap="round" fill="none"/>
<path d="M1763.85 1609.47h0M1763.62 1829.16h0M1764.31 1768.72h0M1765.68 1678.95h0M1764.69 1812.56h0M1767.99 1779.1h0M1768.63 1793.11h0M1764.63 1806.74h0M1769.05 1741.68h0M1762.42 1763.77h0M1762.99 1807.83h0M1770.08 1726.05h0M1764.66 1802.59h0M1767.25 1698.42h0M1762.96 1822.98h0M1768.51 1822.12h0M1767.74 1801.85h0M1768.99 1695.52h0M1769.88 1773.57h0M1764.53 1736.4h0M1767.88 1732.44h0M1763.22 1681h0M1770.57 1776.17h0M1768.1 1770.37h0M1765.07 1818.22h0M1765.28 1677.11h0M1769.2 1667.95h0M1765.51 1732.9h0M1769.31 1713.82h0M1768.69 1663.49h0M1768.59 1777.84h0M1770.83 1725.7h0M1764.78 1708.32h0M1769.47 1697.44h0M1770.87 1802.18h0M1762.93 1699.75h0M1770.18 1831.82h0M1768.96 1763.81h0M1768.76 1693.53h0M1763.34 1835.24h0M1764.39 1836.32h0M1764.43 1767.6h0M1768.18 1704h0M1768.18 1719.42h0M1764.34 1782.97h0M1761.57 1685.07h0M1765.32 1671.53h0M1764.95 1803.47h0M1764.13 1674.1h0M1763.3 1673.08h0M1769.68 1779.83h0M1765.84 1665.77h0M1764.64 1821.29h0M1770.05 1773.54h0M1766.49 1764.99h0M1770.68 1785.29h0M1767.54 1788.3h0M1770.34 1795.11h0M1769.47 1708.01h0M1766.19 1833.11h0M1764.92 1789.59h0M1767 1740.45h0M1767.77 1665.23h0M1769.9 1720.58h0M1764.71 1667.24h0M1768.52 1682.14h0M1767.31 1775.47h0M1765.08 1706.77h0M1767.59 1803.05h0M1769.85 1761.63h0M1761.96 1707.5h0M1763.69 1808.49h0M1764.2 1818.37h0M1762.57 1817.63h0M1764.18 1816.64h0M1768.32 1813.11h0M1770.65 1809.94h0M1765.66 1835.16h0M1765.87 1814.18h0M1764.59 1839.97h0M1768.45 1818.86h0M1764.38 1840.38h0M1763.25 1815.1h0M1765.27 1830.41h0M1767.77 1840.65h0M1769.13 1840.31h0M1762.28 1839.71h0" stroke="#1868ac" stroke-width="3.4" stroke-linecap="round" fill="none"/>
<path d="M1773.25 1636.98h0M1777.79 1795.83h0M1774.75 1682.91h0M1776.06 1710.83h0M1778.38 1720.2h0M1777.27 1715.12h0M1778.98 1721.9h0M1779.41 1662.98h0M1776.99 1825.81h0M1773.9 1658.71h0M1776.22 1779.15h0M1778.07 1729.18h0M1778.57 1710.5h0M1777.99 1741.59h0M1780.17 1655.9h0M1777.28 1769.78h0M1776.63 1798.37h0M1774.18 1752.5h0M1771.72 1829.54h0M1779.42 1716.19h0M1772.04 1699.67h0M1775.99 1747.74h0M1776.95 1700.23h0M1774.57 1663.5h0M1771.08 1712.37h0M1775.24 1722.18h0M1772.06 1666.07h0M1774.18 1762.93h0M1778.4 1677.54h0M1772.14 1676.7h0M1778.42 1788.4h0M1775.48 1728.12h0M1778.02 1674.42h0M1780.02 1769.14h0M1775.98 1730.9h0M1772.97 1673.09h0M1773.15 1794.77h0M1774.1 1829.55h0M1774.55 1816.39h0M1775.38 1654.22h0M1776.1 1789.11h0M1772.74 1662.23h0M1777.87 1794.34h0M1772.73 1821.97h0M1772.59 1748.34h0M1779.54 1826h0M1779.5 1705.91h0M1772.39 1820.18h0M1772.85 1830.61h0M1771.67 1696.22h0M1774.47 1658.43h0M1776.13 1831.9h0M1780.07 1795.06h0M1773.12 1822.86h0M1775.75 1678.49h0M1777.71 1833.39h0M1773.04 1676.37h0M1774.52 1734.38h0M1780.18 1729.47h0M1771.81 1803.83h0M1772.23 1745.76h0M1775.84 1781.54h0M1773.64 1732.82h0M1776.74 1706.38h0M1779.7 1703.15h0M1779.65 1715.74h0M1778.02 1696.39h0M1773.23 1686.27h0M1771.65 1744.26h0M1774.09 1706.54h0M1771.54 1680.78h0M1773.19 1758.92h0M1774 1796.16h0M1779.06 1692.58h0M1780.24 1707.63h0M1776.14 1829.25h0M1774.11 1823.43h0M1771.33 1803.38h0M1776.32 1826.35h0M1779.74 1711.71h0M1775.83 1775.73h0M1780.07 1750.74h0M1773.11 1718.17h0M1775.74 1760.42h0M1776.49 1676h0M1778.16 1726.86h0M1777.89 1765.4h0M1779.15 1765.84h0M1780.13 1676.19h0M1774.01 1720.33h0M1771.39 1755.83h0M1775.2 1680.44h0M1773.18 1798.83h0M1772.07 1731.29h0M1775.34 1783.11h0M1774.22 1832.68h0M1771.87 1792.76h0M1777.66 1793.31h0M1779.17 1808.59h0M1771.64 1812.51h0M1772.6 1810.29h0M1779.72 1806.3h0M1778.41 1802.68h0M1775 1808.91h0M1774.9 1804.38h0M1779.14 1790.95h0M1777.88 1800.68h0M1777.21 1796.95h0M1776.05 1837.76h0M1772.08 1836.43h0M1771.94 1820.8h0M1777.69 1819.26h0M1778.02 1820.27h0M1779.61 1838.86h0M1776.89 1805.06h0" stroke="#15729b" stroke-width="3.4" stroke-linecap="round" fill="none"/>
<path d="M1785.14 1725.78h0M1785.3 1669.94h0M1782.6 1788.76h0M1787.61 1706.55h0M1789.57 1681.77h0M1782.86 1722.4h0M1789.02 1795.21h0M1787.62 1730.62h0M1780.83 1767.51h0M1788.98 1760.42h0M1782.88 1756.52h0M1782.78 1750.58h0M1783.35 1649.33h0M1784.18 1762.1h0M1787.81 1782.23h0M1785.22 1823.21h0M1785.73 1701.22h0M1788.87 1647.13h0M1786.8 1645h0M1786.21 1648.12h0M1787.8 1801.46h0M1788.57 1808.04h0M1783.84 1713h0M1786.48 1715.84h0M1788.82 1675.76h0M1782.8 1683.07h0M1788.71 1719.97h0M1786.66 1643.97h0M1780.47 1682.6h0M1782.76 1785.13h0M1780.76 1789.37h0M1789.4 1650.45h0M1783.12 1683.37h0M1785.85 1808.2h0M1788.12 1732.43h0M1789.55 1834.24h0M1785.24 1770.71h0M1787.55 1766.84h0M1785.21 1791.94h0M1783.52 1695.04h0M1785.44 1813.82h0M1782.45 1718.64h0M1785.46 1760.63h0M1784.02 1797.35h0M1781.83 1820.02h0M1782.98 1828.33h0M1781.03 1699.09h0M1784.33 1714.14h0M1784.34 1686.23h0M1782.84 1810.81h0M1783.93 1820.15h0M1788.18 1787.1h0M1789.07 1730.7h0M1786.96 1736.5h0M1784.82 1829.99h0M1788.84 1669.56h0M1784.27 1700.12h0M1780.6 1727.65h0M1783.2 1818.47h0M1787.23 1735.06h0M1783.06 1824.72h0M1783.5 1728.79h0M1781.85 1690.26h0M1786.65 1729.55h0M1788.04 1658.2h0M1787.87 1662.87h0M1786.04 1714.35h0M1783.29 1691.01h0M1787.1 1768.48h0M1784.23 1776.84h0M1785.96 1675.29h0M1784.95 1716.13h0M1787.84 1756.55h0M1788.7 1760.24h0M1789.66 1813.08h0M1781.24 1693.57h0M1782.91 1832.81h0M1784.67 1790.76h0M1785.35 1669.91h0M1780.92 1799.02h0M1781.31 1645.82h0M1782.72 1770.5h0M1785.69 1763.19h0M1782.85 1711.31h0M1782.13 1759.3h0M1785.84 1822.79h0M1781.59 1791.84h0M1781.62 1650.28h0M1784.31 1675.06h0M1784.7 1819.25h0M1780.97 1833.42h0M1784.43 1662.38h0M1787.91 1758.05h0M1787.56 1768.09h0M1787.43 1809.56h0M1789.08 1821.67h0M1788.78 1655.74h0M1787.97 1684.83h0M1784.43 1727.19h0M1780.79 1823.45h0M1785.97 1700.54h0M1782 1743.84h0M1784.75 1643.2h0M1780.95 1760.91h0M1786.09 1701.67h0M1780.32 1814.29h0M1784.47 1678.68h0M1789.7 1778.71h0M1780.39 1771.92h0M1784.22 1715.69h0M1787.83 1785.51h0M1780.67 1806.73h0M1785.76 1710.07h0M1783.54 1699.79h0M1781.92 1787.31h0M1782.32 1789.44h0M1781.08 1786.6h0M1786.22 1780.87h0M1783.29 1773.97h0M1784.27 1774.52h0M1784.72 1775h0M1781.93 1783.72h0M1783.97 1782.53h0M1783.38 1788.22h0M1786.09 1783.12h0M1788.67 1748.64h0M1785.52 1759.44h0M1788.93 1753.7h0M1788.83 1760.06h0M1789.59 1748.66h0M1783.07 1837.26h0M1782.48 1839.8h0M1781.41 1833.5h0M1787.63 1839.55h0M1787.89 1833.99h0M1784.07 1829.79h0M1789.38 1829.28h0M1781.98 1834.23h0M1789.38 1814.77h0" stroke="#127d8a" stroke-width="3.4" stroke-linecap="round" fill="none"/>
<path d="M1798.81 1651.25h0M1798.59 1621.45h0M1795.23 1642.66h0M1797.43 1648.6h0M1796.1 1634.66h0M1796.82 1641.41h0M1798.99 1614.73h0M1797.56 1627.03h0M1793.43 1644.19h0M1793.37 1652.27h0M1797.59 1625.21h0M1797.94 1627.78h0M1797.87 1626.62h0M1798.58 1651.16h0M1798.43 1619.29h0M1796.46 1628.01h0M1797.64 1634.14h0M1798.97 1633.69h0M1798.39 1623.96h0M1792.89 1652.51h0M1796.34 1637.59h0M1797.51 1628.55h0M1797.75 1622.71h0M1793.3 1648.71h0M1797.68 1630h0M1797.45 1625.6h0M1795.01 1652.46h0M1796.1 1817.87h0M1792.74 1733.73h0M1793.98 1745.42h0M1793.12 1671.1h0M1793.17 1806.4h0M1794.21 1647.81h0M1792.88 1686.72h0M1789.86 1664.18h0M1795 1771.87h0M1790.1 1828.48h0M1790.35 1728.57h0M1789.95 1772.94h0M1792.24 1749.33h0M1792.7 1823.62h0M1791.77 1685.91h0M1789.93 1718.17h0M1791.64 1731.94h0M1793.6 1739.24h0M1796.71 1725.32h0M1795.5 1775.13h0M1791.9 1675.67h0M1795.6 1718.08h0M1791.04 1650.04h0M1795.37 1630.53h0M1795.72 1665.93h0M1795.05 1699.2h0M1796.54 1667.38h0M1796.72 1677.73h0M1792.78 1661.97h0M1792.68 1645.99h0M1796.41 1815.74h0M1796.43 1651.7h0M1794.19 1781.71h0M1794.84 1675.26h0M1792.41 1708.67h0M1793.75 1736.63h0M1794.95 1710.24h0M1794.43 1785.72h0M1795.34 1681.69h0M1794.32 1724.38h0M1792.26 1759.95h0M1790.57 1772.88h0M1793.73 1823.75h0M1796.36 1683.45h0M1791.15 1680.03h0M1791.18 1669.41h0M1792.28 1739.1h0M1791.32 1689.1h0M1794.72 1746.6h0M1793.85 1794.15h0M1796.51 1655.67h0M1789.93 1653.06h0M1792.7 1835.81h0M1790.36 1664.7h0M1796.14 1826.86h0M1791.61 1676.81h0M1793.93 1650.16h0M1792.75 1813.9h0M1789.76 1782.87h0M1793.6 1756.7h0M1791.64 1688.27h0M1795.21 1782.73h0M1792.86 1763.26h0M1793.84 1671.22h0M1792.43 1829.07h0M1792.04 1790.9h0M1790.32 1769.63h0M1791.96 1780.96h0M1791.88 1720.11h0M1790.03 1754.35h0M1795.06 1810.92h0M1793.22 1695.06h0M1793.29 1747.68h0M1793.4 1631.41h0M1793.52 1649.94h0M1794.28 1805.43h0M1790.06 1645.21h0M1790.03 1636.22h0M1796.74 1689.34h0M1794.25 1831.97h0M1794.52 1787.87h0M1794.34 1698.98h0M1794.89 1781.29h0M1793.74 1717.54h0M1794.29 1745.87h0M1796.03 1728.97h0M1792.73 1702.71h0M1789.71 1764.28h0M1794.29 1758.53h0M1792.49 1745.18h0M1792.16 1736.29h0M1793.14 1744.67h0M1795.3 1650.99h0M1790.8 1654.47h0M1790.98 1677.82h0M1794.69 1739.46h0M1789.98 1766.64h0M1793.77 1788.83h0M1791.35 1647.67h0M1793.69 1716.21h0M1796.49 1781.03h0M1789.92 1790.18h0M1794.69 1633.12h0M1794.08 1631.16h0M1792.7 1809.84h0M1795.32 1769.7h0M1796.24 1779.02h0M1792.06 1647.42h0M1790.09 1743.37h0M1793.36 1725.06h0M1793.35 1779.89h0M1796.55 1672.92h0M1793.97 1762.84h0M1790 1672.61h0M1796.71 1816.38h0M1791.92 1793.38h0M1791.37 1768.93h0M1793.12 1747.18h0M1795.05 1647.93h0M1790.75 1803.76h0M1794.31 1818.83h0M1794.24 1708.4h0M1792.61 1758.76h0M1791.97 1770.66h0M1791.76 1757.43h0M1792.89 1752.61h0M1791.99 1721.23h0M1791.13 1736.11h0M1791.67 1740.2h0M1795 1731.3h0M1791.69 1748.47h0M1796.69 1725.63h0M1791.63 1722.36h0M1796.28 1732.64h0M1795.7 1719.86h0M1792.31 1736.6h0M1793.76 1715.65h0M1791.88 1741.46h0M1791.91 1733.11h0M1799.04 1717.46h0M1795.07 1729.25h0M1793.76 1682.88h0M1795.39 1689.83h0M1797.67 1709.74h0M1795.64 1715.15h0M1795.06 1679.04h0M1794.63 1702.9h0M1794.27 1699.78h0M1792.51 1678.87h0M1797.79 1679.45h0M1793.9 1707.17h0M1793.69 1707.84h0M1795.96 1703.09h0M1794.71 1680.57h0M1796.01 1712.74h0M1794.66 1695.32h0M1795.08 1687.75h0M1796.37 1653.14h0M1797.06 1666.42h0M1797.57 1665.69h0M1798.17 1668.44h0M1794.69 1678.47h0M1796.89 1654.38h0M1798.84 1658.92h0M1795 1657.3h0M1798.2 1661.85h0M1797.65 1644.74h0M1798.7 1643.48h0M1797.27 1646.6h0M1792.4 1834.07h0M1791.79 1825.69h0M1791.38 1820.29h0M1792.73 1838.61h0M1792.17 1810.62h0M1793.92 1835.36h0M1792.9 1820.61h0" stroke="#10867c" stroke-width="3.4" stroke-linecap="round" fill="none"/>
<path d="M1799.56 1632.86h0M1806.99 1647h0M1801.03 1652.75h0M1799.23 1613.9h0M1802.11 1628.89h0M1800.63 1622.39h0M1805.42 1630.98h0M1803.48 1627.31h0M1804.04 1636.32h0M1802.73 1623.66h0M1805.34 1640.78h0M1806.93 1644.34h0M1800.88 1636.53h0M1799.61 1652.01h0M1799.41 1613.55h0M1804.66 1627.82h0M1801.67 1649.39h0M1805.45 1631.39h0M1799.77 1634.73h0M1805.02 1626.51h0M1801.96 1650.67h0M1808.06 1641.34h0M1800.01 1609.56h0M1804.26 1622.3h0M1802.63 1642.72h0M1801.68 1623.67h0M1805.72 1637.91h0M1800.53 1627.59h0M1806.88 1635.51h0M1799.99 1618.21h0M1803.21 1649.16h0M1805.8 1648.54h0M1806.09 1651.92h0M1800.96 1617.86h0M1799.17 1622.13h0M1800.47 1620.9h0M1807.89 1642.97h0M1799.43 1635.57h0M1800.35 1615.57h0M1799.76 1616.3h0M1808.05 1645.51h0M1801.27 1610.08h0M1799.28 1643.94h0M1805.08 1626.39h0M1801.94 1649.26h0M1803.29 1633.37h0M1800.24 1619.74h0M1799.54 1614.39h0M1802.91 1621.87h0M1800.96 1614.69h0M1799.29 1619.05h0M1801.65 1633.14h0M1799.29 1667.45h0M1799.39 1652.41h0M1800.34 1653.08h0M1799.62 1641.75h0M1799.83 1643.75h0M1803.27 1634.3h0M1800.51 1632.83h0M1808.48 1636.65h0M1804.51 1636.62h0M1806.22 1640.54h0M1806.59 1636.53h0" stroke="#0f8e70" stroke-width="3.4" stroke-linecap="round" fill="none"/>
<path d="M1809.44 1650.83h0M1809.16 1643.83h0M1814.22 1645.9h0M1810.51 1644.57h0M1814.64 1650.12h0M1814.09 1653.22h0M1815.76 1654.26h0M1817.29 1658.38h0" stroke="#0e9664" stroke-width="3.4" stroke-linecap="round" fill="none"/>
<path d="M1818.13 1655.5h0M1822.81 1668.18h0M1818.95 1660.42h0M1823.51 1662.54h0M1821.99 1661.88h0M1819.22 1659.15h0M1819.89 1655.33h0M1818.62 1664.81h0M1825.82 1668.21h0M1824.91 1679h0M1824.89 1687.37h0M1826.85 1683.28h0M1824.66 1682.45h0M1822.11 1679.1h0" stroke="#0f9b5a" stroke-width="3.4" stroke-linecap="round" fill="none"/>
<path d="M1830.59 1691.13h0M1827.84 1684.21h0M1829.43 1698.65h0M1835.41 1701.41h0M1830.58 1699.22h0M1834.67 1710.03h0M1830.58 1701.11h0M1833.77 1703.76h0M1833.63 1710.79h0M1834.34 1704.38h0M1835.98 1716.1h0M1835.68 1717.79h0M1835.25 1723.35h0" stroke="#0fa050" stroke-width="3.4" stroke-linecap="round" fill="none"/>
<path d="M1838.99 1721.86h0M1838.1 1717.9h0M1837 1719.99h0M1839.51 1715.29h0M1838.35 1722.62h0M1842.7 1733.15h0M1844.9 1733.8h0M1845.98 1747.42h0M1841.97 1737.08h0M1846.03 1743.02h0M1843.52 1739h0M1843.14 1732.5h0" stroke="#10a546" stroke-width="3.4" stroke-linecap="round" fill="none"/>
<path d="M1847.84 1741.49h0M1848.09 1746.6h0M1852.11 1754.07h0M1850.4 1753.29h0M1849.79 1751.31h0M1853.14 1754.35h0M1849.1 1756.4h0M1855.03 1768.76h0" stroke="#12ac40" stroke-width="3.4" stroke-linecap="round" fill="none"/>
<path d="M1857.5 1773.59h0M1859.44 1769.87h0M1858.02 1770.84h0M1859.99 1774.37h0M1858.57 1768.46h0M1858.07 1775.53h0M1864.2 1788.11h0M1862.05 1781.25h0M1864.01 1792.21h0" stroke="#13b339" stroke-width="3.4" stroke-linecap="round" fill="none"/>
<path d="M1865.11 1785.74h0M1865.67 1788.05h0M1865.68 1789.52h0M1865.74 1785.21h0M1871 1800.98h0M1872.98 1803.41h0M1868.13 1790.21h0M1869.32 1795.72h0M1870.13 1804.96h0M1870.65 1805.05h0M1874.02 1807.96h0" stroke="#15ba33" stroke-width="3.4" stroke-linecap="round" fill="none"/>
<path d="M1878.59 1810.47h0M1875.68 1804.03h0M1883.57 1817.74h0M1879.44 1814.64h0" stroke="#15c32d" stroke-width="3.4" stroke-linecap="round" fill="none"/>
<path d="M1885.74 1818.39h0M1889.03 1818.52h0M1885.3 1811.44h0M1891.56 1821.6h0" stroke="#13ce27" stroke-width="3.4" stroke-linecap="round" fill="none"/>
<path d="M1898.93 1821.05h0M1893.96 1825.72h0M1897.61 1824.4h0M1894.35 1824.58h0M1899.05 1829.8h0M1901.44 1828.5h0M1902.3 1830.79h0" stroke="#12d922" stroke-width="3.4" stroke-linecap="round" fill="none"/>
<path d="M1902.68 1831.58h0M1907.54 1830.55h0M1911.44 1832.23h0M1906.61 1834.61h0" stroke="#10e41c" stroke-width="3.4" stroke-linecap="round" fill="none"/>
<path d="M1918.71 1833.99h0M1916.89 1835.15h0M1920.67 1837.08h0" stroke="#0eeb19" stroke-width="3.4" stroke-linecap="round" fill="none"/>
<path d="M1923.15 1836.18h0M1924.22 1831.38h0M1923.94 1832.77h0M1923.7 1832.87h0M1924.98 1829.44h0M1925.36 1832.59h0" stroke="#0cf317" stroke-width="3.4" stroke-linecap="round" fill="none"/>
<path d="M1931.07 1834.28h0M1931.73 1839.27h0M1937.45 1837.36h0M1937.48 1838.67h0M1938.33 1836.28h0" stroke="#0afa14" stroke-width="3.4" stroke-linecap="round" fill="none"/>
<path d="M1942.3 1833.44h0M1943.14 1827.14h0M1943.02 1830.25h0" stroke="#12d915" stroke-width="3.4" stroke-linecap="round" fill="none"/>
<path d="M1949.69 1824.94h0M1950.69 1826.69h0M1950.46 1830.53h0M1958.34 1825.34h0M1954.97 1824.58h0" stroke="#19b714" stroke-width="3.4" stroke-linecap="round" fill="none"/>
<path d="M1960.51 1824.72h0M1958.95 1821.9h0M1964.32 1815.91h0M1962.65 1823.4h0M1963.18 1820.9h0" stroke="#1e9610" stroke-width="3.4" stroke-linecap="round" fill="none"/>
<path d="M1974.28 1804.88h0M1973.47 1806.2h0M1973 1808.49h0M1975.98 1809.64h0M1977 1803.73h0" stroke="#5e861a" stroke-width="3.4" stroke-linecap="round" fill="none"/>
<path d="M1978.44 1807.64h0M1980.76 1798.71h0M1978.1 1804.79h0M1981.87 1800.21h0M1983.17 1796.14h0M1984.29 1795.46h0M1982.57 1798.24h0M1985.11 1793.57h0" stroke="#977026" stroke-width="3.4" stroke-linecap="round" fill="none"/>
<path d="M1992.54 1792.08h0M1993.97 1773.76h0M1990.94 1784.66h0M1990.62 1780.02h0M1993.06 1785.6h0M1993.57 1779.09h0M1995.55 1774.18h0M1994.79 1775.35h0" stroke="#c45d2f" stroke-width="3.4" stroke-linecap="round" fill="none"/>
<path d="M1999.27 1775.02h0M1997.85 1768.59h0M1999.27 1770.9h0M2004.08 1768.05h0M2003.71 1762.01h0M2000.96 1765.58h0M2004.65 1764.64h0" stroke="#e84e36" stroke-width="3.4" stroke-linecap="round" fill="none"/>
<path d="M2007.12 1764.87h0M2014.12 1756.88h0M2009.44 1754.63h0M2015.16 1752.73h0" stroke="#f5463a" stroke-width="3.4" stroke-linecap="round" fill="none"/>
<path d="M2015.76 1754.97h0M2017.66 1754.42h0M2023.2 1756.87h0" stroke="#fd413c" stroke-width="3.4" stroke-linecap="round" fill="none"/>
<path d="M2027.21 1752.52h0M2024.84 1753.08h0M2026.63 1757.53h0M2024.92 1760.54h0M2026.24 1754.99h0M2027.41 1768.17h0M2028.87 1762.37h0M2033.85 1771.55h0M2032.03 1774.44h0" stroke="#fe3f3e" stroke-width="3.4" stroke-linecap="round" fill="none"/>
</g>
<rect x="1653.4" y="1543" width="376.2" height="302.6" fill="none" stroke="#333" stroke-width="1.3"/>
<line x1="1653.4" y1="1845.6" x2="1653.4" y2="1850.6" stroke="#222" stroke-width="1.3" />
<text x="1652.8" y="1877.4" font-size="24.68" text-anchor="middle" textLength="60.3" lengthAdjust="spacingAndGlyphs" stroke="#000" stroke-width="0.35">-0.60</text>
<line x1="1688.65" y1="1845.6" x2="1688.65" y2="1848.4" stroke="#222" stroke-width="1.1" />
<line x1="1723.9" y1="1845.6" x2="1723.9" y2="1850.6" stroke="#222" stroke-width="1.3" />
<text x="1723.3" y="1877.4" font-size="24.68" text-anchor="middle" textLength="60.3" lengthAdjust="spacingAndGlyphs" stroke="#000" stroke-width="0.35">-0.45</text>
<line x1="1759.15" y1="1845.6" x2="1759.15" y2="1848.4" stroke="#222" stroke-width="1.1" />
<line x1="1794.4" y1="1845.6" x2="1794.4" y2="1850.6" stroke="#222" stroke-width="1.3" />
<text x="1793.8" y="1877.4" font-size="24.68" text-anchor="middle" textLength="60.3" lengthAdjust="spacingAndGlyphs" stroke="#000" stroke-width="0.35">-0.30</text>
<line x1="1829.65" y1="1845.6" x2="1829.65" y2="1848.4" stroke="#222" stroke-width="1.1" />
<line x1="1864.9" y1="1845.6" x2="1864.9" y2="1850.6" stroke="#222" stroke-width="1.3" />
<text x="1864.3" y="1877.4" font-size="24.68" text-anchor="middle" textLength="60.3" lengthAdjust="spacingAndGlyphs" stroke="#000" stroke-width="0.35">-0.15</text>
<line x1="1900.15" y1="1845.6" x2="1900.15" y2="1848.4" stroke="#222" stroke-width="1.1" />
<line x1="1935.4" y1="1845.6" x2="1935.4" y2="1850.6" stroke="#222" stroke-width="1.3" />
<text x="1934.5" y="1877.4" font-size="24.68" text-anchor="middle" textLength="49" lengthAdjust="spacingAndGlyphs" stroke="#000" stroke-width="0.35">0.00</text>
<line x1="1970.65" y1="1845.6" x2="1970.65" y2="1848.4" stroke="#222" stroke-width="1.1" />
<line x1="2005.9" y1="1845.6" x2="2005.9" y2="1850.6" stroke="#222" stroke-width="1.3" />
<text x="2005" y="1877.4" font-size="24.68" text-anchor="middle" textLength="49" lengthAdjust="spacingAndGlyphs" stroke="#000" stroke-width="0.35">0.15</text>
<line x1="1653.4" y1="1845.6" x2="1648.4" y2="1845.6" stroke="#222" stroke-width="1.3" />
<text x="1641" y="1853.3" font-size="24.15" text-anchor="end" textLength="35.2" lengthAdjust="spacingAndGlyphs" stroke="#000" stroke-width="0.35">0.0</text>
<line x1="1653.4" y1="1822.67" x2="1650.6" y2="1822.67" stroke="#222" stroke-width="1.1" />
<line x1="1653.4" y1="1799.75" x2="1648.4" y2="1799.75" stroke="#222" stroke-width="1.3" />
<text x="1641" y="1807.45" font-size="24.15" text-anchor="end" textLength="35.2" lengthAdjust="spacingAndGlyphs" stroke="#000" stroke-width="0.35">0.1</text>
<line x1="1653.4" y1="1776.83" x2="1650.6" y2="1776.83" stroke="#222" stroke-width="1.1" />
<line x1="1653.4" y1="1753.9" x2="1648.4" y2="1753.9" stroke="#222" stroke-width="1.3" />
<text x="1641" y="1761.6" font-size="24.15" text-anchor="end" textLength="35.2" lengthAdjust="spacingAndGlyphs" stroke="#000" stroke-width="0.35">0.2</text>
<line x1="1653.4" y1="1730.97" x2="1650.6" y2="1730.97" stroke="#222" stroke-width="1.1" />
<line x1="1653.4" y1="1708.05" x2="1648.4" y2="1708.05" stroke="#222" stroke-width="1.3" />
<text x="1641" y="1715.75" font-size="24.15" text-anchor="end" textLength="35.2" lengthAdjust="spacingAndGlyphs" stroke="#000" stroke-width="0.35">0.3</text>
<line x1="1653.4" y1="1685.12" x2="1650.6" y2="1685.12" stroke="#222" stroke-width="1.1" />
<line x1="1653.4" y1="1662.2" x2="1648.4" y2="1662.2" stroke="#222" stroke-width="1.3" />
<text x="1641" y="1669.9" font-size="24.15" text-anchor="end" textLength="35.2" lengthAdjust="spacingAndGlyphs" stroke="#000" stroke-width="0.35">0.4</text>
<line x1="1653.4" y1="1639.27" x2="1650.6" y2="1639.27" stroke="#222" stroke-width="1.1" />
<line x1="1653.4" y1="1616.35" x2="1648.4" y2="1616.35" stroke="#222" stroke-width="1.3" />
<text x="1641" y="1624.05" font-size="24.15" text-anchor="end" textLength="35.2" lengthAdjust="spacingAndGlyphs" stroke="#000" stroke-width="0.35">0.5</text>
<line x1="1653.4" y1="1593.42" x2="1650.6" y2="1593.42" stroke="#222" stroke-width="1.1" />
<line x1="1653.4" y1="1570.5" x2="1648.4" y2="1570.5" stroke="#222" stroke-width="1.3" />
<text x="1641" y="1578.2" font-size="24.15" text-anchor="end" textLength="35.2" lengthAdjust="spacingAndGlyphs" stroke="#000" stroke-width="0.35">0.6</text>
<line x1="1653.4" y1="1547.58" x2="1650.6" y2="1547.58" stroke="#222" stroke-width="1.1" />
<text x="1841" y="1912.2" font-size="25.2" text-anchor="middle" textLength="179.5" lengthAdjust="spacingAndGlyphs" stroke="#000" stroke-width="0.35">Sign(<tspan font-style="italic">λ</tspan><tspan dy="6" font-size="15.5">2</tspan><tspan dy="-6">)</tspan><tspan font-style="italic">ρ</tspan> (a.u.)</text>
<text x="1593.1" y="1698.9" font-size="25.2" text-anchor="middle" textLength="96" lengthAdjust="spacingAndGlyphs" stroke="#000" stroke-width="0.35" transform="rotate(-90 1593.1 1698.9)"><tspan font-style="italic">δg</tspan> (a.u.)</text>
<text x="1822.7" y="1576" font-size="30.24" textLength="203.7" lengthAdjust="spacingAndGlyphs" stroke="#000" stroke-width="0.35">PFOA sorption</text>
<text x="1544.5" y="1568" font-size="57" textLength="35.8" lengthAdjust="spacingAndGlyphs" stroke="#000" stroke-width="1">n</text>
</g>
</svg>
</body></html>
